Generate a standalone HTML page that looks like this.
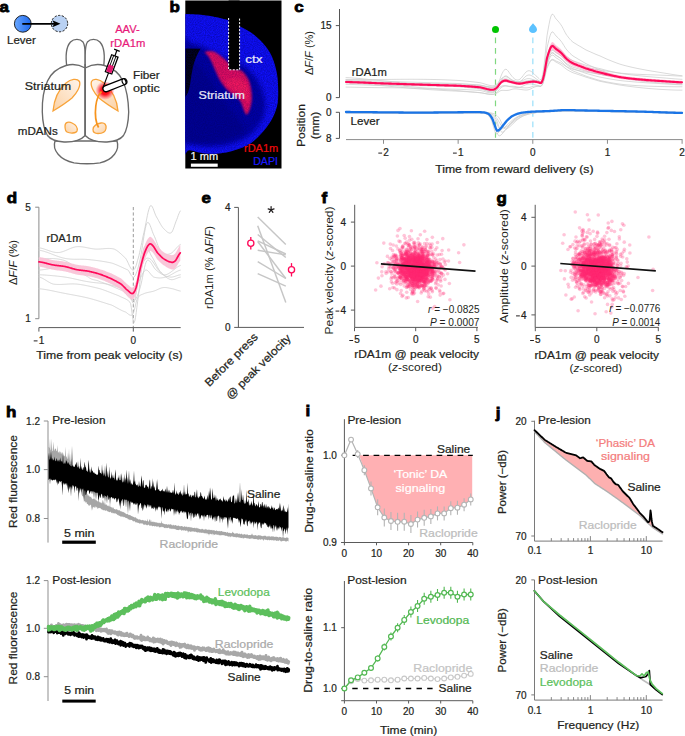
<!DOCTYPE html><html><head><meta charset="utf-8"><style>html,body{margin:0;padding:0;background:#fff;overflow:hidden;width:685px;height:736px;}svg{display:block;}text{font-family:"Liberation Sans", sans-serif;}</style></head><body>
<svg width="685" height="736" viewBox="0 0 685 736">
<defs>
<linearGradient id="lev" x1="0" y1="0" x2="1" y2="0"><stop offset="0" stop-color="#6aa8ff"/><stop offset="1" stop-color="#1d68ee"/></linearGradient>
<linearGradient id="str" x1="0" y1="1" x2="1" y2="0"><stop offset="0" stop-color="#fbd2a6"/><stop offset="1" stop-color="#fff4ea"/></linearGradient>
<linearGradient id="strR" x1="1" y1="1" x2="0" y2="0"><stop offset="0" stop-color="#fbd2a6"/><stop offset="1" stop-color="#fff4ea"/></linearGradient>
<radialGradient id="glow"><stop offset="0" stop-color="#ff0000" stop-opacity="1"/><stop offset="0.45" stop-color="#ff0010" stop-opacity="0.9"/><stop offset="1" stop-color="#ff2040" stop-opacity="0"/></radialGradient>
<filter id="blur1" x="-20%" y="-20%" width="140%" height="140%"><feGaussianBlur stdDeviation="1.2"/></filter>
<filter id="blur2" x="-30%" y="-30%" width="160%" height="160%"><feGaussianBlur stdDeviation="2.5"/></filter>
<filter id="tex" x="0" y="0" width="100%" height="100%"><feTurbulence type="fractalNoise" baseFrequency="0.9" numOctaves="2" seed="3" result="n"/><feColorMatrix in="n" type="matrix" values="0 0 0 0 0  0 0 0 0 0  0 0 0 0 0  0 0 0 -1.6 1.25" result="m"/><feComposite in="SourceGraphic" in2="m" operator="in"/></filter>
<clipPath id="clipb"><rect x="185.3" y="0" width="96.2" height="168.5"/></clipPath>
</defs>
<rect width="685" height="736" fill="#fff"/>
<text x="-0.5" y="12.4" font-size="15.4" fill="#000" textLength="9.42" lengthAdjust="spacingAndGlyphs" font-weight="bold" stroke="#000" stroke-width="0.8">a</text>
<circle cx="59.5" cy="23.6" r="8.2" fill="#b9d1f3" stroke="#111" stroke-width="1" stroke-dasharray="2.2 1.5"/>
<circle cx="22.8" cy="23.8" r="8.4" fill="url(#lev)" stroke="#111" stroke-width="0.9"/>
<line x1="22.3" y1="23.8" x2="55" y2="23.8" stroke="#000" stroke-width="1.7" />
<polygon points="52.3,20.3 60.5,23.8 52.3,27.3 54.2,23.8" fill="#000"/>
<text x="7" y="44.2" font-size="11.2" fill="#231f20" stroke="#231f20" stroke-width="0.22" textLength="28.8" lengthAdjust="spacingAndGlyphs" >Lever</text>
<path d="M55,141 C52,150 60,160 74,162.8 C82,164 92,164 100,162.8 C113,160 120,150 117,141 Z" fill="#fff" stroke="#6a6a6a" stroke-width="1.35"/>
<path d="M67,68 C65.5,58 66,47 70.5,42 C74,38.5 80,38.5 83,42 C85,45 85.2,50 85.2,56 L85.2,68 Z" fill="#fff" stroke="#6a6a6a" stroke-width="1.35"/>
<path d="M103.4,68 C104.9,58 104.4,47 99.9,42 C96.4,38.5 90.4,38.5 87.4,42 C85.4,45 85.2,50 85.2,56 L85.2,68 Z" fill="#fff" stroke="#6a6a6a" stroke-width="1.35"/>
<path d="M85.2,68 C80,65 73,63.5 66,65.5 C58,68 51,73 47.5,81 C43.5,90 42,101 42.3,112 C42.6,122 44,130 47.5,135.5 C50.5,139.5 56,141.5 64,142 C73,142.3 81,140 85.2,135.5 Z" fill="#fff" stroke="#6a6a6a" stroke-width="1.35"/>
<path d="M85.2,68 C90.4,65 97.4,63.5 104.4,65.5 C112.4,68 119.4,73 122.9,81 C126.9,90 128.4,101 128.7,112 C128.4,122 127,130 123.5,135.5 C120.5,139.5 115,141.5 107,142 C98,142.3 89.4,140 85.2,135.5 Z" fill="#fff" stroke="#6a6a6a" stroke-width="1.35"/>
<line x1="85.2" y1="64" x2="85.2" y2="136" stroke="#6a6a6a" stroke-width="1.35" />
<path d="M53,111 C54,100 58,90 66,83 C71,79 77,78 79.5,81.5 C81,86 77,93 72,98 C66,103 58,108 53,111 Z" fill="url(#str)" stroke="#f8a339" stroke-width="1.3"/>
<path d="M118,111 C117,100 112,90 104,83 C99,79 93,78 91.5,81.5 C90,86 94,93 99,98 C105,103 113,108 118,111 Z" fill="url(#strR)" stroke="#f8a339" stroke-width="1.3"/>
<path d="M65,126 C65,122 69,121.5 72,123 C76,125 78,128 77,131 C76,133.5 70,133.5 67,132 C65,131 65,128.5 65,126 Z" fill="url(#str)" stroke="#f8a339" stroke-width="1.3"/>
<path d="M93,129.5 C93,126 97,123.5 101,123 C105,122.5 106.5,125 106,128.5 C105.5,132 102,133.5 98,133.5 C94.5,133.5 93,132 93,129.5 Z" fill="url(#strR)" stroke="#f8a339" stroke-width="1.3"/>
<circle cx="105" cy="90.5" r="9.5" fill="url(#glow)"/>
<path d="M98.6,127.5 C95.5,122 95,113 95.8,106 C96.6,99 98.6,94.5 101.5,91.5" fill="none" stroke="#f7941d" stroke-width="1.7"/>
<g transform="translate(103.5,86.4) rotate(20.4)"><line x1="0" y1="0" x2="0" y2="-14.5" stroke="#000" stroke-width="1.1"/><rect x="-3.4" y="-32.5" width="6.8" height="18" fill="#fff" stroke="#000" stroke-width="1.3"/><rect x="-2.75" y="-22.5" width="5.5" height="7.35" fill="#e5176f"/><line x1="0" y1="-22.5" x2="0" y2="-22.5" stroke="#000" stroke-width="1"/><line x1="-1.2" y1="-32.5" x2="-1.2" y2="-22.5" stroke="#000" stroke-width="0.9"/><line x1="1.2" y1="-32.5" x2="1.2" y2="-22.5" stroke="#000" stroke-width="0.9"/><line x1="0" y1="-32.5" x2="0" y2="-38.6" stroke="#000" stroke-width="1.2"/><line x1="-3" y1="-38.6" x2="3" y2="-38.6" stroke="#000" stroke-width="1.3"/></g>
<g transform="translate(105.8,88.8) rotate(-21.5)"><rect x="-2.9" y="-3" width="25.3" height="6" rx="3" fill="#fff" stroke="#000" stroke-width="1.3"/><ellipse cx="19.6" cy="0" rx="1.8" ry="3" fill="#fff" stroke="#000" stroke-width="1.2"/></g>
<text x="115.2" y="32.8" font-size="11.2" fill="#e8197a" stroke="#e8197a" stroke-width="0.22" textLength="24.5" lengthAdjust="spacingAndGlyphs" >AAV-</text>
<text x="110.3" y="46.5" font-size="11.2" fill="#e8197a" stroke="#e8197a" stroke-width="0.22" textLength="35" lengthAdjust="spacingAndGlyphs" >rDA1m</text>
<text x="133" y="78.6" font-size="11.2" fill="#231f20" stroke="#231f20" stroke-width="0.22" textLength="26.8" lengthAdjust="spacingAndGlyphs" >Fiber</text>
<text x="133" y="92.3" font-size="11.2" fill="#231f20" stroke="#231f20" stroke-width="0.22" textLength="26.8" lengthAdjust="spacingAndGlyphs" >optic</text>
<text x="24.8" y="90.4" font-size="11.2" fill="#231f20" stroke="#231f20" stroke-width="0.22" textLength="46.4" lengthAdjust="spacingAndGlyphs" >Striatum</text>
<text x="17.8" y="134.6" font-size="11.2" fill="#231f20" stroke="#231f20" stroke-width="0.22" textLength="40" lengthAdjust="spacingAndGlyphs" >mDANs</text>
<text x="169.5" y="12.4" font-size="15.4" fill="#000" textLength="10.35" lengthAdjust="spacingAndGlyphs" font-weight="bold" stroke="#000" stroke-width="0.8">b</text>
<rect x="185.3" y="0.5" width="96.2" height="168" fill="#000"/>
<g clip-path="url(#clipb)">
<path d="M180,13.9 C180.77,-8.62 180.77,13.72 184.6,13.9 C188.43,14.08 196.07,14.05 203,15 C209.93,15.95 220.03,17.67 226.2,19.6 C232.37,21.53 235.37,24.08 240,26.6 C244.63,29.12 249.75,31.43 254,34.7 C258.25,37.97 262.43,42.35 265.5,46.2 C268.57,50.05 270.48,53.17 272.4,57.8 C274.32,62.43 276.03,68.23 277,74 C277.97,79.77 278.2,87.02 278.2,92.4 C278.2,97.78 278.15,101.67 277,106.3 C275.85,110.93 273.98,115.58 271.3,120.2 C268.62,124.82 264.95,129.77 260.9,134 C256.85,138.23 252.78,142.52 247,145.6 C241.22,148.68 232.75,151.15 226.2,152.5 C219.65,153.85 213.87,154.08 207.7,153.7 C201.53,153.32 193.82,150.98 189.2,150.2 C184.58,149.42 181.53,171.72 180,149 C178.47,126.28 179.23,36.42 180,13.9 Z" fill="#1010ff"/>
<path d="M180,44 C182,27.58 188.5,43.17 192,43.5 C195.5,43.83 198.17,44.92 201,46 C203.83,47.08 206,48.42 209,50 C212,51.58 215.67,53.83 219,55.5 C222.33,57.17 225.5,58.58 229,60 C232.5,61.42 236.33,62 240,64 C243.67,66 247.67,68.5 251,72 C254.33,75.5 257.67,80.33 260,85 C262.33,89.67 264.33,95 265,100 C265.67,105 265.33,110.33 264,115 C262.67,119.67 260.17,124.17 257,128 C253.83,131.83 249.83,135.25 245,138 C240.17,140.75 233.83,143.08 228,144.5 C222.17,145.92 215.5,146.42 210,146.5 C204.5,146.58 199.12,145.58 195,145 C190.88,144.42 187.8,143.5 185.3,143 C182.8,142.5 180.88,158.5 180,142 C179.12,125.5 178,60.42 180,44 Z" fill="#0606a8" filter="url(#blur2)"/>
<path d="M185.3,58 C196,60 206,72 216,90 C226,108 240,118 245,130 C236,142 205,145 185.3,141 Z" fill="#040490" opacity="0.8" filter="url(#blur2)"/>
<path d="M185.3,48.5 L200.5,48.8 C198.5,52 196,57 194,63 C192,70 191,78 190,85 C189,90.5 187.5,94.5 185.3,97 Z" fill="#000008"/>
<path d="M180,13.9 C180.77,-8.62 180.77,13.72 184.6,13.9 C188.43,14.08 196.07,14.05 203,15 C209.93,15.95 220.03,17.67 226.2,19.6 C232.37,21.53 235.37,24.08 240,26.6 C244.63,29.12 249.75,31.43 254,34.7 C258.25,37.97 262.43,42.35 265.5,46.2 C268.57,50.05 270.48,53.17 272.4,57.8 C274.32,62.43 276.03,68.23 277,74 C277.97,79.77 278.2,87.02 278.2,92.4 C278.2,97.78 278.15,101.67 277,106.3 C275.85,110.93 273.98,115.58 271.3,120.2 C268.62,124.82 264.95,129.77 260.9,134 C256.85,138.23 252.78,142.52 247,145.6 C241.22,148.68 232.75,151.15 226.2,152.5 C219.65,153.85 213.87,154.08 207.7,153.7 C201.53,153.32 193.82,150.98 189.2,150.2 C184.58,149.42 181.53,171.72 180,149 C178.47,126.28 179.23,36.42 180,13.9 Z" fill="#000060" opacity="0.45" filter="url(#tex)"/>
<path d="M205,52 C205.92,51.42 210.62,51 213,51.5 C215.38,52 217.23,53.58 219.3,55 C221.37,56.42 223.62,58.33 225.4,60 C227.18,61.67 228.23,63.5 230,65 C231.77,66.5 233.92,67.92 236,69 C238.08,70.08 240.4,69.67 242.5,71.5 C244.6,73.33 247.15,76.92 248.6,80 C250.05,83.08 250.68,86.67 251.2,90 C251.72,93.33 251.98,96.67 251.7,100 C251.42,103.33 250.37,107.58 249.5,110 C248.63,112.42 247.43,114.5 246.5,114.5 C245.57,114.5 245.07,112.42 243.9,110 C242.73,107.58 242.15,103.25 239.5,100 C236.85,96.75 231.17,93.67 228,90.5 C224.83,87.33 222.57,84.25 220.5,81 C218.43,77.75 217.18,74.42 215.6,71 C214.02,67.58 212.35,63.17 211,60.5 C209.65,57.83 208.5,56.42 207.5,55 C206.5,53.58 204.08,52.58 205,52 Z" fill="#ee1060" opacity="0.95" filter="url(#blur1)"/>
<path d="M225,80 C232,78 240,76 245,82 C249,88 250,96 248,104 C244,98 238,93 232,90 C228,87 225,84 225,80 Z" fill="#ff1a60" opacity="0.7" filter="url(#blur1)"/>
<path d="M205,52 C205.92,51.42 210.62,51 213,51.5 C215.38,52 217.23,53.58 219.3,55 C221.37,56.42 223.62,58.33 225.4,60 C227.18,61.67 228.23,63.5 230,65 C231.77,66.5 233.92,67.92 236,69 C238.08,70.08 240.4,69.67 242.5,71.5 C244.6,73.33 247.15,76.92 248.6,80 C250.05,83.08 250.68,86.67 251.2,90 C251.72,93.33 251.98,96.67 251.7,100 C251.42,103.33 250.37,107.58 249.5,110 C248.63,112.42 247.43,114.5 246.5,114.5 C245.57,114.5 245.07,112.42 243.9,110 C242.73,107.58 242.15,103.25 239.5,100 C236.85,96.75 231.17,93.67 228,90.5 C224.83,87.33 222.57,84.25 220.5,81 C218.43,77.75 217.18,74.42 215.6,71 C214.02,67.58 212.35,63.17 211,60.5 C209.65,57.83 208.5,56.42 207.5,55 C206.5,53.58 204.08,52.58 205,52 Z" fill="#300040" opacity="0.3" filter="url(#tex)"/>
</g>
<rect x="228.6" y="0.5" width="11" height="69.3" fill="#000"/>
<path d="M228.6,18 V69.8 H239.6 V18" fill="none" stroke="#fff" stroke-width="1" stroke-dasharray="2 1.5"/>
<text x="245.3" y="62.6" font-size="11.2" fill="#e8e8f8" stroke="#e8e8f8" stroke-width="0.22" textLength="17.3" lengthAdjust="spacingAndGlyphs" >ctx</text>
<text x="198.6" y="99.2" font-size="11.2" fill="#e8e8f8" stroke="#e8e8f8" stroke-width="0.22" textLength="46.4" lengthAdjust="spacingAndGlyphs" >Striatum</text>
<text x="244" y="151.5" font-size="11.2" fill="#ee0a0a" stroke="#ee0a0a" stroke-width="0.22" textLength="34.2" lengthAdjust="spacingAndGlyphs" >rDA1m</text>
<text x="253.2" y="164.7" font-size="11.2" fill="#1a1aff" stroke="#1a1aff" stroke-width="0.22" textLength="24.8" lengthAdjust="spacingAndGlyphs" >DAPI</text>
<text x="190.6" y="159.6" font-size="11.2" fill="#f4f4f4" stroke="#f4f4f4" stroke-width="0.22" textLength="27.6" lengthAdjust="spacingAndGlyphs" >1 mm</text>
<rect x="190.9" y="163.6" width="26.8" height="3.2" fill="#fff"/>
<text x="294.3" y="12.4" font-size="15.4" fill="#000" textLength="9.42" lengthAdjust="spacingAndGlyphs" font-weight="bold" stroke="#000" stroke-width="0.8">c</text>
<line x1="339.5" y1="9" x2="339.5" y2="97.6" stroke="#555555" stroke-width="1" />
<line x1="335.8" y1="25.6" x2="339.5" y2="25.6" stroke="#555555" stroke-width="1" />
<line x1="335.8" y1="97.6" x2="339.5" y2="97.6" stroke="#555555" stroke-width="1" />
<line x1="339.5" y1="112.3" x2="339.5" y2="138.4" stroke="#555555" stroke-width="1" />
<line x1="335.8" y1="112.3" x2="339.5" y2="112.3" stroke="#555555" stroke-width="1" />
<line x1="335.8" y1="138.4" x2="339.5" y2="138.4" stroke="#555555" stroke-width="1" />
<text x="331.6" y="29.2" font-size="10" fill="#231f20" stroke="#231f20" stroke-width="0.22" text-anchor="end" >15</text>
<text x="331.6" y="101.3" font-size="10" fill="#231f20" stroke="#231f20" stroke-width="0.22" text-anchor="end" >0</text>
<text x="331.6" y="116" font-size="10" fill="#231f20" stroke="#231f20" stroke-width="0.22" text-anchor="end" >0</text>
<text x="331.6" y="142.1" font-size="10" fill="#231f20" stroke="#231f20" stroke-width="0.22" text-anchor="end" >8</text>
<text x="312.6" y="53" font-size="11.2" fill="#231f20" text-anchor="middle" transform="rotate(-90 312.6 53)" textLength="44" lengthAdjust="spacingAndGlyphs">Δ<tspan font-style="italic">F</tspan>/<tspan font-style="italic">F</tspan> (%)</text>
<text x="304.5" y="125.5" font-size="11.2" fill="#231f20" stroke="#231f20" stroke-width="0.22" text-anchor="middle" textLength="43" lengthAdjust="spacingAndGlyphs" transform="rotate(-90 304.5 125.5)" >Position</text>
<text x="318.5" y="125.5" font-size="11.2" fill="#231f20" stroke="#231f20" stroke-width="0.22" text-anchor="middle" textLength="27.5" lengthAdjust="spacingAndGlyphs" transform="rotate(-90 318.5 125.5)" >(mm)</text>
<line x1="346" y1="139.6" x2="682.5" y2="139.6" stroke="#8c8c8c" stroke-width="1" />
<line x1="383.5" y1="139.6" x2="383.5" y2="143.8" stroke="#8c8c8c" stroke-width="1" />
<line x1="378.32" y1="153.1" x2="382.12" y2="153.1" stroke="#231f20" stroke-width="1" />
<text x="383.32" y="155.8" font-size="10" fill="#231f20" stroke="#231f20" stroke-width="0.22" >2</text>
<line x1="458.15" y1="139.6" x2="458.15" y2="143.8" stroke="#8c8c8c" stroke-width="1" />
<line x1="452.97" y1="153.1" x2="456.77" y2="153.1" stroke="#231f20" stroke-width="1" />
<text x="457.97" y="155.8" font-size="10" fill="#231f20" stroke="#231f20" stroke-width="0.22" >1</text>
<line x1="532.8" y1="139.6" x2="532.8" y2="143.8" stroke="#8c8c8c" stroke-width="1" />
<text x="532.8" y="155.8" font-size="10" fill="#231f20" stroke="#231f20" stroke-width="0.22" text-anchor="middle" >0</text>
<line x1="607.45" y1="139.6" x2="607.45" y2="143.8" stroke="#8c8c8c" stroke-width="1" />
<text x="607.45" y="155.8" font-size="10" fill="#231f20" stroke="#231f20" stroke-width="0.22" text-anchor="middle" >1</text>
<line x1="682.1" y1="139.6" x2="682.1" y2="143.8" stroke="#8c8c8c" stroke-width="1" />
<text x="682.1" y="155.8" font-size="10" fill="#231f20" stroke="#231f20" stroke-width="0.22" text-anchor="middle" >2</text>
<text x="435.2" y="172.7" font-size="11.2" fill="#231f20" stroke="#231f20" stroke-width="0.22" textLength="158.3" lengthAdjust="spacingAndGlyphs" >Time from reward delivery (s)</text>
<line x1="495.5" y1="37.5" x2="495.5" y2="139" stroke="#80d880" stroke-width="1.2" stroke-dasharray="5.7 4.8"/>
<line x1="532.8" y1="37.5" x2="532.8" y2="139" stroke="#aee6fb" stroke-width="1.5" stroke-dasharray="5.7 4.8"/>
<circle cx="495.5" cy="29.5" r="3.5" fill="#00c400"/>
<path d="M533,23.2 C534.5,25.5 537,27 537,29.5 C537,31.8 535.2,33 533,33 C530.8,33 529,31.8 529,29.5 C529,27 531.5,25.5 533,23.2 Z" fill="#5cc2ff"/>
<polyline points="346,77.63 347,77.67 348,77.71 349,77.76 350,77.82 351,77.87 352,77.94 353,78 354,78.07 355,78.15 356,78.22 357,78.3 358,78.38 359,78.47 360,78.56 361,78.65 362,78.74 363,78.83 364,78.93 365,79.03 366,79.13 367,79.23 368,79.33 369,79.43 370,79.53 371,79.63 372,79.74 373,79.84 374,79.94 375,80.05 376,80.15 377,80.25 378,80.35 379,80.45 380,80.55 381,80.64 382,80.72 383,80.81 384,80.9 385,80.99 386,81.08 387,81.17 388,81.26 389,81.35 390,81.44 391,81.54 392,81.63 393,81.72 394,81.81 395,81.9 396,81.99 397,82.08 398,82.18 399,82.27 400,82.36 401,82.45 402,82.54 403,82.63 404,82.72 405,82.81 406,82.9 407,82.99 408,83.08 409,83.17 410,83.25 411,83.34 412,83.43 413,83.51 414,83.6 415,83.68 416,83.76 417,83.85 418,83.93 419,84.01 420,84.09 421,84.17 422,84.25 423,84.32 424,84.4 425,84.47 426,84.54 427,84.61 428,84.68 429,84.75 430,84.82 431,84.88 432,84.95 433,85.01 434,85.07 435,85.13 436,85.19 437,85.25 438,85.31 439,85.36 440,85.42 441,85.47 442,85.53 443,85.58 444,85.63 445,85.68 446,85.72 447,85.77 448,85.82 449,85.86 450,85.91 451,85.95 452,85.99 453,86.03 454,86.07 455,86.11 456,86.15 457,86.19 458,86.22 459,86.26 460,86.29 461,86.39 462,86.49 463,86.59 464,86.68 465,86.77 466,86.86 467,86.95 468,87.04 469,87.13 470,87.23 471,87.32 472,87.41 473,87.51 474,87.61 475,87.71 476,87.82 477,87.93 478,88.05 479,88.17 480,88.29 481,88.58 482,88.93 483,89.32 484,89.74 485,90.17 486,90.59 487,91 488,91.37 489,91.7 490,91.95 491,92.12 492,92.19 493,92.13 494,91.59 495,90.57 496,89.19 497,87.52 498,85.09 499,82.05 500,78.86 501,76.02 502,73.69 503,71.73 504,70.25 505,69.38 506,69.24 507,69.77 508,70.83 509,72.24 510,73.77 511,75.06 512,76.33 513,77.49 514,78.46 515,79.21 516,79.73 517,79.99 518,79.99 519,79.71 520,79.12 521,78.22 522,77.07 523,75.76 524,74.4 525,73.11 526,72.03 527,71.28 528,70.83 529,70.69 530,70.88 531,71.34 532,72.02 533,72.86 534,73.78 535,74.82 536,75.87 537,76.82 538,77.56 539,78.54 540,79.55 541,79.64 542,77.56 543,72.95 544,65.76 545,56.68 546,45.69 547,35.75 548,30.01 549,24.48 550,19.66 551,16.08 552,14.25 553,14.31 554,15.6 555,17.39 556,18.92 557,19.93 558,21.03 559,22.21 560,23.49 561,24.87 562,26.48 563,28.34 564,30.3 565,32.25 566,34.06 567,35.52 568,36.84 569,38.08 570,39.25 571,40.32 572,41.3 573,42.13 574,42.8 575,43.4 576,43.97 577,44.6 578,45.26 579,45.8 580,46.36 581,46.95 582,47.56 583,48.17 584,48.77 585,49.37 586,49.95 587,50.4 588,50.85 589,51.29 590,51.73 591,52.17 592,52.61 593,53.05 594,53.49 595,53.94 596,54.4 597,54.77 598,55.16 599,55.54 600,55.94 601,56.4 602,56.87 603,57.34 604,57.8 605,58.26 606,58.71 607,59.15 608,59.58 609,59.99 610,60.39 611,60.79 612,61.19 613,61.59 614,61.98 615,62.36 616,62.74 617,63.11 618,63.47 619,63.81 620,64.15 621,64.47 622,64.76 623,65.04 624,65.32 625,65.58 626,65.84 627,66.09 628,66.33 629,66.57 630,66.81 631,67.04 632,67.27 633,67.49 634,67.72 635,67.94 636,68.15 637,68.36 638,68.56 639,68.76 640,68.95 641,69.14 642,69.33 643,69.52 644,69.7 645,69.89 646,70.09 647,70.29 648,70.45 649,70.62 650,70.78 651,70.94 652,71.11 653,71.27 654,71.44 655,71.6 656,71.77 657,71.93 658,72.1 659,72.26 660,72.42 661,72.58 662,72.74 663,72.9 664,73.06 665,73.21 666,73.38 667,73.54 668,73.7 669,73.87 670,74.04 671,74.2 672,74.37 673,74.53 674,74.69 675,74.84 676,74.99 677,75.13 678,75.27 679,75.4 680,75.52 681,75.63 682,75.73" fill="none" stroke="#cdcdcd" stroke-width="0.75" stroke-linejoin="round" stroke-linecap="round" />
<polyline points="346,81.51 347,81.54 348,81.57 349,81.61 350,81.65 351,81.7 352,81.75 353,81.8 354,81.86 355,81.92 356,81.98 357,82.05 358,82.12 359,82.19 360,82.26 361,82.34 362,82.42 363,82.5 364,82.58 365,82.67 366,82.76 367,82.84 368,82.93 369,83.02 370,83.12 371,83.21 372,83.3 373,83.4 374,83.49 375,83.59 376,83.68 377,83.78 378,83.87 379,83.97 380,84.06 381,84.14 382,84.23 383,84.32 384,84.41 385,84.49 386,84.58 387,84.67 388,84.76 389,84.85 390,84.94 391,85.04 392,85.13 393,85.22 394,85.31 395,85.4 396,85.49 397,85.59 398,85.68 399,85.77 400,85.86 401,85.95 402,86.04 403,86.13 404,86.22 405,86.31 406,86.4 407,86.49 408,86.58 409,86.67 410,86.75 411,86.84 412,86.92 413,87.01 414,87.09 415,87.17 416,87.25 417,87.33 418,87.41 419,87.49 420,87.56 421,87.64 422,87.71 423,87.78 424,87.85 425,87.92 426,87.99 427,88.05 428,88.12 429,88.18 430,88.24 431,88.3 432,88.35 433,88.41 434,88.46 435,88.51 436,88.56 437,88.61 438,88.66 439,88.7 440,88.74 441,88.79 442,88.83 443,88.86 444,88.9 445,88.94 446,88.97 447,89 448,89.03 449,89.06 450,89.09 451,89.11 452,89.14 453,89.16 454,89.18 455,89.2 456,89.22 457,89.24 458,89.26 459,89.27 460,89.29 461,89.35 462,89.41 463,89.46 464,89.52 465,89.57 466,89.62 467,89.68 468,89.73 469,89.78 470,89.83 471,89.88 472,89.93 473,89.99 474,90.04 475,90.1 476,90.16 477,90.23 478,90.29 479,90.37 480,90.44 481,90.62 482,90.84 483,91.1 484,91.38 485,91.67 486,91.96 487,92.23 488,92.47 489,92.68 490,92.84 491,92.93 492,92.94 493,92.85 494,92.38 495,91.57 496,90.48 497,89.2 498,87.36 499,85.08 500,82.72 501,80.67 502,79.02 503,77.64 504,76.62 505,76.01 506,75.89 507,76.21 508,76.88 509,77.75 510,78.69 511,79.45 512,80.21 513,80.9 514,81.49 515,81.95 516,82.25 517,82.38 518,82.33 519,82.08 520,81.6 521,80.88 522,79.98 523,78.96 524,77.91 525,76.91 526,76.07 527,75.47 528,75.1 529,74.97 530,75.09 531,75.41 532,75.9 533,76.51 534,77.18 535,77.95 536,78.74 537,79.45 538,80 539,80.74 540,81.51 541,81.57 542,79.97 543,76.42 544,70.89 545,63.9 546,55.52 547,47.96 548,43.63 549,39.47 550,35.86 551,33.21 552,31.9 553,32.06 554,33.17 555,34.66 556,35.96 557,36.85 558,37.81 559,38.84 560,39.95 561,41.14 562,42.49 563,44.05 564,45.69 565,47.32 566,48.83 567,50.08 568,51.22 569,52.31 570,53.34 571,54.29 572,55.17 573,55.94 574,56.59 575,57.18 576,57.75 577,58.36 578,59 579,59.55 580,60.11 581,60.7 582,61.29 583,61.89 584,62.49 585,63.08 586,63.66 587,64.14 588,64.62 589,65.09 590,65.55 591,66.02 592,66.49 593,66.96 594,67.43 595,67.9 596,68.38 597,68.8 598,69.22 599,69.64 600,70.07 601,70.47 602,70.87 603,71.26 604,71.66 605,72.05 606,72.43 607,72.8 608,73.17 609,73.52 610,73.86 611,74.2 612,74.54 613,74.87 614,75.2 615,75.52 616,75.83 617,76.14 618,76.44 619,76.72 620,77 621,77.26 622,77.5 623,77.74 624,77.96 625,78.18 626,78.39 627,78.59 628,78.78 629,78.97 630,79.15 631,79.33 632,79.51 633,79.68 634,79.85 635,80.02 636,80.18 637,80.33 638,80.48 639,80.62 640,80.76 641,80.89 642,81.02 643,81.15 644,81.27 645,81.4 646,81.53 647,81.66 648,81.76 649,81.86 650,81.96 651,82.06 652,82.16 653,82.25 654,82.35 655,82.44 656,82.53 657,82.62 658,82.71 659,82.8 660,82.88 661,82.97 662,83.05 663,83.13 664,83.2 665,83.28 666,83.35 667,83.43 668,83.51 669,83.59 670,83.67 671,83.74 672,83.82 673,83.89 674,83.96 675,84.02 676,84.08 677,84.14 678,84.19 679,84.23 680,84.27 681,84.29 682,84.31" fill="none" stroke="#cdcdcd" stroke-width="0.75" stroke-linejoin="round" stroke-linecap="round" />
<polyline points="346,79.92 347,79.94 348,79.96 349,79.98 350,80.01 351,80.03 352,80.06 353,80.09 354,80.12 355,80.15 356,80.19 357,80.22 358,80.26 359,80.3 360,80.33 361,80.37 362,80.41 363,80.45 364,80.5 365,80.54 366,80.58 367,80.62 368,80.66 369,80.71 370,80.75 371,80.79 372,80.83 373,80.88 374,80.92 375,80.96 376,81 377,81.04 378,81.08 379,81.12 380,81.15 381,81.18 382,81.22 383,81.25 384,81.28 385,81.31 386,81.34 387,81.37 388,81.4 389,81.43 390,81.46 391,81.5 392,81.53 393,81.56 394,81.59 395,81.62 396,81.65 397,81.68 398,81.71 399,81.75 400,81.78 401,81.81 402,81.84 403,81.87 404,81.9 405,81.93 406,81.96 407,82 408,82.03 409,82.06 410,82.09 411,82.12 412,82.15 413,82.18 414,82.21 415,82.24 416,82.27 417,82.3 418,82.33 419,82.36 420,82.39 421,82.42 422,82.45 423,82.48 424,82.51 425,82.54 426,82.57 427,82.6 428,82.63 429,82.66 430,82.69 431,82.72 432,82.74 433,82.77 434,82.8 435,82.83 436,82.86 437,82.89 438,82.91 439,82.94 440,82.97 441,83 442,83.03 443,83.06 444,83.09 445,83.12 446,83.15 447,83.18 448,83.21 449,83.24 450,83.27 451,83.3 452,83.33 453,83.36 454,83.39 455,83.42 456,83.46 457,83.49 458,83.52 459,83.56 460,83.59 461,83.66 462,83.73 463,83.79 464,83.86 465,83.93 466,84 467,84.06 468,84.13 469,84.2 470,84.27 471,84.35 472,84.42 473,84.5 474,84.58 475,84.66 476,84.74 477,84.83 478,84.92 479,85.02 480,85.12 481,85.31 482,85.54 483,85.8 484,86.07 485,86.35 486,86.63 487,86.9 488,87.15 489,87.37 490,87.56 491,87.7 492,87.78 493,87.78 494,87.51 495,87.01 496,86.34 497,85.57 498,84.45 499,83.07 500,81.71 501,80.63 502,79.87 503,79.32 504,78.95 505,78.78 506,78.83 507,79.04 508,79.35 509,79.71 510,80.05 511,80.25 512,80.48 513,80.73 514,80.99 515,81.25 516,81.49 517,81.69 518,81.85 519,81.95 520,81.98 521,81.92 522,81.79 523,81.61 524,81.41 525,81.2 526,81.01 527,80.86 528,80.72 529,80.57 530,80.43 531,80.3 532,80.21 533,80.15 534,80.14 535,80.24 536,80.42 537,80.62 538,80.78 539,81.15 540,81.6 541,81.57 542,80.36 543,77.73 544,73.63 545,68.47 546,62.21 547,56.55 548,53.3 549,50.16 550,47.44 551,45.41 552,44.39 553,44.45 554,45.21 555,46.25 556,47.15 557,47.75 558,48.4 559,49.09 560,49.84 561,50.65 562,51.59 563,52.67 564,53.81 565,54.94 566,55.99 567,56.84 568,57.6 569,58.33 570,59.01 571,59.64 572,60.21 573,60.69 574,61.09 575,61.44 576,61.77 577,62.14 578,62.53 579,62.84 580,63.17 581,63.51 582,63.86 583,64.21 584,64.57 585,64.91 586,65.24 587,65.5 588,65.76 589,66.01 590,66.26 591,66.51 592,66.76 593,67.01 594,67.26 595,67.51 596,67.77 597,67.98 598,68.19 599,68.41 600,68.62 601,68.89 602,69.16 603,69.43 604,69.69 605,69.96 606,70.21 607,70.46 608,70.71 609,70.94 610,71.17 611,71.4 612,71.62 613,71.84 614,72.06 615,72.28 616,72.49 617,72.69 618,72.89 619,73.08 620,73.27 621,73.44 622,73.6 623,73.76 624,73.91 625,74.05 626,74.19 627,74.32 628,74.45 629,74.58 630,74.71 631,74.83 632,74.95 633,75.07 634,75.19 635,75.3 636,75.41 637,75.52 638,75.63 639,75.73 640,75.83 641,75.93 642,76.02 643,76.12 644,76.22 645,76.31 646,76.41 647,76.52 648,76.6 649,76.68 650,76.77 651,76.85 652,76.93 653,77.01 654,77.1 655,77.18 656,77.27 657,77.35 658,77.44 659,77.52 660,77.6 661,77.68 662,77.77 663,77.85 664,77.93 665,78.01 666,78.09 667,78.18 668,78.26 669,78.35 670,78.43 671,78.52 672,78.61 673,78.69 674,78.77 675,78.86 676,78.93 677,79.01 678,79.08 679,79.15 680,79.21 681,79.27 682,79.32" fill="none" stroke="#cdcdcd" stroke-width="0.75" stroke-linejoin="round" stroke-linecap="round" />
<polyline points="346,84.27 347,84.3 348,84.33 349,84.37 350,84.4 351,84.44 352,84.47 353,84.51 354,84.55 355,84.59 356,84.63 357,84.67 358,84.71 359,84.75 360,84.79 361,84.83 362,84.87 363,84.91 364,84.95 365,84.99 366,85.03 367,85.07 368,85.11 369,85.15 370,85.18 371,85.22 372,85.25 373,85.28 374,85.32 375,85.35 376,85.37 377,85.4 378,85.43 379,85.45 380,85.47 381,85.49 382,85.5 383,85.51 384,85.53 385,85.54 386,85.55 387,85.56 388,85.57 389,85.58 390,85.59 391,85.6 392,85.61 393,85.61 394,85.62 395,85.62 396,85.63 397,85.64 398,85.64 399,85.64 400,85.65 401,85.65 402,85.66 403,85.66 404,85.66 405,85.66 406,85.67 407,85.67 408,85.67 409,85.68 410,85.68 411,85.68 412,85.68 413,85.69 414,85.69 415,85.69 416,85.7 417,85.7 418,85.71 419,85.71 420,85.72 421,85.73 422,85.73 423,85.74 424,85.75 425,85.76 426,85.77 427,85.77 428,85.79 429,85.8 430,85.81 431,85.82 432,85.84 433,85.85 434,85.87 435,85.89 436,85.91 437,85.93 438,85.95 439,85.97 440,86 441,86.02 442,86.05 443,86.08 444,86.11 445,86.14 446,86.17 447,86.21 448,86.25 449,86.28 450,86.32 451,86.37 452,86.41 453,86.46 454,86.5 455,86.55 456,86.6 457,86.66 458,86.71 459,86.77 460,86.82 461,86.91 462,87 463,87.1 464,87.19 465,87.28 466,87.38 467,87.48 468,87.58 469,87.68 470,87.78 471,87.89 472,88 473,88.11 474,88.23 475,88.35 476,88.47 477,88.6 478,88.73 479,88.86 480,89 481,89.21 482,89.44 483,89.7 484,89.98 485,90.26 486,90.54 487,90.82 488,91.08 489,91.31 490,91.51 491,91.67 492,91.78 493,91.81 494,91.6 495,91.2 496,90.66 497,90.06 498,89.18 499,88.11 500,87.09 501,86.38 502,86 503,85.78 504,85.7 505,85.71 506,85.83 507,85.99 508,86.14 509,86.25 510,86.31 511,86.22 512,86.19 513,86.23 514,86.32 515,86.47 516,86.65 517,86.86 518,87.07 519,87.28 520,87.46 521,87.6 522,87.7 523,87.78 524,87.83 525,87.86 526,87.86 527,87.84 528,87.74 529,87.56 530,87.31 531,87 532,86.68 533,86.37 534,86.11 535,85.97 536,85.92 537,85.93 538,85.93 539,86.16 540,86.49 541,86.4 542,85.23 543,82.77 544,78.97 545,74.19 546,68.5 547,63.37 548,60.44 549,57.62 550,55.18 551,53.39 552,52.51 553,52.63 554,53.39 555,54.41 556,55.3 557,55.91 558,56.56 559,57.26 560,58 561,58.8 562,59.72 563,60.76 564,61.86 565,62.95 566,63.97 567,64.8 568,65.55 569,66.27 570,66.94 571,67.56 572,68.13 573,68.62 574,69.03 575,69.39 576,69.75 577,70.13 578,70.53 579,70.86 580,71.2 581,71.56 582,71.92 583,72.29 584,72.65 585,73.01 586,73.36 587,73.64 588,73.92 589,74.19 590,74.46 591,74.74 592,75.01 593,75.28 594,75.55 595,75.83 596,76.11 597,76.35 598,76.59 599,76.83 600,77.08 601,77.28 602,77.48 603,77.67 604,77.87 605,78.06 606,78.25 607,78.44 608,78.62 609,78.79 610,78.96 611,79.12 612,79.29 613,79.45 614,79.61 615,79.77 616,79.93 617,80.08 618,80.22 619,80.37 620,80.5 621,80.63 622,80.74 623,80.85 624,80.96 625,81.06 626,81.15 627,81.25 628,81.34 629,81.43 630,81.52 631,81.6 632,81.69 633,81.77 634,81.86 635,81.94 636,82.02 637,82.1 638,82.17 639,82.24 640,82.31 641,82.38 642,82.45 643,82.52 644,82.59 645,82.66 646,82.74 647,82.81 648,82.88 649,82.93 650,82.99 651,83.05 652,83.11 653,83.17 654,83.24 655,83.3 656,83.36 657,83.42 658,83.48 659,83.54 660,83.6 661,83.66 662,83.72 663,83.78 664,83.84 665,83.9 666,83.96 667,84.02 668,84.08 669,84.15 670,84.21 671,84.27 672,84.33 673,84.39 674,84.45 675,84.51 676,84.56 677,84.61 678,84.66 679,84.7 680,84.74 681,84.77 682,84.8" fill="none" stroke="#cdcdcd" stroke-width="0.75" stroke-linejoin="round" stroke-linecap="round" />
<polyline points="346,82.73 347,82.78 348,82.83 349,82.89 350,82.95 351,83.01 352,83.07 353,83.14 354,83.21 355,83.28 356,83.35 357,83.42 358,83.5 359,83.58 360,83.66 361,83.74 362,83.83 363,83.91 364,84 365,84.08 366,84.17 367,84.26 368,84.35 369,84.45 370,84.54 371,84.63 372,84.72 373,84.82 374,84.91 375,85 376,85.1 377,85.19 378,85.28 379,85.38 380,85.47 381,85.56 382,85.65 383,85.73 384,85.82 385,85.91 386,86 387,86.09 388,86.18 389,86.27 390,86.36 391,86.45 392,86.54 393,86.63 394,86.72 395,86.81 396,86.9 397,86.99 398,87.08 399,87.17 400,87.26 401,87.35 402,87.43 403,87.52 404,87.61 405,87.7 406,87.78 407,87.87 408,87.96 409,88.04 410,88.13 411,88.21 412,88.3 413,88.38 414,88.46 415,88.54 416,88.62 417,88.71 418,88.78 419,88.86 420,88.94 421,89.02 422,89.09 423,89.17 424,89.24 425,89.32 426,89.39 427,89.46 428,89.53 429,89.6 430,89.67 431,89.73 432,89.8 433,89.87 434,89.93 435,89.99 436,90.06 437,90.12 438,90.18 439,90.24 440,90.29 441,90.35 442,90.41 443,90.46 444,90.52 445,90.57 446,90.62 447,90.68 448,90.73 449,90.78 450,90.83 451,90.88 452,90.92 453,90.97 454,91.02 455,91.06 456,91.11 457,91.15 458,91.2 459,91.24 460,91.28 461,91.35 462,91.42 463,91.48 464,91.54 465,91.61 466,91.67 467,91.73 468,91.79 469,91.86 470,91.92 471,91.98 472,92.04 473,92.11 474,92.17 475,92.24 476,92.31 477,92.38 478,92.45 479,92.53 480,92.61 481,92.73 482,92.89 483,93.06 484,93.25 485,93.45 486,93.64 487,93.83 488,94 489,94.14 490,94.25 491,94.33 492,94.35 493,94.29 494,94.01 495,93.52 496,92.89 497,92.18 498,91.17 499,89.94 500,88.72 501,87.74 502,87.04 503,86.5 504,86.13 505,85.93 506,85.9 507,86.02 508,86.23 509,86.47 510,86.7 511,86.8 512,86.93 513,87.07 514,87.22 515,87.35 516,87.45 517,87.5 518,87.48 519,87.38 520,87.19 521,86.88 522,86.49 523,86.03 524,85.56 525,85.1 526,84.7 527,84.4 528,84.18 529,84.04 530,83.97 531,83.99 532,84.07 533,84.21 534,84.39 535,84.64 536,84.93 537,85.21 538,85.41 539,85.76 540,86.15 541,86.12 542,85.08 543,82.81 544,79.3 545,74.87 546,69.64 547,64.92 548,62.24 549,59.66 550,57.44 551,55.81 552,55.03 553,55.17 554,55.91 555,56.88 556,57.74 557,58.34 558,58.98 559,59.67 560,60.4 561,61.19 562,62.08 563,63.09 564,64.16 565,65.22 566,66.21 567,67.03 568,67.78 569,68.49 570,69.17 571,69.81 572,70.39 573,70.9 574,71.34 575,71.74 576,72.13 577,72.55 578,72.98 579,73.35 580,73.73 581,74.13 582,74.53 583,74.94 584,75.34 585,75.74 586,76.13 587,76.46 588,76.78 589,77.1 590,77.42 591,77.74 592,78.06 593,78.38 594,78.7 595,79.02 596,79.35 597,79.63 598,79.92 599,80.21 600,80.51 601,80.72 602,80.93 603,81.15 604,81.36 605,81.56 606,81.77 607,81.96 608,82.16 609,82.34 610,82.51 611,82.69 612,82.87 613,83.04 614,83.21 615,83.37 616,83.53 617,83.69 618,83.84 619,83.98 620,84.12 621,84.25 622,84.36 623,84.47 624,84.58 625,84.68 626,84.77 627,84.86 628,84.95 629,85.03 630,85.11 631,85.19 632,85.27 633,85.34 634,85.41 635,85.48 636,85.55 637,85.61 638,85.67 639,85.73 640,85.78 641,85.83 642,85.88 643,85.92 644,85.97 645,86.02 646,86.07 647,86.12 648,86.15 649,86.18 650,86.21 651,86.24 652,86.27 653,86.3 654,86.33 655,86.36 656,86.38 657,86.41 658,86.44 659,86.46 660,86.48 661,86.51 662,86.53 663,86.55 664,86.56 665,86.58 666,86.6 667,86.62 668,86.64 669,86.66 670,86.68 671,86.7 672,86.72 673,86.73 674,86.75 675,86.76 676,86.77 677,86.77 678,86.77 679,86.77 680,86.76 681,86.75 682,86.74" fill="none" stroke="#cdcdcd" stroke-width="0.75" stroke-linejoin="round" stroke-linecap="round" />
<polyline points="346,81.01 347,81.01 348,81.02 349,81.02 350,81.03 351,81.05 352,81.06 353,81.08 354,81.1 355,81.13 356,81.16 357,81.19 358,81.22 359,81.25 360,81.29 361,81.33 362,81.38 363,81.42 364,81.47 365,81.52 366,81.57 367,81.62 368,81.68 369,81.73 370,81.79 371,81.85 372,81.91 373,81.98 374,82.04 375,82.1 376,82.17 377,82.24 378,82.3 379,82.37 380,82.44 381,82.5 382,82.57 383,82.64 384,82.7 385,82.77 386,82.84 387,82.91 388,82.98 389,83.05 390,83.13 391,83.2 392,83.27 393,83.34 394,83.42 395,83.49 396,83.56 397,83.64 398,83.71 399,83.78 400,83.85 401,83.93 402,84 403,84.07 404,84.14 405,84.21 406,84.28 407,84.34 408,84.41 409,84.47 410,84.54 411,84.6 412,84.66 413,84.72 414,84.78 415,84.84 416,84.89 417,84.95 418,85 419,85.05 420,85.1 421,85.14 422,85.19 423,85.23 424,85.27 425,85.31 426,85.35 427,85.38 428,85.41 429,85.44 430,85.47 431,85.49 432,85.52 433,85.54 434,85.56 435,85.57 436,85.59 437,85.6 438,85.61 439,85.62 440,85.63 441,85.63 442,85.64 443,85.64 444,85.64 445,85.64 446,85.63 447,85.63 448,85.62 449,85.61 450,85.61 451,85.6 452,85.58 453,85.57 454,85.56 455,85.54 456,85.53 457,85.51 458,85.5 459,85.48 460,85.46 461,85.47 462,85.47 463,85.48 464,85.48 465,85.48 466,85.49 467,85.49 468,85.49 469,85.5 470,85.5 471,85.51 472,85.52 473,85.53 474,85.55 475,85.56 476,85.58 477,85.6 478,85.63 479,85.66 480,85.7 481,85.8 482,85.93 483,86.09 484,86.25 485,86.43 486,86.61 487,86.78 488,86.94 489,87.07 490,87.18 491,87.26 492,87.29 493,87.25 494,86.99 495,86.56 496,86.01 497,85.39 498,84.52 499,83.47 500,82.45 501,81.69 502,81.2 503,80.86 504,80.66 505,80.57 506,80.61 507,80.73 508,80.89 509,81.04 510,81.16 511,81.17 512,81.21 513,81.3 514,81.42 515,81.57 516,81.74 517,81.91 518,82.07 519,82.2 520,82.3 521,82.35 522,82.37 523,82.35 524,82.32 525,82.28 526,82.23 527,82.19 528,82.11 529,81.99 530,81.83 531,81.67 532,81.5 533,81.35 534,81.25 535,81.24 536,81.31 537,81.42 538,81.51 539,81.79 540,82.14 541,82.12 542,81.17 543,79.1 544,75.86 545,71.76 546,66.82 547,62.36 548,59.82 549,57.38 550,55.27 551,53.72 552,52.96 553,53.08 554,53.75 555,54.65 556,55.43 557,55.97 558,56.55 559,57.17 560,57.83 561,58.53 562,59.34 563,60.26 564,61.22 565,62.18 566,63.07 567,63.8 568,64.47 569,65.09 570,65.68 571,66.23 572,66.73 573,67.16 574,67.52 575,67.83 576,68.14 577,68.47 578,68.82 579,69.1 580,69.39 581,69.7 582,70.01 583,70.32 584,70.62 585,70.92 586,71.21 587,71.44 588,71.67 589,71.89 590,72.11 591,72.33 592,72.54 593,72.76 594,72.97 595,73.19 596,73.4 597,73.58 598,73.77 599,73.95 600,74.13 601,74.33 602,74.52 603,74.71 604,74.9 605,75.09 606,75.27 607,75.45 608,75.62 609,75.79 610,75.95 611,76.11 612,76.26 613,76.42 614,76.57 615,76.72 616,76.87 617,77.01 618,77.15 619,77.29 620,77.42 621,77.54 622,77.65 623,77.76 624,77.86 625,77.97 626,78.06 627,78.16 628,78.25 629,78.35 630,78.44 631,78.53 632,78.62 633,78.71 634,78.8 635,78.89 636,78.98 637,79.07 638,79.16 639,79.24 640,79.33 641,79.41 642,79.5 643,79.59 644,79.68 645,79.77 646,79.86 647,79.96 648,80.04 649,80.13 650,80.21 651,80.3 652,80.39 653,80.48 654,80.57 655,80.67 656,80.76 657,80.85 658,80.95 659,81.05 660,81.14 661,81.24 662,81.34 663,81.44 664,81.54 665,81.64 666,81.74 667,81.84 668,81.94 669,82.05 670,82.15 671,82.26 672,82.37 673,82.47 674,82.57 675,82.67 676,82.77 677,82.87 678,82.96 679,83.05 680,83.13 681,83.21 682,83.29" fill="none" stroke="#cdcdcd" stroke-width="0.75" stroke-linejoin="round" stroke-linecap="round" />
<polyline points="346,87.06 347,87.08 348,87.1 349,87.12 350,87.14 351,87.16 352,87.18 353,87.21 354,87.23 355,87.25 356,87.27 357,87.29 358,87.31 359,87.34 360,87.36 361,87.38 362,87.4 363,87.42 364,87.44 365,87.46 366,87.48 367,87.49 368,87.51 369,87.53 370,87.54 371,87.56 372,87.58 373,87.59 374,87.6 375,87.62 376,87.63 377,87.64 378,87.65 379,87.66 380,87.67 381,87.68 382,87.68 383,87.69 384,87.69 385,87.7 386,87.7 387,87.71 388,87.72 389,87.72 390,87.73 391,87.74 392,87.75 393,87.76 394,87.77 395,87.78 396,87.79 397,87.8 398,87.81 399,87.83 400,87.84 401,87.86 402,87.87 403,87.89 404,87.91 405,87.93 406,87.95 407,87.97 408,87.99 409,88.02 410,88.04 411,88.07 412,88.09 413,88.12 414,88.15 415,88.19 416,88.22 417,88.25 418,88.29 419,88.32 420,88.36 421,88.4 422,88.44 423,88.48 424,88.53 425,88.57 426,88.62 427,88.67 428,88.71 429,88.76 430,88.81 431,88.87 432,88.92 433,88.97 434,89.03 435,89.09 436,89.14 437,89.2 438,89.26 439,89.32 440,89.39 441,89.45 442,89.52 443,89.58 444,89.65 445,89.72 446,89.78 447,89.85 448,89.92 449,90 450,90.07 451,90.14 452,90.21 453,90.29 454,90.36 455,90.44 456,90.51 457,90.59 458,90.66 459,90.74 460,90.82 461,90.92 462,91.01 463,91.11 464,91.2 465,91.3 466,91.39 467,91.49 468,91.58 469,91.68 470,91.77 471,91.87 472,91.96 473,92.06 474,92.16 475,92.26 476,92.35 477,92.46 478,92.56 479,92.66 480,92.76 481,92.9 482,93.06 483,93.23 484,93.41 485,93.6 486,93.79 487,93.96 488,94.13 489,94.27 490,94.38 491,94.47 492,94.51 493,94.48 494,94.28 495,93.93 496,93.49 497,93.03 498,92.39 499,91.63 500,90.95 501,90.53 502,90.37 503,90.33 504,90.36 505,90.41 506,90.45 507,90.45 508,90.36 509,90.19 510,89.95 511,89.59 512,89.28 513,89.06 514,88.92 515,88.87 516,88.88 517,88.95 518,89.06 519,89.19 520,89.34 521,89.49 522,89.64 523,89.78 524,89.9 525,89.98 526,90.02 527,89.99 528,89.85 529,89.58 530,89.2 531,88.74 532,88.23 533,87.72 534,87.25 535,86.87 536,86.6 537,86.39 538,86.21 539,86.22 540,86.33 541,86.14 542,85.15 543,83.19 544,80.21 545,76.5 546,72.16 547,68.24 548,66.01 549,63.86 550,62 551,60.64 552,59.97 553,60.06 554,60.65 555,61.43 556,62.11 557,62.59 558,63.09 559,63.64 560,64.22 561,64.85 562,65.56 563,66.38 564,67.25 565,68.1 566,68.9 567,69.57 568,70.18 569,70.76 570,71.31 571,71.82 572,72.3 573,72.72 574,73.08 575,73.41 576,73.73 577,74.08 578,74.44 579,74.75 580,75.08 581,75.42 582,75.76 583,76.11 584,76.46 585,76.81 586,77.16 587,77.45 588,77.74 589,78.04 590,78.33 591,78.63 592,78.93 593,79.23 594,79.53 595,79.84 596,80.15 597,80.43 598,80.72 599,81.01 600,81.3 601,81.5 602,81.7 603,81.9 604,82.1 605,82.3 606,82.49 607,82.69 608,82.88 609,83.07 610,83.25 611,83.44 612,83.62 613,83.81 614,83.99 615,84.17 616,84.35 617,84.53 618,84.7 619,84.87 620,85.04 621,85.2 622,85.35 623,85.5 624,85.64 625,85.78 626,85.92 627,86.05 628,86.19 629,86.32 630,86.44 631,86.57 632,86.69 633,86.82 634,86.94 635,87.06 636,87.18 637,87.29 638,87.41 639,87.51 640,87.62 641,87.73 642,87.83 643,87.93 644,88.03 645,88.13 646,88.23 647,88.33 648,88.42 649,88.5 650,88.58 651,88.67 652,88.75 653,88.82 654,88.9 655,88.98 656,89.05 657,89.12 658,89.19 659,89.26 660,89.33 661,89.39 662,89.45 663,89.51 664,89.56 665,89.61 666,89.67 667,89.72 668,89.77 669,89.82 670,89.86 671,89.91 672,89.95 673,89.99 674,90.02 675,90.06 676,90.08 677,90.11 678,90.12 679,90.14 680,90.15 681,90.15 682,90.14" fill="none" stroke="#cdcdcd" stroke-width="0.75" stroke-linejoin="round" stroke-linecap="round" />
<polyline points="346,80.7 347,80.77 348,80.84 349,80.92 350,80.99 351,81.07 352,81.14 353,81.22 354,81.29 355,81.37 356,81.44 357,81.52 358,81.6 359,81.67 360,81.75 361,81.82 362,81.89 363,81.97 364,82.04 365,82.11 366,82.18 367,82.25 368,82.32 369,82.38 370,82.45 371,82.51 372,82.57 373,82.63 374,82.69 375,82.75 376,82.81 377,82.86 378,82.91 379,82.96 380,83.01 381,83.05 382,83.09 383,83.13 384,83.17 385,83.2 386,83.24 387,83.27 388,83.3 389,83.33 390,83.36 391,83.39 392,83.42 393,83.44 394,83.47 395,83.49 396,83.51 397,83.53 398,83.55 399,83.57 400,83.58 401,83.6 402,83.61 403,83.63 404,83.64 405,83.65 406,83.66 407,83.67 408,83.68 409,83.69 410,83.7 411,83.7 412,83.71 413,83.72 414,83.72 415,83.73 416,83.73 417,83.73 418,83.74 419,83.74 420,83.74 421,83.74 422,83.75 423,83.75 424,83.75 425,83.75 426,83.75 427,83.75 428,83.75 429,83.75 430,83.76 431,83.76 432,83.76 433,83.76 434,83.76 435,83.77 436,83.77 437,83.77 438,83.78 439,83.78 440,83.79 441,83.79 442,83.8 443,83.8 444,83.81 445,83.82 446,83.83 447,83.84 448,83.85 449,83.87 450,83.88 451,83.89 452,83.91 453,83.92 454,83.94 455,83.96 456,83.98 457,84 458,84.02 459,84.04 460,84.07 461,84.11 462,84.15 463,84.19 464,84.24 465,84.28 466,84.33 467,84.37 468,84.42 469,84.47 470,84.52 471,84.57 472,84.63 473,84.68 474,84.74 475,84.8 476,84.87 477,84.93 478,85 479,85.07 480,85.15 481,85.28 482,85.44 483,85.61 484,85.8 485,85.99 486,86.18 487,86.36 488,86.53 489,86.69 490,86.82 491,86.93 492,87 493,86.99 494,86.81 495,86.49 496,86.07 497,85.58 498,84.88 499,84.02 500,83.16 501,82.48 502,82.01 503,81.66 504,81.42 505,81.31 506,81.33 507,81.45 508,81.63 509,81.85 510,82.05 511,82.16 512,82.29 513,82.44 514,82.59 515,82.74 516,82.87 517,82.99 518,83.08 519,83.13 520,83.13 521,83.08 522,82.98 523,82.86 524,82.71 525,82.57 526,82.44 527,82.33 528,82.22 529,82.11 530,82.01 531,81.91 532,81.83 533,81.77 534,81.75 535,81.79 536,81.88 537,81.98 538,82.06 539,82.27 540,82.52 541,82.48 542,81.72 543,80.09 544,77.54 545,74.34 546,70.45 547,66.94 548,64.91 549,62.96 550,61.26 551,60 552,59.36 553,59.39 554,59.85 555,60.49 556,61.04 557,61.4 558,61.8 559,62.22 560,62.68 561,63.17 562,63.74 563,64.4 564,65.1 565,65.79 566,66.44 567,66.95 568,67.42 569,67.87 570,68.28 571,68.66 572,69.01 573,69.3 574,69.54 575,69.75 576,69.96 577,70.18 578,70.41 579,70.6 580,70.8 581,71.01 582,71.23 583,71.45 584,71.66 585,71.88 586,72.08 587,72.24 588,72.4 589,72.56 590,72.72 591,72.88 592,73.04 593,73.2 594,73.36 595,73.52 596,73.69 597,73.83 598,73.97 599,74.11 600,74.26 601,74.43 602,74.61 603,74.79 604,74.97 605,75.14 606,75.32 607,75.49 608,75.65 609,75.81 610,75.97 611,76.13 612,76.29 613,76.45 614,76.6 615,76.76 616,76.91 617,77.06 618,77.2 619,77.34 620,77.48 621,77.61 622,77.74 623,77.86 624,77.98 625,78.09 626,78.2 627,78.31 628,78.42 629,78.52 630,78.63 631,78.73 632,78.83 633,78.93 634,79.03 635,79.13 636,79.23 637,79.32 638,79.41 639,79.5 640,79.59 641,79.67 642,79.76 643,79.84 644,79.93 645,80.01 646,80.1 647,80.18 648,80.26 649,80.33 650,80.4 651,80.47 652,80.55 653,80.62 654,80.69 655,80.75 656,80.82 657,80.89 658,80.96 659,81.02 660,81.08 661,81.15 662,81.21 663,81.26 664,81.32 665,81.38 666,81.43 667,81.49 668,81.54 669,81.6 670,81.65 671,81.7 672,81.75 673,81.8 674,81.85 675,81.89 676,81.93 677,81.97 678,82 679,82.03 680,82.05 681,82.07 682,82.09" fill="none" stroke="#cdcdcd" stroke-width="0.75" stroke-linejoin="round" stroke-linecap="round" />
<polyline points="346,79.47 347,79.47 348,79.47 349,79.47 350,79.47 351,79.47 352,79.47 353,79.47 354,79.48 355,79.48 356,79.48 357,79.48 358,79.49 359,79.49 360,79.5 361,79.5 362,79.51 363,79.51 364,79.51 365,79.52 366,79.52 367,79.52 368,79.53 369,79.53 370,79.53 371,79.53 372,79.53 373,79.53 374,79.53 375,79.53 376,79.53 377,79.53 378,79.52 379,79.52 380,79.51 381,79.5 382,79.49 383,79.48 384,79.47 385,79.45 386,79.44 387,79.43 388,79.42 389,79.41 390,79.4 391,79.39 392,79.38 393,79.37 394,79.36 395,79.35 396,79.34 397,79.33 398,79.32 399,79.31 400,79.31 401,79.3 402,79.29 403,79.29 404,79.28 405,79.28 406,79.27 407,79.27 408,79.27 409,79.26 410,79.26 411,79.26 412,79.26 413,79.26 414,79.27 415,79.27 416,79.27 417,79.28 418,79.28 419,79.29 420,79.3 421,79.31 422,79.32 423,79.33 424,79.34 425,79.35 426,79.36 427,79.38 428,79.39 429,79.41 430,79.42 431,79.44 432,79.46 433,79.48 434,79.5 435,79.53 436,79.55 437,79.58 438,79.6 439,79.63 440,79.66 441,79.69 442,79.72 443,79.76 444,79.79 445,79.83 446,79.87 447,79.91 448,79.95 449,79.99 450,80.04 451,80.08 452,80.13 453,80.18 454,80.23 455,80.28 456,80.34 457,80.39 458,80.45 459,80.51 460,80.57 461,80.66 462,80.75 463,80.84 464,80.93 465,81.02 466,81.12 467,81.21 468,81.31 469,81.41 470,81.51 471,81.62 472,81.73 473,81.84 474,81.95 475,82.07 476,82.19 477,82.31 478,82.44 479,82.57 480,82.71 481,82.94 482,83.2 483,83.48 484,83.78 485,84.09 486,84.4 487,84.7 488,84.98 489,85.24 490,85.47 491,85.66 492,85.79 493,85.84 494,85.64 495,85.23 496,84.64 497,83.93 498,82.88 499,81.55 500,80.18 501,79.03 502,78.14 503,77.44 504,76.94 505,76.7 506,76.74 507,77.04 508,77.53 509,78.14 510,78.77 511,79.28 512,79.8 513,80.29 514,80.72 515,81.09 516,81.38 517,81.58 518,81.67 519,81.65 520,81.5 521,81.22 522,80.82 523,80.36 524,79.87 525,79.41 526,79.02 527,78.77 528,78.63 529,78.61 530,78.71 531,78.91 532,79.21 533,79.57 534,79.97 535,80.44 536,80.93 537,81.38 538,81.75 539,82.25 540,82.78 541,82.86 542,81.87 543,79.62 544,76.07 545,71.58 546,66.08 547,61.1 548,58.23 549,55.47 550,53.07 551,51.28 552,50.37 553,50.42 554,51.08 555,51.98 556,52.76 557,53.27 558,53.83 559,54.42 560,55.07 561,55.76 562,56.56 563,57.49 564,58.47 565,59.44 566,60.34 567,61.06 568,61.71 569,62.32 570,62.88 571,63.4 572,63.87 573,64.26 574,64.57 575,64.84 576,65.1 577,65.38 578,65.68 579,65.91 580,66.15 581,66.41 582,66.67 583,66.93 584,67.19 585,67.44 586,67.68 587,67.86 588,68.03 589,68.19 590,68.36 591,68.52 592,68.68 593,68.83 594,68.99 595,69.15 596,69.31 597,69.43 598,69.55 599,69.68 600,69.8 601,70 602,70.21 603,70.41 604,70.6 605,70.8 606,70.99 607,71.17 608,71.35 609,71.51 610,71.67 611,71.83 612,71.99 613,72.14 614,72.29 615,72.44 616,72.58 617,72.71 618,72.84 619,72.97 620,73.08 621,73.19 622,73.29 623,73.38 624,73.46 625,73.54 626,73.62 627,73.69 628,73.75 629,73.82 630,73.88 631,73.94 632,74 633,74.06 634,74.11 635,74.17 636,74.22 637,74.27 638,74.31 639,74.35 640,74.39 641,74.43 642,74.47 643,74.51 644,74.55 645,74.6 646,74.64 647,74.69 648,74.72 649,74.75 650,74.78 651,74.81 652,74.84 653,74.87 654,74.91 655,74.94 656,74.98 657,75.02 658,75.05 659,75.09 660,75.13 661,75.17 662,75.21 663,75.25 664,75.28 665,75.32 666,75.37 667,75.41 668,75.46 669,75.51 670,75.56 671,75.61 672,75.67 673,75.72 674,75.77 675,75.82 676,75.87 677,75.92 678,75.96 679,76.01 680,76.05 681,76.08 682,76.12" fill="none" stroke="#cdcdcd" stroke-width="0.75" stroke-linejoin="round" stroke-linecap="round" />
<polygon points="346,80.7 347,80.72 348,80.74 349,80.76 350,80.79 351,80.82 352,80.85 353,80.88 354,80.91 355,80.95 356,80.98 357,81.02 358,81.06 359,81.1 360,81.14 361,81.18 362,81.23 363,81.27 364,81.31 365,81.36 366,81.4 367,81.44 368,81.49 369,81.53 370,81.58 371,81.62 372,81.67 373,81.71 374,81.75 375,81.8 376,81.84 377,81.88 378,81.92 379,81.96 380,82 381,82.03 382,82.07 383,82.1 384,82.13 385,82.16 386,82.2 387,82.23 388,82.26 389,82.29 390,82.33 391,82.36 392,82.39 393,82.43 394,82.46 395,82.49 396,82.52 397,82.56 398,82.59 399,82.62 400,82.66 401,82.69 402,82.72 403,82.75 404,82.79 405,82.82 406,82.85 407,82.88 408,82.92 409,82.95 410,82.98 411,83.01 412,83.05 413,83.08 414,83.11 415,83.14 416,83.17 417,83.21 418,83.24 419,83.27 420,83.3 421,83.33 422,83.36 423,83.39 424,83.42 425,83.45 426,83.48 427,83.51 428,83.54 429,83.57 430,83.6 431,83.63 432,83.66 433,83.69 434,83.72 435,83.74 436,83.77 437,83.8 438,83.83 439,83.86 440,83.89 441,83.92 442,83.95 443,83.97 444,84 445,84.03 446,84.06 447,84.09 448,84.12 449,84.15 450,84.18 451,84.21 452,84.24 453,84.27 454,84.3 455,84.34 456,84.37 457,84.4 458,84.43 459,84.47 460,84.5 461,84.57 462,84.63 463,84.7 464,84.76 465,84.83 466,84.9 467,84.96 468,85.03 469,85.1 470,85.17 471,85.24 472,85.31 473,85.39 474,85.47 475,85.55 476,85.63 477,85.72 478,85.81 479,85.9 480,86 481,86.18 482,86.4 483,86.64 484,86.89 485,87.16 486,87.42 487,87.68 488,87.91 489,88.12 490,88.29 491,88.42 492,88.49 493,88.47 494,88.19 495,87.67 496,86.98 497,86.2 498,85.07 499,83.59 500,82.12 501,80.95 502,80.14 503,79.53 504,79.13 505,78.93 506,78.97 507,79.18 508,79.51 509,79.88 510,80.24 511,80.44 512,80.67 513,80.93 514,81.2 515,81.47 516,81.71 517,81.92 518,82.08 519,82.18 520,82.2 521,82.12 522,81.97 523,81.77 524,81.55 525,81.31 526,81.1 527,80.94 528,80.77 529,80.61 530,80.45 531,80.3 532,80.19 533,80.12 534,80.11 535,80.21 536,80.39 537,80.6 538,80.76 539,81.15 540,81.63 541,81.59 542,80.28 543,77.46 544,73.07 545,67.54 546,60.89 547,54.88 548,51.44 549,48.13 550,45.27 551,43.15 552,42.1 553,42.21 554,43.08 555,44.24 556,45.25 557,45.94 558,46.68 559,47.47 560,48.33 561,49.24 562,50.29 563,51.5 564,52.77 565,54.03 566,55.2 567,56.16 568,57.03 569,57.86 570,58.63 571,59.36 572,60.02 573,60.58 574,61.06 575,61.48 576,61.89 577,62.34 578,62.8 579,63.19 580,63.59 581,64.01 582,64.43 583,64.86 584,65.29 585,65.71 586,66.11 587,66.44 588,66.77 589,67.09 590,67.41 591,67.73 592,68.04 593,68.36 594,68.68 595,69 596,69.32 597,69.6 598,69.88 599,70.16 600,70.44 601,70.73 602,71.01 603,71.29 604,71.57 605,71.85 606,72.12 607,72.38 608,72.64 609,72.88 610,73.12 611,73.36 612,73.6 613,73.83 614,74.06 615,74.28 616,74.5 617,74.71 618,74.92 619,75.12 620,75.31 621,75.49 622,75.66 623,75.81 624,75.97 625,76.11 626,76.25 627,76.39 628,76.52 629,76.65 630,76.77 631,76.89 632,77.01 633,77.13 634,77.24 635,77.36 636,77.47 637,77.57 638,77.67 639,77.77 640,77.86 641,77.96 642,78.05 643,78.14 644,78.23 645,78.32 646,78.41 647,78.51 648,78.58 649,78.66 650,78.73 651,78.8 652,78.88 653,78.95 654,79.03 655,79.1 656,79.18 657,79.25 658,79.32 659,79.39 660,79.47 661,79.54 662,79.61 663,79.68 664,79.74 665,79.81 666,79.88 667,79.95 668,80.03 669,80.1 670,80.17 671,80.25 672,80.32 673,80.39 674,80.46 675,80.53 676,80.59 677,80.65 678,80.71 679,80.76 680,80.81 681,80.85 682,80.88 682,83.72 681,83.69 680,83.65 679,83.61 678,83.57 677,83.52 676,83.47 675,83.41 674,83.35 673,83.29 672,83.23 671,83.17 670,83.1 669,83.04 668,82.98 667,82.91 666,82.85 665,82.79 664,82.73 663,82.67 662,82.61 661,82.55 660,82.49 659,82.43 658,82.36 657,82.3 656,82.24 655,82.17 654,82.11 653,82.04 652,81.98 651,81.91 650,81.85 649,81.79 648,81.72 647,81.66 646,81.57 645,81.49 644,81.41 643,81.33 642,81.26 641,81.18 640,81.1 639,81.01 638,80.93 637,80.84 636,80.75 635,80.66 634,80.56 633,80.46 632,80.35 631,80.25 630,80.15 629,80.04 628,79.93 627,79.81 626,79.7 625,79.57 624,79.45 623,79.32 622,79.18 621,79.04 620,78.88 619,78.71 618,78.54 617,78.36 616,78.17 615,77.98 614,77.79 613,77.59 612,77.39 611,77.18 610,76.98 609,76.77 608,76.56 607,76.33 606,76.1 605,75.87 604,75.63 603,75.39 602,75.14 601,74.89 600,74.65 599,74.4 598,74.16 597,73.91 596,73.67 595,73.39 594,73.11 593,72.84 592,72.56 591,72.29 590,72.01 589,71.73 588,71.45 587,71.17 586,70.88 585,70.53 584,70.17 583,69.8 582,69.42 581,69.05 580,68.69 579,68.34 578,68.01 577,67.6 576,67.22 575,66.86 574,66.49 573,66.08 572,65.58 571,65.01 570,64.38 569,63.71 568,62.99 567,62.23 566,61.4 565,60.38 564,59.28 563,58.18 562,57.13 561,56.22 560,55.42 559,54.68 558,53.99 557,53.35 556,52.75 555,51.87 554,50.86 553,50.11 552,50.01 551,50.92 550,52.76 549,55.26 548,58.13 547,61.12 546,66.34 545,72.12 544,76.93 543,80.74 542,83.2 541,84.34 540,84.37 539,83.97 538,83.64 537,83.5 536,83.33 535,83.18 534,83.1 533,83.11 532,83.18 531,83.29 530,83.41 529,83.56 528,83.71 527,83.86 526,84.01 525,84.2 524,84.41 523,84.61 522,84.8 521,84.93 520,85 519,84.99 518,84.92 517,84.78 516,84.61 515,84.4 514,84.18 513,83.95 512,83.73 511,83.53 510,83.36 509,83.06 508,82.75 507,82.47 506,82.29 505,82.27 504,82.44 503,82.8 502,83.33 501,84.05 500,85.07 499,86.36 498,87.67 497,88.8 496,89.58 495,90.27 494,90.79 493,91.07 492,91.09 491,91.02 490,90.89 489,90.72 488,90.51 487,90.28 486,90.02 485,89.76 484,89.49 483,89.24 482,89 481,88.78 480,88.6 479,88.5 478,88.41 477,88.32 476,88.23 475,88.15 474,88.07 473,87.99 472,87.91 471,87.84 470,87.77 469,87.7 468,87.63 467,87.56 466,87.5 465,87.43 464,87.36 463,87.3 462,87.23 461,87.17 460,87.1 459,87.07 458,87.03 457,87 456,86.97 455,86.94 454,86.9 453,86.87 452,86.84 451,86.81 450,86.78 449,86.75 448,86.72 447,86.69 446,86.66 445,86.63 444,86.6 443,86.57 442,86.55 441,86.52 440,86.49 439,86.46 438,86.43 437,86.4 436,86.37 435,86.34 434,86.32 433,86.29 432,86.26 431,86.23 430,86.2 429,86.17 428,86.14 427,86.11 426,86.08 425,86.05 424,86.02 423,85.99 422,85.96 421,85.93 420,85.9 419,85.87 418,85.84 417,85.81 416,85.77 415,85.74 414,85.71 413,85.68 412,85.65 411,85.61 410,85.58 409,85.55 408,85.52 407,85.48 406,85.45 405,85.42 404,85.39 403,85.35 402,85.32 401,85.29 400,85.26 399,85.22 398,85.19 397,85.16 396,85.12 395,85.09 394,85.06 393,85.03 392,84.99 391,84.96 390,84.93 389,84.89 388,84.86 387,84.83 386,84.8 385,84.76 384,84.73 383,84.7 382,84.67 381,84.63 380,84.6 379,84.56 378,84.52 377,84.48 376,84.44 375,84.4 374,84.35 373,84.31 372,84.27 371,84.22 370,84.18 369,84.13 368,84.09 367,84.04 366,84 365,83.96 364,83.91 363,83.87 362,83.83 361,83.79 360,83.74 359,83.7 358,83.67 357,83.63 356,83.59 355,83.55 354,83.52 353,83.49 352,83.46 351,83.42 350,83.4 349,83.37 348,83.34 347,83.32 346,83.3" fill="#ff7fae" opacity="0.45"/>
<polyline points="346,82 347,82.02 348,82.04 349,82.07 350,82.09 351,82.12 352,82.15 353,82.18 354,82.22 355,82.25 356,82.29 357,82.32 358,82.36 359,82.4 360,82.44 361,82.48 362,82.53 363,82.57 364,82.61 365,82.66 366,82.7 367,82.74 368,82.79 369,82.83 370,82.88 371,82.92 372,82.97 373,83.01 374,83.05 375,83.1 376,83.14 377,83.18 378,83.22 379,83.26 380,83.3 381,83.33 382,83.37 383,83.4 384,83.43 385,83.46 386,83.5 387,83.53 388,83.56 389,83.59 390,83.63 391,83.66 392,83.69 393,83.73 394,83.76 395,83.79 396,83.82 397,83.86 398,83.89 399,83.92 400,83.96 401,83.99 402,84.02 403,84.05 404,84.09 405,84.12 406,84.15 407,84.18 408,84.22 409,84.25 410,84.28 411,84.31 412,84.35 413,84.38 414,84.41 415,84.44 416,84.47 417,84.51 418,84.54 419,84.57 420,84.6 421,84.63 422,84.66 423,84.69 424,84.72 425,84.75 426,84.78 427,84.81 428,84.84 429,84.87 430,84.9 431,84.93 432,84.96 433,84.99 434,85.02 435,85.04 436,85.07 437,85.1 438,85.13 439,85.16 440,85.19 441,85.22 442,85.25 443,85.27 444,85.3 445,85.33 446,85.36 447,85.39 448,85.42 449,85.45 450,85.48 451,85.51 452,85.54 453,85.57 454,85.6 455,85.64 456,85.67 457,85.7 458,85.73 459,85.77 460,85.8 461,85.87 462,85.93 463,86 464,86.06 465,86.13 466,86.2 467,86.26 468,86.33 469,86.4 470,86.47 471,86.54 472,86.61 473,86.69 474,86.77 475,86.85 476,86.93 477,87.02 478,87.11 479,87.2 480,87.3 481,87.48 482,87.7 483,87.94 484,88.19 485,88.46 486,88.72 487,88.98 488,89.21 489,89.42 490,89.59 491,89.72 492,89.79 493,89.77 494,89.49 495,88.97 496,88.28 497,87.5 498,86.37 499,84.97 500,83.6 501,82.5 502,81.73 503,81.16 504,80.78 505,80.6 506,80.63 507,80.83 508,81.13 509,81.47 510,81.8 511,81.98 512,82.2 513,82.44 514,82.69 515,82.93 516,83.16 517,83.35 518,83.5 519,83.59 520,83.6 521,83.53 522,83.39 523,83.19 524,82.98 525,82.76 526,82.56 527,82.4 528,82.24 529,82.08 530,81.93 531,81.8 532,81.69 533,81.62 534,81.6 535,81.69 536,81.86 537,82.05 538,82.2 539,82.56 540,83 541,82.96 542,81.74 543,79.1 544,75 545,69.83 546,63.61 547,58 548,54.79 549,51.69 550,49.01 551,47.04 552,46.06 553,46.16 554,46.97 555,48.06 556,49 557,49.64 558,50.34 559,51.08 560,51.88 561,52.73 562,53.71 563,54.84 564,56.03 565,57.2 566,58.3 567,59.19 568,60.01 569,60.78 570,61.51 571,62.18 572,62.8 573,63.33 574,63.77 575,64.17 576,64.56 577,64.97 578,65.4 579,65.76 580,66.14 581,66.53 582,66.93 583,67.33 584,67.73 585,68.12 586,68.5 587,68.81 588,69.11 589,69.41 590,69.71 591,70.01 592,70.3 593,70.6 594,70.9 595,71.2 596,71.5 597,71.76 598,72.02 599,72.28 600,72.54 601,72.81 602,73.08 603,73.34 604,73.6 605,73.86 606,74.11 607,74.36 608,74.6 609,74.83 610,75.05 611,75.27 612,75.49 613,75.71 614,75.92 615,76.13 616,76.34 617,76.54 618,76.73 619,76.92 620,77.1 621,77.26 622,77.42 623,77.57 624,77.71 625,77.84 626,77.97 627,78.1 628,78.22 629,78.34 630,78.46 631,78.57 632,78.68 633,78.79 634,78.9 635,79.01 636,79.11 637,79.21 638,79.3 639,79.39 640,79.48 641,79.57 642,79.65 643,79.74 644,79.82 645,79.91 646,79.99 647,80.08 648,80.15 649,80.22 650,80.29 651,80.36 652,80.43 653,80.5 654,80.57 655,80.64 656,80.71 657,80.77 658,80.84 659,80.91 660,80.98 661,81.04 662,81.11 663,81.17 664,81.24 665,81.3 666,81.37 667,81.43 668,81.5 669,81.57 670,81.64 671,81.71 672,81.78 673,81.84 674,81.91 675,81.97 676,82.03 677,82.09 678,82.14 679,82.19 680,82.23 681,82.27 682,82.3" fill="none" stroke="#ff0a5a" stroke-width="2.1" stroke-linejoin="round" stroke-linecap="round" />
<text x="351.8" y="75.6" font-size="11.2" fill="#231f20" stroke="#231f20" stroke-width="0.22" textLength="35" lengthAdjust="spacingAndGlyphs" >rDA1m</text>
<polyline points="346,112.3 347,112.31 348,112.31 349,112.32 350,112.33 351,112.34 352,112.34 353,112.35 354,112.36 355,112.37 356,112.38 357,112.39 358,112.4 359,112.41 360,112.42 361,112.43 362,112.44 363,112.45 364,112.46 365,112.48 366,112.49 367,112.5 368,112.51 369,112.52 370,112.53 371,112.54 372,112.56 373,112.57 374,112.58 375,112.59 376,112.6 377,112.61 378,112.62 379,112.63 380,112.64 381,112.65 382,112.66 383,112.67 384,112.68 385,112.69 386,112.7 387,112.71 388,112.72 389,112.73 390,112.74 391,112.75 392,112.77 393,112.78 394,112.79 395,112.8 396,112.81 397,112.82 398,112.83 399,112.85 400,112.86 401,112.87 402,112.88 403,112.89 404,112.9 405,112.9 406,112.91 407,112.92 408,112.93 409,112.93 410,112.94 411,112.95 412,112.95 413,112.95 414,112.96 415,112.96 416,112.96 417,112.96 418,112.96 419,112.96 420,112.96 421,112.96 422,112.95 423,112.95 424,112.94 425,112.94 426,112.93 427,112.92 428,112.91 429,112.91 430,112.9 431,112.89 432,112.88 433,112.87 434,112.85 435,112.84 436,112.83 437,112.82 438,112.81 439,112.79 440,112.78 441,112.77 442,112.76 443,112.74 444,112.73 445,112.72 446,112.7 447,112.69 448,112.68 449,112.66 450,112.65 451,112.64 452,112.62 453,112.61 454,112.6 455,112.59 456,112.58 457,112.57 458,112.56 459,112.55 460,112.54 461,112.53 462,112.52 463,112.51 464,112.51 465,112.5 466,112.49 467,112.49 468,112.49 469,112.48 470,112.49 471,112.48 472,112.47 473,112.46 474,112.46 475,112.46 476,112.46 477,112.48 478,112.49 479,112.52 480,112.56 481,112.61 482,112.67 483,112.75 484,112.99 485,113.28 486,113.66 487,114.16 488,114.83 489,116.08 490,117.63 491,119.4 492,121.85 493,125.26 494,128.41 495,131.64 496,133.7 497,133.83 498,133.01 499,131.97 500,130.77 501,129.34 502,127.85 503,126.47 504,125 505,123.51 506,122.1 507,121.04 508,119.99 509,118.99 510,118.04 511,117.17 512,116.59 513,116.04 514,115.52 515,115.04 516,114.59 517,114.19 518,113.84 519,113.55 520,113.32 521,113.13 522,112.98 523,112.85 524,112.72 525,112.59 526,112.46 527,112.35 528,112.26 529,112.17 530,112.09 531,112 532,111.91 533,111.91 534,111.88 535,111.85 536,111.82 537,111.79 538,111.76 539,111.73 540,111.7 541,111.67 542,111.64 543,111.6 544,111.57 545,111.53 546,111.5 547,111.46 548,111.42 549,111.38 550,111.32 551,111.26 552,111.19 553,111.12 554,111.04 555,110.96 556,110.89 557,110.81 558,110.74 559,110.67 560,110.6 561,110.55 562,110.5 563,110.47 564,110.45 565,110.36 566,110.34 567,110.34 568,110.35 569,110.37 570,110.39 571,110.41 572,110.44 573,110.48 574,110.51 575,110.55 576,110.58 577,110.61 578,110.64 579,110.67 580,110.68 581,110.7 582,110.71 583,110.73 584,110.75 585,110.76 586,110.78 587,110.79 588,110.81 589,110.83 590,110.84 591,110.86 592,110.88 593,110.9 594,110.92 595,110.95 596,110.97 597,111 598,111.03 599,111.06 600,111.07 601,111.08 602,111.1 603,111.11 604,111.13 605,111.14 606,111.16 607,111.17 608,111.19 609,111.2 610,111.22 611,111.24 612,111.25 613,111.27 614,111.29 615,111.31 616,111.32 617,111.34 618,111.36 619,111.38 620,111.4 621,111.42 622,111.44 623,111.46 624,111.48 625,111.5 626,111.52 627,111.54 628,111.56 629,111.59 630,111.61 631,111.63 632,111.66 633,111.68 634,111.7 635,111.73 636,111.75 637,111.78 638,111.81 639,111.83 640,111.86 641,111.89 642,111.91 643,111.94 644,111.97 645,112.01 646,112.04 647,112.07 648,112.11 649,112.14 650,112.18 651,112.22 652,112.25 653,112.29 654,112.33 655,112.37 656,112.41 657,112.45 658,112.48 659,112.52 660,112.56 661,112.6 662,112.64 663,112.67 664,112.71 665,112.75 666,112.78 667,112.82 668,112.85 669,112.88 670,112.92 671,112.95 672,112.98 673,113 674,113.03 675,113.06 676,113.08 677,113.1 678,113.12 679,113.14 680,113.16 681,113.18 682,113.2" fill="none" stroke="#cfcfcf" stroke-width="0.8" stroke-linejoin="round" stroke-linecap="round" />
<polyline points="346,112.78 347,112.79 348,112.8 349,112.81 350,112.82 351,112.83 352,112.84 353,112.85 354,112.86 355,112.87 356,112.88 357,112.89 358,112.9 359,112.91 360,112.92 361,112.93 362,112.93 363,112.94 364,112.95 365,112.96 366,112.97 367,112.98 368,112.99 369,113 370,113.01 371,113.02 372,113.03 373,113.05 374,113.06 375,113.07 376,113.08 377,113.09 378,113.1 379,113.11 380,113.12 381,113.13 382,113.14 383,113.15 384,113.16 385,113.17 386,113.18 387,113.19 388,113.2 389,113.2 390,113.21 391,113.22 392,113.23 393,113.23 394,113.24 395,113.25 396,113.25 397,113.26 398,113.26 399,113.26 400,113.27 401,113.27 402,113.27 403,113.27 404,113.27 405,113.27 406,113.27 407,113.27 408,113.27 409,113.27 410,113.26 411,113.26 412,113.25 413,113.25 414,113.24 415,113.24 416,113.23 417,113.22 418,113.22 419,113.21 420,113.2 421,113.19 422,113.18 423,113.17 424,113.16 425,113.15 426,113.14 427,113.13 428,113.12 429,113.11 430,113.1 431,113.09 432,113.07 433,113.06 434,113.05 435,113.04 436,113.03 437,113.02 438,113 439,112.99 440,112.98 441,112.97 442,112.96 443,112.95 444,112.93 445,112.92 446,112.91 447,112.9 448,112.89 449,112.88 450,112.87 451,112.86 452,112.85 453,112.84 454,112.83 455,112.83 456,112.82 457,112.81 458,112.8 459,112.8 460,112.79 461,112.78 462,112.78 463,112.78 464,112.77 465,112.77 466,112.77 467,112.77 468,112.78 469,112.78 470,112.79 471,112.78 472,112.77 473,112.77 474,112.77 475,112.78 476,112.79 477,112.81 478,112.83 479,112.86 480,112.91 481,112.96 482,113.01 483,113.1 484,113.32 485,113.57 486,113.89 487,114.29 488,114.79 489,115.44 490,116.58 491,117.95 492,119.49 493,121.4 494,123.88 495,126.95 496,129.8 497,132.71 498,134.9 499,135.89 500,135.75 501,134.99 502,134.04 503,132.96 504,131.73 505,130.41 506,129.09 507,127.83 508,126.5 509,125.15 510,123.85 511,122.73 512,121.77 513,120.83 514,119.91 515,119.05 516,118.24 517,117.58 518,117.06 519,116.57 520,116.1 521,115.65 522,115.24 523,114.86 524,114.51 525,114.19 526,113.93 527,113.71 528,113.53 529,113.37 530,113.24 531,113.12 532,113 533,112.89 534,112.73 535,112.59 536,112.46 537,112.33 538,112.22 539,112.11 540,111.99 541,111.88 542,111.78 543,111.75 544,111.71 545,111.68 546,111.65 547,111.62 548,111.59 549,111.55 550,111.52 551,111.49 552,111.46 553,111.42 554,111.39 555,111.36 556,111.32 557,111.29 558,111.25 559,111.21 560,111.17 561,111.13 562,111.09 563,111.03 564,110.97 565,110.91 566,110.91 567,110.91 568,110.91 569,110.91 570,110.9 571,110.9 572,110.9 573,110.9 574,110.9 575,110.91 576,110.93 577,110.95 578,110.97 579,111.01 580,111.06 581,111.05 582,111.04 583,111.03 584,111.04 585,111.05 586,111.06 587,111.08 588,111.11 589,111.14 590,111.17 591,111.2 592,111.23 593,111.26 594,111.3 595,111.33 596,111.36 597,111.39 598,111.42 599,111.43 600,111.45 601,111.47 602,111.48 603,111.5 604,111.52 605,111.53 606,111.55 607,111.56 608,111.58 609,111.6 610,111.62 611,111.63 612,111.65 613,111.67 614,111.69 615,111.71 616,111.74 617,111.76 618,111.78 619,111.81 620,111.83 621,111.86 622,111.89 623,111.91 624,111.92 625,111.94 626,111.95 627,111.97 628,111.98 629,112 630,112.02 631,112.03 632,112.05 633,112.06 634,112.08 635,112.1 636,112.12 637,112.13 638,112.15 639,112.17 640,112.19 641,112.2 642,112.22 643,112.24 644,112.26 645,112.28 646,112.3 647,112.32 648,112.34 649,112.36 650,112.38 651,112.4 652,112.42 653,112.44 654,112.46 655,112.48 656,112.51 657,112.53 658,112.55 659,112.57 660,112.6 661,112.62 662,112.64 663,112.67 664,112.69 665,112.72 666,112.74 667,112.77 668,112.79 669,112.82 670,112.84 671,112.87 672,112.9 673,112.92 674,112.95 675,112.98 676,113.01 677,113.04 678,113.08 679,113.11 680,113.14 681,113.18 682,113.21" fill="none" stroke="#cfcfcf" stroke-width="0.8" stroke-linejoin="round" stroke-linecap="round" />
<polyline points="346,111.8 347,111.8 348,111.81 349,111.82 350,111.82 351,111.83 352,111.84 353,111.85 354,111.85 355,111.86 356,111.87 357,111.88 358,111.88 359,111.89 360,111.9 361,111.91 362,111.92 363,111.92 364,111.93 365,111.94 366,111.95 367,111.96 368,111.97 369,111.97 370,111.98 371,111.99 372,112 373,112.01 374,112.01 375,112.02 376,112.03 377,112.04 378,112.04 379,112.05 380,112.06 381,112.06 382,112.07 383,112.08 384,112.08 385,112.09 386,112.09 387,112.1 388,112.1 389,112.11 390,112.11 391,112.11 392,112.12 393,112.12 394,112.12 395,112.13 396,112.13 397,112.13 398,112.13 399,112.13 400,112.13 401,112.13 402,112.13 403,112.13 404,112.13 405,112.12 406,112.12 407,112.12 408,112.12 409,112.11 410,112.11 411,112.1 412,112.1 413,112.1 414,112.09 415,112.09 416,112.08 417,112.07 418,112.07 419,112.06 420,112.06 421,112.05 422,112.04 423,112.04 424,112.03 425,112.02 426,112.02 427,112.01 428,112 429,111.99 430,111.99 431,111.98 432,111.97 433,111.96 434,111.96 435,111.95 436,111.94 437,111.93 438,111.93 439,111.92 440,111.91 441,111.9 442,111.9 443,111.89 444,111.88 445,111.88 446,111.87 447,111.86 448,111.86 449,111.85 450,111.84 451,111.84 452,111.83 453,111.83 454,111.82 455,111.82 456,111.82 457,111.81 458,111.81 459,111.8 460,111.8 461,111.8 462,111.8 463,111.8 464,111.79 465,111.79 466,111.8 467,111.8 468,111.81 469,111.81 470,111.82 471,111.81 472,111.8 473,111.8 474,111.8 475,111.8 476,111.81 477,111.82 478,111.83 479,111.85 480,111.88 481,111.91 482,111.95 483,111.99 484,112.13 485,112.3 486,112.5 487,112.73 488,113.05 489,113.44 490,114 491,114.82 492,115.79 493,116.89 494,118.23 495,119.9 496,122.07 497,124.08 498,126.1 499,127.93 500,129.24 501,129.31 502,128.97 503,128.39 504,127.71 505,126.94 506,126.06 507,125.13 508,124.19 509,123.32 510,122.38 511,121.43 512,120.5 513,119.6 514,118.92 515,118.25 516,117.59 517,116.95 518,116.34 519,115.78 520,115.31 521,114.95 522,114.59 523,114.26 524,113.94 525,113.63 526,113.35 527,113.09 528,112.85 529,112.64 530,112.45 531,112.3 532,112.17 533,112.06 534,111.93 535,111.8 536,111.68 537,111.56 538,111.44 539,111.32 540,111.21 541,111.11 542,111.01 543,110.91 544,110.82 545,110.73 546,110.63 547,110.55 548,110.51 549,110.47 550,110.43 551,110.4 552,110.36 553,110.32 554,110.29 555,110.25 556,110.21 557,110.18 558,110.14 559,110.1 560,110.07 561,110.03 562,109.99 563,109.95 564,109.91 565,109.87 566,109.9 567,109.93 568,109.96 569,109.98 570,110 571,110.02 572,110.03 573,110.04 574,110.04 575,110.05 576,110.06 577,110.06 578,110.06 579,110.07 580,110.08 581,110.08 582,110.09 583,110.11 584,110.13 585,110.15 586,110.17 587,110.21 588,110.24 589,110.26 590,110.25 591,110.26 592,110.27 593,110.28 594,110.29 595,110.31 596,110.33 597,110.36 598,110.38 599,110.41 600,110.44 601,110.47 602,110.5 603,110.53 604,110.56 605,110.59 606,110.62 607,110.65 608,110.67 609,110.69 610,110.71 611,110.73 612,110.75 613,110.77 614,110.78 615,110.8 616,110.82 617,110.84 618,110.86 619,110.88 620,110.9 621,110.92 622,110.94 623,110.96 624,110.98 625,111 626,111.02 627,111.04 628,111.07 629,111.09 630,111.11 631,111.14 632,111.17 633,111.19 634,111.22 635,111.24 636,111.25 637,111.27 638,111.29 639,111.31 640,111.33 641,111.34 642,111.36 643,111.38 644,111.4 645,111.42 646,111.44 647,111.46 648,111.48 649,111.49 650,111.51 651,111.53 652,111.55 653,111.57 654,111.59 655,111.61 656,111.63 657,111.65 658,111.67 659,111.69 660,111.71 661,111.74 662,111.76 663,111.78 664,111.8 665,111.82 666,111.84 667,111.86 668,111.89 669,111.91 670,111.93 671,111.95 672,111.98 673,112 674,112.02 675,112.05 676,112.07 677,112.09 678,112.12 679,112.14 680,112.17 681,112.19 682,112.21" fill="none" stroke="#cfcfcf" stroke-width="0.8" stroke-linejoin="round" stroke-linecap="round" />
<polyline points="346,112.84 347,112.85 348,112.86 349,112.87 350,112.88 351,112.89 352,112.89 353,112.9 354,112.91 355,112.92 356,112.93 357,112.94 358,112.95 359,112.96 360,112.97 361,112.98 362,112.99 363,113 364,113.01 365,113.02 366,113.03 367,113.04 368,113.05 369,113.06 370,113.07 371,113.08 372,113.09 373,113.09 374,113.1 375,113.11 376,113.12 377,113.13 378,113.14 379,113.14 380,113.15 381,113.16 382,113.17 383,113.18 384,113.19 385,113.2 386,113.21 387,113.22 388,113.23 389,113.24 390,113.25 391,113.26 392,113.27 393,113.28 394,113.29 395,113.3 396,113.31 397,113.32 398,113.33 399,113.34 400,113.34 401,113.35 402,113.36 403,113.37 404,113.37 405,113.38 406,113.39 407,113.39 408,113.4 409,113.4 410,113.4 411,113.41 412,113.41 413,113.41 414,113.41 415,113.41 416,113.41 417,113.41 418,113.41 419,113.41 420,113.41 421,113.4 422,113.4 423,113.4 424,113.39 425,113.39 426,113.38 427,113.37 428,113.37 429,113.36 430,113.35 431,113.34 432,113.33 433,113.33 434,113.32 435,113.31 436,113.3 437,113.29 438,113.28 439,113.27 440,113.26 441,113.25 442,113.24 443,113.23 444,113.22 445,113.21 446,113.19 447,113.18 448,113.17 449,113.16 450,113.15 451,113.14 452,113.13 453,113.12 454,113.11 455,113.1 456,113.09 457,113.08 458,113.08 459,113.07 460,113.06 461,113.05 462,113.04 463,113.04 464,113.03 465,113.03 466,113.02 467,113.02 468,113.01 469,113.01 470,113 471,112.99 472,112.97 473,112.97 474,112.96 475,112.95 476,112.94 477,112.93 478,112.93 479,112.93 480,112.94 481,112.95 482,112.96 483,112.98 484,113.02 485,113.05 486,113.1 487,113.16 488,113.34 489,113.56 490,113.85 491,114.21 492,114.68 493,115.38 494,116.46 495,117.76 496,119.23 497,121.26 498,124.02 499,126.67 500,129.33 501,131.42 502,132.33 503,132.12 504,131.39 505,130.49 506,129.47 507,128.29 508,127.05 509,125.89 510,124.68 511,123.45 512,122.25 513,121.23 514,120.35 515,119.49 516,118.66 517,117.88 518,117.15 519,116.67 520,116.21 521,115.77 522,115.36 523,114.98 524,114.63 525,114.31 526,114.03 527,113.79 528,113.6 529,113.45 530,113.32 531,113.2 532,113.1 533,112.99 534,112.84 535,112.71 536,112.58 537,112.47 538,112.36 539,112.25 540,112.15 541,112.03 542,111.99 543,111.95 544,111.92 545,111.89 546,111.85 547,111.82 548,111.79 549,111.75 550,111.72 551,111.69 552,111.65 553,111.62 554,111.58 555,111.54 556,111.51 557,111.47 558,111.43 559,111.39 560,111.34 561,111.29 562,111.23 563,111.16 564,111.09 565,111.02 566,111.02 567,111.02 568,111.02 569,111.02 570,111.02 571,111.03 572,111.04 573,111.06 574,111.08 575,111.12 576,111.16 577,111.16 578,111.15 579,111.15 580,111.16 581,111.17 582,111.19 583,111.21 584,111.24 585,111.26 586,111.3 587,111.33 588,111.36 589,111.39 590,111.43 591,111.46 592,111.48 593,111.51 594,111.52 595,111.54 596,111.56 597,111.58 598,111.59 599,111.61 600,111.63 601,111.64 602,111.66 603,111.68 604,111.7 605,111.72 606,111.73 607,111.75 608,111.78 609,111.8 610,111.82 611,111.84 612,111.87 613,111.9 614,111.92 615,111.95 616,111.97 617,111.98 618,112 619,112.01 620,112.03 621,112.05 622,112.06 623,112.08 624,112.1 625,112.11 626,112.13 627,112.15 628,112.17 629,112.18 630,112.2 631,112.22 632,112.24 633,112.26 634,112.28 635,112.3 636,112.32 637,112.34 638,112.36 639,112.38 640,112.4 641,112.42 642,112.44 643,112.46 644,112.48 645,112.5 646,112.53 647,112.55 648,112.57 649,112.59 650,112.62 651,112.64 652,112.66 653,112.69 654,112.71 655,112.74 656,112.76 657,112.79 658,112.81 659,112.84 660,112.87 661,112.89 662,112.92 663,112.95 664,112.98 665,113.01 666,113.04 667,113.07 668,113.11 669,113.14 670,113.17 671,113.21 672,113.24 673,113.28 674,113.31 675,113.35 676,113.38 677,113.42 678,113.45 679,113.49 680,113.53 681,113.56 682,113.6" fill="none" stroke="#cfcfcf" stroke-width="0.8" stroke-linejoin="round" stroke-linecap="round" />
<polyline points="346,112.21 347,112.22 348,112.22 349,112.23 350,112.24 351,112.24 352,112.25 353,112.26 354,112.27 355,112.27 356,112.28 357,112.29 358,112.29 359,112.3 360,112.31 361,112.32 362,112.32 363,112.33 364,112.34 365,112.34 366,112.35 367,112.36 368,112.37 369,112.37 370,112.38 371,112.39 372,112.39 373,112.4 374,112.4 375,112.41 376,112.42 377,112.42 378,112.43 379,112.43 380,112.44 381,112.44 382,112.45 383,112.45 384,112.45 385,112.46 386,112.46 387,112.46 388,112.47 389,112.47 390,112.47 391,112.47 392,112.47 393,112.48 394,112.48 395,112.48 396,112.48 397,112.48 398,112.48 399,112.48 400,112.47 401,112.47 402,112.47 403,112.47 404,112.47 405,112.47 406,112.46 407,112.46 408,112.46 409,112.45 410,112.45 411,112.45 412,112.44 413,112.44 414,112.43 415,112.43 416,112.42 417,112.42 418,112.41 419,112.41 420,112.4 421,112.4 422,112.39 423,112.39 424,112.38 425,112.38 426,112.37 427,112.36 428,112.36 429,112.35 430,112.35 431,112.34 432,112.33 433,112.33 434,112.32 435,112.32 436,112.31 437,112.31 438,112.3 439,112.29 440,112.29 441,112.28 442,112.28 443,112.27 444,112.27 445,112.26 446,112.26 447,112.25 448,112.25 449,112.24 450,112.24 451,112.24 452,112.23 453,112.23 454,112.22 455,112.22 456,112.22 457,112.22 458,112.21 459,112.21 460,112.21 461,112.21 462,112.21 463,112.2 464,112.2 465,112.2 466,112.21 467,112.21 468,112.21 469,112.22 470,112.22 471,112.21 472,112.21 473,112.2 474,112.2 475,112.19 476,112.19 477,112.2 478,112.2 479,112.21 480,112.23 481,112.24 482,112.26 483,112.29 484,112.32 485,112.38 486,112.5 487,112.64 488,112.81 489,113 490,113.26 491,113.58 492,113.98 493,114.64 494,115.42 495,116.28 496,117.21 497,118.5 498,120.09 499,121.86 500,123.51 501,125.21 502,126.66 503,127.74 504,127.81 505,127.57 506,127.11 507,126.55 508,125.93 509,125.24 510,124.48 511,123.69 512,122.93 513,122.19 514,121.41 515,120.62 516,119.84 517,119.1 518,118.53 519,117.97 520,117.42 521,116.88 522,116.37 523,115.88 524,115.41 525,115.1 526,114.8 527,114.51 528,114.23 529,113.97 530,113.71 531,113.47 532,113.26 533,113.06 534,112.84 535,112.64 536,112.47 537,112.32 538,112.18 539,112.05 540,111.94 541,111.83 542,111.72 543,111.61 544,111.5 545,111.4 546,111.3 547,111.2 548,111.11 549,111.03 550,110.94 551,110.86 552,110.77 553,110.68 554,110.62 555,110.58 556,110.54 557,110.5 558,110.46 559,110.43 560,110.39 561,110.35 562,110.31 563,110.27 564,110.24 565,110.2 566,110.23 567,110.26 568,110.29 569,110.32 570,110.36 571,110.39 572,110.42 573,110.44 574,110.47 575,110.5 576,110.53 577,110.55 578,110.58 579,110.59 580,110.61 581,110.62 582,110.63 583,110.64 584,110.65 585,110.66 586,110.67 587,110.67 588,110.68 589,110.69 590,110.7 591,110.71 592,110.73 593,110.75 594,110.77 595,110.79 596,110.82 597,110.85 598,110.89 599,110.89 600,110.9 601,110.9 602,110.91 603,110.93 604,110.94 605,110.96 606,110.98 607,111.01 608,111.03 609,111.06 610,111.09 611,111.12 612,111.15 613,111.18 614,111.21 615,111.23 616,111.26 617,111.29 618,111.32 619,111.34 620,111.36 621,111.38 622,111.4 623,111.42 624,111.44 625,111.46 626,111.48 627,111.5 628,111.52 629,111.54 630,111.56 631,111.58 632,111.6 633,111.62 634,111.64 635,111.66 636,111.68 637,111.7 638,111.72 639,111.75 640,111.77 641,111.79 642,111.82 643,111.84 644,111.87 645,111.89 646,111.92 647,111.94 648,111.97 649,111.98 650,112 651,112.02 652,112.04 653,112.06 654,112.08 655,112.1 656,112.12 657,112.14 658,112.16 659,112.17 660,112.19 661,112.21 662,112.23 663,112.25 664,112.27 665,112.29 666,112.31 667,112.33 668,112.35 669,112.38 670,112.4 671,112.42 672,112.44 673,112.46 674,112.48 675,112.5 676,112.52 677,112.54 678,112.57 679,112.59 680,112.61 681,112.63 682,112.65" fill="none" stroke="#cfcfcf" stroke-width="0.8" stroke-linejoin="round" stroke-linecap="round" />
<polyline points="346,112.49 347,112.5 348,112.51 349,112.52 350,112.52 351,112.53 352,112.54 353,112.55 354,112.56 355,112.57 356,112.57 357,112.58 358,112.59 359,112.6 360,112.61 361,112.61 362,112.62 363,112.63 364,112.64 365,112.64 366,112.65 367,112.66 368,112.66 369,112.67 370,112.68 371,112.69 372,112.69 373,112.7 374,112.71 375,112.72 376,112.73 377,112.73 378,112.74 379,112.75 380,112.76 381,112.77 382,112.78 383,112.78 384,112.79 385,112.8 386,112.81 387,112.82 388,112.83 389,112.83 390,112.84 391,112.85 392,112.86 393,112.86 394,112.87 395,112.88 396,112.88 397,112.89 398,112.9 399,112.9 400,112.91 401,112.91 402,112.92 403,112.92 404,112.92 405,112.93 406,112.93 407,112.93 408,112.94 409,112.94 410,112.94 411,112.94 412,112.94 413,112.94 414,112.94 415,112.94 416,112.94 417,112.93 418,112.93 419,112.93 420,112.93 421,112.92 422,112.92 423,112.91 424,112.91 425,112.9 426,112.9 427,112.89 428,112.89 429,112.88 430,112.88 431,112.87 432,112.86 433,112.86 434,112.85 435,112.84 436,112.83 437,112.83 438,112.82 439,112.81 440,112.8 441,112.8 442,112.79 443,112.78 444,112.77 445,112.76 446,112.76 447,112.75 448,112.74 449,112.73 450,112.73 451,112.72 452,112.71 453,112.7 454,112.7 455,112.69 456,112.68 457,112.68 458,112.67 459,112.67 460,112.66 461,112.65 462,112.65 463,112.64 464,112.64 465,112.64 466,112.63 467,112.63 468,112.63 469,112.62 470,112.62 471,112.6 472,112.59 473,112.58 474,112.57 475,112.56 476,112.55 477,112.54 478,112.53 479,112.53 480,112.52 481,112.52 482,112.53 483,112.54 484,112.55 485,112.56 486,112.59 487,112.62 488,112.65 489,112.7 490,112.81 491,112.97 492,113.17 493,113.41 494,113.74 495,114.15 496,114.81 497,115.7 498,116.73 499,117.88 500,119.47 501,121.57 502,123.69 503,125.76 504,127.71 505,129.05 506,129.13 507,128.72 508,128.09 509,127.37 510,126.55 511,125.61 512,124.64 513,123.72 514,122.78 515,121.81 516,120.85 517,119.93 518,119.23 519,118.54 520,117.87 521,117.23 522,116.61 523,116.04 524,115.66 525,115.29 526,114.94 527,114.61 528,114.3 529,114.01 530,113.74 531,113.5 532,113.29 533,113.11 534,112.93 535,112.76 536,112.63 537,112.5 538,112.37 539,112.25 540,112.13 541,112 542,111.89 543,111.79 544,111.69 545,111.6 546,111.5 547,111.41 548,111.31 549,111.26 550,111.22 551,111.18 552,111.15 553,111.11 554,111.07 555,111.04 556,111 557,110.97 558,110.93 559,110.89 560,110.86 561,110.82 562,110.78 563,110.74 564,110.7 565,110.66 566,110.69 567,110.72 568,110.75 569,110.77 570,110.79 571,110.8 572,110.81 573,110.82 574,110.83 575,110.83 576,110.83 577,110.84 578,110.84 579,110.85 580,110.86 581,110.87 582,110.88 583,110.9 584,110.93 585,110.96 586,110.99 587,111.01 588,111.01 589,111.01 590,111.02 591,111.03 592,111.05 593,111.07 594,111.09 595,111.12 596,111.14 597,111.17 598,111.2 599,111.23 600,111.27 601,111.3 602,111.33 603,111.35 604,111.38 605,111.4 606,111.42 607,111.44 608,111.46 609,111.48 610,111.49 611,111.51 612,111.53 613,111.55 614,111.57 615,111.59 616,111.61 617,111.63 618,111.65 619,111.67 620,111.69 621,111.71 622,111.73 623,111.75 624,111.78 625,111.8 626,111.83 627,111.85 628,111.88 629,111.91 630,111.92 631,111.94 632,111.96 633,111.98 634,111.99 635,112.01 636,112.03 637,112.05 638,112.07 639,112.08 640,112.1 641,112.12 642,112.14 643,112.16 644,112.18 645,112.2 646,112.22 647,112.24 648,112.26 649,112.28 650,112.3 651,112.32 652,112.34 653,112.36 654,112.38 655,112.4 656,112.42 657,112.44 658,112.47 659,112.49 660,112.51 661,112.53 662,112.55 663,112.58 664,112.6 665,112.62 666,112.65 667,112.67 668,112.69 669,112.72 670,112.74 671,112.77 672,112.79 673,112.81 674,112.84 675,112.86 676,112.89 677,112.92 678,112.94 679,112.97 680,112.99 681,113.02 682,113.05" fill="none" stroke="#cfcfcf" stroke-width="0.8" stroke-linejoin="round" stroke-linecap="round" />
<polyline points="346,112 347,112 348,112.01 349,112.02 350,112.02 351,112.03 352,112.03 353,112.04 354,112.05 355,112.06 356,112.07 357,112.07 358,112.08 359,112.09 360,112.1 361,112.11 362,112.12 363,112.13 364,112.14 365,112.15 366,112.16 367,112.17 368,112.18 369,112.19 370,112.2 371,112.21 372,112.22 373,112.23 374,112.24 375,112.25 376,112.26 377,112.27 378,112.28 379,112.29 380,112.3 381,112.31 382,112.32 383,112.32 384,112.33 385,112.34 386,112.35 387,112.36 388,112.37 389,112.38 390,112.39 391,112.4 392,112.41 393,112.42 394,112.43 395,112.44 396,112.45 397,112.46 398,112.47 399,112.48 400,112.49 401,112.5 402,112.51 403,112.52 404,112.53 405,112.54 406,112.55 407,112.55 408,112.56 409,112.57 410,112.57 411,112.58 412,112.58 413,112.59 414,112.59 415,112.6 416,112.6 417,112.6 418,112.6 419,112.6 420,112.6 421,112.6 422,112.6 423,112.59 424,112.59 425,112.59 426,112.58 427,112.58 428,112.57 429,112.56 430,112.56 431,112.55 432,112.54 433,112.53 434,112.52 435,112.51 436,112.5 437,112.49 438,112.48 439,112.47 440,112.46 441,112.45 442,112.44 443,112.43 444,112.42 445,112.41 446,112.39 447,112.38 448,112.37 449,112.36 450,112.35 451,112.34 452,112.33 453,112.32 454,112.31 455,112.3 456,112.29 457,112.28 458,112.27 459,112.26 460,112.25 461,112.24 462,112.24 463,112.23 464,112.22 465,112.22 466,112.21 467,112.21 468,112.21 469,112.2 470,112.2 471,112.19 472,112.18 473,112.17 474,112.17 475,112.16 476,112.16 477,112.16 478,112.17 479,112.19 480,112.21 481,112.24 482,112.28 483,112.34 484,112.4 485,112.61 486,112.86 487,113.19 488,113.62 489,114.2 490,115.29 491,116.63 492,118.17 493,120.3 494,123.27 495,126 496,128.81 497,130.6 498,130.71 499,130 500,129.09 501,128.04 502,126.8 503,125.5 504,124.3 505,123.02 506,121.72 507,120.5 508,119.57 509,118.66 510,117.79 511,116.96 512,116.2 513,115.7 514,115.22 515,114.76 516,114.34 517,113.96 518,113.61 519,113.3 520,113.04 521,112.84 522,112.68 523,112.54 524,112.43 525,112.32 526,112.2 527,112.09 528,111.99 529,111.91 530,111.83 531,111.76 532,111.68 533,111.6 534,111.57 535,111.53 536,111.5 537,111.47 538,111.43 539,111.4 540,111.37 541,111.34 542,111.3 543,111.27 544,111.23 545,111.2 546,111.16 547,111.12 548,111.08 549,111.04 550,111 551,110.95 552,110.89 553,110.82 554,110.75 555,110.68 556,110.6 557,110.53 558,110.46 559,110.39 560,110.32 561,110.26 562,110.21 563,110.16 564,110.13 565,110.1 566,110.08 567,110.08 568,110.08 569,110.09 570,110.11 571,110.13 572,110.15 573,110.18 574,110.22 575,110.25 576,110.28 577,110.31 578,110.35 579,110.37 580,110.4 581,110.42 582,110.43 583,110.45 584,110.47 585,110.48 586,110.5 587,110.52 588,110.53 589,110.55 590,110.57 591,110.59 592,110.61 593,110.63 594,110.65 595,110.67 596,110.69 597,110.72 598,110.74 599,110.77 600,110.8 601,110.82 602,110.83 603,110.85 604,110.86 605,110.88 606,110.89 607,110.91 608,110.93 609,110.94 610,110.96 611,110.98 612,110.99 613,111.01 614,111.03 615,111.05 616,111.07 617,111.09 618,111.1 619,111.12 620,111.14 621,111.16 622,111.18 623,111.2 624,111.22 625,111.25 626,111.27 627,111.29 628,111.31 629,111.33 630,111.36 631,111.38 632,111.4 633,111.43 634,111.45 635,111.47 636,111.5 637,111.52 638,111.55 639,111.57 640,111.6 641,111.63 642,111.65 643,111.68 644,111.71 645,111.74 646,111.77 647,111.8 648,111.84 649,111.87 650,111.9 651,111.94 652,111.97 653,112.01 654,112.04 655,112.08 656,112.12 657,112.15 658,112.19 659,112.23 660,112.26 661,112.3 662,112.34 663,112.37 664,112.41 665,112.44 666,112.48 667,112.51 668,112.54 669,112.58 670,112.61 671,112.64 672,112.67 673,112.7 674,112.73 675,112.75 676,112.78 677,112.8 678,112.82 679,112.85 680,112.87 681,112.88 682,112.9" fill="none" stroke="#1a74e6" stroke-width="2.3" stroke-linejoin="round" stroke-linecap="round" />
<text x="350.5" y="125.3" font-size="11.2" fill="#231f20" stroke="#231f20" stroke-width="0.22" textLength="29" lengthAdjust="spacingAndGlyphs" >Lever</text>
<text x="6.8" y="203" font-size="15.4" fill="#000" textLength="10.35" lengthAdjust="spacingAndGlyphs" font-weight="bold" stroke="#000" stroke-width="0.8">d</text>
<line x1="38.9" y1="207.2" x2="38.9" y2="318.7" stroke="#8a8a8a" stroke-width="1" />
<line x1="35.2" y1="207.2" x2="38.9" y2="207.2" stroke="#8a8a8a" stroke-width="1" />
<line x1="35.2" y1="318.7" x2="38.9" y2="318.7" stroke="#8a8a8a" stroke-width="1" />
<text x="30.8" y="210.8" font-size="10" fill="#231f20" stroke="#231f20" stroke-width="0.22" text-anchor="end" >5</text>
<text x="30.8" y="322.3" font-size="10" fill="#231f20" stroke="#231f20" stroke-width="0.22" text-anchor="end" >1</text>
<line x1="38.9" y1="327.6" x2="180.7" y2="327.6" stroke="#5a5a5a" stroke-width="1" />
<line x1="38.9" y1="327.6" x2="38.9" y2="331.6" stroke="#5a5a5a" stroke-width="1" />
<line x1="133.3" y1="327.6" x2="133.3" y2="331.6" stroke="#5a5a5a" stroke-width="1" />
<line x1="33.72" y1="340.9" x2="37.52" y2="340.9" stroke="#231f20" stroke-width="1" />
<text x="38.72" y="343.6" font-size="10" fill="#231f20" stroke="#231f20" stroke-width="0.22" >1</text>
<text x="133.3" y="343.6" font-size="10" fill="#231f20" stroke="#231f20" stroke-width="0.22" text-anchor="middle" >0</text>
<text x="36.3" y="358.7" font-size="11.2" fill="#231f20" stroke="#231f20" stroke-width="0.22" textLength="146.3" lengthAdjust="spacingAndGlyphs" >Time from peak velocity (s)</text>
<text x="17.2" y="262.5" font-size="11.2" fill="#231f20" text-anchor="middle" transform="rotate(-90 17.2 262.5)" textLength="45" lengthAdjust="spacingAndGlyphs">Δ<tspan font-style="italic">F</tspan>/<tspan font-style="italic">F</tspan> (%)</text>
<line x1="133.3" y1="207" x2="133.3" y2="327" stroke="#9a9a9a" stroke-width="1" stroke-dasharray="3.2 2.2"/>
<polyline points="38.9,247.84 39.6,247.92 40.3,248.03 41,248.17 41.7,248.32 42.4,248.5 43.1,248.7 43.8,248.9 44.5,249.13 45.2,249.36 45.9,249.6 46.6,249.85 47.3,250.09 48,250.34 48.7,250.59 49.4,250.83 50.1,251.07 50.8,251.3 51.5,251.52 52.2,251.72 52.9,251.91 53.6,252.08 54.3,252.22 55,252.35 55.7,252.45 56.4,252.52 57.1,252.56 57.8,252.56 58.5,252.53 59.2,252.47 59.9,252.36 60.6,252.23 61.3,252.06 62,251.86 62.7,251.65 63.4,251.41 64.1,251.15 64.8,250.87 65.5,250.59 66.2,250.29 66.9,249.99 67.6,249.69 68.3,249.38 69,249.07 69.7,248.78 70.4,248.48 71.1,248.2 71.8,247.94 72.5,247.69 73.2,247.46 73.9,247.26 74.6,247.08 75.3,246.92 76,246.8 76.7,246.72 77.4,246.67 78.1,246.64 78.8,246.63 79.5,246.65 80.2,246.68 80.9,246.74 81.6,246.8 82.3,246.89 83,246.99 83.7,247.09 84.4,247.21 85.1,247.34 85.8,247.47 86.5,247.61 87.2,247.75 87.9,247.89 88.6,248.03 89.3,248.17 90,248.31 90.7,248.44 91.4,248.56 92.1,248.68 92.8,248.78 93.5,248.87 94.2,248.95 94.9,249.02 95.6,249.07 96.3,249.09 97,249.11 97.7,249.1 98.4,249.09 99.1,249.06 99.8,249.02 100.5,248.97 101.2,248.92 101.9,248.86 102.6,248.8 103.3,248.74 104,248.68 104.7,248.62 105.4,248.57 106.1,248.52 106.8,248.48 107.5,248.46 108.2,248.44 108.9,248.44 109.6,248.46 110.3,248.49 111,248.54 111.7,248.62 112.4,248.71 113.1,248.83 113.8,248.98 114.5,249.23 115.2,249.57 115.9,249.96 116.6,250.4 117.3,250.88 118,251.4 118.7,251.95 119.4,252.54 120.1,253.14 120.8,253.77 121.5,254.41 122.2,255.06 122.9,255.72 123.6,256.38 124.3,257.04 125,257.69 125.7,258.33 126.4,259.43 127.1,260.77 127.8,262.23 128.5,263.75 129.2,265.25 129.9,266.66 130.6,267.92 131.3,268.95 132,269.69 132.7,270.06 133.4,270.05 134.1,269.57 134.8,268.62 135.5,267.19 136.2,265.3 136.9,262.93 137.6,260.3 138.3,258 139,255.32 139.7,252.34 140.4,249.14 141.1,245.8 141.8,242.4 142.5,239.03 143.2,235.75 143.9,232.65 144.6,229.7 145.3,226.22 146,222.58 146.7,218.94 147.4,215.45 148.1,212.25 148.8,209.51 149.5,207.36 150.2,205.97 150.9,205.47 151.6,205.8 152.3,206.8 153,208.29 153.7,210.1 154.4,212.05 155.1,213.96 155.8,215.66 156.5,216.94 157.2,218.12 157.9,219.37 158.6,220.65 159.3,221.93 160,223.2 160.7,224.43 161.4,225.59 162.1,226.65 162.8,227.61 163.5,228.39 164.2,229.11 164.9,229.83 165.6,230.54 166.3,231.2 167,231.79 167.7,232.3 168.4,232.7 169.1,232.97 169.8,233.08 170.5,233.02 171.2,232.77 171.9,232.04 172.6,230.77 173.3,229.12 174,227.2 174.7,225.14 175.4,223.08 176.1,221.13 176.8,219.43 177.5,217.63 178.2,215.58 178.9,213.76 179.6,212.21 180.3,210.99" fill="none" stroke="#d0d0d0" stroke-width="0.85" stroke-linejoin="round" stroke-linecap="round" />
<polyline points="38.9,250.15 39.6,250.26 40.3,250.39 41,250.53 41.7,250.69 42.4,250.86 43.1,251.05 43.8,251.24 44.5,251.45 45.2,251.67 45.9,251.9 46.6,252.14 47.3,252.38 48,252.63 48.7,252.89 49.4,253.16 50.1,253.42 50.8,253.69 51.5,253.97 52.2,254.24 52.9,254.51 53.6,254.79 54.3,255.06 55,255.33 55.7,255.6 56.4,255.86 57.1,256.12 57.8,256.37 58.5,256.62 59.2,256.85 59.9,257.08 60.6,257.3 61.3,257.51 62,257.7 62.7,257.89 63.4,258.06 64.1,258.21 64.8,258.35 65.5,258.49 66.2,258.61 66.9,258.72 67.6,258.82 68.3,258.9 69,258.98 69.7,259.04 70.4,259.1 71.1,259.14 71.8,259.18 72.5,259.21 73.2,259.23 73.9,259.25 74.6,259.26 75.3,259.27 76,259.27 76.7,259.27 77.4,259.27 78.1,259.27 78.8,259.27 79.5,259.26 80.2,259.26 80.9,259.26 81.6,259.27 82.3,259.27 83,259.28 83.7,259.29 84.4,259.31 85.1,259.34 85.8,259.37 86.5,259.41 87.2,259.46 87.9,259.52 88.6,259.59 89.3,259.66 90,259.73 90.7,259.8 91.4,259.88 92.1,259.95 92.8,260.03 93.5,260.11 94.2,260.19 94.9,260.27 95.6,260.36 96.3,260.45 97,260.53 97.7,260.63 98.4,260.72 99.1,260.81 99.8,260.91 100.5,261.01 101.2,261.12 101.9,261.22 102.6,261.33 103.3,261.45 104,261.56 104.7,261.68 105.4,261.8 106.1,261.93 106.8,262.05 107.5,262.19 108.2,262.32 108.9,262.46 109.6,262.6 110.3,262.75 111,262.9 111.7,263.06 112.4,263.28 113.1,263.52 113.8,263.78 114.5,264.04 115.2,264.32 115.9,264.6 116.6,264.89 117.3,265.19 118,265.49 118.7,265.8 119.4,266.11 120.1,266.43 120.8,266.75 121.5,267.07 122.2,267.4 122.9,267.72 123.6,268.05 124.3,268.37 125,268.69 125.7,269.01 126.4,269.33 127.1,269.64 127.8,269.94 128.5,270.6 129.2,271.72 129.9,272.99 130.6,274.29 131.3,275.49 132,276.48 132.7,277.13 133.4,277.33 134.1,276.95 134.8,276.13 135.5,274.96 136.2,273.44 136.9,271.59 137.6,269.42 138.3,266.95 139,264.18 139.7,261.13 140.4,258.06 141.1,254.33 141.8,250.09 142.5,245.54 143.2,240.9 143.9,236.36 144.6,232.15 145.3,228.47 146,225.53 146.7,223.54 147.4,222.58 148.1,222.44 148.8,222.99 149.5,224.08 150.2,225.6 150.9,227.4 151.6,229.36 152.3,231.34 153,233.21 153.7,234.83 154.4,236.31 155.1,237.97 155.8,239.77 156.5,241.63 157.2,243.51 157.9,245.36 158.6,247.11 159.3,248.71 160,250.1 160.7,251.24 161.4,251.95 162.1,252.53 162.8,253.02 163.5,253.43 164.2,253.76 164.9,254.01 165.6,254.19 166.3,254.29 167,254.33 167.7,254.3 168.4,254.21 169.1,254.06 169.8,253.85 170.5,253.59 171.2,253.23 171.9,252.74 172.6,252.16 173.3,251.49 174,250.77 174.7,250 175.4,249.21 176.1,248.41 176.8,247.63 177.5,246.88 178.2,246.18 178.9,245.55 179.6,245 180.3,244.56" fill="none" stroke="#d0d0d0" stroke-width="0.85" stroke-linejoin="round" stroke-linecap="round" />
<polyline points="38.9,270.1 39.6,270.06 40.3,270.01 41,269.94 41.7,269.86 42.4,269.78 43.1,269.68 43.8,269.58 44.5,269.47 45.2,269.36 45.9,269.24 46.6,269.12 47.3,269 48,268.88 48.7,268.76 49.4,268.64 50.1,268.53 50.8,268.41 51.5,268.3 52.2,268.2 52.9,268.11 53.6,268.02 54.3,267.95 55,267.88 55.7,267.83 56.4,267.78 57.1,267.76 57.8,267.74 58.5,267.74 59.2,267.75 59.9,267.76 60.6,267.79 61.3,267.81 62,267.85 62.7,267.89 63.4,267.93 64.1,267.99 64.8,268.05 65.5,268.11 66.2,268.19 66.9,268.27 67.6,268.35 68.3,268.45 69,268.55 69.7,268.65 70.4,268.76 71.1,268.88 71.8,269.01 72.5,269.14 73.2,269.28 73.9,269.43 74.6,269.58 75.3,269.74 76,269.9 76.7,270.07 77.4,270.22 78.1,270.37 78.8,270.52 79.5,270.68 80.2,270.85 80.9,271.02 81.6,271.2 82.3,271.38 83,271.56 83.7,271.76 84.4,271.95 85.1,272.15 85.8,272.35 86.5,272.56 87.2,272.77 87.9,272.99 88.6,273.21 89.3,273.43 90,273.65 90.7,273.88 91.4,274.11 92.1,274.34 92.8,274.57 93.5,274.81 94.2,275.05 94.9,275.29 95.6,275.53 96.3,275.77 97,276.01 97.7,276.25 98.4,276.5 99.1,276.74 99.8,276.99 100.5,277.27 101.2,277.58 101.9,277.9 102.6,278.23 103.3,278.56 104,278.89 104.7,279.23 105.4,279.58 106.1,279.92 106.8,280.27 107.5,280.63 108.2,280.98 108.9,281.34 109.6,281.7 110.3,282.07 111,282.43 111.7,282.79 112.4,283.16 113.1,283.52 113.8,283.89 114.5,284.25 115.2,284.61 115.9,284.97 116.6,285.33 117.3,285.69 118,286.04 118.7,286.4 119.4,286.94 120.1,287.51 120.8,288.09 121.5,288.67 122.2,289.25 122.9,289.83 123.6,290.41 124.3,290.99 125,291.57 125.7,292.14 126.4,292.71 127.1,293.27 127.8,293.82 128.5,294.35 129.2,294.88 129.9,295.39 130.6,296.16 131.3,298.39 132,300.84 132.7,302.79 133.4,303.53 134.1,302.44 134.8,300.15 135.5,296.84 136.2,292.79 136.9,288.29 137.6,283.61 138.3,279.05 139,275.16 139.7,271.2 140.4,266.89 141.1,262.45 141.8,258.13 142.5,254.14 143.2,250.72 143.9,248.09 144.6,246.52 145.3,245.95 146,245.98 146.7,246.52 147.4,247.47 148.1,248.74 148.8,250.21 149.5,251.81 150.2,253.42 150.9,254.95 151.6,256.25 152.3,257.3 153,258.47 153.7,259.74 154.4,261.07 155.1,262.45 155.8,263.85 156.5,265.25 157.2,266.62 157.9,267.95 158.6,269.2 159.3,270.36 160,271.39 160.7,272.29 161.4,273.04 162.1,273.71 162.8,274.3 163.5,274.82 164.2,275.26 164.9,275.64 165.6,275.97 166.3,276.24 167,276.47 167.7,276.66 168.4,276.81 169.1,276.93 169.8,277.04 170.5,277.11 171.2,277.12 171.9,277.07 172.6,276.97 173.3,276.83 174,276.65 174.7,276.44 175.4,276.21 176.1,275.98 176.8,275.74 177.5,275.5 178.2,275.28 178.9,275.09 179.6,274.92 180.3,274.8" fill="none" stroke="#d0d0d0" stroke-width="0.85" stroke-linejoin="round" stroke-linecap="round" />
<polyline points="38.9,276.98 39.6,277.15 40.3,277.37 41,277.63 41.7,277.94 42.4,278.28 43.1,278.64 43.8,279.04 44.5,279.45 45.2,279.87 45.9,280.31 46.6,280.74 47.3,281.18 48,281.61 48.7,282.02 49.4,282.42 50.1,282.8 50.8,283.14 51.5,283.46 52.2,283.73 52.9,283.97 53.6,284.13 54.3,284.22 55,284.29 55.7,284.36 56.4,284.4 57.1,284.44 57.8,284.46 58.5,284.47 59.2,284.48 59.9,284.47 60.6,284.45 61.3,284.43 62,284.41 62.7,284.37 63.4,284.34 64.1,284.3 64.8,284.25 65.5,284.21 66.2,284.17 66.9,284.12 67.6,284.08 68.3,284.04 69,284 69.7,283.97 70.4,283.94 71.1,283.92 71.8,283.91 72.5,283.9 73.2,283.91 73.9,283.92 74.6,283.94 75.3,283.98 76,284.03 76.7,284.09 77.4,284.16 78.1,284.24 78.8,284.33 79.5,284.42 80.2,284.51 80.9,284.62 81.6,284.72 82.3,284.83 83,284.95 83.7,285.07 84.4,285.2 85.1,285.33 85.8,285.46 86.5,285.6 87.2,285.74 87.9,285.89 88.6,286.03 89.3,286.18 90,286.34 90.7,286.5 91.4,286.65 92.1,286.82 92.8,286.98 93.5,287.15 94.2,287.31 94.9,287.48 95.6,287.65 96.3,287.82 97,288 97.7,288.17 98.4,288.35 99.1,288.52 99.8,288.7 100.5,288.9 101.2,289.12 101.9,289.36 102.6,289.59 103.3,289.83 104,290.08 104.7,290.33 105.4,290.59 106.1,290.85 106.8,291.11 107.5,291.38 108.2,291.65 108.9,291.92 109.6,292.19 110.3,292.47 111,292.74 111.7,293.02 112.4,293.3 113.1,293.57 113.8,293.85 114.5,294.13 115.2,294.4 115.9,294.67 116.6,294.95 117.3,295.22 118,295.48 118.7,295.75 119.4,296.14 120.1,296.5 120.8,296.83 121.5,297.14 122.2,297.44 122.9,297.73 123.6,298.03 124.3,298.33 125,298.66 125.7,299.01 126.4,299.4 127.1,299.84 127.8,300.32 128.5,300.87 129.2,301.49 129.9,302.18 130.6,303.44 131.3,307.63 132,312.89 132.7,317.97 133.4,321.61 134.1,322.58 134.8,320.96 135.5,317.52 136.2,312.79 136.9,307.3 137.6,301.84 138.3,296.65 139,290.57 139.7,284.1 140.4,277.71 141.1,271.89 141.8,267.12 142.5,264.27 143.2,262.47 143.9,261.04 144.6,259.93 145.3,259.12 146,258.57 146.7,258.25 147.4,258.12 148.1,258.15 148.8,258.3 149.5,258.52 150.2,258.91 150.9,259.48 151.6,260.21 152.3,261.06 153,262.02 153.7,263.06 154.4,264.14 155.1,265.25 155.8,266.36 156.5,267.43 157.2,268.45 157.9,269.39 158.6,270.19 159.3,270.84 160,271.5 160.7,272.17 161.4,272.86 162.1,273.54 162.8,274.21 163.5,274.88 164.2,275.52 164.9,276.14 165.6,276.73 166.3,277.29 167,277.8 167.7,278.26 168.4,278.67 169.1,279.02 169.8,279.3 170.5,279.52 171.2,279.65 171.9,279.68 172.6,279.63 173.3,279.51 174,279.33 174.7,279.1 175.4,278.84 176.1,278.56 176.8,278.27 177.5,277.99 178.2,277.72 178.9,277.48 179.6,277.28 180.3,277.14" fill="none" stroke="#d0d0d0" stroke-width="0.85" stroke-linejoin="round" stroke-linecap="round" />
<polyline points="38.9,288.73 39.6,288.79 40.3,288.86 41,288.93 41.7,289.02 42.4,289.1 43.1,289.2 43.8,289.3 44.5,289.4 45.2,289.51 45.9,289.63 46.6,289.74 47.3,289.87 48,289.99 48.7,290.12 49.4,290.25 50.1,290.39 50.8,290.53 51.5,290.67 52.2,290.81 52.9,290.95 53.6,291.1 54.3,291.25 55,291.39 55.7,291.54 56.4,291.69 57.1,291.84 57.8,291.99 58.5,292.13 59.2,292.28 59.9,292.43 60.6,292.57 61.3,292.71 62,292.85 62.7,292.99 63.4,293.13 64.1,293.26 64.8,293.39 65.5,293.53 66.2,293.67 66.9,293.8 67.6,293.94 68.3,294.07 69,294.2 69.7,294.33 70.4,294.46 71.1,294.59 71.8,294.72 72.5,294.85 73.2,294.98 73.9,295.1 74.6,295.23 75.3,295.36 76,295.49 76.7,295.62 77.4,295.75 78.1,295.89 78.8,296.02 79.5,296.16 80.2,296.3 80.9,296.44 81.6,296.58 82.3,296.72 83,296.87 83.7,297.02 84.4,297.17 85.1,297.33 85.8,297.49 86.5,297.65 87.2,297.81 87.9,297.98 88.6,298.16 89.3,298.34 90,298.52 90.7,298.71 91.4,298.89 92.1,299.09 92.8,299.28 93.5,299.48 94.2,299.68 94.9,299.89 95.6,300.1 96.3,300.31 97,300.52 97.7,300.73 98.4,300.95 99.1,301.16 99.8,301.38 100.5,301.6 101.2,301.82 101.9,302.04 102.6,302.26 103.3,302.48 104,302.7 104.7,302.92 105.4,303.15 106.1,303.37 106.8,303.59 107.5,303.81 108.2,304.03 108.9,304.24 109.6,304.46 110.3,304.67 111,304.89 111.7,305.1 112.4,305.44 113.1,305.81 113.8,306.18 114.5,306.56 115.2,306.94 115.9,307.33 116.6,307.72 117.3,308.11 118,308.49 118.7,308.88 119.4,309.25 120.1,309.62 120.8,309.98 121.5,310.33 122.2,310.67 122.9,310.99 123.6,311.3 124.3,311.58 125,311.85 125.7,312.1 126.4,312.57 127.1,313.13 127.8,313.7 128.5,314.24 129.2,314.71 129.9,315.06 130.6,315.27 131.3,315.28 132,315.05 132.7,314.54 133.4,313.13 134.1,310.86 134.8,308.07 135.5,305.06 136.2,302.14 136.9,299.62 137.6,297.89 138.3,296.98 139,296.25 139.7,295.66 140.4,295.2 141.1,294.83 141.8,294.52 142.5,294.24 143.2,293.98 143.9,293.7 144.6,293.38 145.3,293.14 146,292.93 146.7,292.74 147.4,292.57 148.1,292.41 148.8,292.26 149.5,292.12 150.2,291.98 150.9,291.83 151.6,291.68 152.3,291.52 153,291.33 153.7,291.13 154.4,290.9 155.1,290.64 155.8,290.34 156.5,290.04 157.2,289.72 157.9,289.39 158.6,289.07 159.3,288.76 160,288.47 160.7,288.21 161.4,287.98 162.1,287.79 162.8,287.65 163.5,287.56 164.2,287.51 164.9,287.51 165.6,287.54 166.3,287.6 167,287.69 167.7,287.8 168.4,287.92 169.1,288.06 169.8,288.2 170.5,288.36 171.2,288.5 171.9,288.65 172.6,288.79 173.3,288.96 174,289.16 174.7,289.37 175.4,289.6 176.1,289.84 176.8,290.08 177.5,290.31 178.2,290.53 178.9,290.73 179.6,290.9 180.3,291.04" fill="none" stroke="#d0d0d0" stroke-width="0.85" stroke-linejoin="round" stroke-linecap="round" />
<polyline points="38.9,258.38 39.6,258.41 40.3,258.43 41,258.46 41.7,258.47 42.4,258.48 43.1,258.49 43.8,258.49 44.5,258.49 45.2,258.49 45.9,258.49 46.6,258.49 47.3,258.48 48,258.48 48.7,258.49 49.4,258.49 50.1,258.5 50.8,258.51 51.5,258.52 52.2,258.54 52.9,258.57 53.6,258.6 54.3,258.65 55,258.7 55.7,258.75 56.4,258.82 57.1,258.9 57.8,258.99 58.5,259.09 59.2,259.21 59.9,259.33 60.6,259.47 61.3,259.63 62,259.8 62.7,259.99 63.4,260.19 64.1,260.41 64.8,260.65 65.5,260.93 66.2,261.25 66.9,261.6 67.6,261.98 68.3,262.39 69,262.83 69.7,263.29 70.4,263.77 71.1,264.27 71.8,264.79 72.5,265.33 73.2,265.87 73.9,266.43 74.6,267 75.3,267.58 76,268.16 76.7,268.75 77.4,269.33 78.1,269.92 78.8,270.5 79.5,271.08 80.2,271.65 80.9,272.21 81.6,272.76 82.3,273.3 83,273.82 83.7,274.32 84.4,274.8 85.1,275.26 85.8,275.7 86.5,276.11 87.2,276.5 87.9,276.85 88.6,277.26 89.3,277.82 90,278.28 90.7,278.67 91.4,279 92.1,279.27 92.8,279.49 93.5,279.68 94.2,279.85 94.9,280 95.6,280.15 96.3,280.31 97,280.49 97.7,280.7 98.4,280.94 99.1,281.24 99.8,281.6 100.5,281.88 101.2,282.1 101.9,282.33 102.6,282.57 103.3,282.81 104,283.05 104.7,283.31 105.4,283.57 106.1,283.83 106.8,284.1 107.5,284.38 108.2,284.66 108.9,284.94 109.6,285.23 110.3,285.52 111,285.82 111.7,286.11 112.4,286.41 113.1,286.71 113.8,287.01 114.5,287.31 115.2,287.62 115.9,287.92 116.6,288.22 117.3,288.53 118,288.83 118.7,289.13 119.4,289.43 120.1,289.72 120.8,290.02 121.5,290.31 122.2,290.6 122.9,290.88 123.6,291.25 124.3,291.93 125,292.69 125.7,293.5 126.4,294.33 127.1,295.19 127.8,296.04 128.5,296.87 129.2,297.65 129.9,298.38 130.6,299.02 131.3,299.57 132,300.01 132.7,300.3 133.4,300.45 134.1,300.4 134.8,300.01 135.5,299.27 136.2,298.22 136.9,296.87 137.6,295.26 138.3,293.4 139,291.33 139.7,289.06 140.4,286.78 141.1,283.99 141.8,280.81 142.5,277.39 143.2,273.89 143.9,270.47 144.6,267.3 145.3,264.54 146,262.34 146.7,260.87 147.4,260.29 148.1,260.15 148.8,260.35 149.5,260.85 150.2,261.58 150.9,262.51 151.6,263.57 152.3,264.71 153,265.88 153.7,267.03 154.4,268.1 155.1,269.04 155.8,269.79 156.5,270.35 157.2,270.9 157.9,271.45 158.6,272 159.3,272.53 160,273.04 160.7,273.51 161.4,273.93 162.1,274.29 162.8,274.57 163.5,274.76 164.2,274.86 164.9,274.85 165.6,274.73 166.3,274.57 167,274.34 167.7,274.05 168.4,273.69 169.1,273.29 169.8,272.84 170.5,272.36 171.2,271.84 171.9,271.3 172.6,270.75 173.3,270.19 174,269.62 174.7,269.06 175.4,268.5 176.1,267.97 176.8,267.46 177.5,266.98 178.2,266.55 178.9,266.15 179.6,265.81 180.3,265.53" fill="none" stroke="#d0d0d0" stroke-width="0.85" stroke-linejoin="round" stroke-linecap="round" />
<polyline points="38.9,274.73 39.6,274.76 40.3,274.79 41,274.83 41.7,274.87 42.4,274.9 43.1,274.94 43.8,274.99 44.5,275.03 45.2,275.08 45.9,275.12 46.6,275.17 47.3,275.22 48,275.27 48.7,275.33 49.4,275.38 50.1,275.44 50.8,275.5 51.5,275.56 52.2,275.63 52.9,275.69 53.6,275.76 54.3,275.82 55,275.89 55.7,275.97 56.4,276.04 57.1,276.11 57.8,276.19 58.5,276.27 59.2,276.35 59.9,276.43 60.6,276.51 61.3,276.6 62,276.69 62.7,276.78 63.4,276.87 64.1,276.96 64.8,277.05 65.5,277.16 66.2,277.27 66.9,277.39 67.6,277.51 68.3,277.64 69,277.77 69.7,277.9 70.4,278.05 71.1,278.19 71.8,278.34 72.5,278.49 73.2,278.64 73.9,278.79 74.6,278.95 75.3,279.1 76,279.26 76.7,279.42 77.4,279.57 78.1,279.73 78.8,279.89 79.5,280.04 80.2,280.2 80.9,280.35 81.6,280.5 82.3,280.64 83,280.79 83.7,280.93 84.4,281.07 85.1,281.2 85.8,281.33 86.5,281.45 87.2,281.57 87.9,281.68 88.6,281.79 89.3,281.92 90,282.03 90.7,282.14 91.4,282.24 92.1,282.33 92.8,282.42 93.5,282.5 94.2,282.58 94.9,282.65 95.6,282.72 96.3,282.79 97,282.85 97.7,282.92 98.4,282.99 99.1,283.05 99.8,283.12 100.5,283.19 101.2,283.26 101.9,283.34 102.6,283.42 103.3,283.51 104,283.6 104.7,283.7 105.4,283.8 106.1,283.92 106.8,284.04 107.5,284.18 108.2,284.34 108.9,284.51 109.6,284.68 110.3,284.86 111,285.05 111.7,285.24 112.4,285.44 113.1,285.64 113.8,285.84 114.5,286.05 115.2,286.26 115.9,286.48 116.6,286.69 117.3,286.91 118,287.12 118.7,287.34 119.4,287.56 120.1,287.77 120.8,287.99 121.5,288.2 122.2,288.4 122.9,288.61 123.6,288.85 124.3,289.26 125,289.74 125.7,290.26 126.4,290.81 127.1,291.36 127.8,291.9 128.5,292.4 129.2,292.84 129.9,293.2 130.6,293.47 131.3,293.61 132,293.62 132.7,293.46 133.4,292.89 134.1,291.9 134.8,290.61 135.5,289.08 136.2,287.42 136.9,285.7 137.6,284 138.3,282.42 139,281.1 139.7,279.77 140.4,278.34 141.1,276.87 141.8,275.4 142.5,274.01 143.2,272.74 143.9,271.65 144.6,270.79 145.3,270.23 146,270.02 146.7,270.12 147.4,270.48 148.1,271.05 148.8,271.76 149.5,272.58 150.2,273.46 150.9,274.35 151.6,275.2 152.3,275.97 153,276.6 153.7,277.04 154.4,277.25 155.1,277.43 155.8,277.58 156.5,277.71 157.2,277.81 157.9,277.88 158.6,277.93 159.3,277.96 160,277.96 160.7,277.93 161.4,277.88 162.1,277.81 162.8,277.7 163.5,277.58 164.2,277.43 164.9,277.25 165.6,277.06 166.3,276.87 167,276.64 167.7,276.37 168.4,276.07 169.1,275.75 169.8,275.4 170.5,275.03 171.2,274.65 171.9,274.26 172.6,273.85 173.3,273.45 174,273.05 174.7,272.65 175.4,272.26 176.1,271.89 176.8,271.53 177.5,271.2 178.2,270.89 178.9,270.62 179.6,270.37 180.3,270.17" fill="none" stroke="#d0d0d0" stroke-width="0.85" stroke-linejoin="round" stroke-linecap="round" />
<polygon points="38.9,257.06 39.6,257.13 40.3,257.22 41,257.32 41.7,257.44 42.4,257.58 43.1,257.72 43.8,257.87 44.5,258.04 45.2,258.21 45.9,258.38 46.6,258.56 47.3,258.73 48,258.91 48.7,259.09 49.4,259.26 50.1,259.43 50.8,259.59 51.5,259.74 52.2,259.88 52.9,260.01 53.6,260.14 54.3,260.26 55,260.38 55.7,260.48 56.4,260.57 57.1,260.66 57.8,260.74 58.5,260.81 59.2,260.89 59.9,260.96 60.6,261.04 61.3,261.12 62,261.21 62.7,261.3 63.4,261.4 64.1,261.52 64.8,261.64 65.5,261.78 66.2,261.94 66.9,262.1 67.6,262.28 68.3,262.46 69,262.65 69.7,262.85 70.4,263.05 71.1,263.25 71.8,263.45 72.5,263.65 73.2,263.84 73.9,264.03 74.6,264.21 75.3,264.38 76,264.54 76.7,264.68 77.4,264.81 78.1,264.93 78.8,265.04 79.5,265.13 80.2,265.22 80.9,265.3 81.6,265.38 82.3,265.46 83,265.53 83.7,265.61 84.4,265.69 85.1,265.77 85.8,265.86 86.5,265.96 87.2,266.07 87.9,266.19 88.6,266.32 89.3,266.46 90,266.61 90.7,266.76 91.4,266.91 92.1,267.07 92.8,267.24 93.5,267.41 94.2,267.58 94.9,267.76 95.6,267.95 96.3,268.14 97,268.34 97.7,268.54 98.4,268.75 99.1,268.97 99.8,269.19 100.5,269.41 101.2,269.63 101.9,269.86 102.6,270.1 103.3,270.35 104,270.6 104.7,270.86 105.4,271.12 106.1,271.39 106.8,271.66 107.5,271.93 108.2,272.21 108.9,272.49 109.6,272.77 110.3,273.04 111,273.32 111.7,273.6 112.4,273.94 113.1,274.28 113.8,274.63 114.5,274.97 115.2,275.32 115.9,275.67 116.6,276.02 117.3,276.38 118,276.75 118.7,277.13 119.4,277.51 120.1,277.91 120.8,278.31 121.5,278.82 122.2,279.45 122.9,280.11 123.6,280.8 124.3,281.5 125,282.2 125.7,282.87 126.4,283.51 127.1,284.1 127.8,284.63 128.5,285.2 129.2,285.87 129.9,286.5 130.6,287.02 131.3,287.38 132,287.52 132.7,287.4 133.4,286.86 134.1,285.96 134.8,284.68 135.5,282.98 136.2,280.85 136.9,278.16 137.6,274.87 138.3,271.22 139,267.46 139.7,263.83 140.4,261.07 141.1,258.32 141.8,255.53 142.5,252.8 143.2,250.2 143.9,247.81 144.6,245.71 145.3,243.86 146,242.22 146.7,240.75 147.4,239.49 148.1,238.44 148.8,237.64 149.5,237.03 150.2,236.82 150.9,237.01 151.6,237.52 152.3,238.25 153,239.01 153.7,239.9 154.4,240.97 155.1,242.15 155.8,243.37 156.5,244.56 157.2,245.65 157.9,246.47 158.6,247.26 159.3,248.04 160,248.8 160.7,249.53 161.4,250.24 162.1,250.91 162.8,251.54 163.5,252.08 164.2,252.56 164.9,253.03 165.6,253.41 166.3,253.74 167,254.05 167.7,254.32 168.4,254.55 169.1,254.73 169.8,254.86 170.5,254.98 171.2,255.09 171.9,255.14 172.6,255.08 173.3,254.88 174,254.49 174.7,253.9 175.4,253.14 176.1,252.12 176.8,250.91 177.5,249.59 178.2,248.25 178.9,246.96 179.6,245.82 180.3,244.91 180.3,260.84 179.6,261.61 178.9,262.62 178.2,263.77 177.5,264.98 176.8,266.17 176.1,267.24 175.4,268.12 174.7,268.75 174,269.21 173.3,269.46 172.6,269.53 171.9,269.45 171.2,269.27 170.5,269.03 169.8,268.78 169.1,268.52 168.4,268.2 167.7,267.84 167,267.43 166.3,266.99 165.6,266.52 164.9,266.04 164.2,265.62 163.5,265.18 162.8,264.69 162.1,264.1 161.4,263.48 160.7,262.82 160,262.13 159.3,261.42 158.6,260.69 157.9,259.95 157.2,259.17 156.5,258.13 155.8,256.99 155.1,255.81 154.4,254.68 153.7,253.65 153,252.81 152.3,252.09 151.6,251.41 150.9,250.95 150.2,250.8 149.5,251.07 148.8,251.73 148.1,252.59 147.4,253.69 146.7,255.02 146,256.54 145.3,258.24 144.6,260.03 143.9,261.99 143.2,264.24 142.5,266.7 141.8,269.29 141.1,271.94 140.4,274.55 139.7,277.17 139,280.66 138.3,284.28 137.6,287.79 136.9,290.94 136.2,293.49 135.5,295.48 134.8,297.06 134.1,298.26 133.4,299.08 132.7,299.53 132,299.58 131.3,299.36 130.6,298.91 129.9,298.31 129.2,297.61 128.5,296.86 127.8,296.21 127.1,295.65 126.4,295.02 125.7,294.34 125,293.63 124.3,292.89 123.6,292.15 122.9,291.42 122.2,290.71 121.5,290.05 120.8,289.5 120.1,289.05 119.4,288.62 118.7,288.2 118,287.78 117.3,287.37 116.6,286.97 115.9,286.58 115.2,286.19 114.5,285.8 113.8,285.41 113.1,285.03 112.4,284.64 111.7,284.26 111,283.95 110.3,283.63 109.6,283.31 108.9,283 108.2,282.68 107.5,282.36 106.8,282.05 106.1,281.74 105.4,281.43 104.7,281.12 104,280.83 103.3,280.53 102.6,280.25 101.9,279.97 101.2,279.7 100.5,279.44 99.8,279.19 99.1,278.96 98.4,278.74 97.7,278.53 97,278.32 96.3,278.12 95.6,277.92 94.9,277.73 94.2,277.54 93.5,277.37 92.8,277.19 92.1,277.02 91.4,276.86 90.7,276.7 90,276.54 89.3,276.39 88.6,276.25 87.9,276.11 87.2,275.98 86.5,275.87 85.8,275.77 85.1,275.67 84.4,275.58 83.7,275.5 83,275.42 82.3,275.34 81.6,275.26 80.9,275.18 80.2,275.09 79.5,275 78.8,274.9 78.1,274.79 77.4,274.67 76.7,274.53 76,274.38 75.3,274.22 74.6,274.04 73.9,273.86 73.2,273.67 72.5,273.47 71.8,273.27 71.1,273.06 70.4,272.86 69.7,272.65 69,272.45 68.3,272.26 67.6,272.07 66.9,271.88 66.2,271.71 65.5,271.56 64.8,271.41 64.1,271.28 63.4,271.16 62.7,271.06 62,270.96 61.3,270.87 60.6,270.78 59.9,270.7 59.2,270.62 58.5,270.54 57.8,270.46 57.1,270.38 56.4,270.29 55.7,270.19 55,270.08 54.3,269.96 53.6,269.83 52.9,269.7 52.2,269.57 51.5,269.42 50.8,269.27 50.1,269.1 49.4,268.93 48.7,268.75 48,268.57 47.3,268.39 46.6,268.21 45.9,268.03 45.2,267.85 44.5,267.67 43.8,267.51 43.1,267.35 42.4,267.2 41.7,267.06 41,266.94 40.3,266.83 39.6,266.73 38.9,266.66" fill="#f9c2d6" opacity="0.92"/>
<polyline points="38.9,261.86 39.6,261.93 40.3,262.02 41,262.13 41.7,262.25 42.4,262.39 43.1,262.53 43.8,262.69 44.5,262.86 45.2,263.03 45.9,263.2 46.6,263.38 47.3,263.56 48,263.74 48.7,263.92 49.4,264.1 50.1,264.26 50.8,264.43 51.5,264.58 52.2,264.73 52.9,264.86 53.6,264.99 54.3,265.11 55,265.23 55.7,265.33 56.4,265.43 57.1,265.52 57.8,265.6 58.5,265.68 59.2,265.76 59.9,265.83 60.6,265.91 61.3,265.99 62,266.08 62.7,266.18 63.4,266.28 64.1,266.4 64.8,266.53 65.5,266.67 66.2,266.82 66.9,266.99 67.6,267.17 68.3,267.36 69,267.55 69.7,267.75 70.4,267.95 71.1,268.16 71.8,268.36 72.5,268.56 73.2,268.75 73.9,268.94 74.6,269.13 75.3,269.3 76,269.46 76.7,269.61 77.4,269.74 78.1,269.86 78.8,269.97 79.5,270.07 80.2,270.16 80.9,270.24 81.6,270.32 82.3,270.4 83,270.48 83.7,270.55 84.4,270.64 85.1,270.72 85.8,270.81 86.5,270.92 87.2,271.03 87.9,271.15 88.6,271.29 89.3,271.43 90,271.58 90.7,271.73 91.4,271.89 92.1,272.05 92.8,272.21 93.5,272.39 94.2,272.56 94.9,272.75 95.6,272.93 96.3,273.13 97,273.33 97.7,273.53 98.4,273.75 99.1,273.97 99.8,274.19 100.5,274.42 101.2,274.66 101.9,274.92 102.6,275.17 103.3,275.44 104,275.71 104.7,275.99 105.4,276.27 106.1,276.56 106.8,276.85 107.5,277.15 108.2,277.44 108.9,277.74 109.6,278.04 110.3,278.34 111,278.63 111.7,278.93 112.4,279.29 113.1,279.66 113.8,280.02 114.5,280.39 115.2,280.75 115.9,281.12 116.6,281.5 117.3,281.88 118,282.27 118.7,282.66 119.4,283.07 120.1,283.48 120.8,283.91 121.5,284.44 122.2,285.08 122.9,285.76 123.6,286.48 124.3,287.2 125,287.91 125.7,288.61 126.4,289.27 127.1,289.88 127.8,290.42 128.5,291.03 129.2,291.74 129.9,292.4 130.6,292.97 131.3,293.37 132,293.55 132.7,293.47 133.4,292.97 134.1,292.11 134.8,290.87 135.5,289.23 136.2,287.17 136.9,284.55 137.6,281.33 138.3,277.75 139,274.06 139.7,270.5 140.4,267.81 141.1,265.13 141.8,262.41 142.5,259.75 143.2,257.22 143.9,254.9 144.6,252.87 145.3,251.05 146,249.38 146.7,247.88 147.4,246.59 148.1,245.52 148.8,244.69 149.5,244.05 150.2,243.81 150.9,243.98 151.6,244.47 152.3,245.17 153,245.91 153.7,246.77 154.4,247.82 155.1,248.98 155.8,250.18 156.5,251.34 157.2,252.41 157.9,253.21 158.6,253.97 159.3,254.73 160,255.46 160.7,256.18 161.4,256.86 162.1,257.51 162.8,258.11 163.5,258.63 164.2,259.09 164.9,259.54 165.6,259.96 166.3,260.37 167,260.74 167.7,261.08 168.4,261.37 169.1,261.63 169.8,261.82 170.5,262 171.2,262.18 171.9,262.3 172.6,262.3 173.3,262.17 174,261.85 174.7,261.32 175.4,260.63 176.1,259.68 176.8,258.54 177.5,257.29 178.2,256.01 178.9,254.79 179.6,253.72 180.3,252.88" fill="none" stroke="#ff0a5a" stroke-width="1.7" stroke-linejoin="round" stroke-linecap="round" />
<text x="46.5" y="242" font-size="11.2" fill="#231f20" stroke="#231f20" stroke-width="0.22" textLength="35" lengthAdjust="spacingAndGlyphs" >rDA1m</text>
<text x="201.5" y="203.3" font-size="15.4" fill="#000" textLength="9.42" lengthAdjust="spacingAndGlyphs" font-weight="bold" stroke="#000" stroke-width="0.8">e</text>
<line x1="238.4" y1="207.4" x2="238.4" y2="327.4" stroke="#5a5a5a" stroke-width="1" />
<line x1="234.2" y1="207.4" x2="238.4" y2="207.4" stroke="#5a5a5a" stroke-width="1" />
<line x1="234.2" y1="327.4" x2="304" y2="327.4" stroke="#5a5a5a" stroke-width="1" />
<text x="230.6" y="211" font-size="10" fill="#231f20" stroke="#231f20" stroke-width="0.22" text-anchor="end" >4</text>
<text x="230.6" y="331" font-size="10" fill="#231f20" stroke="#231f20" stroke-width="0.22" text-anchor="end" >0</text>
<text x="212.6" y="267.5" font-size="11.2" fill="#231f20" text-anchor="middle" transform="rotate(-90 212.6 267.5)" textLength="83" lengthAdjust="spacingAndGlyphs">rDA1m (% Δ<tspan font-style="italic">F</tspan>/<tspan font-style="italic">F</tspan>)</text>
<line x1="257.7" y1="216.9" x2="285.8" y2="244.4" stroke="#c6c6c6" stroke-width="1.45" />
<line x1="257.7" y1="225.7" x2="285.8" y2="302.5" stroke="#c6c6c6" stroke-width="1.45" />
<line x1="257.7" y1="234.5" x2="285.8" y2="257.5" stroke="#c6c6c6" stroke-width="1.45" />
<line x1="257.7" y1="240.9" x2="285.8" y2="254" stroke="#c6c6c6" stroke-width="1.45" />
<line x1="257.7" y1="250.2" x2="285.8" y2="254.9" stroke="#c6c6c6" stroke-width="1.45" />
<line x1="257.7" y1="241.5" x2="285.8" y2="278.5" stroke="#c6c6c6" stroke-width="1.45" />
<line x1="257.7" y1="261.6" x2="285.8" y2="278.5" stroke="#c6c6c6" stroke-width="1.45" />
<line x1="257.7" y1="273.6" x2="285.8" y2="286.1" stroke="#c6c6c6" stroke-width="1.45" />
<line x1="250.8" y1="237.1" x2="250.8" y2="249.6" stroke="#ff0a5a" stroke-width="1.3" />
<circle cx="250.8" cy="243.2" r="3.1" fill="#fff" stroke="#ff0a5a" stroke-width="1.3"/>
<line x1="291.5" y1="263.1" x2="291.5" y2="276.5" stroke="#ff0a5a" stroke-width="1.3" />
<circle cx="291.5" cy="269.8" r="3.1" fill="#fff" stroke="#ff0a5a" stroke-width="1.3"/>
<line x1="271.1" y1="209.8" x2="271.1" y2="206.7" stroke="#231f20" stroke-width="1.25" stroke-linecap="round"/>
<line x1="271.1" y1="209.8" x2="274.05" y2="208.84" stroke="#231f20" stroke-width="1.25" stroke-linecap="round"/>
<line x1="271.1" y1="209.8" x2="268.15" y2="208.84" stroke="#231f20" stroke-width="1.25" stroke-linecap="round"/>
<line x1="271.1" y1="209.8" x2="269.28" y2="212.31" stroke="#231f20" stroke-width="1.25" stroke-linecap="round"/>
<line x1="271.1" y1="209.8" x2="272.92" y2="212.31" stroke="#231f20" stroke-width="1.25" stroke-linecap="round"/>
<text x="209.2" y="387.2" font-size="11.2" fill="#231f20" stroke="#231f20" stroke-width="0.22" textLength="70" lengthAdjust="spacingAndGlyphs" transform="rotate(-45 209.2 387.2)" >Before press</text>
<text x="230.5" y="400" font-size="11.2" fill="#231f20" stroke="#231f20" stroke-width="0.22" textLength="86.5" lengthAdjust="spacingAndGlyphs" transform="rotate(-45 230.5 400)" >@ peak velocity</text>
<text x="321.5" y="202.8" font-size="15.4" fill="#000" textLength="5.64" lengthAdjust="spacingAndGlyphs" font-weight="bold" stroke="#000" stroke-width="0.8">f</text>
<line x1="354.7" y1="204.8" x2="354.7" y2="327.4" stroke="#5a5a5a" stroke-width="1" />
<line x1="354.7" y1="327.4" x2="477.9" y2="327.4" stroke="#5a5a5a" stroke-width="1" />
<line x1="350.9" y1="222.1" x2="354.7" y2="222.1" stroke="#5a5a5a" stroke-width="1" />
<text x="346.1" y="225.8" font-size="10" fill="#231f20" stroke="#231f20" stroke-width="0.22" text-anchor="end" >4</text>
<line x1="350.9" y1="266.1" x2="354.7" y2="266.1" stroke="#5a5a5a" stroke-width="1" />
<text x="346.1" y="269.8" font-size="10" fill="#231f20" stroke="#231f20" stroke-width="0.22" text-anchor="end" >0</text>
<line x1="350.9" y1="310.1" x2="354.7" y2="310.1" stroke="#5a5a5a" stroke-width="1" />
<line x1="335.54" y1="311.1" x2="339.34" y2="311.1" stroke="#231f20" stroke-width="1" />
<text x="340.54" y="313.8" font-size="10" fill="#231f20" stroke="#231f20" stroke-width="0.22" >4</text>
<line x1="354.5" y1="327.4" x2="354.5" y2="331.2" stroke="#5a5a5a" stroke-width="1" />
<line x1="349.32" y1="340.5" x2="353.12" y2="340.5" stroke="#231f20" stroke-width="1" />
<text x="354.32" y="343.2" font-size="10" fill="#231f20" stroke="#231f20" stroke-width="0.22" >5</text>
<line x1="415.7" y1="327.4" x2="415.7" y2="331.2" stroke="#5a5a5a" stroke-width="1" />
<text x="415.7" y="343.2" font-size="10" fill="#231f20" stroke="#231f20" stroke-width="0.22" text-anchor="middle" >0</text>
<line x1="476.9" y1="327.4" x2="476.9" y2="331.2" stroke="#5a5a5a" stroke-width="1" />
<text x="476.9" y="343.2" font-size="10" fill="#231f20" stroke="#231f20" stroke-width="0.22" text-anchor="middle" >5</text>
<g fill="#ff2a72" fill-opacity="0.27"><circle cx="444.22" cy="262.04" r="1.8"/><circle cx="420.33" cy="234.74" r="1.8"/><circle cx="448.66" cy="249.97" r="1.8"/><circle cx="426.72" cy="262.5" r="1.8"/><circle cx="436.32" cy="288.33" r="1.8"/><circle cx="390.29" cy="244.08" r="1.8"/><circle cx="463.89" cy="244.85" r="1.8"/><circle cx="422.87" cy="263.62" r="1.8"/><circle cx="430.56" cy="245.64" r="1.8"/><circle cx="404.87" cy="243.22" r="1.8"/><circle cx="411.96" cy="293.09" r="1.8"/><circle cx="416.52" cy="267.11" r="1.8"/><circle cx="422.16" cy="253.07" r="1.8"/><circle cx="459.61" cy="262.49" r="1.8"/><circle cx="439.94" cy="259.59" r="1.8"/><circle cx="417.7" cy="287.52" r="1.8"/><circle cx="458.62" cy="252.77" r="1.8"/><circle cx="447.62" cy="273.71" r="1.8"/><circle cx="422.92" cy="258.47" r="1.8"/><circle cx="396.61" cy="262.88" r="1.8"/><circle cx="402.74" cy="258.98" r="1.8"/><circle cx="413.34" cy="268.17" r="1.8"/><circle cx="427.36" cy="269.29" r="1.8"/><circle cx="421.39" cy="276.75" r="1.8"/><circle cx="408.62" cy="265.39" r="1.8"/><circle cx="436.84" cy="280.27" r="1.8"/><circle cx="417.07" cy="275.39" r="1.8"/><circle cx="408.18" cy="255.41" r="1.8"/><circle cx="423.06" cy="281.2" r="1.8"/><circle cx="427.9" cy="252.03" r="1.8"/><circle cx="415.38" cy="268.59" r="1.8"/><circle cx="402.33" cy="272.26" r="1.8"/><circle cx="411.1" cy="258.25" r="1.8"/><circle cx="416.95" cy="276.52" r="1.8"/><circle cx="424.63" cy="268.52" r="1.8"/><circle cx="407.02" cy="268" r="1.8"/><circle cx="419.67" cy="257.36" r="1.8"/><circle cx="405.38" cy="254.81" r="1.8"/><circle cx="416.82" cy="266.31" r="1.8"/><circle cx="399.16" cy="283.04" r="1.8"/><circle cx="411.93" cy="278.85" r="1.8"/><circle cx="396.71" cy="256.04" r="1.8"/><circle cx="407.25" cy="262.07" r="1.8"/><circle cx="401.71" cy="266.88" r="1.8"/><circle cx="390.98" cy="263.55" r="1.8"/><circle cx="427.24" cy="257.98" r="1.8"/><circle cx="426.83" cy="259.28" r="1.8"/><circle cx="420.5" cy="277.98" r="1.8"/><circle cx="412.92" cy="253.87" r="1.8"/><circle cx="435.26" cy="249.7" r="1.8"/><circle cx="413.62" cy="263.35" r="1.8"/><circle cx="421.87" cy="255.04" r="1.8"/><circle cx="426.49" cy="271.99" r="1.8"/><circle cx="419.29" cy="268.94" r="1.8"/><circle cx="429.62" cy="274.11" r="1.8"/><circle cx="414.59" cy="273.71" r="1.8"/><circle cx="414.84" cy="275.13" r="1.8"/><circle cx="417.44" cy="263.19" r="1.8"/><circle cx="401.62" cy="266.46" r="1.8"/><circle cx="406.51" cy="242.14" r="1.8"/><circle cx="426.49" cy="278.34" r="1.8"/><circle cx="400.6" cy="277.39" r="1.8"/><circle cx="426.52" cy="276.86" r="1.8"/><circle cx="418.77" cy="267.45" r="1.8"/><circle cx="427.04" cy="259.73" r="1.8"/><circle cx="426.38" cy="256.92" r="1.8"/><circle cx="421.75" cy="276.73" r="1.8"/><circle cx="432.12" cy="273.69" r="1.8"/><circle cx="415.61" cy="265.97" r="1.8"/><circle cx="415.39" cy="278.21" r="1.8"/><circle cx="426.57" cy="285.81" r="1.8"/><circle cx="408.11" cy="254.43" r="1.8"/><circle cx="426.63" cy="271.23" r="1.8"/><circle cx="425.48" cy="277.44" r="1.8"/><circle cx="411.79" cy="239.25" r="1.8"/><circle cx="400.21" cy="241.66" r="1.8"/><circle cx="390.56" cy="266.96" r="1.8"/><circle cx="440.71" cy="267.07" r="1.8"/><circle cx="397.38" cy="235.93" r="1.8"/><circle cx="405.36" cy="273.17" r="1.8"/><circle cx="427.68" cy="255.38" r="1.8"/><circle cx="422.63" cy="247.15" r="1.8"/><circle cx="418.19" cy="273.74" r="1.8"/><circle cx="417.02" cy="276.78" r="1.8"/><circle cx="412.39" cy="274.84" r="1.8"/><circle cx="404.59" cy="266.53" r="1.8"/><circle cx="409.49" cy="266.03" r="1.8"/><circle cx="421.61" cy="249.5" r="1.8"/><circle cx="425.97" cy="277.77" r="1.8"/><circle cx="426.92" cy="243.63" r="1.8"/><circle cx="415.83" cy="275.2" r="1.8"/><circle cx="387.42" cy="256.42" r="1.8"/><circle cx="422.89" cy="264.26" r="1.8"/><circle cx="414.8" cy="279.15" r="1.8"/><circle cx="381.76" cy="271.86" r="1.8"/><circle cx="428.72" cy="269.51" r="1.8"/><circle cx="419.2" cy="260.3" r="1.8"/><circle cx="415.67" cy="264.92" r="1.8"/><circle cx="417.96" cy="263.97" r="1.8"/><circle cx="417.27" cy="268.92" r="1.8"/><circle cx="419.46" cy="261.72" r="1.8"/><circle cx="417.9" cy="267.89" r="1.8"/><circle cx="416.42" cy="261.51" r="1.8"/><circle cx="421.41" cy="264.86" r="1.8"/><circle cx="419.39" cy="275.98" r="1.8"/><circle cx="438.17" cy="270.9" r="1.8"/><circle cx="417.55" cy="274.94" r="1.8"/><circle cx="411.65" cy="269.53" r="1.8"/><circle cx="408.86" cy="261.26" r="1.8"/><circle cx="419.83" cy="268.45" r="1.8"/><circle cx="417.47" cy="269.87" r="1.8"/><circle cx="418.62" cy="273.75" r="1.8"/><circle cx="414.57" cy="257.41" r="1.8"/><circle cx="414.75" cy="268.73" r="1.8"/><circle cx="423.25" cy="276.83" r="1.8"/><circle cx="434.27" cy="275.64" r="1.8"/><circle cx="421.16" cy="257.5" r="1.8"/><circle cx="415.44" cy="253.25" r="1.8"/><circle cx="405.88" cy="258.35" r="1.8"/><circle cx="405.87" cy="270.69" r="1.8"/><circle cx="417.25" cy="258.29" r="1.8"/><circle cx="414.11" cy="281.53" r="1.8"/><circle cx="415.32" cy="258.45" r="1.8"/><circle cx="406.21" cy="269.91" r="1.8"/><circle cx="415.13" cy="266.76" r="1.8"/><circle cx="391.37" cy="281.64" r="1.8"/><circle cx="405.38" cy="265.19" r="1.8"/><circle cx="406.16" cy="283.23" r="1.8"/><circle cx="423.92" cy="288.87" r="1.8"/><circle cx="410.57" cy="257" r="1.8"/><circle cx="407.51" cy="277.8" r="1.8"/><circle cx="418.51" cy="261.96" r="1.8"/><circle cx="415.13" cy="273.13" r="1.8"/><circle cx="424.38" cy="270.33" r="1.8"/><circle cx="418.91" cy="269.12" r="1.8"/><circle cx="417.88" cy="260.47" r="1.8"/><circle cx="414.19" cy="265.43" r="1.8"/><circle cx="424.49" cy="279.86" r="1.8"/><circle cx="409.21" cy="244.57" r="1.8"/><circle cx="401.97" cy="257.73" r="1.8"/><circle cx="424.02" cy="259.1" r="1.8"/><circle cx="409.72" cy="273.9" r="1.8"/><circle cx="416.42" cy="257.91" r="1.8"/><circle cx="423.83" cy="270.05" r="1.8"/><circle cx="424.99" cy="261.82" r="1.8"/><circle cx="378.39" cy="278.1" r="1.8"/><circle cx="406.22" cy="261.99" r="1.8"/><circle cx="431.56" cy="276.58" r="1.8"/><circle cx="400.25" cy="277.68" r="1.8"/><circle cx="421.82" cy="261.82" r="1.8"/><circle cx="412.41" cy="264.35" r="1.8"/><circle cx="404.23" cy="285.98" r="1.8"/><circle cx="414.51" cy="286.7" r="1.8"/><circle cx="400.33" cy="268.83" r="1.8"/><circle cx="419.38" cy="265.86" r="1.8"/><circle cx="426.36" cy="273.92" r="1.8"/><circle cx="402.73" cy="267.43" r="1.8"/><circle cx="409.6" cy="271.91" r="1.8"/><circle cx="426.58" cy="274.12" r="1.8"/><circle cx="420.43" cy="261.61" r="1.8"/><circle cx="412.73" cy="259.45" r="1.8"/><circle cx="428.7" cy="266.49" r="1.8"/><circle cx="400.42" cy="270.48" r="1.8"/><circle cx="413.15" cy="274.25" r="1.8"/><circle cx="416.85" cy="266.65" r="1.8"/><circle cx="412.76" cy="285.91" r="1.8"/><circle cx="422.9" cy="268.86" r="1.8"/><circle cx="400.45" cy="268.95" r="1.8"/><circle cx="416.08" cy="269.38" r="1.8"/><circle cx="408.5" cy="260.52" r="1.8"/><circle cx="426.56" cy="271.52" r="1.8"/><circle cx="425.16" cy="281.08" r="1.8"/><circle cx="408.87" cy="245.41" r="1.8"/><circle cx="401.42" cy="271.95" r="1.8"/><circle cx="415.03" cy="268.88" r="1.8"/><circle cx="404.53" cy="274.33" r="1.8"/><circle cx="410.46" cy="280.21" r="1.8"/><circle cx="419.54" cy="264.73" r="1.8"/><circle cx="411.46" cy="270.62" r="1.8"/><circle cx="432.13" cy="272.37" r="1.8"/><circle cx="416.24" cy="266.35" r="1.8"/><circle cx="410.88" cy="255.85" r="1.8"/><circle cx="401.18" cy="268.48" r="1.8"/><circle cx="410.89" cy="259.79" r="1.8"/><circle cx="429.86" cy="247.77" r="1.8"/><circle cx="420.61" cy="271.87" r="1.8"/><circle cx="428.61" cy="260.72" r="1.8"/><circle cx="427.53" cy="265.38" r="1.8"/><circle cx="420.67" cy="261.74" r="1.8"/><circle cx="409.28" cy="267.73" r="1.8"/><circle cx="414.25" cy="261.63" r="1.8"/><circle cx="416.24" cy="274.84" r="1.8"/><circle cx="400.58" cy="271.72" r="1.8"/><circle cx="418.61" cy="274.02" r="1.8"/><circle cx="402.18" cy="271.56" r="1.8"/><circle cx="414.83" cy="260.55" r="1.8"/><circle cx="408.92" cy="263.13" r="1.8"/><circle cx="420.9" cy="264.32" r="1.8"/><circle cx="439.55" cy="272.41" r="1.8"/><circle cx="404.77" cy="267.54" r="1.8"/><circle cx="415.45" cy="265.76" r="1.8"/><circle cx="441.99" cy="266.34" r="1.8"/><circle cx="407.2" cy="272.68" r="1.8"/><circle cx="413.59" cy="271.84" r="1.8"/><circle cx="414.67" cy="277.08" r="1.8"/><circle cx="418.48" cy="250.25" r="1.8"/><circle cx="400.94" cy="259.81" r="1.8"/><circle cx="418.44" cy="254.61" r="1.8"/><circle cx="421.17" cy="293.07" r="1.8"/><circle cx="448.53" cy="261.05" r="1.8"/><circle cx="414.67" cy="261.81" r="1.8"/><circle cx="410.44" cy="248.3" r="1.8"/><circle cx="416.9" cy="272.64" r="1.8"/><circle cx="381.97" cy="275.79" r="1.8"/><circle cx="418.77" cy="267.6" r="1.8"/><circle cx="435.82" cy="287.78" r="1.8"/><circle cx="415.4" cy="279.88" r="1.8"/><circle cx="415.26" cy="261.95" r="1.8"/><circle cx="413.5" cy="281.81" r="1.8"/><circle cx="416.98" cy="277.83" r="1.8"/><circle cx="404.42" cy="259.21" r="1.8"/><circle cx="429.8" cy="265.67" r="1.8"/><circle cx="409.84" cy="284.33" r="1.8"/><circle cx="409.92" cy="251.81" r="1.8"/><circle cx="430.84" cy="269.73" r="1.8"/><circle cx="415.98" cy="271.94" r="1.8"/><circle cx="410.42" cy="267.05" r="1.8"/><circle cx="430.83" cy="267.32" r="1.8"/><circle cx="418.26" cy="255.31" r="1.8"/><circle cx="424.41" cy="265.48" r="1.8"/><circle cx="410.69" cy="275.77" r="1.8"/><circle cx="399.81" cy="272.26" r="1.8"/><circle cx="417.49" cy="263.51" r="1.8"/><circle cx="428.92" cy="275" r="1.8"/><circle cx="411.72" cy="276.54" r="1.8"/><circle cx="419.24" cy="287.97" r="1.8"/><circle cx="422.51" cy="263.37" r="1.8"/><circle cx="418.34" cy="269.52" r="1.8"/><circle cx="416.61" cy="271.06" r="1.8"/><circle cx="422.99" cy="276.71" r="1.8"/><circle cx="418.84" cy="276.33" r="1.8"/><circle cx="411.12" cy="269.35" r="1.8"/><circle cx="425.6" cy="278.84" r="1.8"/><circle cx="426.5" cy="268.97" r="1.8"/><circle cx="419.44" cy="256.49" r="1.8"/><circle cx="422.58" cy="273.91" r="1.8"/><circle cx="382.11" cy="266.79" r="1.8"/><circle cx="418.47" cy="242.9" r="1.8"/><circle cx="416.4" cy="268.67" r="1.8"/><circle cx="390.51" cy="248.57" r="1.8"/><circle cx="442.97" cy="258.99" r="1.8"/><circle cx="419.24" cy="262.49" r="1.8"/><circle cx="412.06" cy="270.4" r="1.8"/><circle cx="412.63" cy="272.67" r="1.8"/><circle cx="419.66" cy="253.55" r="1.8"/><circle cx="416.02" cy="267.63" r="1.8"/><circle cx="401.42" cy="253.43" r="1.8"/><circle cx="412.44" cy="286" r="1.8"/><circle cx="420.15" cy="270.73" r="1.8"/><circle cx="421.68" cy="250.51" r="1.8"/><circle cx="427.44" cy="262.26" r="1.8"/><circle cx="402.56" cy="246.61" r="1.8"/><circle cx="410.36" cy="266.97" r="1.8"/><circle cx="419.5" cy="280.17" r="1.8"/><circle cx="410.59" cy="267.61" r="1.8"/><circle cx="418.09" cy="255.58" r="1.8"/><circle cx="405.61" cy="265.95" r="1.8"/><circle cx="423.94" cy="272.94" r="1.8"/><circle cx="416.75" cy="270.44" r="1.8"/><circle cx="421.5" cy="278.5" r="1.8"/><circle cx="416.55" cy="271.82" r="1.8"/><circle cx="409.09" cy="267.51" r="1.8"/><circle cx="400.73" cy="256.14" r="1.8"/><circle cx="416.68" cy="263.17" r="1.8"/><circle cx="410.73" cy="277.18" r="1.8"/><circle cx="402.76" cy="282.98" r="1.8"/><circle cx="411.32" cy="249.96" r="1.8"/><circle cx="426.8" cy="278.89" r="1.8"/><circle cx="427.61" cy="263.47" r="1.8"/><circle cx="423.29" cy="277.47" r="1.8"/><circle cx="434.22" cy="262.87" r="1.8"/><circle cx="413.02" cy="272.22" r="1.8"/><circle cx="414.76" cy="255.05" r="1.8"/><circle cx="407.75" cy="268.08" r="1.8"/><circle cx="406.73" cy="292.19" r="1.8"/><circle cx="431.1" cy="288.42" r="1.8"/><circle cx="420.4" cy="267.12" r="1.8"/><circle cx="425.16" cy="282.16" r="1.8"/><circle cx="440.2" cy="263.48" r="1.8"/><circle cx="434.02" cy="270.88" r="1.8"/><circle cx="408.62" cy="254.98" r="1.8"/><circle cx="425.41" cy="270.2" r="1.8"/><circle cx="407.08" cy="256.16" r="1.8"/><circle cx="425.52" cy="285.57" r="1.8"/><circle cx="392.56" cy="261.68" r="1.8"/><circle cx="407.96" cy="270.49" r="1.8"/><circle cx="405.01" cy="272.47" r="1.8"/><circle cx="442.78" cy="238.67" r="1.8"/><circle cx="400.34" cy="262.15" r="1.8"/><circle cx="426.65" cy="266.89" r="1.8"/><circle cx="426.34" cy="265" r="1.8"/><circle cx="417.61" cy="281.47" r="1.8"/><circle cx="424.13" cy="275" r="1.8"/><circle cx="440.07" cy="264.55" r="1.8"/><circle cx="418.85" cy="279.76" r="1.8"/><circle cx="414.02" cy="269.3" r="1.8"/><circle cx="428.89" cy="269.86" r="1.8"/><circle cx="427.03" cy="268.11" r="1.8"/><circle cx="406.03" cy="276.25" r="1.8"/><circle cx="419.32" cy="286.85" r="1.8"/><circle cx="419.13" cy="269.76" r="1.8"/><circle cx="406.08" cy="263.81" r="1.8"/><circle cx="407.83" cy="264.58" r="1.8"/><circle cx="408.27" cy="259.08" r="1.8"/><circle cx="401.23" cy="255" r="1.8"/><circle cx="421.22" cy="267.3" r="1.8"/><circle cx="420.73" cy="257.35" r="1.8"/><circle cx="396.15" cy="260.4" r="1.8"/><circle cx="412.6" cy="259.81" r="1.8"/><circle cx="417.88" cy="267.42" r="1.8"/><circle cx="404.06" cy="266.21" r="1.8"/><circle cx="413.11" cy="264.84" r="1.8"/><circle cx="419.07" cy="260.25" r="1.8"/><circle cx="400.81" cy="272.16" r="1.8"/><circle cx="413.56" cy="257.64" r="1.8"/><circle cx="394.65" cy="274.96" r="1.8"/><circle cx="426.33" cy="246.14" r="1.8"/><circle cx="406.98" cy="260.65" r="1.8"/><circle cx="402.94" cy="247.38" r="1.8"/><circle cx="399.27" cy="265.94" r="1.8"/><circle cx="394.9" cy="259.23" r="1.8"/><circle cx="427.89" cy="282.1" r="1.8"/><circle cx="408.37" cy="270.73" r="1.8"/><circle cx="410.82" cy="267.28" r="1.8"/><circle cx="412.41" cy="265.69" r="1.8"/><circle cx="402.16" cy="263.03" r="1.8"/><circle cx="422.98" cy="268.49" r="1.8"/><circle cx="392.92" cy="267.92" r="1.8"/><circle cx="424.12" cy="262.41" r="1.8"/><circle cx="408.93" cy="280.33" r="1.8"/><circle cx="416.26" cy="272.64" r="1.8"/><circle cx="419.77" cy="260.86" r="1.8"/><circle cx="423.53" cy="270.28" r="1.8"/><circle cx="404.42" cy="259.05" r="1.8"/><circle cx="423.82" cy="277.77" r="1.8"/><circle cx="415.15" cy="273.52" r="1.8"/><circle cx="413.78" cy="261.2" r="1.8"/><circle cx="412.11" cy="247.13" r="1.8"/><circle cx="426.03" cy="279.88" r="1.8"/><circle cx="420.09" cy="282.68" r="1.8"/><circle cx="427.45" cy="279.31" r="1.8"/><circle cx="424.18" cy="279.39" r="1.8"/><circle cx="389.88" cy="263.98" r="1.8"/><circle cx="414.78" cy="261.86" r="1.8"/><circle cx="425" cy="269.97" r="1.8"/><circle cx="403.93" cy="265.26" r="1.8"/><circle cx="400.22" cy="263.18" r="1.8"/><circle cx="394.56" cy="264.69" r="1.8"/><circle cx="441.66" cy="267.28" r="1.8"/><circle cx="407.16" cy="266.7" r="1.8"/><circle cx="417.23" cy="260.45" r="1.8"/><circle cx="405.74" cy="277.13" r="1.8"/><circle cx="419.56" cy="273.22" r="1.8"/><circle cx="430.92" cy="268.17" r="1.8"/><circle cx="402.26" cy="247.3" r="1.8"/><circle cx="415.05" cy="275.72" r="1.8"/><circle cx="408.58" cy="262.58" r="1.8"/><circle cx="398.29" cy="273.55" r="1.8"/><circle cx="403.9" cy="270.08" r="1.8"/><circle cx="415.99" cy="278.42" r="1.8"/><circle cx="431.82" cy="247.33" r="1.8"/><circle cx="427.47" cy="267.01" r="1.8"/><circle cx="415.51" cy="272.93" r="1.8"/><circle cx="400.36" cy="260.42" r="1.8"/><circle cx="421.79" cy="274.94" r="1.8"/><circle cx="415.62" cy="266.98" r="1.8"/><circle cx="415.45" cy="285.11" r="1.8"/><circle cx="400.63" cy="266.13" r="1.8"/><circle cx="413.61" cy="264.57" r="1.8"/><circle cx="433.86" cy="257.62" r="1.8"/><circle cx="429.48" cy="261.09" r="1.8"/><circle cx="432.43" cy="279.4" r="1.8"/><circle cx="424.48" cy="290.69" r="1.8"/><circle cx="412.02" cy="285.19" r="1.8"/><circle cx="415.72" cy="270.91" r="1.8"/><circle cx="417.1" cy="260.55" r="1.8"/><circle cx="420.83" cy="263.59" r="1.8"/><circle cx="411.12" cy="261.59" r="1.8"/><circle cx="407.7" cy="268.45" r="1.8"/><circle cx="426.07" cy="270.05" r="1.8"/><circle cx="412.26" cy="269.18" r="1.8"/><circle cx="423.51" cy="256.75" r="1.8"/><circle cx="413.43" cy="272.77" r="1.8"/><circle cx="422" cy="260.25" r="1.8"/><circle cx="420.49" cy="280.3" r="1.8"/><circle cx="422.59" cy="277.85" r="1.8"/><circle cx="422.1" cy="257.11" r="1.8"/><circle cx="406.95" cy="279.96" r="1.8"/><circle cx="397.91" cy="248.91" r="1.8"/><circle cx="415.3" cy="267.21" r="1.8"/><circle cx="431.05" cy="266.89" r="1.8"/><circle cx="408.02" cy="271.99" r="1.8"/><circle cx="407.14" cy="264.58" r="1.8"/><circle cx="436.81" cy="263.61" r="1.8"/><circle cx="401.42" cy="257.57" r="1.8"/><circle cx="408.22" cy="252.23" r="1.8"/><circle cx="410.37" cy="276.24" r="1.8"/><circle cx="409.45" cy="244.95" r="1.8"/><circle cx="407.26" cy="285.97" r="1.8"/><circle cx="425.7" cy="280.66" r="1.8"/><circle cx="417.62" cy="259.07" r="1.8"/><circle cx="417.4" cy="262.67" r="1.8"/><circle cx="400.4" cy="255.31" r="1.8"/><circle cx="423.07" cy="264.99" r="1.8"/><circle cx="417.89" cy="257.28" r="1.8"/><circle cx="417.71" cy="259.77" r="1.8"/><circle cx="423.35" cy="272.63" r="1.8"/><circle cx="418.62" cy="266.95" r="1.8"/><circle cx="415.46" cy="260.98" r="1.8"/><circle cx="419.59" cy="267.4" r="1.8"/><circle cx="406.47" cy="278.52" r="1.8"/><circle cx="403.88" cy="278.6" r="1.8"/><circle cx="398" cy="230.41" r="1.8"/><circle cx="424.66" cy="275.52" r="1.8"/><circle cx="407.19" cy="274.92" r="1.8"/><circle cx="417.37" cy="267.82" r="1.8"/><circle cx="425.99" cy="269.56" r="1.8"/><circle cx="432.44" cy="261.51" r="1.8"/><circle cx="412.43" cy="264.85" r="1.8"/><circle cx="417.28" cy="263.16" r="1.8"/><circle cx="416.63" cy="267.56" r="1.8"/><circle cx="398.67" cy="265.15" r="1.8"/><circle cx="411.34" cy="269.18" r="1.8"/><circle cx="441.54" cy="276.68" r="1.8"/><circle cx="414.96" cy="273.56" r="1.8"/><circle cx="432.1" cy="278.19" r="1.8"/><circle cx="422.81" cy="272.06" r="1.8"/><circle cx="431.99" cy="268.42" r="1.8"/><circle cx="428.01" cy="267.3" r="1.8"/><circle cx="417.86" cy="277.11" r="1.8"/><circle cx="404.34" cy="273.19" r="1.8"/><circle cx="434.55" cy="272.96" r="1.8"/><circle cx="422.3" cy="258.57" r="1.8"/><circle cx="420.24" cy="266.97" r="1.8"/><circle cx="423.77" cy="266.01" r="1.8"/><circle cx="408.44" cy="247.66" r="1.8"/><circle cx="417.48" cy="261.78" r="1.8"/><circle cx="415.72" cy="272.18" r="1.8"/><circle cx="396.31" cy="245.97" r="1.8"/><circle cx="400.05" cy="268.02" r="1.8"/><circle cx="414.59" cy="259.04" r="1.8"/><circle cx="395.28" cy="263.65" r="1.8"/><circle cx="422.52" cy="263.84" r="1.8"/><circle cx="422.84" cy="258.77" r="1.8"/><circle cx="415.02" cy="271.64" r="1.8"/><circle cx="419.39" cy="285.14" r="1.8"/><circle cx="391.91" cy="256.98" r="1.8"/><circle cx="417.28" cy="268.85" r="1.8"/><circle cx="422.62" cy="270.85" r="1.8"/><circle cx="422.29" cy="268.09" r="1.8"/><circle cx="424.17" cy="259.99" r="1.8"/><circle cx="415.08" cy="268.48" r="1.8"/><circle cx="441.74" cy="273.29" r="1.8"/><circle cx="419.66" cy="266.52" r="1.8"/><circle cx="426.03" cy="269.91" r="1.8"/><circle cx="425.64" cy="249.72" r="1.8"/><circle cx="408.6" cy="263.09" r="1.8"/><circle cx="405.29" cy="259.56" r="1.8"/><circle cx="422.86" cy="255.44" r="1.8"/><circle cx="404.11" cy="274.46" r="1.8"/><circle cx="410.12" cy="273.58" r="1.8"/><circle cx="428.55" cy="254.8" r="1.8"/><circle cx="405.57" cy="280.96" r="1.8"/><circle cx="406.6" cy="268" r="1.8"/><circle cx="404.2" cy="235.44" r="1.8"/><circle cx="401.98" cy="262.39" r="1.8"/><circle cx="440.12" cy="295.11" r="1.8"/><circle cx="420.7" cy="268.04" r="1.8"/><circle cx="428.2" cy="296.69" r="1.8"/><circle cx="397.75" cy="272.58" r="1.8"/><circle cx="393.44" cy="254.61" r="1.8"/><circle cx="400.55" cy="293.52" r="1.8"/><circle cx="425.27" cy="249.36" r="1.8"/><circle cx="426.45" cy="273.88" r="1.8"/><circle cx="389.68" cy="288.72" r="1.8"/><circle cx="399.47" cy="278.05" r="1.8"/><circle cx="424.07" cy="273.76" r="1.8"/><circle cx="417.88" cy="265.47" r="1.8"/><circle cx="421.22" cy="271.59" r="1.8"/><circle cx="421.65" cy="280.3" r="1.8"/><circle cx="402.25" cy="251.37" r="1.8"/><circle cx="416.67" cy="267.89" r="1.8"/><circle cx="412.92" cy="257.63" r="1.8"/><circle cx="426.86" cy="260.44" r="1.8"/><circle cx="412.66" cy="267.52" r="1.8"/><circle cx="398.06" cy="258.36" r="1.8"/><circle cx="427.15" cy="271.57" r="1.8"/><circle cx="432.16" cy="263.08" r="1.8"/><circle cx="428.13" cy="290.73" r="1.8"/><circle cx="412.45" cy="283.65" r="1.8"/><circle cx="406.74" cy="277.68" r="1.8"/><circle cx="428.55" cy="264.82" r="1.8"/><circle cx="408.44" cy="267.93" r="1.8"/><circle cx="420.28" cy="275.79" r="1.8"/><circle cx="422.68" cy="274.95" r="1.8"/><circle cx="414.21" cy="274.1" r="1.8"/><circle cx="389.15" cy="266.64" r="1.8"/><circle cx="420.06" cy="243.83" r="1.8"/><circle cx="406.19" cy="261.59" r="1.8"/><circle cx="394.88" cy="270.88" r="1.8"/><circle cx="414.99" cy="247.22" r="1.8"/><circle cx="416.68" cy="265.34" r="1.8"/><circle cx="414.56" cy="277.94" r="1.8"/><circle cx="421.25" cy="270.09" r="1.8"/><circle cx="397.79" cy="263.97" r="1.8"/><circle cx="420.77" cy="266.56" r="1.8"/><circle cx="436.58" cy="276.76" r="1.8"/><circle cx="414.65" cy="275.86" r="1.8"/><circle cx="408.71" cy="280.19" r="1.8"/><circle cx="413.81" cy="258.63" r="1.8"/><circle cx="426.71" cy="270.16" r="1.8"/><circle cx="413.68" cy="278.87" r="1.8"/><circle cx="408.1" cy="284.5" r="1.8"/><circle cx="393.13" cy="267.79" r="1.8"/><circle cx="428.44" cy="258.88" r="1.8"/><circle cx="428.61" cy="272.52" r="1.8"/><circle cx="415.52" cy="276.3" r="1.8"/><circle cx="434.59" cy="264.68" r="1.8"/><circle cx="411.82" cy="271.69" r="1.8"/><circle cx="422.16" cy="271.09" r="1.8"/><circle cx="398.24" cy="264.87" r="1.8"/><circle cx="406.2" cy="271.31" r="1.8"/><circle cx="415.3" cy="261.37" r="1.8"/><circle cx="419.89" cy="263.51" r="1.8"/><circle cx="421.19" cy="270.6" r="1.8"/><circle cx="407.25" cy="273.17" r="1.8"/><circle cx="410.64" cy="266.76" r="1.8"/><circle cx="414.5" cy="275.2" r="1.8"/><circle cx="412.92" cy="272.57" r="1.8"/><circle cx="413.13" cy="273.64" r="1.8"/><circle cx="423.04" cy="264.48" r="1.8"/><circle cx="426.26" cy="278.51" r="1.8"/><circle cx="398.52" cy="260.06" r="1.8"/><circle cx="427.69" cy="271.46" r="1.8"/><circle cx="417.21" cy="266.49" r="1.8"/><circle cx="418.58" cy="259.77" r="1.8"/><circle cx="418.68" cy="268.55" r="1.8"/><circle cx="424.18" cy="274.82" r="1.8"/><circle cx="424.65" cy="266.79" r="1.8"/><circle cx="395.54" cy="264.42" r="1.8"/><circle cx="423.59" cy="255.23" r="1.8"/><circle cx="405.24" cy="251.3" r="1.8"/><circle cx="419.16" cy="262.61" r="1.8"/><circle cx="418.4" cy="253.56" r="1.8"/><circle cx="401.44" cy="259.89" r="1.8"/><circle cx="415.8" cy="272.09" r="1.8"/><circle cx="412.29" cy="283.16" r="1.8"/><circle cx="409.46" cy="260.78" r="1.8"/><circle cx="442.12" cy="250.56" r="1.8"/><circle cx="417.12" cy="264.26" r="1.8"/><circle cx="412.25" cy="259.86" r="1.8"/><circle cx="431.7" cy="269.06" r="1.8"/><circle cx="415.25" cy="258.6" r="1.8"/><circle cx="413.88" cy="252.54" r="1.8"/><circle cx="397.23" cy="267.48" r="1.8"/><circle cx="421.19" cy="259.81" r="1.8"/><circle cx="424.87" cy="269.71" r="1.8"/><circle cx="440.59" cy="281.24" r="1.8"/><circle cx="406.35" cy="265.11" r="1.8"/><circle cx="425.27" cy="270.67" r="1.8"/><circle cx="433.96" cy="264.23" r="1.8"/><circle cx="422.32" cy="264.87" r="1.8"/><circle cx="415.71" cy="270.49" r="1.8"/><circle cx="394.12" cy="261.84" r="1.8"/><circle cx="417.4" cy="272.27" r="1.8"/><circle cx="410.57" cy="262.11" r="1.8"/><circle cx="392.93" cy="277.73" r="1.8"/><circle cx="421.21" cy="279.65" r="1.8"/><circle cx="414.56" cy="260.84" r="1.8"/><circle cx="412.58" cy="292.06" r="1.8"/><circle cx="441.4" cy="273.59" r="1.8"/><circle cx="410.75" cy="270.13" r="1.8"/><circle cx="396.55" cy="261.14" r="1.8"/><circle cx="395.22" cy="269.34" r="1.8"/><circle cx="420.47" cy="271.16" r="1.8"/><circle cx="413.63" cy="282.94" r="1.8"/><circle cx="408.67" cy="261.2" r="1.8"/><circle cx="396.11" cy="257.01" r="1.8"/><circle cx="407.98" cy="268.89" r="1.8"/><circle cx="400.88" cy="277.74" r="1.8"/><circle cx="414.55" cy="260.61" r="1.8"/><circle cx="407.65" cy="275.94" r="1.8"/><circle cx="407.5" cy="279.2" r="1.8"/><circle cx="415.11" cy="259.36" r="1.8"/><circle cx="405.14" cy="276.57" r="1.8"/><circle cx="418.48" cy="267.84" r="1.8"/><circle cx="384.1" cy="263.9" r="1.8"/><circle cx="404.07" cy="280.18" r="1.8"/><circle cx="426.6" cy="262.46" r="1.8"/><circle cx="417.32" cy="277.48" r="1.8"/><circle cx="401.17" cy="267.62" r="1.8"/><circle cx="413.71" cy="265.91" r="1.8"/><circle cx="410.11" cy="269.67" r="1.8"/><circle cx="410.48" cy="279.81" r="1.8"/><circle cx="428.55" cy="263.17" r="1.8"/><circle cx="411.58" cy="275.95" r="1.8"/><circle cx="417.32" cy="279.7" r="1.8"/><circle cx="404.16" cy="254.4" r="1.8"/><circle cx="408.56" cy="256.96" r="1.8"/><circle cx="401.17" cy="280.52" r="1.8"/><circle cx="409.35" cy="270.65" r="1.8"/><circle cx="411.59" cy="269.2" r="1.8"/><circle cx="412.53" cy="291.05" r="1.8"/><circle cx="415.88" cy="273.85" r="1.8"/><circle cx="416.25" cy="260.68" r="1.8"/><circle cx="421.41" cy="251.52" r="1.8"/><circle cx="413.42" cy="259.22" r="1.8"/><circle cx="427.44" cy="255.05" r="1.8"/><circle cx="420.96" cy="271.03" r="1.8"/><circle cx="433.26" cy="279.66" r="1.8"/><circle cx="414.93" cy="268.9" r="1.8"/><circle cx="431.11" cy="288.09" r="1.8"/><circle cx="416.29" cy="259.58" r="1.8"/><circle cx="393.79" cy="261.83" r="1.8"/><circle cx="415.23" cy="280.35" r="1.8"/><circle cx="413.03" cy="266.72" r="1.8"/><circle cx="396.37" cy="271.93" r="1.8"/><circle cx="402.48" cy="255.27" r="1.8"/><circle cx="409.87" cy="262.54" r="1.8"/><circle cx="444.99" cy="279.4" r="1.8"/><circle cx="418.29" cy="268.26" r="1.8"/><circle cx="438.95" cy="276.49" r="1.8"/><circle cx="424.02" cy="266.31" r="1.8"/><circle cx="425.39" cy="272.24" r="1.8"/><circle cx="422.92" cy="253.61" r="1.8"/><circle cx="401.86" cy="264.8" r="1.8"/><circle cx="426.97" cy="272.28" r="1.8"/><circle cx="406.32" cy="276.94" r="1.8"/><circle cx="419.53" cy="280.56" r="1.8"/><circle cx="414.59" cy="263.7" r="1.8"/><circle cx="436.51" cy="260.88" r="1.8"/><circle cx="426.5" cy="257.97" r="1.8"/><circle cx="432.33" cy="278.57" r="1.8"/><circle cx="421.87" cy="260.69" r="1.8"/><circle cx="415.64" cy="284.41" r="1.8"/><circle cx="422.64" cy="264.59" r="1.8"/><circle cx="437.51" cy="242.49" r="1.8"/><circle cx="420.37" cy="261.88" r="1.8"/><circle cx="416.02" cy="271.81" r="1.8"/><circle cx="404.4" cy="272.33" r="1.8"/><circle cx="405.93" cy="273.21" r="1.8"/><circle cx="414.52" cy="292.88" r="1.8"/><circle cx="421.8" cy="264.5" r="1.8"/><circle cx="421.32" cy="278.61" r="1.8"/><circle cx="414.75" cy="252.25" r="1.8"/><circle cx="417.35" cy="270.17" r="1.8"/><circle cx="429.64" cy="264.81" r="1.8"/><circle cx="432.49" cy="270.01" r="1.8"/><circle cx="426.59" cy="269.96" r="1.8"/><circle cx="429.61" cy="268.05" r="1.8"/><circle cx="427.02" cy="262.43" r="1.8"/><circle cx="432.32" cy="273.51" r="1.8"/><circle cx="404.23" cy="275.26" r="1.8"/><circle cx="409.1" cy="268.31" r="1.8"/><circle cx="417.85" cy="270.19" r="1.8"/><circle cx="419.24" cy="263.76" r="1.8"/><circle cx="427.9" cy="266.94" r="1.8"/><circle cx="398.96" cy="241.09" r="1.8"/><circle cx="417.06" cy="260.46" r="1.8"/><circle cx="418.14" cy="266.91" r="1.8"/><circle cx="409.57" cy="263.76" r="1.8"/><circle cx="413.94" cy="269.53" r="1.8"/><circle cx="428.68" cy="251.36" r="1.8"/><circle cx="419.98" cy="264.21" r="1.8"/><circle cx="414.14" cy="279.91" r="1.8"/><circle cx="417.63" cy="260.97" r="1.8"/><circle cx="414.63" cy="255.13" r="1.8"/><circle cx="424.3" cy="267.73" r="1.8"/><circle cx="414.5" cy="247.41" r="1.8"/><circle cx="424.71" cy="251.27" r="1.8"/><circle cx="410.72" cy="267.35" r="1.8"/><circle cx="415.49" cy="266.43" r="1.8"/><circle cx="405.61" cy="261.76" r="1.8"/><circle cx="413.2" cy="279.1" r="1.8"/><circle cx="426.7" cy="291.27" r="1.8"/><circle cx="406.59" cy="253.67" r="1.8"/><circle cx="411.33" cy="276.98" r="1.8"/><circle cx="416.78" cy="269.8" r="1.8"/><circle cx="411.3" cy="249.75" r="1.8"/><circle cx="426.71" cy="268.08" r="1.8"/><circle cx="404.54" cy="260.6" r="1.8"/><circle cx="423.66" cy="266.7" r="1.8"/><circle cx="427.88" cy="279.38" r="1.8"/><circle cx="437.36" cy="279.02" r="1.8"/><circle cx="415.28" cy="267.87" r="1.8"/><circle cx="408.56" cy="275.57" r="1.8"/><circle cx="395.56" cy="254.86" r="1.8"/><circle cx="422.09" cy="266.26" r="1.8"/><circle cx="423.37" cy="281.39" r="1.8"/><circle cx="418.54" cy="265.14" r="1.8"/><circle cx="419.03" cy="272.9" r="1.8"/><circle cx="422.02" cy="271.57" r="1.8"/><circle cx="411.32" cy="259.27" r="1.8"/><circle cx="396.95" cy="289.66" r="1.8"/><circle cx="402.88" cy="275.08" r="1.8"/><circle cx="408.72" cy="266.18" r="1.8"/><circle cx="407.53" cy="279.66" r="1.8"/><circle cx="401.4" cy="257.88" r="1.8"/><circle cx="411.96" cy="293.95" r="1.8"/><circle cx="406.44" cy="259.98" r="1.8"/><circle cx="421.89" cy="263.72" r="1.8"/><circle cx="415.24" cy="274.06" r="1.8"/><circle cx="423.14" cy="269.04" r="1.8"/><circle cx="398.84" cy="276.74" r="1.8"/><circle cx="405.88" cy="253.83" r="1.8"/><circle cx="401.35" cy="268.24" r="1.8"/><circle cx="419.68" cy="245.21" r="1.8"/><circle cx="444.32" cy="268.96" r="1.8"/><circle cx="417.92" cy="280.09" r="1.8"/><circle cx="411.96" cy="271.49" r="1.8"/><circle cx="417.86" cy="268.05" r="1.8"/><circle cx="415.63" cy="258.19" r="1.8"/><circle cx="424.71" cy="264.84" r="1.8"/><circle cx="415.95" cy="271.21" r="1.8"/><circle cx="407.88" cy="265.25" r="1.8"/><circle cx="391.4" cy="271.68" r="1.8"/><circle cx="419.19" cy="259.46" r="1.8"/><circle cx="425.07" cy="265.14" r="1.8"/><circle cx="417.94" cy="265.37" r="1.8"/><circle cx="407.82" cy="252.23" r="1.8"/><circle cx="411.96" cy="273.4" r="1.8"/><circle cx="412.97" cy="276.16" r="1.8"/><circle cx="421.22" cy="271.43" r="1.8"/><circle cx="415.36" cy="273.26" r="1.8"/><circle cx="426.6" cy="274.44" r="1.8"/><circle cx="414.09" cy="264.28" r="1.8"/><circle cx="407.65" cy="262.02" r="1.8"/><circle cx="439.94" cy="291.89" r="1.8"/><circle cx="403.06" cy="276.56" r="1.8"/><circle cx="405.82" cy="274.88" r="1.8"/><circle cx="442.99" cy="293.76" r="1.8"/><circle cx="419.65" cy="262.08" r="1.8"/><circle cx="432.21" cy="269.61" r="1.8"/><circle cx="393.13" cy="245.03" r="1.8"/><circle cx="427.38" cy="275.32" r="1.8"/><circle cx="415.92" cy="274.07" r="1.8"/><circle cx="416.87" cy="267.68" r="1.8"/><circle cx="420.42" cy="269.26" r="1.8"/><circle cx="390.75" cy="271.23" r="1.8"/><circle cx="407.73" cy="265.18" r="1.8"/><circle cx="421.8" cy="278.47" r="1.8"/><circle cx="445.41" cy="264.47" r="1.8"/><circle cx="406.26" cy="263.94" r="1.8"/><circle cx="437.46" cy="275.63" r="1.8"/><circle cx="424.27" cy="285.85" r="1.8"/><circle cx="429.33" cy="267.09" r="1.8"/><circle cx="407.14" cy="260.44" r="1.8"/><circle cx="421.5" cy="269.73" r="1.8"/><circle cx="408.08" cy="257.99" r="1.8"/><circle cx="404.86" cy="262.97" r="1.8"/><circle cx="432.57" cy="255.11" r="1.8"/><circle cx="406.9" cy="287.02" r="1.8"/><circle cx="409.4" cy="277.07" r="1.8"/><circle cx="422.25" cy="269.17" r="1.8"/><circle cx="405.48" cy="265.94" r="1.8"/><circle cx="399.62" cy="270.14" r="1.8"/><circle cx="418.92" cy="274.79" r="1.8"/><circle cx="418.39" cy="286.48" r="1.8"/><circle cx="429.78" cy="261.82" r="1.8"/><circle cx="405.62" cy="262.89" r="1.8"/><circle cx="425.25" cy="258.28" r="1.8"/><circle cx="422.42" cy="269.71" r="1.8"/><circle cx="411.88" cy="254.82" r="1.8"/><circle cx="414.35" cy="261.65" r="1.8"/><circle cx="416.07" cy="271.36" r="1.8"/><circle cx="406.45" cy="259.87" r="1.8"/><circle cx="403.78" cy="272.57" r="1.8"/><circle cx="422.31" cy="277.09" r="1.8"/><circle cx="406.1" cy="281.54" r="1.8"/><circle cx="403.25" cy="263.47" r="1.8"/><circle cx="423.07" cy="274.92" r="1.8"/><circle cx="408.84" cy="262.35" r="1.8"/><circle cx="412.11" cy="260.94" r="1.8"/><circle cx="403" cy="266.12" r="1.8"/><circle cx="399.8" cy="250.16" r="1.8"/><circle cx="403.1" cy="271.69" r="1.8"/><circle cx="397.89" cy="277.97" r="1.8"/><circle cx="431.88" cy="267.2" r="1.8"/><circle cx="406.86" cy="270.02" r="1.8"/><circle cx="394.48" cy="255.67" r="1.8"/><circle cx="405.5" cy="282.21" r="1.8"/><circle cx="422.01" cy="278.37" r="1.8"/><circle cx="400.4" cy="252.69" r="1.8"/><circle cx="415.07" cy="275.54" r="1.8"/><circle cx="406.85" cy="268.01" r="1.8"/><circle cx="392.54" cy="250.54" r="1.8"/><circle cx="410.38" cy="269.51" r="1.8"/><circle cx="406.01" cy="252.75" r="1.8"/><circle cx="417.47" cy="256.58" r="1.8"/><circle cx="421.8" cy="269.9" r="1.8"/><circle cx="414.29" cy="246.24" r="1.8"/><circle cx="449.37" cy="283.54" r="1.8"/><circle cx="405.64" cy="243.77" r="1.8"/><circle cx="427.56" cy="255.48" r="1.8"/><circle cx="419.15" cy="279.49" r="1.8"/><circle cx="428.08" cy="277.58" r="1.8"/><circle cx="422.02" cy="278.47" r="1.8"/><circle cx="385.97" cy="271.75" r="1.8"/><circle cx="412.54" cy="263.17" r="1.8"/><circle cx="424.69" cy="258.41" r="1.8"/><circle cx="415.35" cy="255.52" r="1.8"/><circle cx="403.2" cy="258.31" r="1.8"/><circle cx="407.93" cy="264.46" r="1.8"/><circle cx="419.28" cy="276.21" r="1.8"/><circle cx="430.91" cy="281.53" r="1.8"/><circle cx="409.7" cy="268.95" r="1.8"/><circle cx="416.08" cy="276.46" r="1.8"/><circle cx="406.64" cy="278.21" r="1.8"/><circle cx="404.17" cy="264.39" r="1.8"/><circle cx="408.14" cy="279.45" r="1.8"/><circle cx="427.44" cy="272.71" r="1.8"/><circle cx="421.69" cy="253.89" r="1.8"/><circle cx="411.24" cy="263.25" r="1.8"/><circle cx="414.83" cy="265.44" r="1.8"/><circle cx="421.74" cy="272.87" r="1.8"/><circle cx="413.15" cy="280.35" r="1.8"/><circle cx="411.04" cy="248.01" r="1.8"/><circle cx="412.25" cy="272.42" r="1.8"/><circle cx="420.83" cy="271.18" r="1.8"/><circle cx="411.37" cy="274" r="1.8"/><circle cx="422.1" cy="256.36" r="1.8"/><circle cx="397.93" cy="266.41" r="1.8"/><circle cx="407.96" cy="285.94" r="1.8"/><circle cx="410.99" cy="276.62" r="1.8"/><circle cx="420.26" cy="271.34" r="1.8"/><circle cx="406.44" cy="254.58" r="1.8"/><circle cx="409.95" cy="276.65" r="1.8"/><circle cx="417.73" cy="266.95" r="1.8"/><circle cx="413.87" cy="260.89" r="1.8"/><circle cx="408.67" cy="260.6" r="1.8"/><circle cx="410.11" cy="275.58" r="1.8"/><circle cx="402.45" cy="257.67" r="1.8"/><circle cx="424.83" cy="267.18" r="1.8"/><circle cx="418.78" cy="269.21" r="1.8"/><circle cx="422.64" cy="273.91" r="1.8"/><circle cx="443.64" cy="293.23" r="1.8"/><circle cx="426.34" cy="274.39" r="1.8"/><circle cx="419.52" cy="281.95" r="1.8"/><circle cx="414.2" cy="262.86" r="1.8"/><circle cx="435.79" cy="267.85" r="1.8"/><circle cx="417.46" cy="256.26" r="1.8"/><circle cx="413.36" cy="281.05" r="1.8"/><circle cx="432.01" cy="290.35" r="1.8"/><circle cx="419.43" cy="271.67" r="1.8"/><circle cx="413.31" cy="268.16" r="1.8"/><circle cx="419.72" cy="263.46" r="1.8"/><circle cx="441.15" cy="286.06" r="1.8"/><circle cx="417.21" cy="284.12" r="1.8"/><circle cx="419.49" cy="278.03" r="1.8"/><circle cx="408.16" cy="243.44" r="1.8"/><circle cx="411.91" cy="277.62" r="1.8"/><circle cx="424.37" cy="275.58" r="1.8"/><circle cx="415.43" cy="260.36" r="1.8"/><circle cx="417.49" cy="265.69" r="1.8"/><circle cx="426.42" cy="274.33" r="1.8"/><circle cx="413.5" cy="293.88" r="1.8"/><circle cx="436.88" cy="264.65" r="1.8"/><circle cx="410.67" cy="274.07" r="1.8"/><circle cx="409.67" cy="259.6" r="1.8"/><circle cx="409.23" cy="269.2" r="1.8"/><circle cx="402.93" cy="264.84" r="1.8"/><circle cx="421.54" cy="285.26" r="1.8"/><circle cx="417.12" cy="269.41" r="1.8"/><circle cx="428.94" cy="271.53" r="1.8"/><circle cx="409.83" cy="273.06" r="1.8"/><circle cx="423.28" cy="267.21" r="1.8"/><circle cx="428.56" cy="266.31" r="1.8"/><circle cx="414.37" cy="273.13" r="1.8"/><circle cx="414.83" cy="264.86" r="1.8"/><circle cx="393.7" cy="256.53" r="1.8"/><circle cx="441.51" cy="254.23" r="1.8"/><circle cx="415.12" cy="270.78" r="1.8"/><circle cx="422.51" cy="249.57" r="1.8"/><circle cx="409.77" cy="271.7" r="1.8"/><circle cx="420.9" cy="266.68" r="1.8"/><circle cx="401.62" cy="258.88" r="1.8"/><circle cx="423.01" cy="272.67" r="1.8"/><circle cx="417.12" cy="264.41" r="1.8"/><circle cx="412.84" cy="256.41" r="1.8"/><circle cx="420.12" cy="271.42" r="1.8"/><circle cx="399.9" cy="274.15" r="1.8"/><circle cx="417.64" cy="272.67" r="1.8"/><circle cx="410.69" cy="261.02" r="1.8"/><circle cx="429.26" cy="267.36" r="1.8"/><circle cx="423.1" cy="274.53" r="1.8"/><circle cx="414.39" cy="289.47" r="1.8"/><circle cx="412.44" cy="263.25" r="1.8"/><circle cx="443.12" cy="268" r="1.8"/><circle cx="403.33" cy="263.49" r="1.8"/><circle cx="440.64" cy="279.71" r="1.8"/><circle cx="428.03" cy="283.36" r="1.8"/><circle cx="426.2" cy="274.84" r="1.8"/><circle cx="391.53" cy="277.01" r="1.8"/><circle cx="423.5" cy="265.55" r="1.8"/><circle cx="409.58" cy="250.26" r="1.8"/><circle cx="404.34" cy="258.06" r="1.8"/><circle cx="421.33" cy="272.03" r="1.8"/><circle cx="409.44" cy="262.67" r="1.8"/><circle cx="423.34" cy="276.18" r="1.8"/><circle cx="407.32" cy="262.83" r="1.8"/><circle cx="421.21" cy="268.96" r="1.8"/><circle cx="419.83" cy="273.27" r="1.8"/><circle cx="404.96" cy="263.5" r="1.8"/><circle cx="407.11" cy="267.27" r="1.8"/><circle cx="409.6" cy="257.89" r="1.8"/><circle cx="408.89" cy="269.14" r="1.8"/><circle cx="410.24" cy="269.69" r="1.8"/><circle cx="432.48" cy="254.4" r="1.8"/><circle cx="419.45" cy="266.33" r="1.8"/><circle cx="411.17" cy="265.42" r="1.8"/><circle cx="411.38" cy="230.72" r="1.8"/><circle cx="408.28" cy="287.04" r="1.8"/><circle cx="418.09" cy="280.22" r="1.8"/><circle cx="414.69" cy="275.28" r="1.8"/><circle cx="406.76" cy="251.2" r="1.8"/><circle cx="409.26" cy="255.95" r="1.8"/><circle cx="411.86" cy="265.36" r="1.8"/><circle cx="401.85" cy="273.65" r="1.8"/><circle cx="416.59" cy="278.59" r="1.8"/><circle cx="407.28" cy="262.68" r="1.8"/><circle cx="420.43" cy="264.91" r="1.8"/><circle cx="411.23" cy="273" r="1.8"/><circle cx="422.35" cy="254.11" r="1.8"/><circle cx="408.03" cy="245.34" r="1.8"/><circle cx="398.62" cy="273" r="1.8"/><circle cx="403.65" cy="263.99" r="1.8"/><circle cx="411.84" cy="281.41" r="1.8"/><circle cx="419.12" cy="265.7" r="1.8"/><circle cx="420.87" cy="281.89" r="1.8"/><circle cx="420.37" cy="267.22" r="1.8"/><circle cx="424.53" cy="243.64" r="1.8"/><circle cx="419.05" cy="272.14" r="1.8"/><circle cx="419.73" cy="256.32" r="1.8"/><circle cx="413.71" cy="256.81" r="1.8"/><circle cx="420.81" cy="258.45" r="1.8"/><circle cx="414.39" cy="271" r="1.8"/><circle cx="414.86" cy="283.62" r="1.8"/><circle cx="418.23" cy="266.09" r="1.8"/><circle cx="445.35" cy="260.94" r="1.8"/><circle cx="402.48" cy="271.01" r="1.8"/><circle cx="411.47" cy="274.21" r="1.8"/><circle cx="413.42" cy="277.22" r="1.8"/><circle cx="419.68" cy="244.8" r="1.8"/><circle cx="415.98" cy="283.73" r="1.8"/><circle cx="430.68" cy="262.78" r="1.8"/><circle cx="401.76" cy="270.77" r="1.8"/><circle cx="439.3" cy="254.55" r="1.8"/><circle cx="399.88" cy="250.62" r="1.8"/><circle cx="409.42" cy="275.52" r="1.8"/><circle cx="420.98" cy="268.98" r="1.8"/><circle cx="416.7" cy="270.64" r="1.8"/><circle cx="415.74" cy="260.49" r="1.8"/><circle cx="417" cy="268.99" r="1.8"/><circle cx="419.47" cy="262.15" r="1.8"/><circle cx="424.67" cy="264.9" r="1.8"/><circle cx="419.67" cy="257.23" r="1.8"/><circle cx="404.58" cy="259.05" r="1.8"/><circle cx="406.61" cy="260.87" r="1.8"/><circle cx="428.38" cy="264.95" r="1.8"/><circle cx="433.39" cy="272.61" r="1.8"/><circle cx="428.09" cy="259.47" r="1.8"/><circle cx="429.83" cy="259.32" r="1.8"/><circle cx="418.75" cy="258.22" r="1.8"/><circle cx="434.73" cy="266.2" r="1.8"/><circle cx="410.76" cy="285.51" r="1.8"/><circle cx="411.73" cy="259.46" r="1.8"/><circle cx="406.06" cy="251.81" r="1.8"/><circle cx="430.13" cy="268.74" r="1.8"/><circle cx="411.21" cy="261.48" r="1.8"/><circle cx="420.55" cy="279.95" r="1.8"/><circle cx="403.44" cy="264.56" r="1.8"/><circle cx="402.68" cy="273.07" r="1.8"/><circle cx="428.79" cy="265.76" r="1.8"/><circle cx="422.38" cy="274.21" r="1.8"/><circle cx="423.66" cy="278.67" r="1.8"/><circle cx="418.74" cy="271.79" r="1.8"/><circle cx="412.37" cy="287.73" r="1.8"/><circle cx="410.89" cy="266.77" r="1.8"/><circle cx="401.92" cy="257.83" r="1.8"/><circle cx="412.56" cy="258.08" r="1.8"/><circle cx="428.19" cy="266.06" r="1.8"/><circle cx="414.14" cy="273.25" r="1.8"/><circle cx="404.17" cy="268.94" r="1.8"/><circle cx="413.08" cy="268.87" r="1.8"/><circle cx="407.13" cy="258.09" r="1.8"/><circle cx="401.45" cy="278.14" r="1.8"/><circle cx="415.01" cy="272.31" r="1.8"/><circle cx="409.09" cy="283.82" r="1.8"/><circle cx="399.96" cy="228.62" r="1.8"/><circle cx="435.61" cy="283.76" r="1.8"/><circle cx="438.15" cy="284.87" r="1.8"/><circle cx="417.25" cy="283.53" r="1.8"/><circle cx="429.32" cy="267.47" r="1.8"/><circle cx="411.82" cy="270.34" r="1.8"/><circle cx="415.63" cy="257.94" r="1.8"/><circle cx="427.75" cy="280.16" r="1.8"/><circle cx="418.62" cy="273" r="1.8"/><circle cx="423.31" cy="260.27" r="1.8"/><circle cx="391.02" cy="278.73" r="1.8"/><circle cx="418.49" cy="268" r="1.8"/><circle cx="412.03" cy="258.14" r="1.8"/><circle cx="414.53" cy="272.9" r="1.8"/><circle cx="396.42" cy="259.33" r="1.8"/><circle cx="408.83" cy="263.24" r="1.8"/><circle cx="421.23" cy="275.32" r="1.8"/><circle cx="421.1" cy="269.94" r="1.8"/><circle cx="425.76" cy="261.31" r="1.8"/><circle cx="423.49" cy="262.72" r="1.8"/><circle cx="429.91" cy="276.81" r="1.8"/><circle cx="419.27" cy="280.47" r="1.8"/><circle cx="413.63" cy="267.51" r="1.8"/><circle cx="410.57" cy="267.32" r="1.8"/><circle cx="410.41" cy="260.13" r="1.8"/><circle cx="407" cy="257.61" r="1.8"/><circle cx="403" cy="254.15" r="1.8"/><circle cx="414.62" cy="242.33" r="1.8"/><circle cx="395.11" cy="269.68" r="1.8"/><circle cx="399.98" cy="251.98" r="1.8"/><circle cx="405.43" cy="253.57" r="1.8"/><circle cx="420.5" cy="271.78" r="1.8"/><circle cx="425.48" cy="273.18" r="1.8"/><circle cx="418.73" cy="279.44" r="1.8"/><circle cx="415.35" cy="268.03" r="1.8"/><circle cx="411.3" cy="268.27" r="1.8"/><circle cx="430.08" cy="272.1" r="1.8"/><circle cx="424.88" cy="261.69" r="1.8"/><circle cx="409.82" cy="267.89" r="1.8"/><circle cx="415.54" cy="275.31" r="1.8"/><circle cx="421.13" cy="248.45" r="1.8"/><circle cx="424.07" cy="282.27" r="1.8"/><circle cx="411.62" cy="255.48" r="1.8"/><circle cx="429.42" cy="269.12" r="1.8"/><circle cx="430.97" cy="265.91" r="1.8"/><circle cx="412.05" cy="273.46" r="1.8"/><circle cx="414.14" cy="267.5" r="1.8"/><circle cx="407.56" cy="255.6" r="1.8"/><circle cx="407.78" cy="272.86" r="1.8"/><circle cx="420.12" cy="264.64" r="1.8"/><circle cx="428.9" cy="268.55" r="1.8"/><circle cx="434.63" cy="306.54" r="1.8"/><circle cx="418.7" cy="275.39" r="1.8"/><circle cx="412.76" cy="266.05" r="1.8"/><circle cx="410.32" cy="273.48" r="1.8"/><circle cx="420.08" cy="270.47" r="1.8"/><circle cx="412.04" cy="277.75" r="1.8"/><circle cx="422.69" cy="256.69" r="1.8"/><circle cx="415.17" cy="266.36" r="1.8"/><circle cx="420.27" cy="271.02" r="1.8"/><circle cx="411.6" cy="274.22" r="1.8"/><circle cx="434.58" cy="262.82" r="1.8"/><circle cx="426.6" cy="268.49" r="1.8"/><circle cx="417.72" cy="258.72" r="1.8"/><circle cx="408.39" cy="263.6" r="1.8"/><circle cx="421.43" cy="279.61" r="1.8"/><circle cx="423.17" cy="265.54" r="1.8"/><circle cx="402.11" cy="296.36" r="1.8"/><circle cx="417.62" cy="301.49" r="1.8"/><circle cx="434.82" cy="261.59" r="1.8"/><circle cx="418.99" cy="248.48" r="1.8"/><circle cx="412.84" cy="264.71" r="1.8"/><circle cx="421.77" cy="265.32" r="1.8"/><circle cx="432.89" cy="277.04" r="1.8"/><circle cx="412.44" cy="270.2" r="1.8"/><circle cx="412.54" cy="265.04" r="1.8"/><circle cx="414.32" cy="285.39" r="1.8"/><circle cx="417.2" cy="275.4" r="1.8"/><circle cx="427.28" cy="273.9" r="1.8"/><circle cx="419.56" cy="262.74" r="1.8"/><circle cx="396.51" cy="258.55" r="1.8"/><circle cx="422.53" cy="276.96" r="1.8"/><circle cx="422.1" cy="251.5" r="1.8"/><circle cx="422.37" cy="268.63" r="1.8"/><circle cx="419.11" cy="270.13" r="1.8"/><circle cx="415.44" cy="253.16" r="1.8"/><circle cx="421.26" cy="275.68" r="1.8"/><circle cx="410.5" cy="273.95" r="1.8"/><circle cx="395.43" cy="282.87" r="1.8"/><circle cx="413.57" cy="275.24" r="1.8"/><circle cx="402.86" cy="295.36" r="1.8"/><circle cx="431.78" cy="251.4" r="1.8"/><circle cx="415.41" cy="260.89" r="1.8"/><circle cx="436.83" cy="247.77" r="1.8"/><circle cx="404.3" cy="280.41" r="1.8"/><circle cx="401.22" cy="290.52" r="1.8"/><circle cx="422.14" cy="252.11" r="1.8"/><circle cx="394.73" cy="271.26" r="1.8"/><circle cx="410.53" cy="271.66" r="1.8"/><circle cx="391.69" cy="273.49" r="1.8"/><circle cx="421.89" cy="286.16" r="1.8"/><circle cx="394.36" cy="276.75" r="1.8"/><circle cx="414.96" cy="253.03" r="1.8"/><circle cx="400.19" cy="276.71" r="1.8"/><circle cx="420.5" cy="258.44" r="1.8"/><circle cx="425.76" cy="267.14" r="1.8"/><circle cx="417.81" cy="259.62" r="1.8"/><circle cx="407.16" cy="259.83" r="1.8"/><circle cx="419.89" cy="277.27" r="1.8"/><circle cx="424.87" cy="263.32" r="1.8"/><circle cx="425.97" cy="264.65" r="1.8"/><circle cx="432.34" cy="237.36" r="1.8"/><circle cx="433.18" cy="267.18" r="1.8"/><circle cx="418.05" cy="261.5" r="1.8"/><circle cx="413.64" cy="267.41" r="1.8"/><circle cx="407.96" cy="250.92" r="1.8"/><circle cx="415.87" cy="267.02" r="1.8"/><circle cx="413.88" cy="269.2" r="1.8"/><circle cx="411.18" cy="260.64" r="1.8"/><circle cx="419.05" cy="266.93" r="1.8"/><circle cx="433.87" cy="266.37" r="1.8"/><circle cx="408.78" cy="261.68" r="1.8"/><circle cx="411.54" cy="273.87" r="1.8"/><circle cx="411.43" cy="272.11" r="1.8"/><circle cx="406.61" cy="265.99" r="1.8"/><circle cx="425.37" cy="265.93" r="1.8"/><circle cx="414.45" cy="255.39" r="1.8"/><circle cx="421.21" cy="285.77" r="1.8"/><circle cx="395.23" cy="277" r="1.8"/><circle cx="420.87" cy="277.1" r="1.8"/><circle cx="414.62" cy="268.67" r="1.8"/><circle cx="402.65" cy="270.3" r="1.8"/><circle cx="423.54" cy="283.13" r="1.8"/><circle cx="424.29" cy="277.26" r="1.8"/><circle cx="418.68" cy="280.94" r="1.8"/><circle cx="421.82" cy="291.25" r="1.8"/><circle cx="407.19" cy="276.91" r="1.8"/><circle cx="425.08" cy="249.64" r="1.8"/><circle cx="412.78" cy="256.68" r="1.8"/><circle cx="420.08" cy="269.07" r="1.8"/><circle cx="423.48" cy="276.45" r="1.8"/><circle cx="420.14" cy="275.68" r="1.8"/><circle cx="409.19" cy="270.81" r="1.8"/><circle cx="419.35" cy="255.33" r="1.8"/><circle cx="417.68" cy="254.04" r="1.8"/><circle cx="430.98" cy="281.03" r="1.8"/><circle cx="409" cy="271.82" r="1.8"/><circle cx="424.46" cy="269" r="1.8"/><circle cx="420.12" cy="267.49" r="1.8"/><circle cx="416.57" cy="282.41" r="1.8"/><circle cx="440.09" cy="264.18" r="1.8"/><circle cx="423.15" cy="263.7" r="1.8"/><circle cx="410.88" cy="262.2" r="1.8"/><circle cx="418.54" cy="255.14" r="1.8"/><circle cx="409.02" cy="261.32" r="1.8"/><circle cx="405.25" cy="269.85" r="1.8"/><circle cx="409.4" cy="286.13" r="1.8"/><circle cx="411.37" cy="269.57" r="1.8"/><circle cx="437.77" cy="278.99" r="1.8"/><circle cx="423.04" cy="261.43" r="1.8"/><circle cx="393.88" cy="268.51" r="1.8"/><circle cx="414.38" cy="278.92" r="1.8"/><circle cx="409.46" cy="236.43" r="1.8"/><circle cx="414.5" cy="257.83" r="1.8"/><circle cx="417.38" cy="274.65" r="1.8"/><circle cx="416.14" cy="267.98" r="1.8"/><circle cx="419.6" cy="261.57" r="1.8"/><circle cx="408.69" cy="266.23" r="1.8"/><circle cx="428.55" cy="280.89" r="1.8"/><circle cx="414.56" cy="280.2" r="1.8"/><circle cx="431.6" cy="280.64" r="1.8"/><circle cx="414.87" cy="243.93" r="1.8"/><circle cx="422.15" cy="266.64" r="1.8"/><circle cx="407.07" cy="274.61" r="1.8"/><circle cx="425.79" cy="270.04" r="1.8"/><circle cx="418.37" cy="267.75" r="1.8"/><circle cx="410.6" cy="289.38" r="1.8"/><circle cx="419.19" cy="257.79" r="1.8"/><circle cx="420.01" cy="269.19" r="1.8"/><circle cx="401.79" cy="259.91" r="1.8"/><circle cx="408.94" cy="258.33" r="1.8"/><circle cx="406.71" cy="267.31" r="1.8"/><circle cx="426.38" cy="252.16" r="1.8"/><circle cx="417.4" cy="257.78" r="1.8"/><circle cx="407.16" cy="269.15" r="1.8"/><circle cx="406.6" cy="272.23" r="1.8"/><circle cx="415.19" cy="246.93" r="1.8"/><circle cx="386.15" cy="273.56" r="1.8"/><circle cx="413.53" cy="279.53" r="1.8"/><circle cx="435.8" cy="258.94" r="1.8"/><circle cx="402.99" cy="245.84" r="1.8"/><circle cx="404.86" cy="261.26" r="1.8"/><circle cx="401.16" cy="252.4" r="1.8"/><circle cx="419.69" cy="259.38" r="1.8"/><circle cx="406.02" cy="261.79" r="1.8"/><circle cx="432.64" cy="271.68" r="1.8"/><circle cx="413.87" cy="254.98" r="1.8"/><circle cx="409.3" cy="262.11" r="1.8"/><circle cx="405.73" cy="276.85" r="1.8"/><circle cx="421.86" cy="273.13" r="1.8"/><circle cx="429.47" cy="269.49" r="1.8"/><circle cx="417.25" cy="261.7" r="1.8"/><circle cx="427.51" cy="270.1" r="1.8"/><circle cx="426.96" cy="272.92" r="1.8"/><circle cx="418.97" cy="272.39" r="1.8"/><circle cx="416.56" cy="286.67" r="1.8"/><circle cx="410.78" cy="257.18" r="1.8"/><circle cx="417.78" cy="277.83" r="1.8"/><circle cx="412.64" cy="278.94" r="1.8"/><circle cx="429.19" cy="265.03" r="1.8"/><circle cx="422.66" cy="271.16" r="1.8"/><circle cx="414.32" cy="270.07" r="1.8"/><circle cx="410.9" cy="246.76" r="1.8"/><circle cx="421.23" cy="278.28" r="1.8"/><circle cx="425.36" cy="279.87" r="1.8"/><circle cx="418.42" cy="276.07" r="1.8"/><circle cx="425.13" cy="274.9" r="1.8"/><circle cx="411.86" cy="266.84" r="1.8"/><circle cx="418.9" cy="262.81" r="1.8"/><circle cx="421.85" cy="260.74" r="1.8"/><circle cx="418.62" cy="274.46" r="1.8"/><circle cx="421.08" cy="263.53" r="1.8"/><circle cx="425.21" cy="277.36" r="1.8"/><circle cx="416.02" cy="273.03" r="1.8"/><circle cx="425.09" cy="268.87" r="1.8"/><circle cx="411.44" cy="277.81" r="1.8"/><circle cx="422.64" cy="248.94" r="1.8"/><circle cx="412.28" cy="272.37" r="1.8"/><circle cx="412.74" cy="276.09" r="1.8"/><circle cx="424.13" cy="281.02" r="1.8"/><circle cx="427.78" cy="268.41" r="1.8"/><circle cx="414.95" cy="248.57" r="1.8"/><circle cx="417.79" cy="285.88" r="1.8"/><circle cx="428.33" cy="269.14" r="1.8"/><circle cx="409.14" cy="275.73" r="1.8"/><circle cx="424.66" cy="231.31" r="1.8"/><circle cx="405.91" cy="272.83" r="1.8"/><circle cx="392.56" cy="283.22" r="1.8"/><circle cx="419.61" cy="278.68" r="1.8"/><circle cx="413.09" cy="272.95" r="1.8"/><circle cx="410.23" cy="257.68" r="1.8"/><circle cx="394.76" cy="256.2" r="1.8"/><circle cx="421.43" cy="264.76" r="1.8"/><circle cx="412.25" cy="277.25" r="1.8"/><circle cx="405.76" cy="262.62" r="1.8"/><circle cx="415.34" cy="270.46" r="1.8"/><circle cx="405.56" cy="252.77" r="1.8"/><circle cx="409.35" cy="263.34" r="1.8"/><circle cx="406.15" cy="276.57" r="1.8"/><circle cx="425.09" cy="267.77" r="1.8"/><circle cx="415.24" cy="255.59" r="1.8"/><circle cx="433" cy="275.4" r="1.8"/><circle cx="408.9" cy="257.03" r="1.8"/><circle cx="405.41" cy="268.05" r="1.8"/><circle cx="432.1" cy="244.11" r="1.8"/><circle cx="403.69" cy="258.45" r="1.8"/><circle cx="427.16" cy="261.61" r="1.8"/><circle cx="406.2" cy="263.97" r="1.8"/><circle cx="425.56" cy="246.97" r="1.8"/><circle cx="409.49" cy="272.42" r="1.8"/><circle cx="429.82" cy="289.31" r="1.8"/><circle cx="434.05" cy="265.01" r="1.8"/><circle cx="425.64" cy="268.33" r="1.8"/><circle cx="419.42" cy="271.21" r="1.8"/><circle cx="411.77" cy="254.28" r="1.8"/><circle cx="423.39" cy="286.94" r="1.8"/><circle cx="443.5" cy="275.07" r="1.8"/><circle cx="410.74" cy="253.19" r="1.8"/><circle cx="401.98" cy="264.65" r="1.8"/><circle cx="432.51" cy="260.82" r="1.8"/><circle cx="414.33" cy="267.22" r="1.8"/><circle cx="423" cy="279.32" r="1.8"/><circle cx="418.12" cy="278.95" r="1.8"/><circle cx="418.86" cy="268.25" r="1.8"/><circle cx="413.16" cy="285.3" r="1.8"/><circle cx="415.19" cy="257" r="1.8"/><circle cx="401.31" cy="275.27" r="1.8"/><circle cx="411.31" cy="283.13" r="1.8"/><circle cx="408.61" cy="271.14" r="1.8"/><circle cx="427" cy="261.5" r="1.8"/><circle cx="413.63" cy="270.16" r="1.8"/><circle cx="417.43" cy="271.28" r="1.8"/><circle cx="401.3" cy="271.12" r="1.8"/><circle cx="417.15" cy="283.59" r="1.8"/><circle cx="430.28" cy="264.01" r="1.8"/><circle cx="418" cy="263.66" r="1.8"/><circle cx="428.09" cy="282.77" r="1.8"/><circle cx="413.65" cy="265.58" r="1.8"/><circle cx="410.93" cy="282.58" r="1.8"/><circle cx="429.15" cy="268.33" r="1.8"/><circle cx="411.03" cy="282.21" r="1.8"/><circle cx="403.37" cy="258.74" r="1.8"/><circle cx="415.51" cy="287.52" r="1.8"/><circle cx="413" cy="278.88" r="1.8"/><circle cx="426.01" cy="273.04" r="1.8"/><circle cx="423.04" cy="270.62" r="1.8"/><circle cx="403.44" cy="271.27" r="1.8"/><circle cx="421.1" cy="264.67" r="1.8"/><circle cx="399.64" cy="268.93" r="1.8"/><circle cx="419.11" cy="274" r="1.8"/><circle cx="421.64" cy="257.29" r="1.8"/><circle cx="410.16" cy="257.92" r="1.8"/><circle cx="411.72" cy="267.55" r="1.8"/><circle cx="426.62" cy="266.22" r="1.8"/><circle cx="412.93" cy="291.96" r="1.8"/><circle cx="406.29" cy="278.79" r="1.8"/><circle cx="431.27" cy="254.19" r="1.8"/><circle cx="424.44" cy="281.97" r="1.8"/><circle cx="420.79" cy="262.5" r="1.8"/><circle cx="419.65" cy="266.67" r="1.8"/><circle cx="425.75" cy="273.49" r="1.8"/><circle cx="418.01" cy="238.82" r="1.8"/><circle cx="423.71" cy="272.27" r="1.8"/><circle cx="419.55" cy="258.33" r="1.8"/><circle cx="410.5" cy="274.4" r="1.8"/><circle cx="426.24" cy="263.07" r="1.8"/><circle cx="418.23" cy="267.19" r="1.8"/><circle cx="406.73" cy="266.38" r="1.8"/><circle cx="412.7" cy="260.43" r="1.8"/><circle cx="395" cy="265.84" r="1.8"/><circle cx="401.63" cy="278.58" r="1.8"/><circle cx="403.49" cy="267.16" r="1.8"/><circle cx="425.93" cy="273.69" r="1.8"/><circle cx="422.61" cy="259.24" r="1.8"/><circle cx="426.93" cy="239.6" r="1.8"/><circle cx="420.31" cy="251.87" r="1.8"/><circle cx="432.09" cy="272.46" r="1.8"/><circle cx="412.33" cy="265.44" r="1.8"/><circle cx="409.54" cy="286.38" r="1.8"/><circle cx="404.69" cy="276.63" r="1.8"/><circle cx="418.07" cy="268.7" r="1.8"/><circle cx="408.16" cy="297.48" r="1.8"/><circle cx="407.94" cy="267.8" r="1.8"/><circle cx="411.33" cy="272.56" r="1.8"/><circle cx="418.32" cy="266.41" r="1.8"/><circle cx="404.46" cy="273.47" r="1.8"/><circle cx="415.98" cy="259.16" r="1.8"/><circle cx="415.87" cy="270.25" r="1.8"/><circle cx="431.16" cy="261.45" r="1.8"/><circle cx="418.05" cy="259.25" r="1.8"/><circle cx="404.33" cy="278.54" r="1.8"/><circle cx="418.27" cy="286.42" r="1.8"/><circle cx="417.69" cy="272.5" r="1.8"/><circle cx="404.53" cy="266.49" r="1.8"/><circle cx="376.89" cy="262.82" r="1.8"/><circle cx="422.72" cy="273.9" r="1.8"/><circle cx="413.62" cy="242.64" r="1.8"/><circle cx="409.37" cy="267.26" r="1.8"/><circle cx="414.33" cy="257.79" r="1.8"/><circle cx="432.43" cy="291.79" r="1.8"/><circle cx="431.7" cy="266.9" r="1.8"/><circle cx="411.67" cy="270.38" r="1.8"/><circle cx="429.7" cy="262.21" r="1.8"/><circle cx="415.44" cy="249.9" r="1.8"/><circle cx="415.94" cy="274.73" r="1.8"/><circle cx="415.02" cy="273.93" r="1.8"/><circle cx="415.31" cy="270.33" r="1.8"/><circle cx="414.07" cy="273.1" r="1.8"/><circle cx="407.11" cy="269.08" r="1.8"/><circle cx="416.14" cy="261.67" r="1.8"/><circle cx="402.9" cy="275.59" r="1.8"/><circle cx="420.93" cy="269.72" r="1.8"/><circle cx="409.97" cy="270.81" r="1.8"/><circle cx="420.26" cy="259.37" r="1.8"/><circle cx="414.73" cy="274.01" r="1.8"/><circle cx="392.89" cy="257.79" r="1.8"/><circle cx="426.49" cy="265.57" r="1.8"/><circle cx="418.47" cy="268.31" r="1.8"/><circle cx="415.2" cy="260.66" r="1.8"/><circle cx="412.75" cy="284.11" r="1.8"/><circle cx="432.05" cy="267.42" r="1.8"/><circle cx="413.58" cy="273.82" r="1.8"/><circle cx="424.47" cy="288.23" r="1.8"/><circle cx="417.61" cy="272.59" r="1.8"/><circle cx="398.72" cy="264.41" r="1.8"/><circle cx="422.3" cy="285.66" r="1.8"/><circle cx="401.98" cy="266.34" r="1.8"/><circle cx="419.81" cy="277.7" r="1.8"/><circle cx="419.45" cy="276.43" r="1.8"/><circle cx="417.85" cy="257.87" r="1.8"/><circle cx="406.14" cy="254.39" r="1.8"/><circle cx="428.36" cy="265.21" r="1.8"/><circle cx="431.73" cy="267.52" r="1.8"/><circle cx="407.41" cy="276.04" r="1.8"/><circle cx="412.25" cy="254.83" r="1.8"/><circle cx="430.46" cy="247.93" r="1.8"/><circle cx="411.78" cy="262.91" r="1.8"/><circle cx="424.41" cy="258.83" r="1.8"/><circle cx="403.13" cy="265.94" r="1.8"/><circle cx="409.96" cy="268.54" r="1.8"/><circle cx="418.06" cy="253.72" r="1.8"/><circle cx="421.51" cy="259.77" r="1.8"/><circle cx="402.61" cy="255.48" r="1.8"/><circle cx="406.19" cy="271.66" r="1.8"/><circle cx="422.27" cy="247.42" r="1.8"/><circle cx="432.1" cy="269.26" r="1.8"/><circle cx="420.36" cy="261.37" r="1.8"/><circle cx="418.96" cy="266.74" r="1.8"/><circle cx="419.65" cy="283.66" r="1.8"/><circle cx="404.66" cy="269.67" r="1.8"/><circle cx="419.29" cy="270.81" r="1.8"/><circle cx="423.84" cy="252.14" r="1.8"/><circle cx="421.09" cy="249.96" r="1.8"/><circle cx="400.7" cy="272.9" r="1.8"/><circle cx="403.38" cy="261.29" r="1.8"/><circle cx="425.85" cy="264.64" r="1.8"/><circle cx="397.9" cy="273.2" r="1.8"/><circle cx="406.03" cy="279.72" r="1.8"/><circle cx="436.05" cy="282.25" r="1.8"/><circle cx="407.53" cy="256.58" r="1.8"/><circle cx="409.07" cy="274.65" r="1.8"/><circle cx="421.48" cy="267.15" r="1.8"/><circle cx="422.81" cy="267.53" r="1.8"/><circle cx="414.18" cy="277.82" r="1.8"/><circle cx="402.73" cy="262.06" r="1.8"/><circle cx="411.01" cy="265.02" r="1.8"/><circle cx="417.18" cy="279.83" r="1.8"/><circle cx="403.88" cy="280.3" r="1.8"/><circle cx="403.16" cy="273.95" r="1.8"/><circle cx="427.02" cy="261.85" r="1.8"/><circle cx="420.6" cy="275.41" r="1.8"/><circle cx="422.78" cy="285.54" r="1.8"/><circle cx="423.82" cy="256.26" r="1.8"/><circle cx="406.6" cy="277.17" r="1.8"/><circle cx="421.92" cy="269.2" r="1.8"/><circle cx="431.03" cy="278.41" r="1.8"/><circle cx="421.85" cy="285.77" r="1.8"/><circle cx="405.22" cy="258.51" r="1.8"/><circle cx="395.72" cy="255.88" r="1.8"/><circle cx="408.43" cy="260.55" r="1.8"/><circle cx="420.65" cy="267.91" r="1.8"/><circle cx="414.02" cy="244.08" r="1.8"/><circle cx="419.27" cy="286.99" r="1.8"/><circle cx="404.26" cy="267.92" r="1.8"/><circle cx="423.23" cy="272.47" r="1.8"/><circle cx="406.29" cy="297.89" r="1.8"/><circle cx="430.21" cy="280.76" r="1.8"/><circle cx="415.35" cy="272.53" r="1.8"/><circle cx="388.68" cy="268.74" r="1.8"/><circle cx="413.88" cy="272.32" r="1.8"/><circle cx="407.74" cy="269.44" r="1.8"/><circle cx="408.02" cy="267.61" r="1.8"/><circle cx="414.23" cy="271.4" r="1.8"/><circle cx="429.44" cy="254.89" r="1.8"/><circle cx="426.55" cy="271.18" r="1.8"/><circle cx="433.63" cy="253.82" r="1.8"/><circle cx="415.61" cy="251.23" r="1.8"/><circle cx="398.73" cy="266.74" r="1.8"/><circle cx="410.6" cy="275.74" r="1.8"/><circle cx="404" cy="263.24" r="1.8"/><circle cx="409.44" cy="258.36" r="1.8"/><circle cx="449.9" cy="299.82" r="1.8"/><circle cx="425.93" cy="273.88" r="1.8"/><circle cx="406.9" cy="249.7" r="1.8"/><circle cx="426.48" cy="271.79" r="1.8"/><circle cx="411.86" cy="278.2" r="1.8"/><circle cx="403.46" cy="274.52" r="1.8"/><circle cx="426.29" cy="274.95" r="1.8"/><circle cx="411.35" cy="273.05" r="1.8"/><circle cx="416.83" cy="279.99" r="1.8"/><circle cx="445.23" cy="269.95" r="1.8"/><circle cx="406.47" cy="268.63" r="1.8"/><circle cx="429.01" cy="287.68" r="1.8"/><circle cx="411.64" cy="253.69" r="1.8"/><circle cx="401.34" cy="254.93" r="1.8"/><circle cx="413.39" cy="273.58" r="1.8"/><circle cx="417.24" cy="248.99" r="1.8"/><circle cx="417.37" cy="266.34" r="1.8"/><circle cx="395.88" cy="267.78" r="1.8"/><circle cx="423.27" cy="265.4" r="1.8"/><circle cx="407.94" cy="260.03" r="1.8"/><circle cx="418.46" cy="257" r="1.8"/><circle cx="417.52" cy="261.12" r="1.8"/><circle cx="410.64" cy="270.3" r="1.8"/><circle cx="421.09" cy="271.87" r="1.8"/><circle cx="406.42" cy="287.43" r="1.8"/><circle cx="407.1" cy="267.6" r="1.8"/><circle cx="402.79" cy="255.25" r="1.8"/><circle cx="391.69" cy="259.81" r="1.8"/><circle cx="409.34" cy="273.8" r="1.8"/><circle cx="387.45" cy="262.83" r="1.8"/><circle cx="412.37" cy="272.19" r="1.8"/><circle cx="410.74" cy="268.24" r="1.8"/><circle cx="436.72" cy="266.22" r="1.8"/><circle cx="405.09" cy="255.4" r="1.8"/><circle cx="430.31" cy="297.16" r="1.8"/><circle cx="418.94" cy="277.77" r="1.8"/><circle cx="418.28" cy="264.56" r="1.8"/><circle cx="409.87" cy="276.36" r="1.8"/><circle cx="408.1" cy="272.27" r="1.8"/><circle cx="412.65" cy="279.3" r="1.8"/><circle cx="414.87" cy="265.17" r="1.8"/><circle cx="422.9" cy="269.8" r="1.8"/><circle cx="410.9" cy="269.81" r="1.8"/><circle cx="429.72" cy="243.97" r="1.8"/><circle cx="437.15" cy="254.96" r="1.8"/><circle cx="383.79" cy="243.09" r="1.8"/><circle cx="417.24" cy="273.84" r="1.8"/><circle cx="414.03" cy="282.33" r="1.8"/><circle cx="406.67" cy="268.28" r="1.8"/><circle cx="380.95" cy="286.14" r="1.8"/><circle cx="399.87" cy="276.91" r="1.8"/><circle cx="413.88" cy="261.36" r="1.8"/><circle cx="421.85" cy="268.47" r="1.8"/><circle cx="421.32" cy="271.22" r="1.8"/><circle cx="422.14" cy="256.07" r="1.8"/><circle cx="413.59" cy="276.66" r="1.8"/><circle cx="428.7" cy="293.71" r="1.8"/><circle cx="419.95" cy="261.52" r="1.8"/><circle cx="425.84" cy="257.61" r="1.8"/><circle cx="414.42" cy="249.95" r="1.8"/><circle cx="409.67" cy="281.54" r="1.8"/><circle cx="401.75" cy="267.84" r="1.8"/><circle cx="429.65" cy="274.83" r="1.8"/><circle cx="410.37" cy="267.16" r="1.8"/><circle cx="402.22" cy="269.49" r="1.8"/><circle cx="388.16" cy="271.84" r="1.8"/><circle cx="420.8" cy="257.5" r="1.8"/><circle cx="403.18" cy="259.8" r="1.8"/><circle cx="416.29" cy="266.36" r="1.8"/><circle cx="419.29" cy="261.21" r="1.8"/><circle cx="434.01" cy="266.26" r="1.8"/><circle cx="409.17" cy="282.86" r="1.8"/><circle cx="398.05" cy="272.46" r="1.8"/><circle cx="423.55" cy="266.65" r="1.8"/><circle cx="418.02" cy="267.88" r="1.8"/><circle cx="409.91" cy="255.06" r="1.8"/><circle cx="415.36" cy="270.01" r="1.8"/><circle cx="432.77" cy="271.63" r="1.8"/><circle cx="416.4" cy="252.19" r="1.8"/><circle cx="409.71" cy="266.88" r="1.8"/><circle cx="414.97" cy="259.28" r="1.8"/><circle cx="423.14" cy="280.39" r="1.8"/><circle cx="420.39" cy="256.52" r="1.8"/><circle cx="418.77" cy="266.29" r="1.8"/><circle cx="418.67" cy="281.07" r="1.8"/><circle cx="400.66" cy="284.51" r="1.8"/><circle cx="423.47" cy="270.99" r="1.8"/><circle cx="425.14" cy="255.77" r="1.8"/><circle cx="421.7" cy="266.68" r="1.8"/><circle cx="415.12" cy="264.34" r="1.8"/><circle cx="414.98" cy="266.59" r="1.8"/><circle cx="418.18" cy="284.36" r="1.8"/><circle cx="416.51" cy="277.33" r="1.8"/><circle cx="394.5" cy="287.96" r="1.8"/><circle cx="414.57" cy="262.39" r="1.8"/><circle cx="427.17" cy="273.48" r="1.8"/><circle cx="412.79" cy="258.94" r="1.8"/><circle cx="410.97" cy="269.67" r="1.8"/><circle cx="421.33" cy="281.37" r="1.8"/><circle cx="416.6" cy="272.47" r="1.8"/><circle cx="409.48" cy="240.13" r="1.8"/><circle cx="417.42" cy="271.99" r="1.8"/><circle cx="431.37" cy="269.87" r="1.8"/><circle cx="439.56" cy="290.37" r="1.8"/><circle cx="417.28" cy="260.79" r="1.8"/><circle cx="414.42" cy="263.28" r="1.8"/><circle cx="431.39" cy="271.69" r="1.8"/><circle cx="420.14" cy="267.93" r="1.8"/><circle cx="420.9" cy="267.48" r="1.8"/><circle cx="415.22" cy="279.17" r="1.8"/><circle cx="404.14" cy="267.99" r="1.8"/><circle cx="402.82" cy="269.01" r="1.8"/><circle cx="415.02" cy="277.88" r="1.8"/><circle cx="406.05" cy="249.4" r="1.8"/><circle cx="423.26" cy="256.9" r="1.8"/><circle cx="428.1" cy="253.26" r="1.8"/><circle cx="435.11" cy="271.39" r="1.8"/><circle cx="416.98" cy="281.58" r="1.8"/><circle cx="433.69" cy="264.37" r="1.8"/><circle cx="427.61" cy="275.42" r="1.8"/><circle cx="419.58" cy="263.21" r="1.8"/><circle cx="422.96" cy="272.8" r="1.8"/><circle cx="411.02" cy="274.42" r="1.8"/><circle cx="375.63" cy="289.94" r="1.8"/><circle cx="425.65" cy="267.48" r="1.8"/><circle cx="420.63" cy="264.86" r="1.8"/><circle cx="438.02" cy="262.58" r="1.8"/><circle cx="422.65" cy="257.84" r="1.8"/><circle cx="414.06" cy="289.69" r="1.8"/><circle cx="411.71" cy="267.62" r="1.8"/><circle cx="408.44" cy="257.43" r="1.8"/><circle cx="417.65" cy="260.79" r="1.8"/><circle cx="392.92" cy="287.49" r="1.8"/><circle cx="405.9" cy="266.23" r="1.8"/><circle cx="426.96" cy="256.58" r="1.8"/><circle cx="389.9" cy="258.55" r="1.8"/><circle cx="396.05" cy="278.79" r="1.8"/><circle cx="410.62" cy="261.27" r="1.8"/><circle cx="410.84" cy="265.04" r="1.8"/><circle cx="416.59" cy="257.61" r="1.8"/><circle cx="423.68" cy="275.1" r="1.8"/><circle cx="418.57" cy="268.01" r="1.8"/><circle cx="421.35" cy="269.27" r="1.8"/><circle cx="408.5" cy="259.79" r="1.8"/><circle cx="416.36" cy="286.63" r="1.8"/><circle cx="409.49" cy="269.27" r="1.8"/><circle cx="414.91" cy="279.45" r="1.8"/><circle cx="421.2" cy="271.25" r="1.8"/><circle cx="420.46" cy="274.08" r="1.8"/><circle cx="398.74" cy="268.41" r="1.8"/><circle cx="401.31" cy="258.08" r="1.8"/><circle cx="433.98" cy="267.6" r="1.8"/><circle cx="397.34" cy="264" r="1.8"/><circle cx="416.51" cy="265.83" r="1.8"/><circle cx="400.93" cy="269.62" r="1.8"/><circle cx="413.95" cy="274.12" r="1.8"/><circle cx="410.59" cy="266.27" r="1.8"/><circle cx="416.87" cy="285.15" r="1.8"/><circle cx="401.71" cy="265.42" r="1.8"/><circle cx="425.39" cy="274.08" r="1.8"/><circle cx="435.75" cy="273.07" r="1.8"/><circle cx="393.61" cy="267.14" r="1.8"/><circle cx="408.22" cy="268.02" r="1.8"/><circle cx="396.39" cy="281.44" r="1.8"/><circle cx="416.98" cy="269.6" r="1.8"/><circle cx="428.63" cy="266.02" r="1.8"/><circle cx="428.52" cy="275.87" r="1.8"/><circle cx="432.97" cy="261.82" r="1.8"/><circle cx="417.95" cy="280.84" r="1.8"/><circle cx="410.84" cy="275.81" r="1.8"/><circle cx="426.14" cy="264.57" r="1.8"/><circle cx="410.33" cy="271.12" r="1.8"/><circle cx="408.74" cy="273.26" r="1.8"/><circle cx="416.51" cy="265.54" r="1.8"/><circle cx="404.65" cy="262.79" r="1.8"/><circle cx="413.52" cy="269.89" r="1.8"/><circle cx="407.36" cy="265.95" r="1.8"/><circle cx="416.8" cy="268.95" r="1.8"/><circle cx="424.69" cy="274.44" r="1.8"/><circle cx="410.86" cy="267.04" r="1.8"/><circle cx="422.09" cy="273.16" r="1.8"/><circle cx="424.65" cy="286.28" r="1.8"/><circle cx="408.86" cy="272.98" r="1.8"/><circle cx="415.25" cy="265.45" r="1.8"/><circle cx="411.33" cy="268.69" r="1.8"/><circle cx="432.36" cy="270.89" r="1.8"/><circle cx="411.34" cy="274.03" r="1.8"/><circle cx="417.03" cy="281.51" r="1.8"/><circle cx="397.86" cy="280.5" r="1.8"/><circle cx="407.48" cy="279.55" r="1.8"/><circle cx="423.67" cy="289.1" r="1.8"/><circle cx="413.31" cy="265.76" r="1.8"/><circle cx="422.66" cy="273.82" r="1.8"/><circle cx="416.52" cy="279.27" r="1.8"/><circle cx="439.67" cy="267.63" r="1.8"/><circle cx="412.97" cy="259.78" r="1.8"/><circle cx="424.58" cy="281.82" r="1.8"/><circle cx="409.41" cy="263.98" r="1.8"/><circle cx="411.96" cy="279.15" r="1.8"/><circle cx="402.02" cy="248.69" r="1.8"/><circle cx="439.87" cy="268.72" r="1.8"/><circle cx="396.88" cy="283.91" r="1.8"/><circle cx="417.04" cy="260.61" r="1.8"/><circle cx="410.37" cy="281.37" r="1.8"/><circle cx="423.2" cy="266.6" r="1.8"/><circle cx="411.04" cy="255.78" r="1.8"/><circle cx="433.2" cy="263.28" r="1.8"/><circle cx="426.35" cy="282.84" r="1.8"/><circle cx="420.91" cy="268.92" r="1.8"/><circle cx="420.64" cy="274.78" r="1.8"/><circle cx="429.99" cy="266.01" r="1.8"/><circle cx="420.15" cy="272.35" r="1.8"/><circle cx="430.73" cy="271.62" r="1.8"/><circle cx="427.94" cy="251.53" r="1.8"/><circle cx="415.97" cy="274.38" r="1.8"/><circle cx="420.43" cy="260.33" r="1.8"/><circle cx="418.36" cy="277.18" r="1.8"/><circle cx="427.32" cy="272.01" r="1.8"/><circle cx="413.59" cy="287.76" r="1.8"/><circle cx="417.53" cy="260.62" r="1.8"/><circle cx="400.67" cy="267.46" r="1.8"/><circle cx="422.75" cy="280.58" r="1.8"/><circle cx="418.86" cy="268.83" r="1.8"/><circle cx="408.44" cy="273.91" r="1.8"/><circle cx="439.18" cy="276.86" r="1.8"/><circle cx="417.38" cy="276.34" r="1.8"/><circle cx="406.17" cy="263.87" r="1.8"/><circle cx="427.07" cy="275.42" r="1.8"/><circle cx="415.02" cy="261.55" r="1.8"/><circle cx="388.51" cy="262.73" r="1.8"/><circle cx="419.79" cy="262.37" r="1.8"/><circle cx="416.51" cy="260.92" r="1.8"/><circle cx="417.35" cy="259.62" r="1.8"/><circle cx="414.75" cy="274.79" r="1.8"/><circle cx="406.53" cy="257.92" r="1.8"/><circle cx="417.7" cy="280.53" r="1.8"/><circle cx="401.23" cy="273.57" r="1.8"/><circle cx="414.94" cy="260.52" r="1.8"/><circle cx="424.43" cy="283.95" r="1.8"/><circle cx="429.81" cy="281.13" r="1.8"/><circle cx="412.05" cy="279.43" r="1.8"/><circle cx="441.89" cy="266.76" r="1.8"/><circle cx="419.35" cy="277.58" r="1.8"/><circle cx="411.24" cy="266.73" r="1.8"/><circle cx="418.05" cy="269.23" r="1.8"/><circle cx="410.33" cy="253.77" r="1.8"/><circle cx="424.44" cy="253.89" r="1.8"/><circle cx="408.04" cy="275.26" r="1.8"/><circle cx="407.83" cy="276.96" r="1.8"/><circle cx="402.1" cy="269.14" r="1.8"/><circle cx="409.21" cy="266.34" r="1.8"/><circle cx="414" cy="271.91" r="1.8"/><circle cx="440.88" cy="273.13" r="1.8"/><circle cx="418.77" cy="262.62" r="1.8"/><circle cx="427.25" cy="259.66" r="1.8"/><circle cx="417.01" cy="280.39" r="1.8"/><circle cx="425.13" cy="265.5" r="1.8"/><circle cx="403.42" cy="266.73" r="1.8"/><circle cx="406.32" cy="276.34" r="1.8"/><circle cx="433.46" cy="271.11" r="1.8"/><circle cx="419.95" cy="273.7" r="1.8"/><circle cx="396.56" cy="266.7" r="1.8"/><circle cx="422.01" cy="269.05" r="1.8"/><circle cx="414.71" cy="282.43" r="1.8"/><circle cx="414.05" cy="273.26" r="1.8"/><circle cx="424" cy="268.18" r="1.8"/><circle cx="401.02" cy="275.95" r="1.8"/><circle cx="432.64" cy="308.24" r="1.8"/><circle cx="418.86" cy="247.65" r="1.8"/><circle cx="412.1" cy="270.35" r="1.8"/><circle cx="404.24" cy="263.74" r="1.8"/><circle cx="432.41" cy="275.65" r="1.8"/><circle cx="413.11" cy="276.08" r="1.8"/><circle cx="403.9" cy="260.94" r="1.8"/><circle cx="415" cy="268.54" r="1.8"/><circle cx="422.74" cy="275.79" r="1.8"/><circle cx="422.05" cy="267.07" r="1.8"/><circle cx="429.81" cy="272.87" r="1.8"/><circle cx="421.46" cy="267.9" r="1.8"/><circle cx="415.91" cy="258.99" r="1.8"/><circle cx="436.71" cy="270.59" r="1.8"/><circle cx="434.71" cy="274.14" r="1.8"/><circle cx="406.15" cy="263.41" r="1.8"/><circle cx="425.28" cy="260.81" r="1.8"/><circle cx="411.02" cy="267.12" r="1.8"/><circle cx="430.05" cy="270.15" r="1.8"/><circle cx="404.52" cy="268.03" r="1.8"/><circle cx="419.15" cy="274.53" r="1.8"/><circle cx="437.17" cy="262.7" r="1.8"/><circle cx="421.11" cy="274.59" r="1.8"/><circle cx="430.91" cy="274.78" r="1.8"/><circle cx="410.05" cy="265.89" r="1.8"/><circle cx="405.15" cy="238.32" r="1.8"/><circle cx="405.74" cy="259.66" r="1.8"/><circle cx="424.68" cy="282.91" r="1.8"/><circle cx="408.4" cy="251.46" r="1.8"/><circle cx="429.84" cy="264.24" r="1.8"/><circle cx="413.38" cy="268.07" r="1.8"/><circle cx="428.73" cy="262.78" r="1.8"/><circle cx="421.28" cy="266.21" r="1.8"/><circle cx="406.57" cy="253.94" r="1.8"/><circle cx="416.96" cy="275.01" r="1.8"/><circle cx="423.15" cy="251.82" r="1.8"/><circle cx="420.98" cy="273" r="1.8"/><circle cx="415.57" cy="271.46" r="1.8"/><circle cx="426.63" cy="263.35" r="1.8"/><circle cx="425.2" cy="285.14" r="1.8"/><circle cx="429.09" cy="259.36" r="1.8"/><circle cx="409.4" cy="258.79" r="1.8"/><circle cx="397.2" cy="281.01" r="1.8"/><circle cx="421.78" cy="274.71" r="1.8"/><circle cx="408.9" cy="260.75" r="1.8"/><circle cx="411.54" cy="276.51" r="1.8"/><circle cx="413.62" cy="285.23" r="1.8"/><circle cx="419.42" cy="255.75" r="1.8"/><circle cx="400.51" cy="271.31" r="1.8"/><circle cx="415.26" cy="256.69" r="1.8"/><circle cx="428.89" cy="262.28" r="1.8"/><circle cx="403.18" cy="265.48" r="1.8"/><circle cx="413.79" cy="275.3" r="1.8"/><circle cx="429.69" cy="261.81" r="1.8"/><circle cx="424.1" cy="266" r="1.8"/><circle cx="422.14" cy="274.17" r="1.8"/><circle cx="418.83" cy="278.45" r="1.8"/><circle cx="403.5" cy="271.1" r="1.8"/><circle cx="417.54" cy="278.28" r="1.8"/><circle cx="404.49" cy="274.48" r="1.8"/><circle cx="417.65" cy="245.78" r="1.8"/><circle cx="406.95" cy="279.53" r="1.8"/><circle cx="401.63" cy="272.69" r="1.8"/><circle cx="416.78" cy="273.19" r="1.8"/><circle cx="426.21" cy="271.21" r="1.8"/><circle cx="411.98" cy="274.37" r="1.8"/><circle cx="418.21" cy="266.35" r="1.8"/><circle cx="423.07" cy="260.7" r="1.8"/><circle cx="421.19" cy="279.68" r="1.8"/><circle cx="404.93" cy="272.8" r="1.8"/><circle cx="411.4" cy="270.26" r="1.8"/><circle cx="419.73" cy="260.63" r="1.8"/><circle cx="416.7" cy="270.51" r="1.8"/><circle cx="432.53" cy="274.64" r="1.8"/><circle cx="421.85" cy="263.04" r="1.8"/><circle cx="405.36" cy="270.67" r="1.8"/><circle cx="425.59" cy="283.06" r="1.8"/><circle cx="426.69" cy="268.27" r="1.8"/><circle cx="422.42" cy="269.06" r="1.8"/><circle cx="421.12" cy="274.66" r="1.8"/><circle cx="403.61" cy="281.49" r="1.8"/><circle cx="415.94" cy="273.61" r="1.8"/><circle cx="421.88" cy="266.79" r="1.8"/><circle cx="412.89" cy="266.59" r="1.8"/></g>
<line x1="380.9" y1="263.8" x2="475.5" y2="271.1" stroke="#111" stroke-width="1.7" />
<text x="479.5" y="312.6" font-size="10.2" fill="#231f20" text-anchor="end" textLength="51.5" lengthAdjust="spacingAndGlyphs"><tspan font-style="italic">r</tspan> = −0.0825</text>
<text x="479.5" y="325.7" font-size="10.2" fill="#231f20" text-anchor="end" textLength="49.5" lengthAdjust="spacingAndGlyphs"><tspan font-style="italic">P</tspan> = 0.0007</text>
<text x="354.2" y="358.1" font-size="11.2" fill="#231f20" stroke="#231f20" stroke-width="0.22" textLength="124.8" lengthAdjust="spacingAndGlyphs" >rDA1m @ peak velocity</text>
<text x="388" y="371.2" font-size="11.2" fill="#231f20" textLength="54" lengthAdjust="spacingAndGlyphs">(<tspan font-style="italic">z</tspan>-scored)</text>
<text x="333.3" y="270.5" font-size="11.2" fill="#231f20" text-anchor="middle" transform="rotate(-90 333.3 270.5)" textLength="128" lengthAdjust="spacingAndGlyphs">Peak velocity (<tspan font-style="italic">z</tspan>-scored)</text>
<text x="496.5" y="203.3" font-size="15.4" fill="#000" textLength="10.35" lengthAdjust="spacingAndGlyphs" font-weight="bold" stroke="#000" stroke-width="0.8">g</text>
<line x1="535.2" y1="204.8" x2="535.2" y2="327.4" stroke="#5a5a5a" stroke-width="1" />
<line x1="535.2" y1="327.4" x2="658.7" y2="327.4" stroke="#5a5a5a" stroke-width="1" />
<line x1="531.4" y1="217.3" x2="535.2" y2="217.3" stroke="#5a5a5a" stroke-width="1" />
<text x="526.6" y="221" font-size="10" fill="#231f20" stroke="#231f20" stroke-width="0.22" text-anchor="end" >4</text>
<line x1="531.4" y1="266.1" x2="535.2" y2="266.1" stroke="#5a5a5a" stroke-width="1" />
<text x="526.6" y="269.8" font-size="10" fill="#231f20" stroke="#231f20" stroke-width="0.22" text-anchor="end" >0</text>
<line x1="531.4" y1="314.9" x2="535.2" y2="314.9" stroke="#5a5a5a" stroke-width="1" />
<line x1="516.04" y1="315.9" x2="519.84" y2="315.9" stroke="#231f20" stroke-width="1" />
<text x="521.04" y="318.6" font-size="10" fill="#231f20" stroke="#231f20" stroke-width="0.22" >4</text>
<line x1="535.3" y1="327.4" x2="535.3" y2="331.2" stroke="#5a5a5a" stroke-width="1" />
<line x1="530.12" y1="340.5" x2="533.92" y2="340.5" stroke="#231f20" stroke-width="1" />
<text x="535.12" y="343.2" font-size="10" fill="#231f20" stroke="#231f20" stroke-width="0.22" >5</text>
<line x1="596.8" y1="327.4" x2="596.8" y2="331.2" stroke="#5a5a5a" stroke-width="1" />
<text x="596.8" y="343.2" font-size="10" fill="#231f20" stroke="#231f20" stroke-width="0.22" text-anchor="middle" >0</text>
<line x1="658.3" y1="327.4" x2="658.3" y2="331.2" stroke="#5a5a5a" stroke-width="1" />
<text x="658.3" y="343.2" font-size="10" fill="#231f20" stroke="#231f20" stroke-width="0.22" text-anchor="middle" >5</text>
<g fill="#ff2a72" fill-opacity="0.27"><circle cx="598.14" cy="268.09" r="1.8"/><circle cx="629.74" cy="244.96" r="1.8"/><circle cx="653.09" cy="269.26" r="1.8"/><circle cx="575.92" cy="248.92" r="1.8"/><circle cx="565.89" cy="295.01" r="1.8"/><circle cx="588.29" cy="277.66" r="1.8"/><circle cx="652.63" cy="290.53" r="1.8"/><circle cx="648.91" cy="237.05" r="1.8"/><circle cx="574.57" cy="247.95" r="1.8"/><circle cx="624.25" cy="242.13" r="1.8"/><circle cx="615.98" cy="247.5" r="1.8"/><circle cx="595.53" cy="243.18" r="1.8"/><circle cx="629.92" cy="252.99" r="1.8"/><circle cx="583.09" cy="239.2" r="1.8"/><circle cx="577.08" cy="245.82" r="1.8"/><circle cx="624.82" cy="296.2" r="1.8"/><circle cx="620.76" cy="229.7" r="1.8"/><circle cx="586.54" cy="279.68" r="1.8"/><circle cx="590.64" cy="271.79" r="1.8"/><circle cx="595.36" cy="264.14" r="1.8"/><circle cx="585.98" cy="262.17" r="1.8"/><circle cx="609.86" cy="258.74" r="1.8"/><circle cx="605.66" cy="265.84" r="1.8"/><circle cx="602.99" cy="283.65" r="1.8"/><circle cx="602.16" cy="238.95" r="1.8"/><circle cx="583.52" cy="264" r="1.8"/><circle cx="608.56" cy="274.17" r="1.8"/><circle cx="588.16" cy="273.59" r="1.8"/><circle cx="576.01" cy="262.71" r="1.8"/><circle cx="594.03" cy="259.34" r="1.8"/><circle cx="598.35" cy="259.65" r="1.8"/><circle cx="598.84" cy="261.13" r="1.8"/><circle cx="607.04" cy="282.47" r="1.8"/><circle cx="592.35" cy="262.31" r="1.8"/><circle cx="608.45" cy="274.67" r="1.8"/><circle cx="611.63" cy="267.35" r="1.8"/><circle cx="600.58" cy="277.02" r="1.8"/><circle cx="584.19" cy="251.81" r="1.8"/><circle cx="609.68" cy="273.91" r="1.8"/><circle cx="597.61" cy="281.85" r="1.8"/><circle cx="598.95" cy="267.44" r="1.8"/><circle cx="584.29" cy="267.19" r="1.8"/><circle cx="573.99" cy="262.85" r="1.8"/><circle cx="611.91" cy="221.41" r="1.8"/><circle cx="608.07" cy="228.2" r="1.8"/><circle cx="587.74" cy="262.91" r="1.8"/><circle cx="593.38" cy="276.68" r="1.8"/><circle cx="586.42" cy="260.21" r="1.8"/><circle cx="597.31" cy="275.72" r="1.8"/><circle cx="578.62" cy="269.51" r="1.8"/><circle cx="604.79" cy="239.79" r="1.8"/><circle cx="601.14" cy="284.32" r="1.8"/><circle cx="612.13" cy="254.87" r="1.8"/><circle cx="598.13" cy="277.81" r="1.8"/><circle cx="605.72" cy="272.92" r="1.8"/><circle cx="601.36" cy="260.05" r="1.8"/><circle cx="604.26" cy="251.14" r="1.8"/><circle cx="591.93" cy="276.7" r="1.8"/><circle cx="607.39" cy="265.49" r="1.8"/><circle cx="585.3" cy="272.85" r="1.8"/><circle cx="590.44" cy="275.9" r="1.8"/><circle cx="596.55" cy="272.97" r="1.8"/><circle cx="618.24" cy="263.57" r="1.8"/><circle cx="588.21" cy="256.92" r="1.8"/><circle cx="599.82" cy="291.72" r="1.8"/><circle cx="601.01" cy="271.87" r="1.8"/><circle cx="575.81" cy="256.74" r="1.8"/><circle cx="619.37" cy="239.05" r="1.8"/><circle cx="606.74" cy="267.24" r="1.8"/><circle cx="600.01" cy="262.11" r="1.8"/><circle cx="595.24" cy="252.76" r="1.8"/><circle cx="607.39" cy="269.25" r="1.8"/><circle cx="576.19" cy="266.7" r="1.8"/><circle cx="618.41" cy="273.81" r="1.8"/><circle cx="594.1" cy="278.89" r="1.8"/><circle cx="606.42" cy="275.49" r="1.8"/><circle cx="583.85" cy="267.35" r="1.8"/><circle cx="591.34" cy="269.98" r="1.8"/><circle cx="575.24" cy="263.83" r="1.8"/><circle cx="594.27" cy="266.14" r="1.8"/><circle cx="596.25" cy="276.81" r="1.8"/><circle cx="590.46" cy="271.91" r="1.8"/><circle cx="611.25" cy="284.44" r="1.8"/><circle cx="595.45" cy="269.19" r="1.8"/><circle cx="595.67" cy="271.49" r="1.8"/><circle cx="588" cy="253.55" r="1.8"/><circle cx="604.25" cy="263.66" r="1.8"/><circle cx="590.31" cy="256.4" r="1.8"/><circle cx="595.61" cy="274.92" r="1.8"/><circle cx="583.42" cy="269.13" r="1.8"/><circle cx="611.75" cy="280.52" r="1.8"/><circle cx="609.39" cy="251.44" r="1.8"/><circle cx="592.92" cy="265.29" r="1.8"/><circle cx="602.04" cy="260.84" r="1.8"/><circle cx="591.14" cy="274.87" r="1.8"/><circle cx="605.77" cy="273.52" r="1.8"/><circle cx="609.01" cy="274.85" r="1.8"/><circle cx="587.88" cy="274.92" r="1.8"/><circle cx="602.56" cy="277.74" r="1.8"/><circle cx="580.45" cy="259.36" r="1.8"/><circle cx="595.47" cy="252.94" r="1.8"/><circle cx="587.47" cy="271.5" r="1.8"/><circle cx="598.79" cy="288.31" r="1.8"/><circle cx="599.03" cy="268.22" r="1.8"/><circle cx="584.68" cy="264.99" r="1.8"/><circle cx="586.46" cy="258.6" r="1.8"/><circle cx="592.24" cy="274.94" r="1.8"/><circle cx="593.84" cy="270.93" r="1.8"/><circle cx="594.37" cy="269.75" r="1.8"/><circle cx="597.84" cy="273.03" r="1.8"/><circle cx="592.68" cy="275.93" r="1.8"/><circle cx="614.89" cy="273.15" r="1.8"/><circle cx="600.82" cy="272.82" r="1.8"/><circle cx="588.72" cy="283.46" r="1.8"/><circle cx="612.96" cy="291.26" r="1.8"/><circle cx="605.55" cy="270.35" r="1.8"/><circle cx="607.66" cy="263.91" r="1.8"/><circle cx="612.22" cy="304.3" r="1.8"/><circle cx="587.37" cy="288.76" r="1.8"/><circle cx="592.54" cy="280.5" r="1.8"/><circle cx="596.19" cy="282.16" r="1.8"/><circle cx="583.47" cy="276.61" r="1.8"/><circle cx="604.8" cy="257.36" r="1.8"/><circle cx="590.49" cy="276.85" r="1.8"/><circle cx="606.21" cy="262.14" r="1.8"/><circle cx="604.16" cy="278.39" r="1.8"/><circle cx="593.59" cy="260.07" r="1.8"/><circle cx="580.04" cy="264.76" r="1.8"/><circle cx="603.46" cy="261.68" r="1.8"/><circle cx="587.47" cy="284.9" r="1.8"/><circle cx="602.82" cy="240.23" r="1.8"/><circle cx="579.54" cy="267.77" r="1.8"/><circle cx="610.48" cy="275.3" r="1.8"/><circle cx="600.14" cy="276.16" r="1.8"/><circle cx="604.31" cy="268.21" r="1.8"/><circle cx="598.75" cy="260.6" r="1.8"/><circle cx="610.23" cy="270.21" r="1.8"/><circle cx="612.41" cy="270.87" r="1.8"/><circle cx="590.99" cy="280.96" r="1.8"/><circle cx="594.26" cy="266.77" r="1.8"/><circle cx="602.67" cy="268.6" r="1.8"/><circle cx="609.17" cy="263.4" r="1.8"/><circle cx="578.53" cy="264.84" r="1.8"/><circle cx="600.02" cy="266.03" r="1.8"/><circle cx="585.07" cy="275.31" r="1.8"/><circle cx="614.19" cy="267.07" r="1.8"/><circle cx="601.58" cy="277.98" r="1.8"/><circle cx="589.48" cy="274.94" r="1.8"/><circle cx="590.05" cy="266.01" r="1.8"/><circle cx="613.1" cy="264.14" r="1.8"/><circle cx="615.13" cy="263.21" r="1.8"/><circle cx="597.64" cy="252.95" r="1.8"/><circle cx="594.39" cy="261.17" r="1.8"/><circle cx="604.11" cy="261.64" r="1.8"/><circle cx="589.38" cy="268.77" r="1.8"/><circle cx="597.62" cy="283.18" r="1.8"/><circle cx="601.97" cy="264.66" r="1.8"/><circle cx="604.42" cy="288.4" r="1.8"/><circle cx="603.32" cy="263.91" r="1.8"/><circle cx="596.67" cy="277.48" r="1.8"/><circle cx="595.49" cy="259.61" r="1.8"/><circle cx="586.39" cy="264.79" r="1.8"/><circle cx="573.74" cy="264.09" r="1.8"/><circle cx="604.14" cy="259.28" r="1.8"/><circle cx="596.19" cy="262.93" r="1.8"/><circle cx="611.59" cy="278.06" r="1.8"/><circle cx="603.06" cy="261.85" r="1.8"/><circle cx="577.2" cy="261.84" r="1.8"/><circle cx="606.09" cy="269.96" r="1.8"/><circle cx="587.54" cy="260.14" r="1.8"/><circle cx="594.96" cy="271" r="1.8"/><circle cx="591.44" cy="258.51" r="1.8"/><circle cx="579.39" cy="259.14" r="1.8"/><circle cx="617.43" cy="267.91" r="1.8"/><circle cx="595.85" cy="279.73" r="1.8"/><circle cx="600.69" cy="270.38" r="1.8"/><circle cx="593.22" cy="269.03" r="1.8"/><circle cx="584.44" cy="262.88" r="1.8"/><circle cx="591.35" cy="262.59" r="1.8"/><circle cx="612.84" cy="268.57" r="1.8"/><circle cx="591.8" cy="253.6" r="1.8"/><circle cx="582.17" cy="235.38" r="1.8"/><circle cx="623.26" cy="291.13" r="1.8"/><circle cx="593.85" cy="271.64" r="1.8"/><circle cx="587.39" cy="248.68" r="1.8"/><circle cx="607.19" cy="264.57" r="1.8"/><circle cx="589.64" cy="264.54" r="1.8"/><circle cx="600.58" cy="275.96" r="1.8"/><circle cx="596.81" cy="276.19" r="1.8"/><circle cx="585.83" cy="263.13" r="1.8"/><circle cx="585.22" cy="266.09" r="1.8"/><circle cx="613.91" cy="299.72" r="1.8"/><circle cx="609.05" cy="258.52" r="1.8"/><circle cx="622.68" cy="257.03" r="1.8"/><circle cx="598.3" cy="266.59" r="1.8"/><circle cx="596.28" cy="284.26" r="1.8"/><circle cx="599.95" cy="266.38" r="1.8"/><circle cx="602.58" cy="268.22" r="1.8"/><circle cx="608.73" cy="278.37" r="1.8"/><circle cx="572.75" cy="263.54" r="1.8"/><circle cx="610.84" cy="313.1" r="1.8"/><circle cx="594.51" cy="263.63" r="1.8"/><circle cx="601.61" cy="263.67" r="1.8"/><circle cx="590.69" cy="275.33" r="1.8"/><circle cx="598.55" cy="268.19" r="1.8"/><circle cx="613.65" cy="269.84" r="1.8"/><circle cx="579.27" cy="270.91" r="1.8"/><circle cx="603.59" cy="249.15" r="1.8"/><circle cx="598.3" cy="248.08" r="1.8"/><circle cx="594.82" cy="275.17" r="1.8"/><circle cx="597.69" cy="260.53" r="1.8"/><circle cx="601.63" cy="257.96" r="1.8"/><circle cx="593.73" cy="252.39" r="1.8"/><circle cx="597.25" cy="258.97" r="1.8"/><circle cx="596.01" cy="261.1" r="1.8"/><circle cx="600.65" cy="245.98" r="1.8"/><circle cx="594.42" cy="249.1" r="1.8"/><circle cx="596.47" cy="263.32" r="1.8"/><circle cx="604.99" cy="278.86" r="1.8"/><circle cx="601.45" cy="272.41" r="1.8"/><circle cx="609.85" cy="262.17" r="1.8"/><circle cx="594.07" cy="265.56" r="1.8"/><circle cx="580.02" cy="280.06" r="1.8"/><circle cx="596.73" cy="273.68" r="1.8"/><circle cx="585.73" cy="248.59" r="1.8"/><circle cx="588.24" cy="268.09" r="1.8"/><circle cx="599.49" cy="270.88" r="1.8"/><circle cx="593.09" cy="252.55" r="1.8"/><circle cx="600.39" cy="272.28" r="1.8"/><circle cx="612.38" cy="280.52" r="1.8"/><circle cx="620.21" cy="277" r="1.8"/><circle cx="601.13" cy="264.42" r="1.8"/><circle cx="603.63" cy="274.13" r="1.8"/><circle cx="605.84" cy="275.69" r="1.8"/><circle cx="613.82" cy="269.7" r="1.8"/><circle cx="580.47" cy="253.04" r="1.8"/><circle cx="582.14" cy="258.77" r="1.8"/><circle cx="616.03" cy="258.26" r="1.8"/><circle cx="589.91" cy="272.79" r="1.8"/><circle cx="579.28" cy="278.2" r="1.8"/><circle cx="596.52" cy="262.03" r="1.8"/><circle cx="588.13" cy="268.4" r="1.8"/><circle cx="612.71" cy="280.5" r="1.8"/><circle cx="608.46" cy="279.11" r="1.8"/><circle cx="602.18" cy="251.59" r="1.8"/><circle cx="595.11" cy="274.82" r="1.8"/><circle cx="598.62" cy="275.53" r="1.8"/><circle cx="592.18" cy="261.85" r="1.8"/><circle cx="597.71" cy="283.62" r="1.8"/><circle cx="598.83" cy="258.46" r="1.8"/><circle cx="592.25" cy="277.62" r="1.8"/><circle cx="593.33" cy="264.61" r="1.8"/><circle cx="591.69" cy="266.41" r="1.8"/><circle cx="618.58" cy="283.84" r="1.8"/><circle cx="597.13" cy="267.66" r="1.8"/><circle cx="587.84" cy="273.81" r="1.8"/><circle cx="612.15" cy="254.65" r="1.8"/><circle cx="595.03" cy="265.71" r="1.8"/><circle cx="592.13" cy="278.24" r="1.8"/><circle cx="571.93" cy="264.61" r="1.8"/><circle cx="588.5" cy="263.54" r="1.8"/><circle cx="583.87" cy="262.43" r="1.8"/><circle cx="595.33" cy="268.2" r="1.8"/><circle cx="592.93" cy="275.68" r="1.8"/><circle cx="597.9" cy="274.91" r="1.8"/><circle cx="599.39" cy="252.23" r="1.8"/><circle cx="583.25" cy="257.01" r="1.8"/><circle cx="575.99" cy="275.43" r="1.8"/><circle cx="600.43" cy="269.24" r="1.8"/><circle cx="592.65" cy="278.88" r="1.8"/><circle cx="588.69" cy="263.76" r="1.8"/><circle cx="585.41" cy="278.64" r="1.8"/><circle cx="586.97" cy="279.13" r="1.8"/><circle cx="620.52" cy="254.34" r="1.8"/><circle cx="592.28" cy="281.67" r="1.8"/><circle cx="603.08" cy="275.04" r="1.8"/><circle cx="590.02" cy="271.97" r="1.8"/><circle cx="576.83" cy="242.33" r="1.8"/><circle cx="605.63" cy="273.53" r="1.8"/><circle cx="608.64" cy="260.5" r="1.8"/><circle cx="611.62" cy="261.09" r="1.8"/><circle cx="597.95" cy="264.92" r="1.8"/><circle cx="594.34" cy="264.45" r="1.8"/><circle cx="607.18" cy="286.71" r="1.8"/><circle cx="600.91" cy="263.88" r="1.8"/><circle cx="613.53" cy="267.88" r="1.8"/><circle cx="605.27" cy="269.81" r="1.8"/><circle cx="617.56" cy="282.06" r="1.8"/><circle cx="597.76" cy="270.96" r="1.8"/><circle cx="601.09" cy="259" r="1.8"/><circle cx="584.47" cy="250.46" r="1.8"/><circle cx="606.81" cy="273.4" r="1.8"/><circle cx="591.36" cy="263.37" r="1.8"/><circle cx="607.96" cy="264.98" r="1.8"/><circle cx="587.19" cy="273.49" r="1.8"/><circle cx="601.17" cy="260.39" r="1.8"/><circle cx="589.07" cy="256.32" r="1.8"/><circle cx="584.9" cy="259.4" r="1.8"/><circle cx="592.39" cy="249.83" r="1.8"/><circle cx="626.27" cy="266.72" r="1.8"/><circle cx="597.15" cy="244.81" r="1.8"/><circle cx="584.41" cy="252.44" r="1.8"/><circle cx="610.09" cy="260.15" r="1.8"/><circle cx="599.27" cy="273.04" r="1.8"/><circle cx="585.5" cy="267.38" r="1.8"/><circle cx="608.31" cy="267.06" r="1.8"/><circle cx="587.09" cy="257.87" r="1.8"/><circle cx="587.75" cy="273.82" r="1.8"/><circle cx="575.67" cy="262.8" r="1.8"/><circle cx="596.77" cy="258.56" r="1.8"/><circle cx="591.64" cy="281.11" r="1.8"/><circle cx="600.63" cy="261.23" r="1.8"/><circle cx="613.97" cy="271.96" r="1.8"/><circle cx="584.59" cy="275.83" r="1.8"/><circle cx="593.61" cy="270.05" r="1.8"/><circle cx="596.51" cy="281.53" r="1.8"/><circle cx="605.37" cy="256.8" r="1.8"/><circle cx="594.23" cy="279.93" r="1.8"/><circle cx="590.44" cy="279.05" r="1.8"/><circle cx="603.6" cy="273.3" r="1.8"/><circle cx="589.79" cy="269.29" r="1.8"/><circle cx="596.07" cy="275.35" r="1.8"/><circle cx="603.53" cy="257.21" r="1.8"/><circle cx="598.05" cy="260.06" r="1.8"/><circle cx="614.82" cy="283.08" r="1.8"/><circle cx="610.43" cy="280.34" r="1.8"/><circle cx="589.46" cy="255.04" r="1.8"/><circle cx="600.36" cy="273.74" r="1.8"/><circle cx="599.2" cy="282.75" r="1.8"/><circle cx="589.68" cy="253.57" r="1.8"/><circle cx="596.67" cy="269.09" r="1.8"/><circle cx="606.1" cy="284.01" r="1.8"/><circle cx="601.77" cy="277.78" r="1.8"/><circle cx="606.57" cy="244.9" r="1.8"/><circle cx="587.15" cy="250.71" r="1.8"/><circle cx="593.46" cy="268.78" r="1.8"/><circle cx="605.63" cy="259.11" r="1.8"/><circle cx="587.46" cy="270" r="1.8"/><circle cx="590.58" cy="250.13" r="1.8"/><circle cx="608.22" cy="223" r="1.8"/><circle cx="590.29" cy="267.37" r="1.8"/><circle cx="593.84" cy="263.3" r="1.8"/><circle cx="613.26" cy="263.43" r="1.8"/><circle cx="593.71" cy="259.34" r="1.8"/><circle cx="597.05" cy="282.29" r="1.8"/><circle cx="579.9" cy="289.46" r="1.8"/><circle cx="594.29" cy="270.99" r="1.8"/><circle cx="591.99" cy="284.41" r="1.8"/><circle cx="585.12" cy="268.77" r="1.8"/><circle cx="572.44" cy="264.79" r="1.8"/><circle cx="591.96" cy="267.61" r="1.8"/><circle cx="592.01" cy="257.93" r="1.8"/><circle cx="600.14" cy="286.84" r="1.8"/><circle cx="615.3" cy="291.91" r="1.8"/><circle cx="598.57" cy="265.85" r="1.8"/><circle cx="601.36" cy="275.1" r="1.8"/><circle cx="589.91" cy="258.88" r="1.8"/><circle cx="593.62" cy="254.59" r="1.8"/><circle cx="606.67" cy="261.12" r="1.8"/><circle cx="610.61" cy="272.83" r="1.8"/><circle cx="579.23" cy="242.34" r="1.8"/><circle cx="598.3" cy="279.41" r="1.8"/><circle cx="609.44" cy="271.35" r="1.8"/><circle cx="593.38" cy="279.62" r="1.8"/><circle cx="609.65" cy="244.77" r="1.8"/><circle cx="589.31" cy="265.67" r="1.8"/><circle cx="595.32" cy="282.55" r="1.8"/><circle cx="600.66" cy="257.94" r="1.8"/><circle cx="586.24" cy="261.48" r="1.8"/><circle cx="590.01" cy="260.36" r="1.8"/><circle cx="598.69" cy="245.37" r="1.8"/><circle cx="597.12" cy="245" r="1.8"/><circle cx="608.91" cy="263.08" r="1.8"/><circle cx="593.96" cy="280.91" r="1.8"/><circle cx="596.32" cy="274.63" r="1.8"/><circle cx="590.14" cy="280.52" r="1.8"/><circle cx="590.97" cy="260.77" r="1.8"/><circle cx="607.77" cy="282.27" r="1.8"/><circle cx="606.14" cy="266.12" r="1.8"/><circle cx="599.92" cy="278.23" r="1.8"/><circle cx="600.54" cy="267.93" r="1.8"/><circle cx="589.9" cy="290.34" r="1.8"/><circle cx="598.74" cy="261.67" r="1.8"/><circle cx="613.59" cy="271.55" r="1.8"/><circle cx="612.28" cy="276.07" r="1.8"/><circle cx="575.95" cy="259.21" r="1.8"/><circle cx="601.28" cy="270.99" r="1.8"/><circle cx="610.01" cy="273.99" r="1.8"/><circle cx="588.64" cy="263.06" r="1.8"/><circle cx="607.06" cy="243.45" r="1.8"/><circle cx="614.48" cy="231.55" r="1.8"/><circle cx="585.35" cy="248.89" r="1.8"/><circle cx="597.66" cy="233.14" r="1.8"/><circle cx="600.71" cy="257.94" r="1.8"/><circle cx="595.13" cy="266.76" r="1.8"/><circle cx="580.39" cy="274.28" r="1.8"/><circle cx="600.3" cy="258.11" r="1.8"/><circle cx="611.23" cy="269.39" r="1.8"/><circle cx="584.78" cy="259.93" r="1.8"/><circle cx="581.02" cy="266.01" r="1.8"/><circle cx="604.59" cy="269.99" r="1.8"/><circle cx="588.18" cy="278.04" r="1.8"/><circle cx="595.53" cy="259.3" r="1.8"/><circle cx="600.45" cy="253.36" r="1.8"/><circle cx="587.85" cy="268.09" r="1.8"/><circle cx="598.74" cy="275.29" r="1.8"/><circle cx="600.37" cy="271.41" r="1.8"/><circle cx="592.76" cy="262.45" r="1.8"/><circle cx="576.21" cy="266.88" r="1.8"/><circle cx="584.21" cy="244.89" r="1.8"/><circle cx="598.3" cy="269.1" r="1.8"/><circle cx="576.37" cy="269.13" r="1.8"/><circle cx="575.49" cy="252.07" r="1.8"/><circle cx="597.08" cy="285.45" r="1.8"/><circle cx="598.71" cy="277.89" r="1.8"/><circle cx="579.99" cy="284.02" r="1.8"/><circle cx="603.03" cy="270.98" r="1.8"/><circle cx="598.62" cy="278" r="1.8"/><circle cx="583.47" cy="269.76" r="1.8"/><circle cx="602.46" cy="277.9" r="1.8"/><circle cx="581.3" cy="250.92" r="1.8"/><circle cx="594.65" cy="270.49" r="1.8"/><circle cx="603.11" cy="271.32" r="1.8"/><circle cx="598.31" cy="272.41" r="1.8"/><circle cx="589.09" cy="252.78" r="1.8"/><circle cx="589.58" cy="260.28" r="1.8"/><circle cx="619.99" cy="283.26" r="1.8"/><circle cx="588.29" cy="264.5" r="1.8"/><circle cx="607.02" cy="268.48" r="1.8"/><circle cx="596.2" cy="265.55" r="1.8"/><circle cx="594.04" cy="251.76" r="1.8"/><circle cx="595.1" cy="269.71" r="1.8"/><circle cx="620.76" cy="256.3" r="1.8"/><circle cx="584.54" cy="239.61" r="1.8"/><circle cx="600.37" cy="268.87" r="1.8"/><circle cx="597.59" cy="274.82" r="1.8"/><circle cx="602.49" cy="275.05" r="1.8"/><circle cx="582.96" cy="265.3" r="1.8"/><circle cx="600.73" cy="271.25" r="1.8"/><circle cx="599.98" cy="269.82" r="1.8"/><circle cx="593.41" cy="262.87" r="1.8"/><circle cx="603.62" cy="292.69" r="1.8"/><circle cx="579.48" cy="254.61" r="1.8"/><circle cx="577.11" cy="285.8" r="1.8"/><circle cx="592.17" cy="273.79" r="1.8"/><circle cx="610.99" cy="278.47" r="1.8"/><circle cx="595.75" cy="248.26" r="1.8"/><circle cx="596.21" cy="268.29" r="1.8"/><circle cx="612.16" cy="258.98" r="1.8"/><circle cx="598.59" cy="273.82" r="1.8"/><circle cx="592.39" cy="282.62" r="1.8"/><circle cx="621.65" cy="272.26" r="1.8"/><circle cx="603.61" cy="251.93" r="1.8"/><circle cx="600.9" cy="284.37" r="1.8"/><circle cx="591.6" cy="264.78" r="1.8"/><circle cx="601.99" cy="244.31" r="1.8"/><circle cx="584.25" cy="243.69" r="1.8"/><circle cx="597.48" cy="245.68" r="1.8"/><circle cx="600.82" cy="272.91" r="1.8"/><circle cx="607.29" cy="273.41" r="1.8"/><circle cx="614.6" cy="274.39" r="1.8"/><circle cx="601.44" cy="259.51" r="1.8"/><circle cx="612.14" cy="267.61" r="1.8"/><circle cx="592.61" cy="268.67" r="1.8"/><circle cx="595.63" cy="276.52" r="1.8"/><circle cx="601.41" cy="266.84" r="1.8"/><circle cx="608.53" cy="269.17" r="1.8"/><circle cx="603.54" cy="264.62" r="1.8"/><circle cx="579.41" cy="266.53" r="1.8"/><circle cx="569.93" cy="246.79" r="1.8"/><circle cx="599.31" cy="281.09" r="1.8"/><circle cx="581.73" cy="230.91" r="1.8"/><circle cx="587.32" cy="259.35" r="1.8"/><circle cx="601.47" cy="264.9" r="1.8"/><circle cx="597.99" cy="266.58" r="1.8"/><circle cx="614.06" cy="275.44" r="1.8"/><circle cx="589.76" cy="279.91" r="1.8"/><circle cx="587.06" cy="252.74" r="1.8"/><circle cx="602.49" cy="258.41" r="1.8"/><circle cx="611.71" cy="257.15" r="1.8"/><circle cx="616.56" cy="253.75" r="1.8"/><circle cx="584.37" cy="273.23" r="1.8"/><circle cx="589.35" cy="291.19" r="1.8"/><circle cx="603.38" cy="261.8" r="1.8"/><circle cx="605.07" cy="276.28" r="1.8"/><circle cx="591.91" cy="261.78" r="1.8"/><circle cx="588.2" cy="271.47" r="1.8"/><circle cx="587.49" cy="243.8" r="1.8"/><circle cx="612.54" cy="256.49" r="1.8"/><circle cx="601.99" cy="260.04" r="1.8"/><circle cx="564.42" cy="278.92" r="1.8"/><circle cx="575.35" cy="254.58" r="1.8"/><circle cx="603.92" cy="272.94" r="1.8"/><circle cx="584.09" cy="270.86" r="1.8"/><circle cx="600.1" cy="264.63" r="1.8"/><circle cx="591.56" cy="272.28" r="1.8"/><circle cx="588.77" cy="284.91" r="1.8"/><circle cx="599.6" cy="270.55" r="1.8"/><circle cx="586.19" cy="264.35" r="1.8"/><circle cx="603.49" cy="276.67" r="1.8"/><circle cx="587.88" cy="281.22" r="1.8"/><circle cx="587.29" cy="273.19" r="1.8"/><circle cx="586.95" cy="277.64" r="1.8"/><circle cx="598.36" cy="262.53" r="1.8"/><circle cx="609.3" cy="272.32" r="1.8"/><circle cx="597.39" cy="276.64" r="1.8"/><circle cx="608.1" cy="282.63" r="1.8"/><circle cx="589.36" cy="255.85" r="1.8"/><circle cx="609.57" cy="249.93" r="1.8"/><circle cx="589.35" cy="258.67" r="1.8"/><circle cx="582.28" cy="235.96" r="1.8"/><circle cx="603.93" cy="278.47" r="1.8"/><circle cx="604.34" cy="277.62" r="1.8"/><circle cx="617.53" cy="259.8" r="1.8"/><circle cx="637.97" cy="277.47" r="1.8"/><circle cx="593.99" cy="275.21" r="1.8"/><circle cx="607.87" cy="285.43" r="1.8"/><circle cx="588.83" cy="268.68" r="1.8"/><circle cx="600.57" cy="258.62" r="1.8"/><circle cx="578.08" cy="310.82" r="1.8"/><circle cx="616.47" cy="270.43" r="1.8"/><circle cx="601.85" cy="257.89" r="1.8"/><circle cx="599.42" cy="247.3" r="1.8"/><circle cx="591.55" cy="257.49" r="1.8"/><circle cx="599.53" cy="278.13" r="1.8"/><circle cx="596.16" cy="250.37" r="1.8"/><circle cx="606.86" cy="272.02" r="1.8"/><circle cx="594.65" cy="261.18" r="1.8"/><circle cx="587.51" cy="255.28" r="1.8"/><circle cx="603.02" cy="259.89" r="1.8"/><circle cx="599" cy="269.2" r="1.8"/><circle cx="596.33" cy="261.99" r="1.8"/><circle cx="612.74" cy="277.59" r="1.8"/><circle cx="584.73" cy="273.94" r="1.8"/><circle cx="592.97" cy="265.9" r="1.8"/><circle cx="602.35" cy="287.83" r="1.8"/><circle cx="599.65" cy="243.16" r="1.8"/><circle cx="590.77" cy="265.15" r="1.8"/><circle cx="586.34" cy="260.4" r="1.8"/><circle cx="608.97" cy="239.29" r="1.8"/><circle cx="609.88" cy="295.84" r="1.8"/><circle cx="617.14" cy="268.66" r="1.8"/><circle cx="595.58" cy="274.8" r="1.8"/><circle cx="602.19" cy="290.11" r="1.8"/><circle cx="595.91" cy="253.32" r="1.8"/><circle cx="603.4" cy="276.76" r="1.8"/><circle cx="604.49" cy="260.41" r="1.8"/><circle cx="610.48" cy="280.39" r="1.8"/><circle cx="615.1" cy="278.48" r="1.8"/><circle cx="603.38" cy="276.72" r="1.8"/><circle cx="599.32" cy="262.4" r="1.8"/><circle cx="606.43" cy="268.29" r="1.8"/><circle cx="590.52" cy="279.76" r="1.8"/><circle cx="603.14" cy="271.27" r="1.8"/><circle cx="598.01" cy="282.65" r="1.8"/><circle cx="618.59" cy="271.76" r="1.8"/><circle cx="607.76" cy="275.11" r="1.8"/><circle cx="608.49" cy="259.4" r="1.8"/><circle cx="599.56" cy="275.61" r="1.8"/><circle cx="590.01" cy="258.21" r="1.8"/><circle cx="590.25" cy="285.94" r="1.8"/><circle cx="594.09" cy="276.87" r="1.8"/><circle cx="600.09" cy="271.13" r="1.8"/><circle cx="597.49" cy="260.53" r="1.8"/><circle cx="598.22" cy="261.12" r="1.8"/><circle cx="608.77" cy="280.05" r="1.8"/><circle cx="609.73" cy="256.64" r="1.8"/><circle cx="605.48" cy="269.15" r="1.8"/><circle cx="598.43" cy="244.99" r="1.8"/><circle cx="607.76" cy="257.22" r="1.8"/><circle cx="592.53" cy="264.44" r="1.8"/><circle cx="599.25" cy="261.19" r="1.8"/><circle cx="593.28" cy="270.36" r="1.8"/><circle cx="601.33" cy="282.51" r="1.8"/><circle cx="582.91" cy="265.98" r="1.8"/><circle cx="599.29" cy="280.37" r="1.8"/><circle cx="583.23" cy="272.37" r="1.8"/><circle cx="583.27" cy="230.63" r="1.8"/><circle cx="591.05" cy="258.76" r="1.8"/><circle cx="600.91" cy="279.3" r="1.8"/><circle cx="593.92" cy="279.01" r="1.8"/><circle cx="606.59" cy="285.79" r="1.8"/><circle cx="607.35" cy="281.9" r="1.8"/><circle cx="583.92" cy="264.89" r="1.8"/><circle cx="574.9" cy="263.64" r="1.8"/><circle cx="582.5" cy="266.4" r="1.8"/><circle cx="607.51" cy="251.22" r="1.8"/><circle cx="590.53" cy="261.58" r="1.8"/><circle cx="598.04" cy="268.81" r="1.8"/><circle cx="608.95" cy="279.6" r="1.8"/><circle cx="589.87" cy="266.24" r="1.8"/><circle cx="592.79" cy="271.5" r="1.8"/><circle cx="598.26" cy="214.95" r="1.8"/><circle cx="597.38" cy="286.03" r="1.8"/><circle cx="602.05" cy="273.02" r="1.8"/><circle cx="591.92" cy="272.44" r="1.8"/><circle cx="590.5" cy="250.7" r="1.8"/><circle cx="589.5" cy="274.64" r="1.8"/><circle cx="582.87" cy="293.46" r="1.8"/><circle cx="603.83" cy="269.58" r="1.8"/><circle cx="598.7" cy="290.02" r="1.8"/><circle cx="593.05" cy="259.8" r="1.8"/><circle cx="628.19" cy="266.05" r="1.8"/><circle cx="588.33" cy="269.35" r="1.8"/><circle cx="587.86" cy="249.68" r="1.8"/><circle cx="586.86" cy="270.27" r="1.8"/><circle cx="586.27" cy="267.63" r="1.8"/><circle cx="600.6" cy="281.19" r="1.8"/><circle cx="597.91" cy="282.98" r="1.8"/><circle cx="585.03" cy="268.62" r="1.8"/><circle cx="602.9" cy="261.3" r="1.8"/><circle cx="616.25" cy="252.75" r="1.8"/><circle cx="604.65" cy="265.48" r="1.8"/><circle cx="604.15" cy="271.55" r="1.8"/><circle cx="600.28" cy="271.04" r="1.8"/><circle cx="586.3" cy="259.48" r="1.8"/><circle cx="617.49" cy="265.48" r="1.8"/><circle cx="604.05" cy="267.33" r="1.8"/><circle cx="623.98" cy="251.32" r="1.8"/><circle cx="605.05" cy="268.04" r="1.8"/><circle cx="609.68" cy="282.61" r="1.8"/><circle cx="601.83" cy="273.95" r="1.8"/><circle cx="599.48" cy="274.5" r="1.8"/><circle cx="574.52" cy="274.01" r="1.8"/><circle cx="609.68" cy="250.65" r="1.8"/><circle cx="608.01" cy="284.25" r="1.8"/><circle cx="594.02" cy="279.86" r="1.8"/><circle cx="598.55" cy="263.04" r="1.8"/><circle cx="599.06" cy="277.57" r="1.8"/><circle cx="596.97" cy="236.33" r="1.8"/><circle cx="596.6" cy="258.85" r="1.8"/><circle cx="604.7" cy="278.97" r="1.8"/><circle cx="595.49" cy="268.73" r="1.8"/><circle cx="602.06" cy="269.26" r="1.8"/><circle cx="605.57" cy="285.94" r="1.8"/><circle cx="587.46" cy="269.48" r="1.8"/><circle cx="602.7" cy="262.45" r="1.8"/><circle cx="600.05" cy="279.77" r="1.8"/><circle cx="603.57" cy="257.29" r="1.8"/><circle cx="597.4" cy="278" r="1.8"/><circle cx="591.23" cy="254.93" r="1.8"/><circle cx="606.05" cy="275.66" r="1.8"/><circle cx="583.61" cy="271.63" r="1.8"/><circle cx="579.82" cy="274.6" r="1.8"/><circle cx="609.45" cy="259.68" r="1.8"/><circle cx="599.86" cy="266.79" r="1.8"/><circle cx="584" cy="270.93" r="1.8"/><circle cx="578.92" cy="261.34" r="1.8"/><circle cx="593.04" cy="277.95" r="1.8"/><circle cx="580.48" cy="270.92" r="1.8"/><circle cx="606.36" cy="259.34" r="1.8"/><circle cx="578.42" cy="262.94" r="1.8"/><circle cx="580.91" cy="272.38" r="1.8"/><circle cx="590.85" cy="271.83" r="1.8"/><circle cx="594.49" cy="260.15" r="1.8"/><circle cx="576.84" cy="271.68" r="1.8"/><circle cx="577.64" cy="273.82" r="1.8"/><circle cx="603.57" cy="271.27" r="1.8"/><circle cx="607.76" cy="261.04" r="1.8"/><circle cx="593.3" cy="270.54" r="1.8"/><circle cx="584.33" cy="276.68" r="1.8"/><circle cx="608.08" cy="271.5" r="1.8"/><circle cx="616.38" cy="257.61" r="1.8"/><circle cx="601.27" cy="251.78" r="1.8"/><circle cx="583.38" cy="269.94" r="1.8"/><circle cx="592.73" cy="261.76" r="1.8"/><circle cx="598.68" cy="273.45" r="1.8"/><circle cx="579.02" cy="245.81" r="1.8"/><circle cx="601.03" cy="268.65" r="1.8"/><circle cx="597.43" cy="252.97" r="1.8"/><circle cx="604.87" cy="276.81" r="1.8"/><circle cx="600.88" cy="277.42" r="1.8"/><circle cx="612.29" cy="256.32" r="1.8"/><circle cx="611.48" cy="264.69" r="1.8"/><circle cx="590.4" cy="255.22" r="1.8"/><circle cx="611.8" cy="273.09" r="1.8"/><circle cx="602.23" cy="269.56" r="1.8"/><circle cx="596.05" cy="269.69" r="1.8"/><circle cx="582.17" cy="255.85" r="1.8"/><circle cx="585.48" cy="262.4" r="1.8"/><circle cx="597.79" cy="265.27" r="1.8"/><circle cx="613.2" cy="258.69" r="1.8"/><circle cx="590.3" cy="261.36" r="1.8"/><circle cx="587.9" cy="255.07" r="1.8"/><circle cx="578.97" cy="259.45" r="1.8"/><circle cx="609.74" cy="284.42" r="1.8"/><circle cx="584.21" cy="275.7" r="1.8"/><circle cx="591.94" cy="262.45" r="1.8"/><circle cx="595.24" cy="267.96" r="1.8"/><circle cx="597.82" cy="268.81" r="1.8"/><circle cx="598.8" cy="267.96" r="1.8"/><circle cx="605.35" cy="270.93" r="1.8"/><circle cx="590.8" cy="278.51" r="1.8"/><circle cx="597.45" cy="262.79" r="1.8"/><circle cx="602.53" cy="291.68" r="1.8"/><circle cx="598.27" cy="266.57" r="1.8"/><circle cx="592.9" cy="274.29" r="1.8"/><circle cx="600.9" cy="277.08" r="1.8"/><circle cx="599.95" cy="279.42" r="1.8"/><circle cx="591.16" cy="266.01" r="1.8"/><circle cx="594.86" cy="260.85" r="1.8"/><circle cx="594.86" cy="262.21" r="1.8"/><circle cx="596.24" cy="274.85" r="1.8"/><circle cx="614.2" cy="276.23" r="1.8"/><circle cx="577.02" cy="283.1" r="1.8"/><circle cx="616.36" cy="271.8" r="1.8"/><circle cx="598.36" cy="251.12" r="1.8"/><circle cx="608.24" cy="272.85" r="1.8"/><circle cx="597.01" cy="274.72" r="1.8"/><circle cx="583.28" cy="278.03" r="1.8"/><circle cx="603.19" cy="266.47" r="1.8"/><circle cx="596.62" cy="264.8" r="1.8"/><circle cx="623.89" cy="225.24" r="1.8"/><circle cx="568.12" cy="284.26" r="1.8"/><circle cx="616.93" cy="276.17" r="1.8"/><circle cx="582.24" cy="274.09" r="1.8"/><circle cx="580.28" cy="277.56" r="1.8"/><circle cx="591.56" cy="301.96" r="1.8"/><circle cx="603.45" cy="280.67" r="1.8"/><circle cx="608.39" cy="271.53" r="1.8"/><circle cx="608.79" cy="268.22" r="1.8"/><circle cx="602.1" cy="256.58" r="1.8"/><circle cx="600.71" cy="291.72" r="1.8"/><circle cx="586.44" cy="274.1" r="1.8"/><circle cx="607.28" cy="274.21" r="1.8"/><circle cx="597.91" cy="267.67" r="1.8"/><circle cx="581.61" cy="276.61" r="1.8"/><circle cx="581.47" cy="259.4" r="1.8"/><circle cx="611.81" cy="281.18" r="1.8"/><circle cx="581.18" cy="283.93" r="1.8"/><circle cx="594.97" cy="262.22" r="1.8"/><circle cx="583.77" cy="271.51" r="1.8"/><circle cx="602.21" cy="278.22" r="1.8"/><circle cx="585.16" cy="279.57" r="1.8"/><circle cx="598.85" cy="267.78" r="1.8"/><circle cx="598.31" cy="284.15" r="1.8"/><circle cx="608.6" cy="227.49" r="1.8"/><circle cx="592.65" cy="269.2" r="1.8"/><circle cx="585.37" cy="274.49" r="1.8"/><circle cx="607.4" cy="282.52" r="1.8"/><circle cx="583.35" cy="232.21" r="1.8"/><circle cx="598.12" cy="267.99" r="1.8"/><circle cx="597.69" cy="278.91" r="1.8"/><circle cx="594.65" cy="276.39" r="1.8"/><circle cx="594.02" cy="278.91" r="1.8"/><circle cx="609.15" cy="278.14" r="1.8"/><circle cx="585.51" cy="279.1" r="1.8"/><circle cx="597.6" cy="261.22" r="1.8"/><circle cx="588.18" cy="259.8" r="1.8"/><circle cx="627.13" cy="267.76" r="1.8"/><circle cx="601.12" cy="294.13" r="1.8"/><circle cx="602.73" cy="281.26" r="1.8"/><circle cx="582.85" cy="258.23" r="1.8"/><circle cx="577.74" cy="278" r="1.8"/><circle cx="578.49" cy="253.98" r="1.8"/><circle cx="591.25" cy="268.19" r="1.8"/><circle cx="611.01" cy="279.42" r="1.8"/><circle cx="604.85" cy="258.08" r="1.8"/><circle cx="596.3" cy="266.84" r="1.8"/><circle cx="593.09" cy="265.32" r="1.8"/><circle cx="593.2" cy="261.82" r="1.8"/><circle cx="606.44" cy="256.01" r="1.8"/><circle cx="596.42" cy="274.8" r="1.8"/><circle cx="608.78" cy="275.62" r="1.8"/><circle cx="600.28" cy="276.84" r="1.8"/><circle cx="594.07" cy="286.79" r="1.8"/><circle cx="598.95" cy="270.64" r="1.8"/><circle cx="594.01" cy="252.68" r="1.8"/><circle cx="589" cy="261.18" r="1.8"/><circle cx="585.17" cy="252.73" r="1.8"/><circle cx="597.69" cy="267.36" r="1.8"/><circle cx="609.57" cy="265.6" r="1.8"/><circle cx="594.29" cy="265.61" r="1.8"/><circle cx="611.48" cy="275.03" r="1.8"/><circle cx="590.14" cy="233.66" r="1.8"/><circle cx="593.08" cy="266.12" r="1.8"/><circle cx="614.06" cy="289.77" r="1.8"/><circle cx="595.86" cy="270.84" r="1.8"/><circle cx="594.94" cy="266.36" r="1.8"/><circle cx="600.59" cy="266.38" r="1.8"/><circle cx="597.26" cy="260.92" r="1.8"/><circle cx="595.81" cy="275.28" r="1.8"/><circle cx="600.97" cy="260.13" r="1.8"/><circle cx="606.85" cy="266.88" r="1.8"/><circle cx="586.32" cy="258.07" r="1.8"/><circle cx="607.36" cy="277.85" r="1.8"/><circle cx="581.32" cy="270.22" r="1.8"/><circle cx="598.61" cy="288.97" r="1.8"/><circle cx="592.75" cy="263.16" r="1.8"/><circle cx="605.32" cy="257.03" r="1.8"/><circle cx="618.52" cy="297.88" r="1.8"/><circle cx="605.73" cy="267.6" r="1.8"/><circle cx="600.29" cy="261.36" r="1.8"/><circle cx="597.63" cy="266.21" r="1.8"/><circle cx="604.33" cy="268.33" r="1.8"/><circle cx="586.98" cy="274.82" r="1.8"/><circle cx="584.73" cy="275.68" r="1.8"/><circle cx="591.59" cy="274.48" r="1.8"/><circle cx="581.87" cy="262.61" r="1.8"/><circle cx="610.29" cy="260.55" r="1.8"/><circle cx="616.42" cy="270.47" r="1.8"/><circle cx="599.01" cy="254.72" r="1.8"/><circle cx="587.52" cy="259.72" r="1.8"/><circle cx="590.82" cy="263.29" r="1.8"/><circle cx="573.02" cy="258.21" r="1.8"/><circle cx="591.36" cy="285.71" r="1.8"/><circle cx="612.13" cy="264.37" r="1.8"/><circle cx="606.83" cy="264.85" r="1.8"/><circle cx="603.56" cy="265.57" r="1.8"/><circle cx="605.13" cy="250.93" r="1.8"/><circle cx="586.6" cy="271.26" r="1.8"/><circle cx="589.38" cy="250.47" r="1.8"/><circle cx="609.7" cy="256.31" r="1.8"/><circle cx="604.45" cy="246.11" r="1.8"/><circle cx="608.49" cy="254.88" r="1.8"/><circle cx="594.23" cy="268.51" r="1.8"/><circle cx="586.72" cy="274.53" r="1.8"/><circle cx="608.37" cy="269.53" r="1.8"/><circle cx="595.19" cy="268.86" r="1.8"/><circle cx="586.02" cy="290.43" r="1.8"/><circle cx="612.59" cy="276.06" r="1.8"/><circle cx="590.14" cy="281.5" r="1.8"/><circle cx="594.18" cy="260.02" r="1.8"/><circle cx="619.28" cy="236.7" r="1.8"/><circle cx="602.68" cy="267.45" r="1.8"/><circle cx="592.69" cy="254.72" r="1.8"/><circle cx="596.36" cy="274.08" r="1.8"/><circle cx="589.33" cy="265.03" r="1.8"/><circle cx="593.48" cy="270.44" r="1.8"/><circle cx="607.69" cy="277.94" r="1.8"/><circle cx="571.08" cy="270.21" r="1.8"/><circle cx="586.63" cy="265.64" r="1.8"/><circle cx="605.47" cy="259.51" r="1.8"/><circle cx="577.62" cy="268.7" r="1.8"/><circle cx="592.27" cy="265.35" r="1.8"/><circle cx="614.71" cy="247.76" r="1.8"/><circle cx="622.38" cy="286.35" r="1.8"/><circle cx="591.29" cy="254.16" r="1.8"/><circle cx="595.12" cy="251.88" r="1.8"/><circle cx="602.09" cy="267.94" r="1.8"/><circle cx="574.25" cy="278.93" r="1.8"/><circle cx="583.88" cy="284.74" r="1.8"/><circle cx="576.31" cy="281.52" r="1.8"/><circle cx="599.42" cy="259" r="1.8"/><circle cx="583.71" cy="275.45" r="1.8"/><circle cx="610.64" cy="262.23" r="1.8"/><circle cx="589.98" cy="271.23" r="1.8"/><circle cx="584.58" cy="263.35" r="1.8"/><circle cx="600.76" cy="279.49" r="1.8"/><circle cx="582.75" cy="266.78" r="1.8"/><circle cx="593.08" cy="274.91" r="1.8"/><circle cx="594.93" cy="260.68" r="1.8"/><circle cx="594.16" cy="280.89" r="1.8"/><circle cx="610.41" cy="265.1" r="1.8"/><circle cx="604.4" cy="268.8" r="1.8"/><circle cx="615.4" cy="297.7" r="1.8"/><circle cx="594.28" cy="262.64" r="1.8"/><circle cx="575.06" cy="274.85" r="1.8"/><circle cx="591.45" cy="267.86" r="1.8"/><circle cx="604.25" cy="281.45" r="1.8"/><circle cx="607.71" cy="264.23" r="1.8"/><circle cx="591.07" cy="244.42" r="1.8"/><circle cx="580.77" cy="276.23" r="1.8"/><circle cx="591.38" cy="266.11" r="1.8"/><circle cx="572.89" cy="244.54" r="1.8"/><circle cx="594.64" cy="276.12" r="1.8"/><circle cx="585" cy="240.08" r="1.8"/><circle cx="580.32" cy="258.03" r="1.8"/><circle cx="577.83" cy="272.44" r="1.8"/><circle cx="607.23" cy="262.13" r="1.8"/><circle cx="585.74" cy="290.09" r="1.8"/><circle cx="600.3" cy="280.77" r="1.8"/><circle cx="601.66" cy="261.01" r="1.8"/><circle cx="600.2" cy="274.18" r="1.8"/><circle cx="594.54" cy="243.78" r="1.8"/><circle cx="564.08" cy="234.68" r="1.8"/><circle cx="583.72" cy="267.34" r="1.8"/><circle cx="575.55" cy="279.11" r="1.8"/><circle cx="603.56" cy="275.5" r="1.8"/><circle cx="602.61" cy="250.03" r="1.8"/><circle cx="598.66" cy="251.04" r="1.8"/><circle cx="590.2" cy="285.84" r="1.8"/><circle cx="605.61" cy="263.56" r="1.8"/><circle cx="601.67" cy="264.94" r="1.8"/><circle cx="606.51" cy="266.25" r="1.8"/><circle cx="592.68" cy="262.44" r="1.8"/><circle cx="592.63" cy="263.75" r="1.8"/><circle cx="587.8" cy="250.77" r="1.8"/><circle cx="590.76" cy="272.35" r="1.8"/><circle cx="577.41" cy="254.81" r="1.8"/><circle cx="587.85" cy="278.08" r="1.8"/><circle cx="586.71" cy="251.9" r="1.8"/><circle cx="608.86" cy="270.16" r="1.8"/><circle cx="605.32" cy="272.23" r="1.8"/><circle cx="603.97" cy="268.19" r="1.8"/><circle cx="581.96" cy="257.99" r="1.8"/><circle cx="591.18" cy="253.66" r="1.8"/><circle cx="606.16" cy="311.77" r="1.8"/><circle cx="593.64" cy="277.52" r="1.8"/><circle cx="587.41" cy="270.17" r="1.8"/><circle cx="599.44" cy="280.68" r="1.8"/><circle cx="604.21" cy="271.21" r="1.8"/><circle cx="609.55" cy="245.61" r="1.8"/><circle cx="601.93" cy="264.22" r="1.8"/><circle cx="590.88" cy="274.35" r="1.8"/><circle cx="602.03" cy="270.62" r="1.8"/><circle cx="600.05" cy="268.73" r="1.8"/><circle cx="575.27" cy="212.03" r="1.8"/><circle cx="607.39" cy="276.62" r="1.8"/><circle cx="605.1" cy="260.27" r="1.8"/><circle cx="599.5" cy="287.64" r="1.8"/><circle cx="612.83" cy="247.24" r="1.8"/><circle cx="601.49" cy="257.21" r="1.8"/><circle cx="611.33" cy="265.18" r="1.8"/><circle cx="606.42" cy="256.23" r="1.8"/><circle cx="584.02" cy="265.29" r="1.8"/><circle cx="595.17" cy="254.78" r="1.8"/><circle cx="597.21" cy="277.73" r="1.8"/><circle cx="595.64" cy="270.24" r="1.8"/><circle cx="609.66" cy="280.12" r="1.8"/><circle cx="581.12" cy="271.27" r="1.8"/><circle cx="597.23" cy="257.17" r="1.8"/><circle cx="582.32" cy="278.64" r="1.8"/><circle cx="611.67" cy="250.14" r="1.8"/><circle cx="606.96" cy="280.2" r="1.8"/><circle cx="605.54" cy="267.04" r="1.8"/><circle cx="581.07" cy="275.75" r="1.8"/><circle cx="597.63" cy="271.57" r="1.8"/><circle cx="598.91" cy="265.66" r="1.8"/><circle cx="575.56" cy="287.3" r="1.8"/><circle cx="615.14" cy="277.1" r="1.8"/><circle cx="618.23" cy="279.24" r="1.8"/><circle cx="590.8" cy="273.02" r="1.8"/><circle cx="600.09" cy="272.05" r="1.8"/><circle cx="582.34" cy="274.03" r="1.8"/><circle cx="591.67" cy="278.44" r="1.8"/><circle cx="605.45" cy="282.22" r="1.8"/><circle cx="596.76" cy="272.72" r="1.8"/><circle cx="605.65" cy="261.84" r="1.8"/><circle cx="591.49" cy="268.18" r="1.8"/><circle cx="602.43" cy="256.68" r="1.8"/><circle cx="573.01" cy="258.67" r="1.8"/><circle cx="581.78" cy="275.02" r="1.8"/><circle cx="591.25" cy="292.97" r="1.8"/><circle cx="590.83" cy="260.35" r="1.8"/><circle cx="609.98" cy="265" r="1.8"/><circle cx="609.64" cy="257.75" r="1.8"/><circle cx="593.34" cy="280.81" r="1.8"/><circle cx="587.62" cy="264.01" r="1.8"/><circle cx="586.61" cy="272.95" r="1.8"/><circle cx="591.47" cy="275.8" r="1.8"/><circle cx="592.69" cy="283.17" r="1.8"/><circle cx="599.29" cy="272.64" r="1.8"/><circle cx="590.14" cy="264.24" r="1.8"/><circle cx="584.13" cy="255.58" r="1.8"/><circle cx="594.37" cy="278.19" r="1.8"/><circle cx="603.58" cy="263.06" r="1.8"/><circle cx="594.79" cy="273.56" r="1.8"/><circle cx="600.4" cy="283.73" r="1.8"/><circle cx="587.89" cy="266.17" r="1.8"/><circle cx="604.6" cy="260.3" r="1.8"/><circle cx="600.4" cy="292.32" r="1.8"/><circle cx="613.03" cy="255.06" r="1.8"/><circle cx="595.58" cy="279.95" r="1.8"/><circle cx="612.72" cy="278.81" r="1.8"/><circle cx="588.33" cy="258.01" r="1.8"/><circle cx="604.6" cy="236.28" r="1.8"/><circle cx="588.11" cy="262.36" r="1.8"/><circle cx="583.19" cy="263.28" r="1.8"/><circle cx="591.76" cy="271.68" r="1.8"/><circle cx="585.16" cy="276.22" r="1.8"/><circle cx="597.5" cy="232.15" r="1.8"/><circle cx="598.13" cy="256.41" r="1.8"/><circle cx="592.4" cy="270.47" r="1.8"/><circle cx="578.91" cy="271.42" r="1.8"/><circle cx="604.55" cy="279.25" r="1.8"/><circle cx="603.25" cy="274.92" r="1.8"/><circle cx="583.57" cy="262.62" r="1.8"/><circle cx="591.42" cy="274.42" r="1.8"/><circle cx="611.5" cy="273.41" r="1.8"/><circle cx="595.4" cy="259.76" r="1.8"/><circle cx="590.16" cy="254.5" r="1.8"/><circle cx="611.08" cy="266.61" r="1.8"/><circle cx="595.63" cy="248.84" r="1.8"/><circle cx="602.88" cy="275.67" r="1.8"/><circle cx="600.44" cy="277.02" r="1.8"/><circle cx="595.12" cy="268.42" r="1.8"/><circle cx="591.97" cy="253.66" r="1.8"/><circle cx="589.45" cy="269.78" r="1.8"/><circle cx="601.38" cy="262.19" r="1.8"/><circle cx="596.1" cy="266.68" r="1.8"/><circle cx="596.74" cy="277.09" r="1.8"/><circle cx="580.73" cy="274.23" r="1.8"/><circle cx="590.52" cy="240.95" r="1.8"/><circle cx="584.57" cy="272.3" r="1.8"/><circle cx="601.06" cy="283.77" r="1.8"/><circle cx="586.53" cy="267.31" r="1.8"/><circle cx="580.53" cy="270.75" r="1.8"/><circle cx="586.99" cy="270.32" r="1.8"/><circle cx="602.81" cy="268.54" r="1.8"/><circle cx="602.82" cy="278.11" r="1.8"/><circle cx="597.94" cy="263.2" r="1.8"/><circle cx="597.77" cy="262.67" r="1.8"/><circle cx="590.56" cy="262.74" r="1.8"/><circle cx="593.17" cy="269.12" r="1.8"/><circle cx="594.67" cy="265.91" r="1.8"/><circle cx="592.63" cy="263.37" r="1.8"/><circle cx="612.6" cy="267.64" r="1.8"/><circle cx="604.09" cy="266.94" r="1.8"/><circle cx="607.75" cy="277.65" r="1.8"/><circle cx="598.6" cy="258.05" r="1.8"/><circle cx="595.27" cy="275.11" r="1.8"/><circle cx="575.82" cy="277.6" r="1.8"/><circle cx="588.17" cy="278.19" r="1.8"/><circle cx="602.45" cy="267.84" r="1.8"/><circle cx="602.97" cy="270.83" r="1.8"/><circle cx="601.56" cy="274.73" r="1.8"/><circle cx="598.23" cy="260.95" r="1.8"/><circle cx="617.81" cy="283.44" r="1.8"/><circle cx="597.83" cy="260.77" r="1.8"/><circle cx="600.4" cy="265.73" r="1.8"/><circle cx="622.82" cy="286.74" r="1.8"/><circle cx="588.91" cy="256.77" r="1.8"/><circle cx="582.6" cy="272.77" r="1.8"/><circle cx="599.1" cy="265.32" r="1.8"/><circle cx="604.65" cy="267.17" r="1.8"/><circle cx="571.24" cy="299.13" r="1.8"/><circle cx="603.56" cy="260.45" r="1.8"/><circle cx="604.02" cy="278.75" r="1.8"/><circle cx="610.44" cy="271.23" r="1.8"/><circle cx="612.37" cy="274.1" r="1.8"/><circle cx="577.47" cy="241.39" r="1.8"/><circle cx="582.49" cy="247.56" r="1.8"/><circle cx="582.23" cy="265.07" r="1.8"/><circle cx="601.18" cy="266.45" r="1.8"/><circle cx="565.3" cy="270.78" r="1.8"/><circle cx="605.59" cy="275.46" r="1.8"/><circle cx="601.01" cy="280.1" r="1.8"/><circle cx="585.99" cy="281.17" r="1.8"/><circle cx="592.12" cy="272.67" r="1.8"/><circle cx="586.34" cy="286.62" r="1.8"/><circle cx="581.44" cy="261.23" r="1.8"/><circle cx="594.81" cy="286.15" r="1.8"/><circle cx="603.68" cy="260.37" r="1.8"/><circle cx="613.78" cy="253.34" r="1.8"/><circle cx="608.57" cy="270.95" r="1.8"/><circle cx="585.41" cy="259.23" r="1.8"/><circle cx="567.97" cy="249.52" r="1.8"/><circle cx="599.87" cy="257.46" r="1.8"/><circle cx="600.52" cy="267.04" r="1.8"/><circle cx="584.64" cy="261.03" r="1.8"/><circle cx="610.25" cy="275.34" r="1.8"/><circle cx="623.46" cy="292.02" r="1.8"/><circle cx="587.08" cy="268.24" r="1.8"/><circle cx="591.18" cy="265.21" r="1.8"/><circle cx="593.41" cy="267.29" r="1.8"/><circle cx="579.24" cy="254.17" r="1.8"/><circle cx="603.4" cy="265.1" r="1.8"/><circle cx="591.18" cy="279.35" r="1.8"/><circle cx="621.68" cy="280.54" r="1.8"/><circle cx="621.07" cy="263.25" r="1.8"/><circle cx="587.42" cy="214.8" r="1.8"/><circle cx="587.49" cy="254.83" r="1.8"/><circle cx="596.35" cy="272.85" r="1.8"/><circle cx="617.24" cy="249.39" r="1.8"/><circle cx="596.04" cy="281.04" r="1.8"/><circle cx="608.8" cy="274.03" r="1.8"/><circle cx="604.63" cy="293.77" r="1.8"/><circle cx="598.45" cy="278.92" r="1.8"/><circle cx="607.14" cy="252.48" r="1.8"/><circle cx="608.52" cy="264.68" r="1.8"/><circle cx="592.46" cy="271.5" r="1.8"/><circle cx="602.8" cy="268.3" r="1.8"/><circle cx="593.99" cy="279.79" r="1.8"/><circle cx="587.15" cy="260.36" r="1.8"/><circle cx="613.19" cy="262.11" r="1.8"/><circle cx="579.18" cy="287.08" r="1.8"/><circle cx="595.3" cy="273.33" r="1.8"/><circle cx="611.47" cy="249.16" r="1.8"/><circle cx="621.25" cy="299.54" r="1.8"/><circle cx="591.31" cy="264.18" r="1.8"/><circle cx="601.73" cy="284.95" r="1.8"/><circle cx="591.2" cy="244.22" r="1.8"/><circle cx="584.72" cy="274.21" r="1.8"/><circle cx="591.75" cy="268.99" r="1.8"/><circle cx="592.45" cy="274.04" r="1.8"/><circle cx="610" cy="281.57" r="1.8"/><circle cx="604.15" cy="242" r="1.8"/><circle cx="592.56" cy="269.7" r="1.8"/><circle cx="600.61" cy="270.55" r="1.8"/><circle cx="604.49" cy="262.57" r="1.8"/><circle cx="608.99" cy="279.3" r="1.8"/><circle cx="595.35" cy="260.43" r="1.8"/><circle cx="603.05" cy="275.35" r="1.8"/><circle cx="621.52" cy="273.42" r="1.8"/><circle cx="612.71" cy="274.21" r="1.8"/><circle cx="603.33" cy="282.17" r="1.8"/><circle cx="584.68" cy="296.77" r="1.8"/><circle cx="604.84" cy="266.08" r="1.8"/><circle cx="587.64" cy="266.52" r="1.8"/><circle cx="577.86" cy="257.91" r="1.8"/><circle cx="598.87" cy="258.04" r="1.8"/><circle cx="599.98" cy="268.81" r="1.8"/><circle cx="599.71" cy="282.21" r="1.8"/><circle cx="594.73" cy="278.98" r="1.8"/><circle cx="585.05" cy="271.94" r="1.8"/><circle cx="597.31" cy="285.6" r="1.8"/><circle cx="607.5" cy="270.23" r="1.8"/><circle cx="609.42" cy="273.7" r="1.8"/><circle cx="614.76" cy="278.23" r="1.8"/><circle cx="591.06" cy="262.96" r="1.8"/><circle cx="593.41" cy="290.11" r="1.8"/><circle cx="574.27" cy="266.54" r="1.8"/><circle cx="608.23" cy="265.92" r="1.8"/><circle cx="597.82" cy="290.32" r="1.8"/><circle cx="615.54" cy="276.2" r="1.8"/><circle cx="595.83" cy="267.39" r="1.8"/><circle cx="594.77" cy="262.1" r="1.8"/><circle cx="607.15" cy="263.39" r="1.8"/><circle cx="599.24" cy="283.33" r="1.8"/><circle cx="584.33" cy="264.19" r="1.8"/><circle cx="610.02" cy="265.62" r="1.8"/><circle cx="628.41" cy="283.41" r="1.8"/><circle cx="594.57" cy="264.52" r="1.8"/><circle cx="583.15" cy="271.52" r="1.8"/><circle cx="606.91" cy="268.35" r="1.8"/><circle cx="590.56" cy="262.09" r="1.8"/><circle cx="602.22" cy="270.99" r="1.8"/><circle cx="592.65" cy="261.94" r="1.8"/><circle cx="593.02" cy="246.99" r="1.8"/><circle cx="590.06" cy="246.23" r="1.8"/><circle cx="592.35" cy="280.41" r="1.8"/><circle cx="581.23" cy="274.5" r="1.8"/><circle cx="595.35" cy="272.99" r="1.8"/><circle cx="583.35" cy="263.4" r="1.8"/><circle cx="600.05" cy="259.46" r="1.8"/><circle cx="609.85" cy="276.68" r="1.8"/><circle cx="594.83" cy="265.99" r="1.8"/><circle cx="589.5" cy="287.89" r="1.8"/><circle cx="570.66" cy="272.23" r="1.8"/><circle cx="598.38" cy="261.39" r="1.8"/><circle cx="605.59" cy="267.22" r="1.8"/><circle cx="580.87" cy="260.74" r="1.8"/><circle cx="608.52" cy="265.86" r="1.8"/><circle cx="590.2" cy="248.05" r="1.8"/><circle cx="608.4" cy="262.42" r="1.8"/><circle cx="580.45" cy="264.24" r="1.8"/><circle cx="597.58" cy="261.03" r="1.8"/><circle cx="612.07" cy="251.66" r="1.8"/><circle cx="593.41" cy="271.46" r="1.8"/><circle cx="593.21" cy="270.27" r="1.8"/><circle cx="589.59" cy="251.72" r="1.8"/><circle cx="599.56" cy="260.47" r="1.8"/><circle cx="581.83" cy="270.4" r="1.8"/><circle cx="589.3" cy="267.53" r="1.8"/><circle cx="581.82" cy="267.21" r="1.8"/><circle cx="589.59" cy="261.6" r="1.8"/><circle cx="607.52" cy="304.4" r="1.8"/><circle cx="580.46" cy="270.04" r="1.8"/><circle cx="583.57" cy="266.24" r="1.8"/><circle cx="596.74" cy="268.54" r="1.8"/><circle cx="592.04" cy="266.87" r="1.8"/><circle cx="585.93" cy="271.84" r="1.8"/><circle cx="595.15" cy="266.44" r="1.8"/><circle cx="560.88" cy="270.51" r="1.8"/><circle cx="593.64" cy="269.21" r="1.8"/><circle cx="604.57" cy="297.79" r="1.8"/><circle cx="599.32" cy="266.82" r="1.8"/><circle cx="603.05" cy="278.34" r="1.8"/><circle cx="594.79" cy="257.43" r="1.8"/><circle cx="593.1" cy="260.57" r="1.8"/><circle cx="598.39" cy="271.89" r="1.8"/><circle cx="585.53" cy="277.82" r="1.8"/><circle cx="597.06" cy="261.92" r="1.8"/><circle cx="587.04" cy="268.89" r="1.8"/><circle cx="598.69" cy="274.91" r="1.8"/><circle cx="593.99" cy="272.04" r="1.8"/><circle cx="598.58" cy="253.49" r="1.8"/><circle cx="588.34" cy="292.2" r="1.8"/><circle cx="586.35" cy="277.87" r="1.8"/><circle cx="604.85" cy="263.61" r="1.8"/><circle cx="608.85" cy="284.47" r="1.8"/><circle cx="589.59" cy="251.11" r="1.8"/><circle cx="590.1" cy="248.32" r="1.8"/><circle cx="599.21" cy="277.22" r="1.8"/><circle cx="600.31" cy="252.5" r="1.8"/><circle cx="616.33" cy="256.22" r="1.8"/><circle cx="594.96" cy="267.84" r="1.8"/><circle cx="605.66" cy="272.02" r="1.8"/><circle cx="589.45" cy="274.48" r="1.8"/><circle cx="572.61" cy="280.24" r="1.8"/><circle cx="598.89" cy="271.01" r="1.8"/><circle cx="581.39" cy="245.83" r="1.8"/><circle cx="605.64" cy="258.43" r="1.8"/><circle cx="609.74" cy="273.11" r="1.8"/><circle cx="575.73" cy="272.43" r="1.8"/><circle cx="595.61" cy="270.86" r="1.8"/><circle cx="605.66" cy="253.28" r="1.8"/><circle cx="589" cy="268.45" r="1.8"/><circle cx="607.48" cy="264.38" r="1.8"/><circle cx="595.44" cy="272.1" r="1.8"/><circle cx="597.97" cy="273.17" r="1.8"/><circle cx="583.44" cy="292.27" r="1.8"/><circle cx="586.42" cy="260.77" r="1.8"/><circle cx="600.39" cy="269.75" r="1.8"/><circle cx="606.62" cy="271.36" r="1.8"/><circle cx="607.1" cy="284.49" r="1.8"/><circle cx="598.42" cy="273.37" r="1.8"/><circle cx="583.34" cy="288.84" r="1.8"/><circle cx="602" cy="265.5" r="1.8"/><circle cx="627.24" cy="262.11" r="1.8"/><circle cx="596.78" cy="259.82" r="1.8"/><circle cx="600.35" cy="262.09" r="1.8"/><circle cx="605.28" cy="266.34" r="1.8"/><circle cx="584.7" cy="274.26" r="1.8"/><circle cx="586.72" cy="272.5" r="1.8"/><circle cx="601.78" cy="284.46" r="1.8"/><circle cx="581.69" cy="274.85" r="1.8"/><circle cx="602.27" cy="271.01" r="1.8"/><circle cx="614.66" cy="259.96" r="1.8"/><circle cx="604.15" cy="262.86" r="1.8"/><circle cx="593.67" cy="276.51" r="1.8"/><circle cx="594.75" cy="273.02" r="1.8"/><circle cx="596.2" cy="266.9" r="1.8"/><circle cx="591.61" cy="266.25" r="1.8"/><circle cx="590.87" cy="273.4" r="1.8"/><circle cx="604.9" cy="272.31" r="1.8"/><circle cx="602.21" cy="278.01" r="1.8"/><circle cx="594.13" cy="255.66" r="1.8"/><circle cx="607.41" cy="269.49" r="1.8"/><circle cx="583.76" cy="257.08" r="1.8"/><circle cx="594.88" cy="265.76" r="1.8"/><circle cx="591.39" cy="285.66" r="1.8"/><circle cx="594.8" cy="265.51" r="1.8"/><circle cx="592.31" cy="278.83" r="1.8"/><circle cx="598.08" cy="275.1" r="1.8"/><circle cx="598.19" cy="277.56" r="1.8"/><circle cx="586.62" cy="272.49" r="1.8"/><circle cx="602.09" cy="259.22" r="1.8"/><circle cx="595.33" cy="275.2" r="1.8"/><circle cx="587.06" cy="269.33" r="1.8"/><circle cx="601.46" cy="266.93" r="1.8"/><circle cx="600.77" cy="280.37" r="1.8"/><circle cx="607.89" cy="262.55" r="1.8"/><circle cx="572.79" cy="273.56" r="1.8"/><circle cx="596.11" cy="262.05" r="1.8"/><circle cx="594.35" cy="254.6" r="1.8"/><circle cx="586.17" cy="276.3" r="1.8"/><circle cx="575.07" cy="241.15" r="1.8"/><circle cx="576.35" cy="257.38" r="1.8"/><circle cx="603.87" cy="257" r="1.8"/><circle cx="589.95" cy="258.38" r="1.8"/><circle cx="611.96" cy="306.94" r="1.8"/><circle cx="595.62" cy="290.22" r="1.8"/><circle cx="610.6" cy="277.54" r="1.8"/><circle cx="594.95" cy="265.31" r="1.8"/><circle cx="601.54" cy="280.28" r="1.8"/><circle cx="593.93" cy="266.3" r="1.8"/><circle cx="588.34" cy="270.46" r="1.8"/><circle cx="593.68" cy="267.66" r="1.8"/><circle cx="595.25" cy="266.53" r="1.8"/><circle cx="598.79" cy="273.83" r="1.8"/><circle cx="609.78" cy="257.61" r="1.8"/><circle cx="601.09" cy="259.45" r="1.8"/><circle cx="606.08" cy="268.56" r="1.8"/><circle cx="600.94" cy="265.09" r="1.8"/><circle cx="588.68" cy="287.72" r="1.8"/><circle cx="612.76" cy="300.13" r="1.8"/><circle cx="594.63" cy="265.07" r="1.8"/><circle cx="613.79" cy="280.62" r="1.8"/><circle cx="594.78" cy="252.28" r="1.8"/><circle cx="620.25" cy="290.54" r="1.8"/><circle cx="588.52" cy="274.85" r="1.8"/><circle cx="604.87" cy="259.02" r="1.8"/><circle cx="595.77" cy="291.92" r="1.8"/><circle cx="593.01" cy="262.7" r="1.8"/><circle cx="593.74" cy="271.4" r="1.8"/><circle cx="594.64" cy="284.23" r="1.8"/><circle cx="599.28" cy="281.82" r="1.8"/><circle cx="593.8" cy="291.14" r="1.8"/><circle cx="590.17" cy="279.6" r="1.8"/><circle cx="584.15" cy="263.59" r="1.8"/><circle cx="582.29" cy="286.03" r="1.8"/><circle cx="598.06" cy="271.15" r="1.8"/><circle cx="599.33" cy="256.72" r="1.8"/><circle cx="598.58" cy="278.45" r="1.8"/><circle cx="586.22" cy="257.08" r="1.8"/><circle cx="604.96" cy="284.72" r="1.8"/><circle cx="597.1" cy="263.43" r="1.8"/><circle cx="623.64" cy="275.36" r="1.8"/><circle cx="601.68" cy="268.91" r="1.8"/><circle cx="594.87" cy="266.02" r="1.8"/><circle cx="601.02" cy="245.17" r="1.8"/><circle cx="581.49" cy="276.9" r="1.8"/><circle cx="583.36" cy="269.73" r="1.8"/><circle cx="594.07" cy="244.15" r="1.8"/><circle cx="593.2" cy="231.28" r="1.8"/><circle cx="590.03" cy="273.83" r="1.8"/><circle cx="594.42" cy="267.15" r="1.8"/><circle cx="608.24" cy="284.09" r="1.8"/><circle cx="605.24" cy="250.08" r="1.8"/><circle cx="618.34" cy="273.99" r="1.8"/><circle cx="590.01" cy="259.83" r="1.8"/><circle cx="595.58" cy="275.59" r="1.8"/><circle cx="596.31" cy="273.37" r="1.8"/><circle cx="605.93" cy="274.83" r="1.8"/><circle cx="613.01" cy="278.13" r="1.8"/><circle cx="593.03" cy="265.02" r="1.8"/><circle cx="594.73" cy="263.52" r="1.8"/><circle cx="585.66" cy="257.4" r="1.8"/><circle cx="596.6" cy="275.99" r="1.8"/><circle cx="590.12" cy="280.69" r="1.8"/><circle cx="576.06" cy="259.04" r="1.8"/><circle cx="602.02" cy="269.5" r="1.8"/><circle cx="589.41" cy="274.1" r="1.8"/><circle cx="604.01" cy="263.94" r="1.8"/><circle cx="593.83" cy="256.99" r="1.8"/><circle cx="586.96" cy="253.02" r="1.8"/><circle cx="589.85" cy="260.49" r="1.8"/><circle cx="591.3" cy="269" r="1.8"/><circle cx="589.92" cy="281.54" r="1.8"/><circle cx="571.1" cy="277.4" r="1.8"/><circle cx="592.67" cy="280.25" r="1.8"/><circle cx="601.49" cy="290.07" r="1.8"/><circle cx="619.99" cy="277.57" r="1.8"/><circle cx="610.15" cy="267.67" r="1.8"/><circle cx="607.05" cy="284.69" r="1.8"/><circle cx="597.97" cy="261.41" r="1.8"/><circle cx="586.95" cy="271.1" r="1.8"/><circle cx="601.17" cy="285.92" r="1.8"/><circle cx="589.38" cy="269.58" r="1.8"/><circle cx="583.39" cy="263.2" r="1.8"/><circle cx="601.3" cy="264.76" r="1.8"/><circle cx="595.76" cy="247.52" r="1.8"/><circle cx="582.05" cy="260.71" r="1.8"/><circle cx="582.72" cy="264.53" r="1.8"/><circle cx="573.9" cy="268.12" r="1.8"/><circle cx="598.5" cy="249.81" r="1.8"/><circle cx="585.9" cy="280.37" r="1.8"/><circle cx="588.97" cy="219.96" r="1.8"/><circle cx="573.92" cy="261.84" r="1.8"/><circle cx="604.3" cy="269.6" r="1.8"/><circle cx="574.05" cy="261.5" r="1.8"/><circle cx="591.64" cy="266.49" r="1.8"/><circle cx="603.48" cy="278.86" r="1.8"/><circle cx="605.07" cy="283.09" r="1.8"/><circle cx="608.21" cy="260.14" r="1.8"/><circle cx="607.34" cy="266.29" r="1.8"/><circle cx="596.01" cy="267.47" r="1.8"/><circle cx="583.03" cy="257.7" r="1.8"/><circle cx="607.41" cy="262.06" r="1.8"/><circle cx="617.97" cy="260.86" r="1.8"/><circle cx="577.8" cy="264.66" r="1.8"/><circle cx="591.36" cy="266.79" r="1.8"/><circle cx="602.06" cy="260.45" r="1.8"/><circle cx="597.71" cy="252.65" r="1.8"/><circle cx="610.44" cy="273.23" r="1.8"/><circle cx="593.16" cy="276.17" r="1.8"/><circle cx="590.92" cy="267.58" r="1.8"/><circle cx="597.22" cy="272.87" r="1.8"/><circle cx="584.27" cy="263.13" r="1.8"/><circle cx="588.06" cy="279.37" r="1.8"/><circle cx="606.84" cy="232.61" r="1.8"/><circle cx="588.84" cy="271.31" r="1.8"/><circle cx="615.24" cy="269.58" r="1.8"/><circle cx="604.66" cy="279.95" r="1.8"/><circle cx="578.57" cy="255.29" r="1.8"/><circle cx="606.2" cy="269.43" r="1.8"/><circle cx="599.5" cy="244.42" r="1.8"/><circle cx="590.01" cy="268.3" r="1.8"/><circle cx="621.3" cy="275.23" r="1.8"/><circle cx="604.82" cy="265.44" r="1.8"/><circle cx="580.26" cy="255" r="1.8"/><circle cx="600.32" cy="277.74" r="1.8"/><circle cx="597.75" cy="272.19" r="1.8"/><circle cx="610.05" cy="281.19" r="1.8"/><circle cx="589.9" cy="263.2" r="1.8"/><circle cx="579.27" cy="288.51" r="1.8"/><circle cx="601.57" cy="262.94" r="1.8"/><circle cx="608.04" cy="269.11" r="1.8"/><circle cx="579.56" cy="227.86" r="1.8"/><circle cx="599.23" cy="259.68" r="1.8"/><circle cx="601.66" cy="252.68" r="1.8"/><circle cx="603.93" cy="266.93" r="1.8"/><circle cx="584.34" cy="275.63" r="1.8"/><circle cx="583.04" cy="274.08" r="1.8"/><circle cx="601.3" cy="267.43" r="1.8"/><circle cx="596.01" cy="259.96" r="1.8"/><circle cx="603.12" cy="275.21" r="1.8"/><circle cx="596.43" cy="268.45" r="1.8"/><circle cx="605.65" cy="253.05" r="1.8"/><circle cx="586.27" cy="272.54" r="1.8"/><circle cx="586.48" cy="255.01" r="1.8"/><circle cx="583.98" cy="262.39" r="1.8"/><circle cx="594.47" cy="272.42" r="1.8"/><circle cx="607.01" cy="286.03" r="1.8"/><circle cx="600.86" cy="270.84" r="1.8"/><circle cx="604.55" cy="279.04" r="1.8"/><circle cx="589.97" cy="258.84" r="1.8"/><circle cx="607.47" cy="269.85" r="1.8"/><circle cx="610.78" cy="281.72" r="1.8"/><circle cx="600.52" cy="294.38" r="1.8"/><circle cx="610.39" cy="289.25" r="1.8"/><circle cx="583.53" cy="253.84" r="1.8"/><circle cx="576.98" cy="248.52" r="1.8"/><circle cx="582.93" cy="229.49" r="1.8"/><circle cx="579.69" cy="280.67" r="1.8"/><circle cx="591.07" cy="261.72" r="1.8"/><circle cx="615.24" cy="270.06" r="1.8"/><circle cx="586.51" cy="263.29" r="1.8"/><circle cx="600.86" cy="277.35" r="1.8"/><circle cx="579.75" cy="268.57" r="1.8"/><circle cx="573.16" cy="264.81" r="1.8"/><circle cx="601.43" cy="278.31" r="1.8"/><circle cx="594.78" cy="263.22" r="1.8"/><circle cx="586.24" cy="278.1" r="1.8"/><circle cx="609.38" cy="266.7" r="1.8"/><circle cx="584.51" cy="260.48" r="1.8"/><circle cx="597.3" cy="275.52" r="1.8"/><circle cx="596.89" cy="283.34" r="1.8"/><circle cx="602.57" cy="277.5" r="1.8"/><circle cx="596.18" cy="266.71" r="1.8"/><circle cx="602.6" cy="265.71" r="1.8"/><circle cx="601.38" cy="269.87" r="1.8"/><circle cx="599.22" cy="266.35" r="1.8"/><circle cx="599.07" cy="271.9" r="1.8"/><circle cx="610.14" cy="261.95" r="1.8"/><circle cx="617.08" cy="292.62" r="1.8"/><circle cx="578.69" cy="263.44" r="1.8"/><circle cx="589.32" cy="271.97" r="1.8"/><circle cx="596.6" cy="276.72" r="1.8"/><circle cx="592.46" cy="268.18" r="1.8"/><circle cx="589.66" cy="280.55" r="1.8"/><circle cx="612.24" cy="275.34" r="1.8"/><circle cx="613.75" cy="276.72" r="1.8"/><circle cx="607.05" cy="259.09" r="1.8"/><circle cx="594.7" cy="266.67" r="1.8"/><circle cx="588.63" cy="266.79" r="1.8"/><circle cx="576.84" cy="261.63" r="1.8"/><circle cx="572.26" cy="261.33" r="1.8"/><circle cx="606.08" cy="270.42" r="1.8"/><circle cx="592.49" cy="278.68" r="1.8"/><circle cx="581.79" cy="270.17" r="1.8"/><circle cx="583.85" cy="258.41" r="1.8"/><circle cx="587.25" cy="232.41" r="1.8"/><circle cx="611.47" cy="270.45" r="1.8"/><circle cx="594.38" cy="273.43" r="1.8"/><circle cx="596.31" cy="272.37" r="1.8"/><circle cx="607.45" cy="296.05" r="1.8"/><circle cx="577.9" cy="280.75" r="1.8"/><circle cx="602.51" cy="282.81" r="1.8"/><circle cx="609.6" cy="276.48" r="1.8"/><circle cx="595.14" cy="279.62" r="1.8"/><circle cx="590.84" cy="268.39" r="1.8"/><circle cx="608.79" cy="258.25" r="1.8"/><circle cx="595.94" cy="269.16" r="1.8"/><circle cx="602" cy="271.8" r="1.8"/><circle cx="592.97" cy="285.02" r="1.8"/><circle cx="585.39" cy="254.85" r="1.8"/><circle cx="598.15" cy="278.37" r="1.8"/><circle cx="625.63" cy="286.53" r="1.8"/><circle cx="592.01" cy="273.43" r="1.8"/><circle cx="582.04" cy="253.51" r="1.8"/><circle cx="591.07" cy="270.11" r="1.8"/><circle cx="595.21" cy="272.97" r="1.8"/><circle cx="602.15" cy="272.72" r="1.8"/><circle cx="591" cy="262.97" r="1.8"/><circle cx="594.59" cy="282.13" r="1.8"/><circle cx="608.38" cy="270.22" r="1.8"/><circle cx="609.7" cy="268.54" r="1.8"/><circle cx="562.7" cy="243.2" r="1.8"/><circle cx="593" cy="275.48" r="1.8"/><circle cx="574.33" cy="297.07" r="1.8"/><circle cx="575.62" cy="265.18" r="1.8"/><circle cx="611.29" cy="267.51" r="1.8"/><circle cx="568.7" cy="287" r="1.8"/><circle cx="589.61" cy="260.07" r="1.8"/><circle cx="613.62" cy="287.56" r="1.8"/><circle cx="570.63" cy="246.74" r="1.8"/><circle cx="594.73" cy="272.92" r="1.8"/><circle cx="580.35" cy="265.07" r="1.8"/><circle cx="581.73" cy="266.23" r="1.8"/><circle cx="598.44" cy="281.35" r="1.8"/><circle cx="582.61" cy="270.93" r="1.8"/><circle cx="601.68" cy="242.58" r="1.8"/><circle cx="575.12" cy="268.98" r="1.8"/><circle cx="583.38" cy="265.81" r="1.8"/><circle cx="600.13" cy="260.35" r="1.8"/><circle cx="601.69" cy="247.95" r="1.8"/><circle cx="610.59" cy="263.75" r="1.8"/><circle cx="594.2" cy="253.66" r="1.8"/><circle cx="574.39" cy="266.2" r="1.8"/><circle cx="590.99" cy="261.84" r="1.8"/><circle cx="588.23" cy="261.82" r="1.8"/><circle cx="592.94" cy="261.87" r="1.8"/><circle cx="615.43" cy="277.6" r="1.8"/><circle cx="601.36" cy="291.77" r="1.8"/><circle cx="592.53" cy="265.3" r="1.8"/><circle cx="594.78" cy="274.83" r="1.8"/><circle cx="600.74" cy="244.87" r="1.8"/><circle cx="606.78" cy="265.05" r="1.8"/><circle cx="593.17" cy="267.43" r="1.8"/><circle cx="593.6" cy="278.31" r="1.8"/><circle cx="609.72" cy="261.74" r="1.8"/><circle cx="609.83" cy="265.75" r="1.8"/><circle cx="588.34" cy="268.08" r="1.8"/><circle cx="596.38" cy="262.55" r="1.8"/><circle cx="593.6" cy="264.14" r="1.8"/><circle cx="600.94" cy="267.89" r="1.8"/><circle cx="584.54" cy="273.87" r="1.8"/><circle cx="594.82" cy="280.02" r="1.8"/><circle cx="591.61" cy="284.82" r="1.8"/><circle cx="604.16" cy="267.22" r="1.8"/><circle cx="593.53" cy="279.31" r="1.8"/><circle cx="602.94" cy="258.4" r="1.8"/><circle cx="596.34" cy="270.79" r="1.8"/><circle cx="606.67" cy="251.74" r="1.8"/><circle cx="597.23" cy="268.68" r="1.8"/><circle cx="595.59" cy="271.12" r="1.8"/><circle cx="605.94" cy="271.58" r="1.8"/><circle cx="612.17" cy="298.8" r="1.8"/><circle cx="593.78" cy="273.61" r="1.8"/><circle cx="577.74" cy="263.66" r="1.8"/><circle cx="598.36" cy="278.71" r="1.8"/><circle cx="599.04" cy="271.99" r="1.8"/><circle cx="589.75" cy="295.01" r="1.8"/><circle cx="584.49" cy="269.4" r="1.8"/><circle cx="586.19" cy="280.49" r="1.8"/><circle cx="596.6" cy="274.18" r="1.8"/><circle cx="602.75" cy="271.07" r="1.8"/><circle cx="606.21" cy="260.76" r="1.8"/><circle cx="595.58" cy="265.68" r="1.8"/><circle cx="605.69" cy="272.75" r="1.8"/><circle cx="604.64" cy="265.71" r="1.8"/><circle cx="602.73" cy="274.42" r="1.8"/><circle cx="604.77" cy="258.82" r="1.8"/><circle cx="596.04" cy="275.54" r="1.8"/><circle cx="602.59" cy="273.94" r="1.8"/><circle cx="600.51" cy="263.03" r="1.8"/><circle cx="598.81" cy="267.85" r="1.8"/><circle cx="626.8" cy="258.76" r="1.8"/><circle cx="595.06" cy="263.08" r="1.8"/><circle cx="609.52" cy="273.42" r="1.8"/><circle cx="572.14" cy="298.78" r="1.8"/><circle cx="609.21" cy="287.77" r="1.8"/><circle cx="604.17" cy="282.81" r="1.8"/><circle cx="593.55" cy="265.56" r="1.8"/><circle cx="595.37" cy="261.46" r="1.8"/><circle cx="609.2" cy="269.01" r="1.8"/><circle cx="602.42" cy="268.74" r="1.8"/><circle cx="596.28" cy="265.55" r="1.8"/><circle cx="594.94" cy="281.85" r="1.8"/><circle cx="597.33" cy="271.95" r="1.8"/><circle cx="601.77" cy="263.29" r="1.8"/><circle cx="619.37" cy="271.38" r="1.8"/><circle cx="589.4" cy="276" r="1.8"/><circle cx="597.39" cy="283.21" r="1.8"/><circle cx="604.52" cy="264.95" r="1.8"/><circle cx="603.22" cy="260.96" r="1.8"/><circle cx="590.94" cy="278.06" r="1.8"/><circle cx="603.25" cy="275.1" r="1.8"/><circle cx="576.29" cy="274.25" r="1.8"/><circle cx="603.9" cy="263.89" r="1.8"/><circle cx="595.99" cy="269.84" r="1.8"/><circle cx="587.68" cy="266.21" r="1.8"/><circle cx="594.06" cy="274.83" r="1.8"/><circle cx="585.6" cy="263.82" r="1.8"/><circle cx="601.4" cy="278.92" r="1.8"/><circle cx="596.39" cy="273.22" r="1.8"/><circle cx="594.59" cy="281.74" r="1.8"/><circle cx="612.34" cy="288.34" r="1.8"/><circle cx="582.66" cy="267.28" r="1.8"/><circle cx="590.94" cy="250.86" r="1.8"/><circle cx="602.32" cy="257.75" r="1.8"/><circle cx="609.3" cy="265.43" r="1.8"/><circle cx="616.05" cy="294.32" r="1.8"/><circle cx="582.56" cy="251.47" r="1.8"/><circle cx="600.64" cy="280.86" r="1.8"/><circle cx="599" cy="261.18" r="1.8"/><circle cx="603.85" cy="271.39" r="1.8"/><circle cx="594.93" cy="266.24" r="1.8"/><circle cx="584.59" cy="271.46" r="1.8"/><circle cx="598.29" cy="260.45" r="1.8"/><circle cx="583.54" cy="273.56" r="1.8"/><circle cx="579.66" cy="259.05" r="1.8"/><circle cx="593.33" cy="266.47" r="1.8"/><circle cx="604.78" cy="272.25" r="1.8"/><circle cx="617.26" cy="265.2" r="1.8"/><circle cx="591.34" cy="272.97" r="1.8"/><circle cx="594.87" cy="282.6" r="1.8"/><circle cx="598.05" cy="252.47" r="1.8"/><circle cx="604.41" cy="282.12" r="1.8"/><circle cx="611.1" cy="254.74" r="1.8"/><circle cx="608.21" cy="257.39" r="1.8"/><circle cx="598.31" cy="267.39" r="1.8"/><circle cx="601.92" cy="261.02" r="1.8"/><circle cx="597.24" cy="272.79" r="1.8"/><circle cx="592.32" cy="266.78" r="1.8"/><circle cx="596.55" cy="275.6" r="1.8"/><circle cx="575.99" cy="236.96" r="1.8"/><circle cx="620.73" cy="265.73" r="1.8"/><circle cx="604.77" cy="242.89" r="1.8"/><circle cx="606.49" cy="262.94" r="1.8"/><circle cx="607.16" cy="260.78" r="1.8"/><circle cx="593.82" cy="289.29" r="1.8"/><circle cx="598.66" cy="287.45" r="1.8"/><circle cx="605.32" cy="270.88" r="1.8"/><circle cx="612.81" cy="283.92" r="1.8"/><circle cx="607.07" cy="293.92" r="1.8"/><circle cx="581.95" cy="271.69" r="1.8"/><circle cx="594.28" cy="268.73" r="1.8"/><circle cx="595.09" cy="255.17" r="1.8"/><circle cx="595.61" cy="270.03" r="1.8"/><circle cx="608.84" cy="278.55" r="1.8"/><circle cx="596.2" cy="284.19" r="1.8"/><circle cx="589.42" cy="266.62" r="1.8"/><circle cx="596.63" cy="269.07" r="1.8"/><circle cx="603.43" cy="275.51" r="1.8"/><circle cx="594.48" cy="279.34" r="1.8"/><circle cx="599.18" cy="267.33" r="1.8"/><circle cx="596.08" cy="273.03" r="1.8"/><circle cx="610.54" cy="265.08" r="1.8"/><circle cx="600.88" cy="260.92" r="1.8"/><circle cx="608.69" cy="270.4" r="1.8"/><circle cx="590.68" cy="281.33" r="1.8"/><circle cx="584.77" cy="252.96" r="1.8"/><circle cx="597.72" cy="278.14" r="1.8"/><circle cx="591.53" cy="280.79" r="1.8"/><circle cx="595.77" cy="266.75" r="1.8"/><circle cx="592.58" cy="269.14" r="1.8"/><circle cx="598.87" cy="255.54" r="1.8"/><circle cx="597.04" cy="265.19" r="1.8"/><circle cx="585.02" cy="266.63" r="1.8"/><circle cx="599.98" cy="258.94" r="1.8"/><circle cx="587.25" cy="261.71" r="1.8"/><circle cx="603.11" cy="272.62" r="1.8"/><circle cx="616.9" cy="243.77" r="1.8"/><circle cx="607.53" cy="263.18" r="1.8"/><circle cx="590.78" cy="268.33" r="1.8"/><circle cx="579.42" cy="266.28" r="1.8"/><circle cx="616.29" cy="251.19" r="1.8"/><circle cx="603.53" cy="268.3" r="1.8"/><circle cx="589.69" cy="266.28" r="1.8"/><circle cx="573.78" cy="267.29" r="1.8"/><circle cx="595.45" cy="255.07" r="1.8"/><circle cx="603.84" cy="278.35" r="1.8"/><circle cx="600.49" cy="270.2" r="1.8"/><circle cx="605.23" cy="278.55" r="1.8"/><circle cx="611.25" cy="251.36" r="1.8"/><circle cx="582.39" cy="233.83" r="1.8"/><circle cx="591.43" cy="264.98" r="1.8"/><circle cx="596.63" cy="269.45" r="1.8"/><circle cx="601.04" cy="267.49" r="1.8"/><circle cx="595.69" cy="277.54" r="1.8"/><circle cx="599.18" cy="267.91" r="1.8"/><circle cx="600.07" cy="269.73" r="1.8"/><circle cx="603.47" cy="269.37" r="1.8"/><circle cx="582.67" cy="265.59" r="1.8"/><circle cx="587.92" cy="260.55" r="1.8"/><circle cx="589.71" cy="252.03" r="1.8"/><circle cx="586.13" cy="297.94" r="1.8"/><circle cx="622.43" cy="223.85" r="1.8"/><circle cx="593.67" cy="272.63" r="1.8"/><circle cx="601.7" cy="268.05" r="1.8"/><circle cx="593.55" cy="280.63" r="1.8"/><circle cx="594.99" cy="277.07" r="1.8"/><circle cx="600.59" cy="241.77" r="1.8"/><circle cx="609.2" cy="268.21" r="1.8"/><circle cx="601.64" cy="287.39" r="1.8"/><circle cx="590" cy="268.08" r="1.8"/><circle cx="574.11" cy="276.81" r="1.8"/><circle cx="597.58" cy="250.39" r="1.8"/><circle cx="586.35" cy="254.47" r="1.8"/><circle cx="589.09" cy="229.74" r="1.8"/><circle cx="594.56" cy="284.9" r="1.8"/><circle cx="591.29" cy="266.8" r="1.8"/><circle cx="593.35" cy="264.56" r="1.8"/><circle cx="591.07" cy="260.68" r="1.8"/><circle cx="594.45" cy="275.25" r="1.8"/><circle cx="599.14" cy="270.71" r="1.8"/><circle cx="579.47" cy="268.84" r="1.8"/><circle cx="580.41" cy="241.11" r="1.8"/><circle cx="608.36" cy="274.84" r="1.8"/><circle cx="607.46" cy="274.16" r="1.8"/><circle cx="594.64" cy="239.42" r="1.8"/><circle cx="609.68" cy="284.1" r="1.8"/><circle cx="611.31" cy="230.39" r="1.8"/><circle cx="602.25" cy="263.31" r="1.8"/><circle cx="608.47" cy="263.11" r="1.8"/><circle cx="580.75" cy="262.53" r="1.8"/><circle cx="593.43" cy="266.61" r="1.8"/><circle cx="574.56" cy="272.04" r="1.8"/><circle cx="593.74" cy="250.2" r="1.8"/><circle cx="595.45" cy="265.14" r="1.8"/><circle cx="603.14" cy="278.3" r="1.8"/><circle cx="600.34" cy="266.44" r="1.8"/><circle cx="593.87" cy="270.32" r="1.8"/><circle cx="604.72" cy="283.95" r="1.8"/><circle cx="588.44" cy="246.59" r="1.8"/><circle cx="587.26" cy="277.33" r="1.8"/><circle cx="601.35" cy="254.28" r="1.8"/><circle cx="604.13" cy="279.97" r="1.8"/><circle cx="590.81" cy="268.75" r="1.8"/><circle cx="595.47" cy="267.55" r="1.8"/><circle cx="604.01" cy="266.78" r="1.8"/><circle cx="602.09" cy="255.99" r="1.8"/><circle cx="582.1" cy="265.42" r="1.8"/><circle cx="592.6" cy="254.64" r="1.8"/><circle cx="579.36" cy="266.54" r="1.8"/><circle cx="592.43" cy="277.99" r="1.8"/><circle cx="594.35" cy="263.97" r="1.8"/><circle cx="598.52" cy="275.6" r="1.8"/><circle cx="624.38" cy="249.36" r="1.8"/><circle cx="580.8" cy="261.98" r="1.8"/><circle cx="578.72" cy="260.05" r="1.8"/><circle cx="583.54" cy="279.38" r="1.8"/><circle cx="602.11" cy="263.6" r="1.8"/><circle cx="595.05" cy="313.75" r="1.8"/><circle cx="597" cy="278.58" r="1.8"/><circle cx="607.47" cy="278.1" r="1.8"/><circle cx="595.38" cy="285.5" r="1.8"/><circle cx="582.82" cy="258.83" r="1.8"/><circle cx="589.33" cy="271" r="1.8"/><circle cx="588.2" cy="292.11" r="1.8"/><circle cx="594.81" cy="246.04" r="1.8"/><circle cx="588.67" cy="271.5" r="1.8"/><circle cx="583.7" cy="266.17" r="1.8"/><circle cx="576.61" cy="282.1" r="1.8"/><circle cx="585.97" cy="262.74" r="1.8"/><circle cx="600.91" cy="268.68" r="1.8"/><circle cx="586.31" cy="236.92" r="1.8"/><circle cx="583.06" cy="271.66" r="1.8"/><circle cx="611.12" cy="271.58" r="1.8"/><circle cx="594.28" cy="258.29" r="1.8"/><circle cx="591.66" cy="261.47" r="1.8"/><circle cx="603.7" cy="282.71" r="1.8"/><circle cx="624.23" cy="273.58" r="1.8"/><circle cx="583.05" cy="269.21" r="1.8"/><circle cx="607.79" cy="258.95" r="1.8"/><circle cx="596.56" cy="282.34" r="1.8"/><circle cx="588.6" cy="248.59" r="1.8"/><circle cx="598.55" cy="277.08" r="1.8"/><circle cx="587.24" cy="272.31" r="1.8"/><circle cx="582.49" cy="275.44" r="1.8"/><circle cx="595.48" cy="278.23" r="1.8"/><circle cx="609.18" cy="261.43" r="1.8"/><circle cx="586.09" cy="268.14" r="1.8"/><circle cx="582.91" cy="240.4" r="1.8"/><circle cx="581.33" cy="283.6" r="1.8"/><circle cx="611.79" cy="277.2" r="1.8"/><circle cx="596.99" cy="254.93" r="1.8"/><circle cx="611.89" cy="260.31" r="1.8"/><circle cx="592.24" cy="270.71" r="1.8"/><circle cx="593.9" cy="265.38" r="1.8"/><circle cx="582.91" cy="265.27" r="1.8"/><circle cx="604.31" cy="266.48" r="1.8"/><circle cx="604.36" cy="276.19" r="1.8"/><circle cx="611.38" cy="263.78" r="1.8"/><circle cx="600.86" cy="274.03" r="1.8"/><circle cx="589.19" cy="285.77" r="1.8"/><circle cx="583" cy="265.25" r="1.8"/><circle cx="596.36" cy="284.75" r="1.8"/><circle cx="592.93" cy="268.29" r="1.8"/><circle cx="579.89" cy="252.94" r="1.8"/><circle cx="583.53" cy="272.23" r="1.8"/><circle cx="591.09" cy="269.93" r="1.8"/><circle cx="592.69" cy="272.33" r="1.8"/><circle cx="593.8" cy="257.56" r="1.8"/><circle cx="622.19" cy="253.19" r="1.8"/><circle cx="577.7" cy="270.48" r="1.8"/><circle cx="595.52" cy="278.35" r="1.8"/><circle cx="586.64" cy="266.04" r="1.8"/><circle cx="610.49" cy="266.48" r="1.8"/><circle cx="610.15" cy="265.54" r="1.8"/><circle cx="590.45" cy="267.35" r="1.8"/><circle cx="601.59" cy="267.85" r="1.8"/><circle cx="607.52" cy="266.68" r="1.8"/><circle cx="588.82" cy="285.43" r="1.8"/><circle cx="606.02" cy="265.94" r="1.8"/><circle cx="595.04" cy="284.62" r="1.8"/><circle cx="591.59" cy="264.47" r="1.8"/><circle cx="588.27" cy="268.82" r="1.8"/><circle cx="586.7" cy="278.23" r="1.8"/><circle cx="591.47" cy="274.08" r="1.8"/><circle cx="606.39" cy="294.7" r="1.8"/><circle cx="583.52" cy="262.22" r="1.8"/><circle cx="589.43" cy="280.02" r="1.8"/><circle cx="602.4" cy="270.79" r="1.8"/><circle cx="582.66" cy="246.08" r="1.8"/><circle cx="611.98" cy="270.13" r="1.8"/><circle cx="607.96" cy="291.8" r="1.8"/><circle cx="600.16" cy="274.6" r="1.8"/><circle cx="582.61" cy="276.25" r="1.8"/><circle cx="587.21" cy="236.94" r="1.8"/><circle cx="604.35" cy="253.49" r="1.8"/><circle cx="603.91" cy="275.22" r="1.8"/><circle cx="599.53" cy="241.8" r="1.8"/><circle cx="598.72" cy="276.66" r="1.8"/><circle cx="588.91" cy="255.3" r="1.8"/></g>
<line x1="560.3" y1="263.5" x2="655.8" y2="270.8" stroke="#111" stroke-width="1.7" />
<text x="660.3" y="312.2" font-size="10.2" fill="#231f20" text-anchor="end" textLength="51" lengthAdjust="spacingAndGlyphs"><tspan font-style="italic">r</tspan> = −0.0776</text>
<text x="660.3" y="325.7" font-size="10.2" fill="#231f20" text-anchor="end" textLength="48" lengthAdjust="spacingAndGlyphs"><tspan font-style="italic">P</tspan> = 0.0014</text>
<text x="534.4" y="358.7" font-size="11.2" fill="#231f20" stroke="#231f20" stroke-width="0.22" textLength="124.5" lengthAdjust="spacingAndGlyphs" >rDA1m @ peak velocity</text>
<text x="569.5" y="371.5" font-size="11.2" fill="#231f20" textLength="52.7" lengthAdjust="spacingAndGlyphs">(<tspan font-style="italic">z</tspan>-scored)</text>
<text x="508.5" y="266.1" font-size="11.2" fill="#231f20" text-anchor="middle" transform="rotate(-90 508.5 266.1)" textLength="114" lengthAdjust="spacingAndGlyphs">Amplitude (<tspan font-style="italic">z</tspan>-scored)</text>
<text x="6" y="417.3" font-size="15.4" fill="#000" textLength="10.35" lengthAdjust="spacingAndGlyphs" font-weight="bold" stroke="#000" stroke-width="0.8">h</text>
<line x1="48" y1="421" x2="48" y2="542.6" stroke="#8f8f8f" stroke-width="1" />
<line x1="43.8" y1="421" x2="48" y2="421" stroke="#8f8f8f" stroke-width="1" />
<text x="40" y="424.5" font-size="10" fill="#231f20" stroke="#231f20" stroke-width="0.22" text-anchor="end" >1.2</text>
<line x1="43.8" y1="469.6" x2="48" y2="469.6" stroke="#8f8f8f" stroke-width="1" />
<text x="40" y="473.1" font-size="10" fill="#231f20" stroke="#231f20" stroke-width="0.22" text-anchor="end" >1.0</text>
<line x1="43.8" y1="518.5" x2="48" y2="518.5" stroke="#8f8f8f" stroke-width="1" />
<text x="40" y="522" font-size="10" fill="#231f20" stroke="#231f20" stroke-width="0.22" text-anchor="end" >0.8</text>
<line x1="48" y1="580.6" x2="48" y2="701" stroke="#8f8f8f" stroke-width="1" />
<line x1="43.8" y1="580.6" x2="48" y2="580.6" stroke="#8f8f8f" stroke-width="1" />
<text x="40" y="584.1" font-size="10" fill="#231f20" stroke="#231f20" stroke-width="0.22" text-anchor="end" >1.2</text>
<line x1="43.8" y1="628.3" x2="48" y2="628.3" stroke="#8f8f8f" stroke-width="1" />
<text x="40" y="631.8" font-size="10" fill="#231f20" stroke="#231f20" stroke-width="0.22" text-anchor="end" >1.0</text>
<line x1="43.8" y1="676.7" x2="48" y2="676.7" stroke="#8f8f8f" stroke-width="1" />
<text x="40" y="680.2" font-size="10" fill="#231f20" stroke="#231f20" stroke-width="0.22" text-anchor="end" >0.8</text>
<text x="16.5" y="481.5" font-size="11.2" fill="#231f20" stroke="#231f20" stroke-width="0.22" text-anchor="middle" textLength="93" lengthAdjust="spacingAndGlyphs" transform="rotate(-90 16.5 481.5)" >Red fluorescence</text>
<text x="16.5" y="638" font-size="11.2" fill="#231f20" stroke="#231f20" stroke-width="0.22" text-anchor="middle" textLength="93" lengthAdjust="spacingAndGlyphs" transform="rotate(-90 16.5 638)" >Red fluorescence</text>
<text x="52.2" y="424.2" font-size="11.2" fill="#231f20" stroke="#231f20" stroke-width="0.22" textLength="53.3" lengthAdjust="spacingAndGlyphs" >Pre-lesion</text>
<text x="52.2" y="584.3" font-size="11.2" fill="#231f20" stroke="#231f20" stroke-width="0.22" textLength="58.9" lengthAdjust="spacingAndGlyphs" >Post-lesion</text>
<rect x="62.2" y="540.6" width="33.6" height="3.2" fill="#000"/>
<rect x="62.3" y="699.6" width="33.4" height="3" fill="#000"/>
<text x="64" y="536.5" font-size="11.2" fill="#231f20" stroke="#231f20" stroke-width="0.22" textLength="30.5" lengthAdjust="spacingAndGlyphs" >5 min</text>
<text x="64.2" y="694.4" font-size="11.2" fill="#231f20" stroke="#231f20" stroke-width="0.22" textLength="30" lengthAdjust="spacingAndGlyphs" >5 min</text>
<text x="247" y="497.6" font-size="11.2" fill="#231f20" stroke="#231f20" stroke-width="0.22" textLength="33.3" lengthAdjust="spacingAndGlyphs" >Saline</text>
<text x="159.6" y="548" font-size="11.2" fill="#aaaaaa" stroke="#aaaaaa" stroke-width="0.22" textLength="58.6" lengthAdjust="spacingAndGlyphs" >Raclopride</text>
<text x="217.8" y="596" font-size="11.2" fill="#5cbf5c" stroke="#5cbf5c" stroke-width="0.22" textLength="52" lengthAdjust="spacingAndGlyphs" >Levodopa</text>
<text x="214.8" y="647.5" font-size="11.2" fill="#aaaaaa" stroke="#aaaaaa" stroke-width="0.22" textLength="58.6" lengthAdjust="spacingAndGlyphs" >Raclopride</text>
<text x="227.6" y="680.6" font-size="11.2" fill="#231f20" stroke="#231f20" stroke-width="0.22" textLength="33" lengthAdjust="spacingAndGlyphs" >Saline</text>
<polygon points="48.5,446.88 49,446.97 49.5,448.39 50,438.31 50.5,450.67 51,449.34 51.5,438.27 52,451.1 52.5,451.24 53,447.3 53.5,441.41 54,450.95 54.5,450.29 55,448.21 55.5,448.74 56,449.17 56.5,451.26 57,451.04 57.5,445.11 58,453.23 58.5,451.43 59,452.83 59.5,450.62 60,454.17 60.5,452 61,451.55 61.5,454.44 62,452.17 62.5,452.6 63,456.27 63.5,453.94 64,457.01 64.5,455.45 65,456.08 65.5,446.46 66,457.3 66.5,455.92 67,458.2 67.5,459.29 68,452.37 68.5,459.21 69,448.3 69.5,461.13 70,453.29 70.5,460.42 71,462.19 71.5,458.43 72,464.68 72.5,466.24 73,463.97 73.5,467.68 74,466.05 74.5,468.53 75,467.57 75.5,470.29 76,469.55 76.5,471.72 77,473.67 77.5,473.11 78,474.31 78.5,475.45 79,477.34 79.5,479.33 80,479.47 80.5,482.35 81,482.09 81.5,483.63 82,485.7 82.5,485.86 83,488.72 83.5,489.37 84,489.4 84.5,491.49 85,491.52 85.5,492.55 86,492.4 86.5,492.88 87,494.08 87.5,494.34 88,496.36 88.5,495.36 89,495.37 89.5,496.76 90,496.69 90.5,497.16 91,496.34 91.5,498.15 92,498.29 92.5,499.5 93,498.85 93.5,498.65 94,498.25 94.5,498.54 95,500.09 95.5,498.91 96,500.86 96.5,499.75 97,501.37 97.5,501.09 98,502 98.5,500.65 99,500.97 99.5,502.59 100,502.09 100.5,502.83 101,502.61 101.5,502.72 102,503.79 102.5,500.67 103,499.67 103.5,503.85 104,500.82 104.5,505.11 105,501.5 105.5,504.98 106,504.22 106.5,504.54 107,505.46 107.5,505.75 108,505.64 108.5,505.58 109,506.65 109.5,506.17 110,503.93 110.5,506.93 111,506.91 111.5,507.46 112,507.36 112.5,507.53 113,508.74 113.5,506.97 114,508.88 114.5,508.96 115,509.15 115.5,509.57 116,509.51 116.5,509.16 117,508.96 117.5,509.96 118,510.17 118.5,510.34 119,510.23 119.5,510.37 120,510.45 120.5,511.41 121,511.12 121.5,511.8 122,511.32 122.5,512.33 123,511.64 123.5,512.35 124,512.25 124.5,512.72 125,513.23 125.5,513.21 126,514.02 126.5,514.25 127,513.83 127.5,514.13 128,513.89 128.5,515.19 129,514.72 129.5,515.04 130,515.13 130.5,515.2 131,515.7 131.5,515.88 132,516.2 132.5,516.28 133,516.97 133.5,516.82 134,516.89 134.5,517.71 135,516.94 135.5,517.46 136,517.42 136.5,518.43 137,518.45 137.5,518.87 138,519.32 138.5,519.54 139,519.44 139.5,518.89 140,519.88 140.5,519.39 141,520.02 141.5,520.35 142,520.32 142.5,519.86 143,520.18 143.5,520.23 144,520.45 144.5,520.76 145,520.62 145.5,520.21 146,521.15 146.5,520.63 147,521.28 147.5,518.48 148,521.38 148.5,521.74 149,520.85 149.5,519.7 150,518.96 150.5,522.19 151,519.55 151.5,522.11 152,521.95 152.5,521.82 153,521.46 153.5,521.64 154,522.47 154.5,522.12 155,521.84 155.5,522.86 156,522.07 156.5,522.67 157,522.3 157.5,522.9 158,522.63 158.5,522.84 159,523.38 159.5,522.69 160,522.69 160.5,523.16 161,523.34 161.5,520.33 162,523.51 162.5,523 163,523.61 163.5,523.74 164,523.83 164.5,524.25 165,524.08 165.5,524.21 166,524.48 166.5,524.01 167,524.2 167.5,524.76 168,524.68 168.5,523.88 169,524.86 169.5,524.66 170,524.07 170.5,524.14 171,524.84 171.5,524.46 172,525.43 172.5,525.45 173,524.54 173.5,524.89 174,525.44 174.5,525.26 175,525.6 175.5,524.94 176,524.94 176.5,526.01 177,525.57 177.5,526.02 178,525.84 178.5,525.53 179,525.63 179.5,526.29 180,526.2 180.5,526.16 181,526.27 181.5,526.01 182,525.95 182.5,526.53 183,526.48 183.5,526.97 184,526.7 184.5,526.11 185,526.68 185.5,526.69 186,526.7 186.5,526.81 187,526.61 187.5,527.3 188,527.3 188.5,526.72 189,527.23 189.5,526.78 190,527.77 190.5,527.11 191,527.53 191.5,527.59 192,527.2 192.5,528.11 193,527.75 193.5,528.11 194,528.07 194.5,527.61 195,528.14 195.5,527.78 196,528.7 196.5,527.67 197,527.78 197.5,528.15 198,528.76 198.5,528.31 199,528.89 199.5,528.75 200,529.19 200.5,529.22 201,529.18 201.5,529.22 202,528.55 202.5,529.28 203,528.7 203.5,529.67 204,529.68 204.5,529.74 205,528.83 205.5,529.02 206,529.98 206.5,529.03 207,529.87 207.5,529.89 208,529.6 208.5,530.09 209,529.3 209.5,530.04 210,529.87 210.5,529.94 211,530.32 211.5,529.89 212,529.67 212.5,530.17 213,530.8 213.5,530.07 214,530.29 214.5,530.55 215,530.43 215.5,530.93 216,530.95 216.5,529.98 217,531.34 217.5,530.84 218,531.36 218.5,531.35 219,530.71 219.5,531.12 220,531.57 220.5,531.14 221,530.88 221.5,531.06 222,531.24 222.5,531.82 223,531.62 223.5,531.69 224,532.3 224.5,531.71 225,531.97 225.5,532.04 226,531.88 226.5,532.67 227,532.59 227.5,531.81 228,532.64 228.5,532.75 229,533.02 229.5,532.83 230,532.63 230.5,533.26 231,533.06 231.5,533.16 232,533.34 232.5,531.47 233,532.6 233.5,532.71 234,533.29 234.5,533.76 235,533.52 235.5,533.39 236,533.61 236.5,533.29 237,533.34 237.5,533.23 238,533.75 238.5,534.06 239,533.39 239.5,533.47 240,534.34 240.5,534.31 241,533.87 241.5,533.75 242,533.65 242.5,534.71 243,534.58 243.5,534.38 244,534.29 244.5,534.09 245,534.38 245.5,534.46 246,534.81 246.5,534.41 247,534.53 247.5,534.18 248,535.03 248.5,535.14 249,534.94 249.5,535.01 250,534.91 250.5,535.26 251,534.72 251.5,534.64 252,533.19 252.5,534.62 253,535.54 253.5,535.34 254,535.19 254.5,535.29 255,535.55 255.5,535.04 256,534.96 256.5,535.65 257,535.75 257.5,535.41 258,535.84 258.5,535.04 259,535.17 259.5,535.22 260,535.71 260.5,535.34 261,535.8 261.5,535.77 262,536.17 262.5,536.28 263,535.65 263.5,536.19 264,535.42 264.5,535.87 265,535.9 265.5,535.6 266,536.27 266.5,536.62 267,536.44 267.5,536.23 268,536.59 268.5,536.5 269,535.38 269.5,536.48 270,536.56 270.5,536.72 271,536.45 271.5,536 272,536.91 272.5,536.25 273,536.36 273.5,536.59 274,536.69 274.5,536.76 275,537.23 275.5,536.79 276,536.39 276.5,536.7 277,537.02 277.5,537.08 278,536.67 278.5,537.62 279,537.45 279.5,536.7 280,537.05 280.5,536.91 281,537.25 281.5,537.8 282,537.32 282.5,537.25 283,537.85 283.5,537.47 284,537.02 284.5,537.97 285,538.01 285.5,537.98 286,537.4 286.5,537.21 287,538 287.5,537.31 288,537.97 288.5,537.67 288.5,541.49 288,541.31 287.5,540.89 287,540.71 286.5,541.51 286,541.67 285.5,541.22 285,541.17 284.5,540.74 284,540.79 283.5,541.07 283,540.68 282.5,540.9 282,541.3 281.5,541.41 281,541.17 280.5,541.35 280,540.36 279.5,540.35 279,540.52 278.5,540.69 278,541.17 277.5,540.17 277,541.02 276.5,540.63 276,540.77 275.5,540.3 275,540.12 274.5,540.58 274,540.56 273.5,540.59 273,540.36 272.5,540.18 272,539.95 271.5,540.56 271,539.91 270.5,540.1 270,540.37 269.5,540.5 269,539.79 268.5,539.65 268,540.15 267.5,540.14 267,539.88 266.5,539.81 266,539.77 265.5,539.96 265,539.31 264.5,539.34 264,539.93 263.5,541.1 263,539.13 262.5,539.14 262,539.91 261.5,538.95 261,539.31 260.5,539.63 260,539.71 259.5,539.01 259,539.5 258.5,539.64 258,539.57 257.5,539.46 257,539.48 256.5,538.69 256,539.24 255.5,538.9 255,539.08 254.5,538.95 254,539.16 253.5,538.77 253,538.71 252.5,538.51 252,538.17 251.5,538.81 251,538.22 250.5,538.8 250,539.01 249.5,539.01 249,538.19 248.5,538.57 248,538.75 247.5,538.33 247,538.27 246.5,538.4 246,537.71 245.5,538.04 245,538.06 244.5,537.64 244,538.5 243.5,538.12 243,538.99 242.5,537.53 242,537.93 241.5,537.98 241,538.21 240.5,537.61 240,538.31 239.5,537.21 239,537.86 238.5,537.26 238,537.4 237.5,537.03 237,537.3 236.5,537.16 236,537.63 235.5,536.85 235,537.27 234.5,536.77 234,537.22 233.5,537.08 233,536.53 232.5,536.58 232,536.74 231.5,536.16 231,536.47 230.5,536.78 230,537.55 229.5,535.95 229,536.78 228.5,536.59 228,536.55 227.5,536.13 227,536.09 226.5,535.68 226,535.65 225.5,536.01 225,535.41 224.5,535.57 224,535.13 223.5,535.01 223,535.59 222.5,534.94 222,534.99 221.5,535.43 221,534.8 220.5,535.41 220,535.53 219.5,535.09 219,535.38 218.5,534.83 218,534.45 217.5,534.96 217,534.59 216.5,534.7 216,534.2 215.5,534.36 215,534.84 214.5,534.77 214,534.78 213.5,533.66 213,535.71 212.5,533.56 212,533.73 211.5,534.5 211,534.21 210.5,533.87 210,533.72 209.5,533.9 209,535.78 208.5,534.1 208,533.96 207.5,533.08 207,534.82 206.5,532.92 206,533.14 205.5,533.53 205,533.12 204.5,533.16 204,533.57 203.5,532.81 203,532.68 202.5,532.96 202,532.3 201.5,533.02 201,532.96 200.5,532.17 200,532.98 199.5,532.65 199,531.85 198.5,532.58 198,532.4 197.5,532.57 197,532.16 196.5,532.26 196,531.85 195.5,531.86 195,531.58 194.5,531.9 194,531.52 193.5,531.2 193,532.1 192.5,531.11 192,531.67 191.5,531.25 191,531.88 190.5,531.8 190,531.56 189.5,531.31 189,531.42 188.5,531.57 188,533.12 187.5,530.5 187,530.99 186.5,530.61 186,530.16 185.5,530.94 185,530.83 184.5,529.97 184,530.68 183.5,530.34 183,530.61 182.5,530.15 182,530.08 181.5,531.27 181,529.54 180.5,529.93 180,529.38 179.5,529.67 179,529.65 178.5,530.21 178,530.01 177.5,529.89 177,530.03 176.5,529.82 176,529.63 175.5,529.22 175,529.08 174.5,529.18 174,528.56 173.5,529.22 173,528.5 172.5,528.76 172,529.23 171.5,528.74 171,528.61 170.5,528.8 170,528.39 169.5,528.79 169,527.82 168.5,527.85 168,527.71 167.5,528.13 167,528.06 166.5,527.77 166,528.45 165.5,527.63 165,527.72 164.5,528.19 164,527.72 163.5,527.37 163,526.93 162.5,526.84 162,527.42 161.5,526.86 161,526.87 160.5,527.18 160,527.17 159.5,527.2 159,527.44 158.5,526.37 158,526.3 157.5,526.75 157,526.62 156.5,526.62 156,526.77 155.5,526.11 155,526.04 154.5,526.73 154,525.83 153.5,526.05 153,525.97 152.5,526.16 152,526.24 151.5,525.24 151,526.05 150.5,525.2 150,525.98 149.5,525.74 149,524.81 148.5,524.74 148,524.74 147.5,525.14 147,525.41 146.5,525 146,524.64 145.5,524.34 145,524.96 144.5,524.62 144,524.69 143.5,524.77 143,523.72 142.5,523.58 142,523.45 141.5,523.59 141,523.32 140.5,523.58 140,523.34 139.5,523.67 139,523.33 138.5,522.86 138,523.01 137.5,522.78 137,522.29 136.5,522.4 136,522.15 135.5,522.4 135,521.61 134.5,521.17 134,520.9 133.5,521.51 133,521.28 132.5,520.65 132,520.12 131.5,520.01 131,519.63 130.5,519.7 130,520.34 129.5,519.78 129,519.26 128.5,519.19 128,519.38 127.5,518.51 127,518.06 126.5,518.32 126,517.78 125.5,517.99 125,517.13 124.5,517.17 124,516.63 123.5,517.39 123,516.36 122.5,517.25 122,516.05 121.5,516.85 121,516.73 120.5,516.47 120,515.96 119.5,516.12 119,515.17 118.5,515.84 118,514.51 117.5,515.34 117,514.5 116.5,513.84 116,513.89 115.5,513.32 115,513.16 114.5,513.64 114,512.87 113.5,513.29 113,513.38 112.5,512.93 112,512.13 111.5,513.34 111,512.59 110.5,511.58 110,511.99 109.5,512.37 109,511.9 108.5,511.57 108,511.83 107.5,511.23 107,510.73 106.5,510.34 106,510.8 105.5,510.48 105,510.99 104.5,509.78 104,510.42 103.5,510.15 103,509.78 102.5,510.26 102,508.82 101.5,509.53 101,509.33 100.5,508.07 100,508.13 99.5,507.76 99,508.16 98.5,507.82 98,508.77 97.5,508.84 97,507.05 96.5,506.67 96,508.23 95.5,506.76 95,506.29 94.5,507.68 94,507.74 93.5,506.7 93,507.13 92.5,510.57 92,506.26 91.5,510.9 91,504.41 90.5,505.17 90,504.6 89.5,505.94 89,505.48 88.5,505.55 88,504.21 87.5,503.76 87,504.42 86.5,501.7 86,502.72 85.5,502.41 85,501.1 84.5,500.94 84,502.4 83.5,497.75 83,495.74 82.5,496.6 82,495.53 81.5,493.91 81,491.81 80.5,489.85 80,489.22 79.5,488.35 79,487.28 78.5,484.75 78,483.67 77.5,484.09 77,487.07 76.5,482.58 76,480.26 75.5,481.52 75,480.12 74.5,479.09 74,479.31 73.5,476.63 73,480.64 72.5,474.99 72,475.17 71.5,474.94 71,473.83 70.5,472.32 70,473.03 69.5,475.98 69,471.31 68.5,471.44 68,470.99 67.5,470.61 67,471.94 66.5,468.18 66,470.31 65.5,468.89 65,469.39 64.5,468.71 64,467.91 63.5,466.91 63,467.05 62.5,469.22 62,466.46 61.5,466.42 61,468.05 60.5,465.18 60,466.1 59.5,465.75 59,466.73 58.5,466.58 58,464.51 57.5,465.74 57,466.04 56.5,472.83 56,463.94 55.5,464.51 55,464.37 54.5,463.14 54,463.84 53.5,462.59 53,465.7 52.5,463.78 52,466.05 51.5,463.84 51,465.28 50.5,463.27 50,465.48 49.5,463.71 49,462.06 48.5,468.48" fill="#a6a6a6"/>
<polygon points="48.5,457 49,452.38 49.5,459.16 50,459.87 50.5,456.43 51,451.44 51.5,456.95 52,459.97 52.5,457.78 53,460.69 53.5,459.69 54,459.47 54.5,456.4 55,460.75 55.5,460.49 56,461.4 56.5,457.98 57,459.2 57.5,461.83 58,459.78 58.5,461.76 59,459.22 59.5,460.22 60,462.25 60.5,457.26 61,461.61 61.5,461.5 62,460.47 62.5,463.11 63,452.31 63.5,463.13 64,463.9 64.5,463.34 65,462.1 65.5,464.2 66,459.31 66.5,461.39 67,461.22 67.5,463.28 68,463.7 68.5,461.86 69,464.2 69.5,465.29 70,463.15 70.5,465.73 71,466.04 71.5,466.61 72,445.64 72.5,465.68 73,465.59 73.5,466.82 74,467.09 74.5,467.12 75,465.46 75.5,464.57 76,463.57 76.5,461.7 77,466.43 77.5,467.78 78,460.69 78.5,468.02 79,465.38 79.5,469.26 80,467.99 80.5,457.86 81,469.67 81.5,465.63 82,469.54 82.5,469.89 83,467.82 83.5,466.91 84,470.2 84.5,461.6 85,464.38 85.5,467.1 86,467.61 86.5,470.63 87,471.05 87.5,472.13 88,469.24 88.5,459.75 89,464.3 89.5,472.76 90,468.58 90.5,472.17 91,472.8 91.5,466.3 92,470.43 92.5,470.66 93,471.84 93.5,473.1 94,472.27 94.5,472.94 95,473.93 95.5,473.81 96,473.72 96.5,474.86 97,474.92 97.5,474.53 98,474.43 98.5,465.51 99,469.94 99.5,469.78 100,473.4 100.5,472.54 101,473.17 101.5,474.48 102,463.68 102.5,473.8 103,469.13 103.5,476.56 104,472.57 104.5,475.63 105,464.95 105.5,475.55 106,477.09 106.5,462.56 107,470.41 107.5,477.04 108,470.38 108.5,477.69 109,476.87 109.5,466.16 110,478.57 110.5,478.4 111,476.86 111.5,471.24 112,478.75 112.5,476.45 113,474.36 113.5,478.15 114,477.41 114.5,480.28 115,473.59 115.5,469.3 116,478.19 116.5,480.83 117,480.01 117.5,480.7 118,477.02 118.5,479.02 119,474.53 119.5,480.08 120,480.3 120.5,480.06 121,472.92 121.5,475.85 122,481.39 122.5,482.67 123,476.74 123.5,480.92 124,482.6 124.5,473.85 125,483.09 125.5,477.45 126,480.19 126.5,469.47 127,476.74 127.5,479.81 128,483.94 128.5,478.75 129,470.21 129.5,483.03 130,479.08 130.5,481.19 131,484.65 131.5,482.43 132,484.64 132.5,484.77 133,483.58 133.5,480.23 134,470.46 134.5,482.57 135,480.16 135.5,483.81 136,484.45 136.5,485.42 137,485.02 137.5,484.26 138,486.68 138.5,486.41 139,480.75 139.5,485.33 140,486.37 140.5,486.83 141,482.05 141.5,475.29 142,479.82 142.5,486.92 143,480.39 143.5,480.24 144,488.17 144.5,487.33 145,487.95 145.5,484.83 146,485.01 146.5,484.42 147,486.35 147.5,487.36 148,485.8 148.5,489.28 149,486.54 149.5,481.2 150,479.25 150.5,487.81 151,489.54 151.5,485.48 152,486.9 152.5,477.89 153,488.46 153.5,480.82 154,488.05 154.5,486.03 155,490.04 155.5,490.39 156,490.23 156.5,480.04 157,490.96 157.5,478.43 158,490.31 158.5,489.31 159,489.04 159.5,490.88 160,490.93 160.5,491.15 161,491.2 161.5,490.13 162,489.98 162.5,488.49 163,491.74 163.5,490.57 164,491.47 164.5,491.56 165,490.24 165.5,488.58 166,492.76 166.5,490.8 167,485.67 167.5,490.59 168,493.01 168.5,491.18 169,489.57 169.5,491.2 170,493.44 170.5,491.41 171,493.02 171.5,492.43 172,493.11 172.5,492.04 173,489.4 173.5,491.71 174,493.63 174.5,482.14 175,492.66 175.5,494.4 176,494.39 176.5,490.2 177,493.18 177.5,494.27 178,492.29 178.5,495.12 179,494.59 179.5,492.1 180,492.58 180.5,489.97 181,494.2 181.5,493.05 182,495.52 182.5,495.38 183,491.68 183.5,495.42 184,483.74 184.5,495.04 185,490.98 185.5,494.69 186,493.91 186.5,493.76 187,495 187.5,482.51 188,494.17 188.5,493.06 189,496.71 189.5,496.61 190,494.95 190.5,494.6 191,496.92 191.5,497.44 192,494.43 192.5,495.9 193,495.48 193.5,495.09 194,497.34 194.5,492.26 195,491.6 195.5,497.62 196,496.89 196.5,493.02 197,488.98 197.5,497.7 198,496.09 198.5,498.58 199,497.51 199.5,495.84 200,497.47 200.5,492.01 201,492.87 201.5,496.02 202,495.96 202.5,497.12 203,498.22 203.5,498.97 204,497.46 204.5,495.59 205,498.6 205.5,499.53 206,499.7 206.5,499.49 207,497.78 207.5,494.79 208,499.9 208.5,496.25 209,490.76 209.5,496.06 210,487.35 210.5,491.32 211,498.3 211.5,499.93 212,498.76 212.5,488.1 213,493.81 213.5,498.41 214,497.77 214.5,497.49 215,494.02 215.5,500.91 216,494.88 216.5,500.9 217,497.52 217.5,499.81 218,500.09 218.5,501.16 219,499.05 219.5,499.64 220,499.22 220.5,498.14 221,500.8 221.5,499.88 222,500.8 222.5,501.9 223,500.11 223.5,496.1 224,499.45 224.5,500.78 225,498.41 225.5,501.25 226,501.53 226.5,499.16 227,500.94 227.5,502.08 228,500.07 228.5,498.34 229,501.21 229.5,497.99 230,497.03 230.5,496.35 231,501.8 231.5,502.25 232,501.74 232.5,497.01 233,495.52 233.5,496.02 234,494.49 234.5,503.23 235,503.43 235.5,497.76 236,503.12 236.5,498.22 237,503.73 237.5,492.43 238,501.66 238.5,491.85 239,501.99 239.5,502.2 240,481.2 240.5,503.07 241,500.04 241.5,488.9 242,500.14 242.5,499.87 243,494.36 243.5,499.19 244,503.42 244.5,503.68 245,499.76 245.5,503.55 246,503.14 246.5,489.63 247,500.63 247.5,502.52 248,501.44 248.5,498.59 249,505.3 249.5,505.57 250,502.22 250.5,505.4 251,504.04 251.5,500.86 252,503.91 252.5,505.94 253,502.88 253.5,492.37 254,502.68 254.5,502.9 255,505.85 255.5,506.44 256,503.79 256.5,504.6 257,504.96 257.5,506.64 258,504.46 258.5,501.04 259,506.72 259.5,507.45 260,507.27 260.5,503.77 261,504.14 261.5,506.88 262,502.06 262.5,502.24 263,506.78 263.5,505.06 264,508.19 264.5,503.54 265,505.73 265.5,508.28 266,503.78 266.5,506.18 267,508.73 267.5,506.37 268,506.89 268.5,505.74 269,508.96 269.5,506.58 270,508.35 270.5,508.91 271,508.53 271.5,505.09 272,508.38 272.5,508.03 273,506.18 273.5,510.15 274,508.13 274.5,507.32 275,509.86 275.5,510.17 276,509.28 276.5,509.19 277,508.86 277.5,509.68 278,508.36 278.5,507.57 279,509.77 279.5,502.37 280,509.68 280.5,503.08 281,511.58 281.5,510.68 282,509.52 282.5,510.97 283,507.33 283.5,505.03 284,512.04 284.5,507.76 285,512.48 285.5,510.93 286,511.69 286.5,512.19 287,511.61 287.5,506.92 288,512.55 288.5,503.06 288.5,529.05 288,527.24 287.5,534.63 287,527.13 286.5,529.75 286,530.7 285.5,534.48 285,528.59 284.5,529.1 284,530.65 283.5,530.73 283,538.49 282.5,527.04 282,528.06 281.5,531.56 281,527.59 280.5,526.81 280,528.66 279.5,525.66 279,529.64 278.5,528.35 278,527 277.5,528.87 277,531.06 276.5,528.63 276,525.29 275.5,527.74 275,524.74 274.5,532.07 274,525.8 273.5,524.68 273,532.87 272.5,528.01 272,528.84 271.5,528.17 271,525.66 270.5,529.17 270,524.08 269.5,527.01 269,525.79 268.5,527.91 268,526.48 267.5,527.27 267,524.23 266.5,525.67 266,522.99 265.5,522.89 265,524.32 264.5,522.51 264,522.68 263.5,524.73 263,524.2 262.5,524.69 262,522.49 261.5,528.01 261,528.23 260.5,525.91 260,521.65 259.5,522.77 259,522.94 258.5,524.66 258,521.74 257.5,530.55 257,522.38 256.5,521.57 256,524.12 255.5,522.58 255,524.69 254.5,522.59 254,521.24 253.5,528.29 253,521.54 252.5,521.84 252,523.22 251.5,522.23 251,525.11 250.5,521.02 250,524.37 249.5,520.28 249,521.07 248.5,521.43 248,521.53 247.5,526.52 247,525.53 246.5,521.25 246,519.22 245.5,521.77 245,521.14 244.5,525.12 244,524.05 243.5,524.62 243,520.63 242.5,518.9 242,518.69 241.5,518.56 241,523.58 240.5,527.34 240,522.86 239.5,519.63 239,523.37 238.5,520.34 238,518.87 237.5,518.27 237,518.77 236.5,518.9 236,518.38 235.5,518.37 235,518.51 234.5,517.69 234,517.91 233.5,517.78 233,517.66 232.5,524.05 232,521.2 231.5,518.9 231,523.04 230.5,517.36 230,516.98 229.5,521.19 229,516.77 228.5,520.06 228,529 227.5,523.79 227,518.86 226.5,517.27 226,517.67 225.5,516.77 225,519.84 224.5,517.13 224,516.96 223.5,520.15 223,516.9 222.5,523.14 222,516.81 221.5,519.42 221,518.66 220.5,516.52 220,523.53 219.5,518.61 219,515.54 218.5,515.64 218,516.52 217.5,516.28 217,521.37 216.5,520.77 216,515.61 215.5,518.4 215,522.58 214.5,515.93 214,518.57 213.5,516.4 213,520.85 212.5,518.79 212,518.57 211.5,515.9 211,514.52 210.5,517.68 210,518.46 209.5,515.63 209,514.41 208.5,519.69 208,514.54 207.5,515.01 207,514.88 206.5,515.29 206,517.99 205.5,515.74 205,517.31 204.5,514.21 204,521.53 203.5,515 203,516.9 202.5,516.04 202,514.79 201.5,515.5 201,515.83 200.5,519.15 200,517.15 199.5,519.64 199,512.98 198.5,516.91 198,512.81 197.5,513.69 197,514.19 196.5,515.56 196,517.31 195.5,514.8 195,513.19 194.5,516.87 194,517.43 193.5,517.99 193,513.64 192.5,512.94 192,517.24 191.5,511.92 191,521.67 190.5,513.05 190,512.76 189.5,516.31 189,512.71 188.5,511.42 188,517.84 187.5,519.35 187,519.09 186.5,514.63 186,511.53 185.5,513.06 185,511.14 184.5,511.96 184,513.64 183.5,511.23 183,511.52 182.5,512.44 182,513.03 181.5,510.54 181,511.16 180.5,511.3 180,513.04 179.5,512.7 179,515.35 178.5,511.02 178,512.71 177.5,509.57 177,512.35 176.5,510.18 176,515.09 175.5,509.37 175,514.65 174.5,509.11 174,516.37 173.5,509.49 173,508.97 172.5,509.42 172,508.74 171.5,508.65 171,510.04 170.5,511.36 170,511.38 169.5,508.53 169,509.24 168.5,510.35 168,512.52 167.5,508.57 167,512.43 166.5,511.12 166,511.84 165.5,507.86 165,509.56 164.5,515.56 164,510.33 163.5,511.27 163,511.67 162.5,508.32 162,506.85 161.5,518.88 161,510.55 160.5,506.72 160,507.81 159.5,506.33 159,508.09 158.5,506.24 158,507.64 157.5,510.66 157,506.92 156.5,510.59 156,507.51 155.5,512.1 155,507.1 154.5,508.45 154,506.23 153.5,508.76 153,509.28 152.5,507.6 152,508.28 151.5,508.87 151,504.76 150.5,505.83 150,507.2 149.5,504.48 149,507.67 148.5,505.27 148,504.14 147.5,504.8 147,507 146.5,508.68 146,505.52 145.5,504.94 145,507.7 144.5,504.05 144,505.49 143.5,510.34 143,504.31 142.5,511.49 142,508.43 141.5,507.64 141,503.84 140.5,503.09 140,503.46 139.5,505.41 139,504.91 138.5,508.91 138,514.5 137.5,503.13 137,503.6 136.5,505.22 136,502.25 135.5,505.35 135,503.94 134.5,502.92 134,505.09 133.5,503.81 133,502.88 132.5,502.15 132,502.87 131.5,502.87 131,501.2 130.5,502.02 130,511.46 129.5,505.95 129,501.72 128.5,500.28 128,514.33 127.5,502.53 127,499.83 126.5,499.77 126,508.09 125.5,499.64 125,499.81 124.5,499.16 124,505.52 123.5,505.96 123,499.51 122.5,498.88 122,504.21 121.5,499.9 121,501.26 120.5,509.83 120,501.55 119.5,506.74 119,500.75 118.5,498.52 118,498.57 117.5,500.78 117,502.6 116.5,501.85 116,498.12 115.5,498.04 115,499.04 114.5,499.79 114,498.04 113.5,498.75 113,497.14 112.5,499.02 112,497.48 111.5,496.88 111,497.24 110.5,498.37 110,505.44 109.5,496.63 109,499.44 108.5,499.75 108,495.8 107.5,495.16 107,503.84 106.5,497.31 106,496.23 105.5,495.78 105,502.52 104.5,494.81 104,498.49 103.5,497.85 103,495.19 102.5,499.05 102,493.81 101.5,494.1 101,494.99 100.5,498.14 100,497.04 99.5,494.43 99,498.42 98.5,501.4 98,496.52 97.5,492.65 97,492.85 96.5,492.65 96,500.25 95.5,492.63 95,492.5 94.5,491.52 94,498.64 93.5,491.86 93,491.31 92.5,491.58 92,494.46 91.5,491.46 91,490.63 90.5,491.53 90,493.04 89.5,494.14 89,491.49 88.5,490.14 88,490.19 87.5,490.38 87,491.42 86.5,493.47 86,494.89 85.5,494.64 85,490.08 84.5,491.99 84,500.21 83.5,490.82 83,488.22 82.5,490.09 82,488.73 81.5,492.81 81,487.91 80.5,488.65 80,489.66 79.5,493.68 79,486.91 78.5,501.28 78,488.25 77.5,487.55 77,491.38 76.5,489.22 76,486.07 75.5,486.52 75,486.82 74.5,493.39 74,486.49 73.5,486.42 73,485.08 72.5,485.67 72,490.05 71.5,486.2 71,496.78 70.5,487.85 70,486.12 69.5,488.09 69,489.79 68.5,493.19 68,484.52 67.5,490.04 67,482.78 66.5,486.08 66,482.57 65.5,484.76 65,483.08 64.5,484.3 64,484.95 63.5,483.47 63,482.13 62.5,495.77 62,485.91 61.5,481.13 61,480.84 60.5,482.45 60,481.61 59.5,480.68 59,483.05 58.5,484.29 58,481.13 57.5,485.85 57,479.9 56.5,483.52 56,479.36 55.5,480.02 55,479.2 54.5,480.48 54,479.79 53.5,479.73 53,480.36 52.5,480.54 52,480.37 51.5,479.13 51,480.59 50.5,478.32 50,484.6 49.5,478.39 49,479.33 48.5,480.19" fill="#000"/>
<polyline points="48.5,626.16 48.75,627.53 49,626.72 49.25,627.64 49.5,627.02 49.75,629.3 50,626.72 50.25,627.77 50.5,626.25 50.75,626.49 51,625.48 51.25,629.23 51.5,624.94 51.75,626.92 52,626.4 52.25,627.5 52.5,626.27 52.75,628.45 53,627.75 53.25,627.19 53.5,627.14 53.75,627.63 54,627.05 54.25,628.08 54.5,627.42 54.75,626.56 55,626.98 55.25,626.75 55.5,627.62 55.75,626.29 56,626.6 56.25,625.34 56.5,627.07 56.75,626.66 57,625.81 57.25,627.94 57.5,626.39 57.75,625.3 58,627.35 58.25,626.13 58.5,623.47 58.75,626.56 59,626.21 59.25,626.26 59.5,625.98 59.75,625.41 60,626.23 60.25,624.57 60.5,625.91 60.75,626.83 61,626.93 61.25,625.55 61.5,627.73 61.75,626.23 62,625.54 62.25,626.06 62.5,625.28 62.75,626.66 63,625.01 63.25,625.2 63.5,624.78 63.75,625.07 64,625.53 64.25,627.44 64.5,625.97 64.75,626.8 65,625.76 65.25,626.56 65.5,624.75 65.75,624.66 66,627.34 66.25,625.99 66.5,624.22 66.75,626.17 67,625.44 67.25,625.37 67.5,626.35 67.75,624.49 68,626.7 68.25,625.82 68.5,625.14 68.75,624.36 69,627.16 69.25,625.24 69.5,624.32 69.75,625.43 70,625.99 70.25,626.13 70.5,626.91 70.75,626.09 71,625.54 71.25,627.62 71.5,627.43 71.75,624.6 72,626.51 72.25,625.1 72.5,627.01 72.75,624.81 73,625.95 73.25,627.13 73.5,626.02 73.75,626.72 74,625.11 74.25,624.65 74.5,624.72 74.75,626.36 75,625.24 75.25,627.18 75.5,625.57 75.75,627.11 76,626.23 76.25,624.96 76.5,626.02 76.75,626.44 77,626.47 77.25,625.95 77.5,627.08 77.75,626.96 78,626.99 78.25,625.45 78.5,624.27 78.75,626.74 79,625.49 79.25,625.78 79.5,626.08 79.75,626.62 80,624.77 80.25,626.27 80.5,627.65 80.75,625.13 81,626.22 81.25,627.83 81.5,627.3 81.75,627.14 82,626.75 82.25,625.35 82.5,626.78 82.75,625.84 83,626.85 83.25,626.08 83.5,625.74 83.75,626.83 84,627.83 84.25,626.45 84.5,627.1 84.75,627.62 85,627.46 85.25,625.88 85.5,626.55 85.75,627.41 86,627.14 86.25,628.75 86.5,627.72 86.75,626.41 87,627.86 87.25,628.29 87.5,627.89 87.75,627.79 88,626.08 88.25,627.34 88.5,627.96 88.75,627.09 89,627.17 89.25,627.9 89.5,626.94 89.75,626.74 90,627.43 90.25,627.53 90.5,628.43 90.75,627.56 91,626.71 91.25,628.23 91.5,627.13 91.75,628.55 92,627.41 92.25,628.49 92.5,628.3 92.75,627.88 93,626.95 93.25,627.78 93.5,629.45 93.75,628.39 94,629.31 94.25,628.37 94.5,628.35 94.75,627.51 95,628.78 95.25,627.72 95.5,627.77 95.75,629.5 96,627.71 96.25,630.73 96.5,628.7 96.75,628.25 97,630.01 97.25,627.98 97.5,629.03 97.75,629 98,629.88 98.25,630.64 98.5,629.46 98.75,628.05 99,628.08 99.25,628.9 99.5,630.14 99.75,629.6 100,629.8 100.25,629.31 100.5,630.85 100.75,628.66 101,631.45 101.25,630.83 101.5,630.43 101.75,629.82 102,629.61 102.25,629.92 102.5,629.48 102.75,629.63 103,629.32 103.25,630.79 103.5,630.23 103.75,630.59 104,629.58 104.25,629.17 104.5,629.5 104.75,630.58 105,629.36 105.25,631 105.5,629.67 105.75,630.16 106,630.83 106.25,629.59 106.5,628.85 106.75,631.8 107,630.65 107.25,630.28 107.5,632.34 107.75,632.91 108,631.03 108.25,631.34 108.5,633.48 108.75,630.62 109,632.3 109.25,632.15 109.5,630.82 109.75,630.51 110,630.75 110.25,631.62 110.5,631.86 110.75,633.95 111,630.74 111.25,631.89 111.5,631.07 111.75,632.61 112,632.27 112.25,630.76 112.5,631.6 112.75,632.12 113,632.77 113.25,632.65 113.5,632.84 113.75,632.31 114,632.89 114.25,632.48 114.5,633.34 114.75,633.04 115,631.78 115.25,632.59 115.5,632 115.75,632.64 116,633.31 116.25,632.94 116.5,632.81 116.75,632.42 117,634.35 117.25,633.08 117.5,632.26 117.75,632.76 118,634.09 118.25,635.12 118.5,634.49 118.75,633.1 119,634.22 119.25,632.01 119.5,634.31 119.75,633.41 120,633.9 120.25,632.61 120.5,634.11 120.75,632.68 121,632.4 121.25,635.27 121.5,632.86 121.75,634.86 122,633.58 122.25,634.04 122.5,634.19 122.75,635.24 123,634.69 123.25,633.56 123.5,633.94 123.75,635.64 124,635.72 124.25,634.14 124.5,635.42 124.75,634.61 125,635.63 125.25,633.87 125.5,635.56 125.75,634.38 126,633.79 126.25,635.54 126.5,635.56 126.75,633.75 127,633.07 127.25,635.09 127.5,635.66 127.75,634.83 128,635.44 128.25,635.03 128.5,634.97 128.75,635.87 129,636.68 129.25,636.04 129.5,635.39 129.75,635.11 130,635.97 130.25,633.86 130.5,635.99 130.75,635.84 131,635.98 131.25,635.81 131.5,635.92 131.75,634.85 132,636.8 132.25,635.97 132.5,636.33 132.75,635.92 133,635.09 133.25,637.03 133.5,636.33 133.75,636.35 134,636.97 134.25,638.21 134.5,636.7 134.75,637.28 135,638.5 135.25,636.62 135.5,638.04 135.75,637.04 136,637.96 136.25,637.21 136.5,638.02 136.75,636.54 137,636.82 137.25,636.76 137.5,637.09 137.75,638.4 138,637.85 138.25,638.11 138.5,637.37 138.75,637.69 139,638.04 139.25,638.03 139.5,637.25 139.75,637.45 140,636.89 140.25,638.57 140.5,638.89 140.75,639.69 141,635.26 141.25,638.82 141.5,638.63 141.75,640.54 142,637.79 142.25,637.54 142.5,638.48 142.75,637.03 143,637.1 143.25,638.92 143.5,636.94 143.75,637.48 144,639.59 144.25,639.09 144.5,637.43 144.75,639.89 145,638.74 145.25,638.4 145.5,638.88 145.75,638.7 146,639.87 146.25,639.38 146.5,638.1 146.75,638.46 147,639.67 147.25,638.46 147.5,638.17 147.75,636.93 148,639.88 148.25,639.16 148.5,639 148.75,638.43 149,638.76 149.25,639.27 149.5,638.32 149.75,639.47 150,640.95 150.25,638.98 150.5,639.5 150.75,640.95 151,639.65 151.25,641.01 151.5,640.56 151.75,640.51 152,639.56 152.25,639.34 152.5,640.99 152.75,639.96 153,639.77 153.25,637.93 153.5,639.82 153.75,642.23 154,640.61 154.25,641.68 154.5,640.33 154.75,638.9 155,640.33 155.25,641.84 155.5,640.45 155.75,640.07 156,640.21 156.25,639.35 156.5,640.13 156.75,640.61 157,641.39 157.25,641.26 157.5,639.62 157.75,638.91 158,640.38 158.25,640.05 158.5,641.53 158.75,639.9 159,641.41 159.25,640.51 159.5,641.97 159.75,641.04 160,639.26 160.25,638.95 160.5,641.4 160.75,640.24 161,642.08 161.25,641.21 161.5,642.9 161.75,641.31 162,640.7 162.25,639.61 162.5,641.92 162.75,641.32 163,641.28 163.25,644.04 163.5,642.38 163.75,640.86 164,642.36 164.25,640.41 164.5,641.27 164.75,642.68 165,640.77 165.25,642 165.5,642.11 165.75,642.26 166,641.27 166.25,640.93 166.5,642.25 166.75,642.88 167,641.46 167.25,643.14 167.5,643.46 167.75,642.81 168,643.49 168.25,643.51 168.5,643.76 168.75,642.97 169,643.05 169.25,643.15 169.5,643.97 169.75,642.48 170,644.34 170.25,642.21 170.5,644.87 170.75,643.74 171,645.66 171.25,643.51 171.5,643.94 171.75,641.96 172,643.18 172.25,643.66 172.5,643.91 172.75,644.18 173,643.77 173.25,643.64 173.5,644.6 173.75,642.43 174,643.44 174.25,644.52 174.5,643.88 174.75,645.08 175,643.44 175.25,643.76 175.5,644.72 175.75,645.81 176,643.08 176.25,642.75 176.5,643.26 176.75,643.27 177,644.68 177.25,645.34 177.5,644.53 177.75,644.81 178,645.21 178.25,645.04 178.5,645.01 178.75,645.01 179,645.87 179.25,643.87 179.5,644.49 179.75,645.22 180,647.47 180.25,644.3 180.5,645.83 180.75,644.51 181,645.07 181.25,644.56 181.5,647.01 181.75,645.7 182,644.96 182.25,646.34 182.5,644.87 182.75,645.79 183,644.39 183.25,645.36 183.5,646 183.75,646.04 184,645.01 184.25,645.13 184.5,644.29 184.75,644 185,645.75 185.25,647.01 185.5,646.47 185.75,646.61 186,646.15 186.25,646.16 186.5,646.19 186.75,647.78 187,646.02 187.25,647.45 187.5,645.14 187.75,645.49 188,646.43 188.25,645.2 188.5,647.98 188.75,646.85 189,647.06 189.25,646.31 189.5,647.22 189.75,646.24 190,648.08 190.25,648.09 190.5,646.36 190.75,646.24 191,645.71 191.25,645.8 191.5,648.3 191.75,647.92 192,648.68 192.25,647.78 192.5,648.16 192.75,648.02 193,647.02 193.25,647.69 193.5,648.4 193.75,647.73 194,646.77 194.25,646.8 194.5,650.39 194.75,646.99 195,647.22 195.25,647.91 195.5,647.82 195.75,648.86 196,647.62 196.25,648.62 196.5,648.15 196.75,648.19 197,648 197.25,647.41 197.5,647.78 197.75,647.24 198,647.92 198.25,648.47 198.5,648.6 198.75,647.41 199,647.8 199.25,648.21 199.5,649.74 199.75,648.78 200,648.96 200.25,649.78 200.5,649.16 200.75,648.3 201,650.3 201.25,648.72 201.5,649.94 201.75,649.28 202,649.53 202.25,650.16 202.5,648.63 202.75,647.79 203,649.39 203.25,649.09 203.5,648.94 203.75,649.23 204,647.84 204.25,649.27 204.5,649.06 204.75,649.62 205,649.3 205.25,649.1 205.5,650.04 205.75,650.46 206,649.45 206.25,648.79 206.5,648.98 206.75,650.7 207,648.15 207.25,649.71 207.5,649.94 207.75,650.15 208,647.95 208.25,649.97 208.5,647.85 208.75,649.32 209,648.96 209.25,648.05 209.5,651.42 209.75,649.56 210,648.45 210.25,648.92 210.5,649.83 210.75,650.62 211,650.04 211.25,648.99 211.5,651.52 211.75,650.47 212,651.68 212.25,651.5 212.5,650.59 212.75,651.58 213,650.31 213.25,651.38 213.5,649.02 213.75,648.89 214,649.57 214.25,651.06 214.5,650.76 214.75,650.02 215,650.17 215.25,650.24 215.5,650.9 215.75,651.79 216,651.74 216.25,650.72 216.5,650.92 216.75,651.5 217,650.05 217.25,651.06 217.5,651.61 217.75,651.54 218,650.77 218.25,650.48 218.5,650.44 218.75,652.56 219,651.35 219.25,650.26 219.5,649.6 219.75,651.46 220,652.84 220.25,651.28 220.5,650.77 220.75,652.32 221,651.35 221.25,651.54 221.5,651.97 221.75,651.46 222,652.39 222.25,652.56 222.5,651.78 222.75,651.4 223,652.22 223.25,649.69 223.5,651.63 223.75,651.55 224,652.74 224.25,651.16 224.5,653.12 224.75,652.07 225,652.6 225.25,653.44 225.5,652.45 225.75,651.8 226,652.64 226.25,652.7 226.5,654.2 226.75,652.45 227,653.37 227.25,653.78 227.5,653.62 227.75,652.46 228,651.66 228.25,653.69 228.5,654.32 228.75,653.43 229,653.94 229.25,653.06 229.5,653.73 229.75,654.21 230,653.07 230.25,654.2 230.5,653.12 230.75,652.36 231,653.57 231.25,653.12 231.5,653.71 231.75,653.85 232,653.22 232.25,653.78 232.5,653.05 232.75,654.22 233,652.71 233.25,652.34 233.5,654.52 233.75,651.86 234,653.43 234.25,653.51 234.5,654.48 234.75,653.55 235,653.58 235.25,652.19 235.5,654.72 235.75,652.94 236,653.89 236.25,653.24 236.5,654.99 236.75,653.18 237,652.84 237.25,655.26 237.5,653.53 237.75,654.37 238,654.58 238.25,652.88 238.5,655.18 238.75,653.38 239,654.41 239.25,654.78 239.5,654.35 239.75,653.66 240,655.34 240.25,653.74 240.5,653.39 240.75,655.67 241,655.76 241.25,653 241.5,654.53 241.75,654.75 242,652.25 242.25,654.32 242.5,655.9 242.75,654 243,656.13 243.25,656.77 243.5,654.88 243.75,654.4 244,655.16 244.25,653.84 244.5,656.34 244.75,655.67 245,653.98 245.25,654.58 245.5,655.05 245.75,656.36 246,656.17 246.25,654.87 246.5,655.65 246.75,655.13 247,656 247.25,655.36 247.5,657.55 247.75,656.11 248,655.48 248.25,654.8 248.5,654.53 248.75,656.5 249,656.62 249.25,657.34 249.5,655.02 249.75,656.67 250,654.91 250.25,656.69 250.5,656.62 250.75,656.36 251,655.91 251.25,655.78 251.5,655.92 251.75,654.54 252,656.95 252.25,655.34 252.5,656.56 252.75,656.4 253,657.14 253.25,656.59 253.5,656.59 253.75,656.87 254,657.55 254.25,656.33 254.5,655.93 254.75,656.79 255,656.71 255.25,657.51 255.5,657.25 255.75,657.08 256,657.99 256.25,657.28 256.5,657.61 256.75,656.72 257,658.49 257.25,657.76 257.5,656.36 257.75,656.44 258,658.88 258.25,657.52 258.5,658.92 258.75,659.52 259,657.56 259.25,657.74 259.5,658.24 259.75,656.73 260,655.93 260.25,659.3 260.5,656.92 260.75,657.57 261,659.08 261.25,657.83 261.5,658.64 261.75,658.12 262,656.71 262.25,657.21 262.5,658.02 262.75,657.1 263,658.89 263.25,658.37 263.5,656.64 263.75,658.54 264,657.67 264.25,657.88 264.5,658.85 264.75,656.54 265,657.41 265.25,658.54 265.5,656.98 265.75,659.51 266,655.42 266.25,659.37 266.5,659.1 266.75,657.87 267,658.56 267.25,657.85 267.5,660.26 267.75,658.57 268,659.06 268.25,658.91 268.5,657.42 268.75,656.95 269,658.89 269.25,660.06 269.5,659.39 269.75,658.68 270,659.26 270.25,658.58 270.5,660.1 270.75,659.52 271,659.28 271.25,660.94 271.5,658.53 271.75,658.25 272,658.9 272.25,658.67 272.5,658.66 272.75,659.77 273,659.72 273.25,657.71 273.5,658.68 273.75,658.85 274,657.67 274.25,659.93 274.5,659.51 274.75,659.86 275,658.86 275.25,658.94 275.5,659.73 275.75,659.6 276,659.15 276.25,660.03 276.5,658.99 276.75,660.48 277,660.04 277.25,659.17 277.5,658.56 277.75,660.01 278,660.77 278.25,659.83 278.5,661.12 278.75,660.53 279,661.05 279.25,658.57 279.5,659.35 279.75,660.06 280,660.2 280.25,659.92 280.5,659.73 280.75,658.2 281,661.24 281.25,660.96 281.5,659.9 281.75,660.42 282,659.86 282.25,661.4 282.5,660.33 282.75,661.65 283,660.19 283.25,659.87 283.5,659.26 283.75,661.19 284,660.28 284.25,661.39 284.5,661.91 284.75,661.27 285,662.39 285.25,660.71 285.5,660.39 285.75,661.41 286,661.05 286.25,662.66 286.5,659.69 286.75,660.31 287,662.5 287.25,660.65 287.5,661.18 287.75,660.96 288,661.4 288.25,663.34 288.5,662.46 288.75,661.51" fill="none" stroke="#a8a8a8" stroke-width="2.8" stroke-linejoin="round" stroke-linecap="round" />
<polyline points="48.5,632.15 48.75,629.58 49,630.63 49.25,632.22 49.5,629.36 49.75,629.68 50,629.7 50.25,630.25 50.5,631.31 50.75,631.99 51,631.68 51.25,631.87 51.5,631.03 51.75,630.25 52,629.94 52.25,630.79 52.5,630 52.75,629.75 53,631.37 53.25,630.13 53.5,630.66 53.75,632.84 54,631.45 54.25,631.5 54.5,630.86 54.75,630.29 55,631.66 55.25,630.81 55.5,631.06 55.75,630.69 56,631.64 56.25,631.54 56.5,629.38 56.75,630.54 57,631.28 57.25,633.16 57.5,630.65 57.75,631.89 58,632.61 58.25,632.65 58.5,631.23 58.75,632.57 59,632.03 59.25,631.91 59.5,631.44 59.75,630.33 60,631.51 60.25,630.59 60.5,632.81 60.75,632.44 61,633.67 61.25,630.77 61.5,630.71 61.75,631.97 62,632.36 62.25,633 62.5,631.2 62.75,630.63 63,631.39 63.25,635.37 63.5,631.44 63.75,631.81 64,633.17 64.25,632.98 64.5,632.07 64.75,629.71 65,633.09 65.25,632.07 65.5,633.79 65.75,632.7 66,633.19 66.25,631 66.5,632.84 66.75,632.73 67,632.43 67.25,633.26 67.5,633.45 67.75,632.57 68,633.57 68.25,634.41 68.5,633.57 68.75,633 69,633.44 69.25,633.03 69.5,633.5 69.75,634.02 70,633.03 70.25,633.98 70.5,634.92 70.75,633.27 71,632.82 71.25,633.18 71.5,634.18 71.75,633.97 72,633.12 72.25,631.34 72.5,634.18 72.75,634.17 73,634.19 73.25,633.23 73.5,631.88 73.75,633.59 74,633.29 74.25,634.54 74.5,635.45 74.75,634.89 75,633.89 75.25,634.92 75.5,633.77 75.75,634.97 76,634.41 76.25,633.94 76.5,634.78 76.75,634.62 77,635.78 77.25,634.51 77.5,634.49 77.75,635.93 78,635.04 78.25,634.97 78.5,636.63 78.75,632.66 79,633.58 79.25,634.43 79.5,636.22 79.75,636.47 80,635.44 80.25,634.65 80.5,634.02 80.75,635.85 81,635.74 81.25,634.93 81.5,636.44 81.75,637.06 82,634.8 82.25,635.94 82.5,634.54 82.75,635.96 83,634.64 83.25,635.89 83.5,637.6 83.75,635.4 84,637.3 84.25,637.24 84.5,637.16 84.75,635.75 85,634.87 85.25,636.24 85.5,636.82 85.75,635.78 86,635.53 86.25,635.24 86.5,639.13 86.75,634.6 87,637.23 87.25,636.1 87.5,637.66 87.75,637.79 88,635.76 88.25,636.67 88.5,636.49 88.75,637.34 89,636.77 89.25,637.66 89.5,637.44 89.75,636.51 90,638.05 90.25,637.57 90.5,637.67 90.75,636.87 91,637.95 91.25,636.98 91.5,638.58 91.75,637.83 92,635.43 92.25,638.12 92.5,638.09 92.75,637.71 93,638.45 93.25,636.42 93.5,638.13 93.75,637.18 94,638.11 94.25,637.31 94.5,636.86 94.75,637.76 95,636.6 95.25,638.2 95.5,638.87 95.75,639.43 96,638.68 96.25,637.94 96.5,638.24 96.75,638.36 97,639.64 97.25,637.72 97.5,638.15 97.75,636.8 98,639.84 98.25,637.69 98.5,637.67 98.75,637.11 99,639.14 99.25,638.71 99.5,638.67 99.75,637.79 100,638.6 100.25,640.18 100.5,637.8 100.75,639.34 101,640.48 101.25,638.3 101.5,639.95 101.75,640.01 102,638.75 102.25,639.43 102.5,640.16 102.75,640.4 103,639.12 103.25,638.39 103.5,639.9 103.75,639.95 104,640.46 104.25,641.15 104.5,640.97 104.75,640.81 105,639.79 105.25,641.26 105.5,641.22 105.75,639.91 106,639.84 106.25,639.1 106.5,639.95 106.75,640.45 107,640.28 107.25,641.07 107.5,640.63 107.75,639.86 108,641.8 108.25,639.22 108.5,641.71 108.75,640.9 109,641.14 109.25,640.34 109.5,641.11 109.75,642.49 110,640.53 110.25,641.43 110.5,641.31 110.75,638.49 111,640.77 111.25,641.62 111.5,640.78 111.75,641.26 112,640.39 112.25,642.99 112.5,641.85 112.75,641.45 113,641 113.25,642.58 113.5,641.9 113.75,642.56 114,642.42 114.25,640.71 114.5,642.41 114.75,639.87 115,639.62 115.25,641.84 115.5,643.67 115.75,642.67 116,642.73 116.25,641.5 116.5,642.18 116.75,642.83 117,640.52 117.25,641.76 117.5,642.07 117.75,643.36 118,643.71 118.25,642.12 118.5,644.07 118.75,642.9 119,642.74 119.25,644.06 119.5,642.21 119.75,642.37 120,641.89 120.25,642.35 120.5,641.1 120.75,645.39 121,643.83 121.25,644.97 121.5,641.92 121.75,641.7 122,644.72 122.25,643.2 122.5,643.19 122.75,643.12 123,642.39 123.25,642.99 123.5,645.61 123.75,642.77 124,645.12 124.25,644.2 124.5,644.64 124.75,645 125,643.12 125.25,644.84 125.5,644.51 125.75,646.62 126,644.61 126.25,645.19 126.5,644.52 126.75,644.72 127,644.68 127.25,644.46 127.5,645.49 127.75,644.87 128,645.11 128.25,645.49 128.5,644.14 128.75,644.53 129,645.12 129.25,645.34 129.5,646.53 129.75,643.08 130,644.33 130.25,644.19 130.5,645.18 130.75,644.93 131,643.66 131.25,644.4 131.5,644.46 131.75,643.76 132,644.45 132.25,644.87 132.5,646.43 132.75,645.63 133,645.12 133.25,644.95 133.5,645.48 133.75,646.82 134,646.95 134.25,645.07 134.5,645.56 134.75,646.07 135,646.26 135.25,645.09 135.5,646.62 135.75,646.88 136,647 136.25,647.94 136.5,647.19 136.75,646.21 137,645.12 137.25,646.39 137.5,645.9 137.75,647.54 138,646.52 138.25,645.53 138.5,646.25 138.75,648.09 139,646.2 139.25,647.02 139.5,647.85 139.75,647.26 140,645.76 140.25,645.78 140.5,646.35 140.75,647.55 141,647.44 141.25,646.57 141.5,647.31 141.75,647.56 142,645.89 142.25,646.31 142.5,647.56 142.75,648.54 143,647.42 143.25,647.82 143.5,649.04 143.75,647.02 144,647.77 144.25,647.59 144.5,649.57 144.75,647.48 145,647.23 145.25,648.94 145.5,650.75 145.75,649.01 146,649.39 146.25,649.45 146.5,648.81 146.75,648.23 147,650.07 147.25,648.96 147.5,647.55 147.75,648.17 148,648.67 148.25,647.96 148.5,648.72 148.75,648.43 149,648.48 149.25,647.57 149.5,650.29 149.75,647.98 150,647.86 150.25,649.67 150.5,648.95 150.75,649.06 151,650.86 151.25,648.62 151.5,648.16 151.75,648.59 152,648.84 152.25,649.72 152.5,650.01 152.75,650.61 153,649.24 153.25,650.12 153.5,648.85 153.75,649.33 154,649.94 154.25,648.83 154.5,651.46 154.75,649.57 155,649.19 155.25,649.23 155.5,650.32 155.75,651.7 156,648.99 156.25,650.39 156.5,649.51 156.75,651.1 157,649.92 157.25,648.45 157.5,649.45 157.75,650.27 158,650.3 158.25,652.02 158.5,651.08 158.75,649.8 159,651.51 159.25,650.72 159.5,652.76 159.75,650.69 160,650.42 160.25,651.32 160.5,652.71 160.75,650.8 161,652.59 161.25,651.32 161.5,651.53 161.75,652.53 162,652.41 162.25,652.01 162.5,653.22 162.75,651.15 163,649.39 163.25,652.32 163.5,651.91 163.75,651.58 164,652.91 164.25,649.87 164.5,651.63 164.75,653.14 165,652.29 165.25,653.2 165.5,652.35 165.75,651.06 166,651.12 166.25,652.42 166.5,651.12 166.75,653.81 167,651.61 167.25,650.83 167.5,652.25 167.75,653.02 168,652.51 168.25,652.46 168.5,652.27 168.75,651.12 169,652.93 169.25,653.56 169.5,652 169.75,653.4 170,651.44 170.25,653.23 170.5,652.15 170.75,653.9 171,651.88 171.25,652.15 171.5,652.99 171.75,653.3 172,653.11 172.25,654.08 172.5,653.48 172.75,653.26 173,655.1 173.25,654.5 173.5,653.91 173.75,654.07 174,652.14 174.25,652.7 174.5,655.84 174.75,652.58 175,654.88 175.25,654.43 175.5,653.73 175.75,656.46 176,653.96 176.25,655.6 176.5,653.7 176.75,654.63 177,654.7 177.25,654.65 177.5,655.54 177.75,654.81 178,653.43 178.25,654.82 178.5,653.11 178.75,656.01 179,655.68 179.25,655.65 179.5,654.68 179.75,655.39 180,652.96 180.25,654.45 180.5,655.2 180.75,653.01 181,655.31 181.25,654.83 181.5,655.52 181.75,654.76 182,656.58 182.25,655.33 182.5,656.53 182.75,656.29 183,654.4 183.25,653.64 183.5,655.31 183.75,655.95 184,656.03 184.25,655.33 184.5,657.82 184.75,655.77 185,657.28 185.25,654.41 185.5,656.46 185.75,655.93 186,657.08 186.25,658.44 186.5,655.59 186.75,655.73 187,656.19 187.25,656.07 187.5,656.37 187.75,656.48 188,655.96 188.25,656.54 188.5,656.37 188.75,657.83 189,656.12 189.25,657.46 189.5,657.3 189.75,656.96 190,657.87 190.25,655.15 190.5,657.31 190.75,656.31 191,654.9 191.25,656.72 191.5,657.4 191.75,655.32 192,657.45 192.25,656.32 192.5,656.51 192.75,658.71 193,658.45 193.25,658.03 193.5,657.83 193.75,656.67 194,659.24 194.25,658.6 194.5,658.29 194.75,659 195,657.93 195.25,657.83 195.5,658.54 195.75,658.62 196,659.43 196.25,657.61 196.5,659.67 196.75,658.14 197,659.06 197.25,658.47 197.5,656.54 197.75,658.09 198,658.12 198.25,657.96 198.5,660.66 198.75,658.05 199,658.97 199.25,659.11 199.5,658.14 199.75,657.27 200,657.75 200.25,660.07 200.5,658.01 200.75,659.04 201,659.05 201.25,657.82 201.5,659.6 201.75,659.37 202,657.73 202.25,658.11 202.5,658.62 202.75,660.04 203,658.44 203.25,657.32 203.5,660.79 203.75,658.25 204,658.71 204.25,658.73 204.5,657.49 204.75,660.58 205,660.34 205.25,660.45 205.5,659.74 205.75,662.51 206,658.31 206.25,659.72 206.5,659.39 206.75,657.56 207,659 207.25,659.57 207.5,659.7 207.75,659.53 208,659.86 208.25,660.11 208.5,659.75 208.75,661.2 209,660.02 209.25,661.38 209.5,661.52 209.75,660.38 210,659.47 210.25,660.69 210.5,661.57 210.75,658.29 211,660.13 211.25,662.68 211.5,660.3 211.75,659.85 212,659.87 212.25,660.05 212.5,660.18 212.75,659.46 213,660.84 213.25,660.78 213.5,659.52 213.75,661.99 214,661.88 214.25,660.41 214.5,660.7 214.75,661.37 215,661.05 215.25,661.61 215.5,662.14 215.75,662.63 216,662.18 216.25,661.08 216.5,660.98 216.75,659.92 217,661.48 217.25,662.93 217.5,662.01 217.75,660.89 218,661.84 218.25,661.18 218.5,661.67 218.75,661.05 219,663.2 219.25,659.7 219.5,660.77 219.75,662.35 220,659.78 220.25,661.44 220.5,660.69 220.75,662.22 221,661.96 221.25,661.9 221.5,662.02 221.75,661.85 222,663.88 222.25,661.81 222.5,661.2 222.75,662.26 223,660.81 223.25,661.27 223.5,663.24 223.75,662.52 224,662.29 224.25,663.45 224.5,661.6 224.75,660.76 225,663.49 225.25,662.33 225.5,664.87 225.75,661.18 226,662.75 226.25,662.2 226.5,662.97 226.75,662.71 227,662.5 227.25,664.29 227.5,663.91 227.75,663.29 228,663.6 228.25,663.34 228.5,661.41 228.75,662.3 229,663.44 229.25,663.34 229.5,664.81 229.75,662.54 230,663.13 230.25,663.34 230.5,663.56 230.75,664.53 231,662.61 231.25,664.41 231.5,663.85 231.75,662.15 232,662.32 232.25,663.49 232.5,665.27 232.75,664 233,664.25 233.25,664.02 233.5,662.63 233.75,663.18 234,662.31 234.25,664.65 234.5,663.49 234.75,665.1 235,663.87 235.25,662.62 235.5,663.63 235.75,664.99 236,663.78 236.25,664.18 236.5,662.71 236.75,663.83 237,664.91 237.25,664.15 237.5,664.48 237.75,664.57 238,663.61 238.25,664.44 238.5,664.34 238.75,663.8 239,666.13 239.25,666.03 239.5,665.8 239.75,664.52 240,663.19 240.25,665.37 240.5,664.06 240.75,665.45 241,664.39 241.25,664.14 241.5,663.05 241.75,665.13 242,665.43 242.25,665.52 242.5,665.82 242.75,663.43 243,665.16 243.25,665.87 243.5,666.07 243.75,663.61 244,665.4 244.25,666.15 244.5,665.84 244.75,664.4 245,666.14 245.25,665.56 245.5,666.68 245.75,664.73 246,665.54 246.25,665.45 246.5,666.09 246.75,664.17 247,665.44 247.25,664.33 247.5,665.37 247.75,665.06 248,665.57 248.25,666.39 248.5,666.02 248.75,666.17 249,666.14 249.25,665.65 249.5,665.21 249.75,666.13 250,664.23 250.25,666.09 250.5,665.43 250.75,665.26 251,666.03 251.25,666.08 251.5,665.02 251.75,666.03 252,666.58 252.25,665.45 252.5,666.79 252.75,664.84 253,665.4 253.25,666.87 253.5,666 253.75,665.77 254,666.77 254.25,667.02 254.5,666.32 254.75,666.73 255,666.48 255.25,665.94 255.5,666.72 255.75,666.26 256,664.64 256.25,666.09 256.5,667.05 256.75,666.66 257,666.62 257.25,666.11 257.5,665.31 257.75,665.82 258,665.51 258.25,665.38 258.5,667.23 258.75,666.4 259,665.74 259.25,667.32 259.5,667.64 259.75,665.59 260,667.58 260.25,665.86 260.5,669.36 260.75,667.37 261,665.26 261.25,668.18 261.5,666.26 261.75,667.59 262,668.79 262.25,668.12 262.5,665.81 262.75,667.42 263,666.76 263.25,667.59 263.5,667.1 263.75,667.31 264,668.86 264.25,666.92 264.5,668.63 264.75,666.67 265,667.38 265.25,666.24 265.5,668.69 265.75,667.74 266,666.46 266.25,667.83 266.5,667.39 266.75,667.37 267,667.32 267.25,668.42 267.5,667.28 267.75,668.83 268,668.5 268.25,668.83 268.5,669 268.75,668.44 269,667.43 269.25,668.9 269.5,666.84 269.75,667.54 270,669.21 270.25,666.58 270.5,667.44 270.75,667.06 271,668.63 271.25,667.4 271.5,668.53 271.75,668.42 272,670.19 272.25,670.32 272.5,667.71 272.75,667.89 273,668.47 273.25,668.21 273.5,668.27 273.75,668.46 274,669.45 274.25,669.89 274.5,667.41 274.75,669.24 275,668.86 275.25,667.87 275.5,668.73 275.75,668.34 276,668.93 276.25,668.95 276.5,667.35 276.75,668.44 277,669.14 277.25,668.39 277.5,666.18 277.75,670.18 278,668.88 278.25,669.61 278.5,668.48 278.75,668.29 279,670 279.25,669.23 279.5,668.72 279.75,669.51 280,668.91 280.25,669.47 280.5,670.07 280.75,669.38 281,668.99 281.25,670.05 281.5,670.56 281.75,669.74 282,669.59 282.25,669.64 282.5,669.07 282.75,670.29 283,669.36 283.25,669.43 283.5,670.15 283.75,671.15 284,670.91 284.25,668.93 284.5,671.21 284.75,670.67 285,670.12 285.25,670.89 285.5,670.3 285.75,671.79 286,669.45 286.25,671.46 286.5,669.76 286.75,669.92 287,670.99 287.25,668.45 287.5,671.05 287.75,671.43 288,668.75 288.25,669.71 288.5,671.25 288.75,669.45" fill="none" stroke="#000" stroke-width="2.7" stroke-linejoin="round" stroke-linecap="round" />
<polyline points="48.5,626.56 48.75,630 49,627.59 49.25,629.83 49.5,629.18 49.75,628.47 50,627.18 50.25,629.27 50.5,628.63 50.75,627.44 51,627.26 51.25,627.71 51.5,626.83 51.75,627.55 52,628.63 52.25,627.13 52.5,627.72 52.75,627.78 53,627.98 53.25,627.39 53.5,628.61 53.75,629.47 54,626.75 54.25,627.58 54.5,628.01 54.75,629.48 55,628.05 55.25,627.63 55.5,629.19 55.75,628.04 56,627.06 56.25,628.52 56.5,628.37 56.75,627.57 57,626.42 57.25,627.69 57.5,628.73 57.75,628.68 58,626.66 58.25,627.04 58.5,629.33 58.75,626.32 59,629.32 59.25,629.09 59.5,630.6 59.75,626.56 60,629.32 60.25,627.74 60.5,628.46 60.75,627.29 61,629.47 61.25,629.08 61.5,627.21 61.75,626.9 62,628.88 62.25,628.02 62.5,628.78 62.75,628.79 63,629 63.25,628.7 63.5,628.08 63.75,629.77 64,629.49 64.25,628.66 64.5,629.15 64.75,628.73 65,628.65 65.25,628.24 65.5,630.31 65.75,628.24 66,630.33 66.25,629.59 66.5,629.51 66.75,629.66 67,629.39 67.25,627.53 67.5,627.29 67.75,628.1 68,628.3 68.25,628.91 68.5,628.78 68.75,629.33 69,627.1 69.25,629.1 69.5,628.13 69.75,628.17 70,628.16 70.25,628.9 70.5,627.9 70.75,629.68 71,629.7 71.25,628.11 71.5,628.11 71.75,628.85 72,630.19 72.25,629.54 72.5,628.09 72.75,628.72 73,627.47 73.25,628.29 73.5,627.6 73.75,629.36 74,628.48 74.25,628.67 74.5,626.98 74.75,628.2 75,628.25 75.25,629.88 75.5,626.8 75.75,627.59 76,627.56 76.25,629.06 76.5,627.92 76.75,629.87 77,630.27 77.25,626.42 77.5,629.93 77.75,629.28 78,629.37 78.25,629.06 78.5,628.17 78.75,627.9 79,627.78 79.25,627.43 79.5,628.69 79.75,628.27 80,628.54 80.25,628.48 80.5,626.46 80.75,628.2 81,627.43 81.25,627.25 81.5,628.14 81.75,629.13 82,627.92 82.25,628.46 82.5,629.85 82.75,628.89 83,628.74 83.25,627.33 83.5,629.04 83.75,627.71 84,629.73 84.25,630.2 84.5,627.28 84.75,628.33 85,628.2 85.25,629.66 85.5,626.56 85.75,629.25 86,629.13 86.25,628.03 86.5,628.51 86.75,627.78 87,628.21 87.25,627.64 87.5,626.28 87.75,627.15 88,627.16 88.25,628.3 88.5,627.2 88.75,628.14 89,628.73 89.25,627.14 89.5,628.08 89.75,626.03 90,627.58 90.25,628.5 90.5,628.39 90.75,631.16 91,626.7 91.25,627.35 91.5,627.25 91.75,626.4 92,627.03 92.25,625.63 92.5,626.59 92.75,630.09 93,625.93 93.25,627.67 93.5,628.03 93.75,628.06 94,627.1 94.25,626.62 94.5,627.15 94.75,627.19 95,624.34 95.25,627.51 95.5,625.91 95.75,626.73 96,626.68 96.25,625.86 96.5,624.05 96.75,623.33 97,626.08 97.25,624.26 97.5,623.24 97.75,624.15 98,624.58 98.25,626.18 98.5,623.16 98.75,624.73 99,624.27 99.25,623.48 99.5,622.73 99.75,625.29 100,623.38 100.25,623.83 100.5,623.12 100.75,625.3 101,623.54 101.25,622.61 101.5,623.98 101.75,623.05 102,621.68 102.25,621.03 102.5,621.89 102.75,621.84 103,620.59 103.25,619.9 103.5,622.2 103.75,622 104,622.47 104.25,620.38 104.5,621.55 104.75,621.54 105,620.94 105.25,620.25 105.5,621.11 105.75,620.4 106,620.17 106.25,620.33 106.5,619.55 106.75,619.38 107,620.19 107.25,620.24 107.5,620.9 107.75,619.72 108,618.97 108.25,618.47 108.5,620.61 108.75,618.91 109,618.2 109.25,620.84 109.5,620.26 109.75,618.39 110,618.79 110.25,617.84 110.5,618.5 110.75,620.05 111,618.26 111.25,619.4 111.5,619.57 111.75,615.99 112,617.08 112.25,619.21 112.5,616.96 112.75,616.82 113,616.53 113.25,618.18 113.5,616.95 113.75,619.61 114,617.12 114.25,614.39 114.5,615.16 114.75,616.54 115,618.31 115.25,617.17 115.5,615.23 115.75,615.2 116,613.93 116.25,616.66 116.5,613.61 116.75,616.12 117,616.15 117.25,615.45 117.5,616.14 117.75,617.14 118,613.75 118.25,616.42 118.5,612.02 118.75,613.8 119,613.87 119.25,613.87 119.5,615.1 119.75,613.47 120,612.57 120.25,612.36 120.5,612.85 120.75,613.7 121,611.77 121.25,612.03 121.5,611.95 121.75,613.06 122,612.73 122.25,611 122.5,610.77 122.75,611.16 123,612.17 123.25,613.11 123.5,611.7 123.75,610.67 124,613.61 124.25,612.04 124.5,608.39 124.75,611.62 125,612.02 125.25,611.79 125.5,609.87 125.75,608.57 126,610.28 126.25,610.77 126.5,610.5 126.75,610.13 127,608.8 127.25,609.55 127.5,609.22 127.75,608.56 128,610.96 128.25,608.51 128.5,608.42 128.75,610.66 129,608.05 129.25,607.9 129.5,608.11 129.75,606.71 130,608.66 130.25,607.46 130.5,607.97 130.75,608.82 131,606.81 131.25,606.81 131.5,605.45 131.75,607.93 132,606.42 132.25,607.7 132.5,606.57 132.75,605.95 133,605.47 133.25,607.6 133.5,606.86 133.75,607.18 134,605.82 134.25,604.23 134.5,605.49 134.75,606.21 135,606.16 135.25,606.25 135.5,606.33 135.75,606.07 136,606.72 136.25,602.85 136.5,605.41 136.75,605.24 137,605.32 137.25,604.43 137.5,603.36 137.75,604.33 138,604.79 138.25,603.94 138.5,604.89 138.75,604.6 139,601.16 139.25,605.92 139.5,602.04 139.75,605.82 140,603.87 140.25,602.22 140.5,603.09 140.75,602.53 141,603.16 141.25,600.81 141.5,601.88 141.75,599.47 142,601.95 142.25,601.27 142.5,600.47 142.75,600.44 143,601.24 143.25,600.66 143.5,601 143.75,600.5 144,600.31 144.25,600.09 144.5,601.88 144.75,600.15 145,600.44 145.25,601.16 145.5,601.68 145.75,598.56 146,599.62 146.25,598.84 146.5,599.99 146.75,599.87 147,597.73 147.25,598.36 147.5,598.49 147.75,600.28 148,596.83 148.25,599.67 148.5,599.02 148.75,598.25 149,598.99 149.25,597.95 149.5,600.76 149.75,598.67 150,597.96 150.25,599.65 150.5,598.44 150.75,597.35 151,597.98 151.25,598.62 151.5,598.21 151.75,598.35 152,598.31 152.25,598.75 152.5,597.87 152.75,599.92 153,598.5 153.25,599.17 153.5,597.82 153.75,597.03 154,597.68 154.25,597.89 154.5,597.06 154.75,594.43 155,596.99 155.25,598.84 155.5,599.28 155.75,599.17 156,597.1 156.25,597.06 156.5,599.34 156.75,598.23 157,596.11 157.25,596.17 157.5,596.35 157.75,596.65 158,594.64 158.25,596.4 158.5,596.53 158.75,597.91 159,596.81 159.25,595.21 159.5,597.46 159.75,598.07 160,598.93 160.25,598.03 160.5,597.88 160.75,598.78 161,595.46 161.25,598.75 161.5,598.78 161.75,595.87 162,597.88 162.25,595.06 162.5,599.73 162.75,597.42 163,596.41 163.25,595.33 163.5,596.43 163.75,597.07 164,596.23 164.25,597.36 164.5,596.45 164.75,595.43 165,597.12 165.25,599.36 165.5,593.52 165.75,595.86 166,596.85 166.25,594.99 166.5,594.44 166.75,594.75 167,595.68 167.25,594.27 167.5,593.42 167.75,593.78 168,595.54 168.25,595.04 168.5,596.26 168.75,595.29 169,593.82 169.25,594.29 169.5,594.11 169.75,595.92 170,594.88 170.25,594.75 170.5,595.27 170.75,595.54 171,594.11 171.25,593.3 171.5,594.75 171.75,594.34 172,595.24 172.25,593.34 172.5,596.37 172.75,594.7 173,596.24 173.25,595.39 173.5,594.68 173.75,593.78 174,594.62 174.25,593.83 174.5,596.67 174.75,593.92 175,594.86 175.25,593.95 175.5,594.13 175.75,595.01 176,597.16 176.25,593.58 176.5,594.93 176.75,596.06 177,594.88 177.25,594.35 177.5,598.07 177.75,595.3 178,594.25 178.25,593.09 178.5,593.89 178.75,594.3 179,596.03 179.25,595 179.5,594.09 179.75,596.89 180,596.27 180.25,594.56 180.5,596.03 180.75,595.1 181,594.49 181.25,593.9 181.5,594.86 181.75,595.23 182,595.47 182.25,595.34 182.5,596.33 182.75,596.85 183,595.18 183.25,595.97 183.5,596.65 183.75,595.01 184,594.53 184.25,593.06 184.5,595.08 184.75,593.01 185,594.29 185.25,595.88 185.5,596.37 185.75,594.04 186,593.19 186.25,594.02 186.5,595.92 186.75,597.9 187,595.5 187.25,593.4 187.5,594.39 187.75,597.02 188,596.2 188.25,596.48 188.5,595.65 188.75,595.74 189,593.59 189.25,596.91 189.5,597.73 189.75,595.25 190,595.13 190.25,595.92 190.5,595.65 190.75,594.68 191,594.85 191.25,596.42 191.5,597.51 191.75,595.56 192,594.6 192.25,596.78 192.5,597.57 192.75,595.58 193,595.15 193.25,595.81 193.5,596.17 193.75,598.16 194,595.37 194.25,596.96 194.5,597.11 194.75,596.16 195,598.64 195.25,597.43 195.5,596.09 195.75,596.49 196,596.89 196.25,598.71 196.5,596.57 196.75,597.78 197,597.49 197.25,595.92 197.5,597.47 197.75,595.97 198,596.72 198.25,597.08 198.5,597.95 198.75,597.21 199,596.92 199.25,596.81 199.5,596.99 199.75,597.73 200,596.11 200.25,596.86 200.5,597.69 200.75,595.04 201,598.55 201.25,598.85 201.5,597.17 201.75,597.95 202,597.99 202.25,597.68 202.5,598.4 202.75,597.01 203,599.22 203.25,597.71 203.5,599.7 203.75,601.57 204,598.98 204.25,599.3 204.5,599.17 204.75,598.79 205,599.76 205.25,600.22 205.5,598.55 205.75,600.7 206,599.04 206.25,601.03 206.5,599.25 206.75,597.22 207,599.16 207.25,598.66 207.5,599.55 207.75,600.76 208,599.16 208.25,599.26 208.5,600.24 208.75,598.58 209,599.7 209.25,601.72 209.5,601.98 209.75,599.8 210,600.08 210.25,601.39 210.5,602 210.75,600.31 211,599.81 211.25,600.05 211.5,602.22 211.75,601.57 212,600.17 212.25,602.92 212.5,600.85 212.75,600.37 213,602.48 213.25,602.54 213.5,600.7 213.75,600.93 214,602.27 214.25,601.3 214.5,603.08 214.75,602.71 215,601.27 215.25,598.8 215.5,602.04 215.75,601.98 216,604.5 216.25,601.01 216.5,602.06 216.75,604.05 217,602.12 217.25,603.45 217.5,602.72 217.75,602.46 218,603.3 218.25,602.2 218.5,601.73 218.75,603.29 219,602.46 219.25,603.35 219.5,604.41 219.75,603.92 220,601.78 220.25,602.09 220.5,601.65 220.75,602.61 221,602.45 221.25,603.82 221.5,604.73 221.75,603.88 222,601.2 222.25,603.22 222.5,603.61 222.75,605.04 223,604.15 223.25,604.57 223.5,604.04 223.75,602.16 224,604.42 224.25,605.03 224.5,602.72 224.75,605.92 225,606.57 225.25,603.15 225.5,603.44 225.75,603.01 226,604.52 226.25,603.34 226.5,606.24 226.75,603.76 227,604.39 227.25,605.26 227.5,604.07 227.75,606.35 228,604.58 228.25,604.89 228.5,605.55 228.75,603.34 229,605.02 229.25,604.19 229.5,605.2 229.75,603.77 230,606.57 230.25,605.79 230.5,604.76 230.75,605.08 231,603.46 231.25,605.82 231.5,604.06 231.75,606.38 232,604.74 232.25,607.41 232.5,605.32 232.75,605.1 233,607.01 233.25,605.67 233.5,608.11 233.75,608.2 234,605.4 234.25,607.43 234.5,606.88 234.75,606.45 235,604.3 235.25,606.29 235.5,605.89 235.75,607.79 236,607.95 236.25,605.42 236.5,605.19 236.75,607.01 237,606.38 237.25,607.93 237.5,606.38 237.75,608.52 238,608.98 238.25,605.78 238.5,606.15 238.75,607.41 239,607.03 239.25,609.49 239.5,607.3 239.75,607.24 240,605.83 240.25,608.17 240.5,606.55 240.75,606.97 241,605.53 241.25,607.5 241.5,607.94 241.75,608.02 242,606.17 242.25,608.08 242.5,608.33 242.75,608.75 243,606.35 243.25,608.28 243.5,608.33 243.75,608 244,608.49 244.25,606.99 244.5,607.26 244.75,610.72 245,609.46 245.25,609.18 245.5,608.76 245.75,607.96 246,607.56 246.25,606.91 246.5,608.23 246.75,606.6 247,608.48 247.25,607.64 247.5,608.13 247.75,608.02 248,610.61 248.25,610.81 248.5,607.48 248.75,611.2 249,609.87 249.25,609.54 249.5,610.18 249.75,606.23 250,609.33 250.25,611.06 250.5,608.67 250.75,610.66 251,608.62 251.25,608.25 251.5,609.93 251.75,609.11 252,608.83 252.25,609.34 252.5,609.83 252.75,610.6 253,609.76 253.25,610.04 253.5,609.81 253.75,609.23 254,609.17 254.25,609.74 254.5,609.52 254.75,609.77 255,611.06 255.25,610.57 255.5,610.62 255.75,609.64 256,610.21 256.25,610.36 256.5,610.09 256.75,611.7 257,613 257.25,612.19 257.5,610.08 257.75,610.78 258,611.99 258.25,611.04 258.5,611.53 258.75,610.13 259,610.19 259.25,612.25 259.5,610.92 259.75,612.48 260,612.86 260.25,611.06 260.5,611.05 260.75,613.77 261,611.94 261.25,612.61 261.5,612.65 261.75,612.12 262,612.44 262.25,613.2 262.5,612.29 262.75,610.54 263,612.15 263.25,612.06 263.5,612.21 263.75,613.88 264,611.03 264.25,613.61 264.5,611.56 264.75,612.36 265,613.6 265.25,612.16 265.5,614.59 265.75,614.31 266,612.92 266.25,612.96 266.5,612.92 266.75,610.61 267,612.65 267.25,612.78 267.5,613.75 267.75,614.37 268,610.07 268.25,612.89 268.5,614.59 268.75,614.59 269,615.57 269.25,613.38 269.5,612.68 269.75,614.1 270,614.78 270.25,613.08 270.5,613.27 270.75,612.99 271,615.06 271.25,613.12 271.5,614.62 271.75,614.54 272,614.33 272.25,615.08 272.5,614.72 272.75,613.34 273,613.82 273.25,615.25 273.5,616.84 273.75,615.8 274,615.1 274.25,615.35 274.5,614.19 274.75,616.77 275,616.49 275.25,612.87 275.5,616.13 275.75,613.45 276,615.41 276.25,616.87 276.5,614.69 276.75,615.71 277,615.43 277.25,612.11 277.5,618.07 277.75,616.47 278,613.01 278.25,617.55 278.5,615.22 278.75,615.41 279,615.48 279.25,617.23 279.5,616.74 279.75,615.17 280,616.2 280.25,615.09 280.5,617.7 280.75,616.81 281,617.58 281.25,615.18 281.5,616.7 281.75,618.8 282,616.23 282.25,616.8 282.5,616.4 282.75,616.29 283,617.28 283.25,616.99 283.5,616.34 283.75,616.47 284,618.01 284.25,619.11 284.5,618.01 284.75,618.2 285,617.03 285.25,617.43 285.5,616.96 285.75,617.97 286,618.03 286.25,619.43 286.5,619.6 286.75,617.69 287,619.08 287.25,618.12 287.5,617.05 287.75,617.73 288,618.78 288.25,618.77 288.5,619.26 288.75,617.68" fill="none" stroke="#5cbf5c" stroke-width="3.4" stroke-linejoin="round" stroke-linecap="round" />
<text x="305.5" y="416.3" font-size="15.4" fill="#000" textLength="4.71" lengthAdjust="spacingAndGlyphs" font-weight="bold" stroke="#000" stroke-width="0.8">i</text>
<line x1="344.4" y1="419.2" x2="344.4" y2="542.5" stroke="#5a5a5a" stroke-width="1" />
<line x1="341.2" y1="542.5" x2="472.8" y2="542.5" stroke="#5a5a5a" stroke-width="1" />
<line x1="341.2" y1="455.2" x2="344.4" y2="455.2" stroke="#5a5a5a" stroke-width="1" />
<text x="336.8" y="458.8" font-size="10" fill="#231f20" stroke="#231f20" stroke-width="0.22" text-anchor="end" >1.0</text>
<line x1="341.2" y1="542.5" x2="344.4" y2="542.5" stroke="#5a5a5a" stroke-width="1" />
<text x="336.8" y="546.1" font-size="10" fill="#231f20" stroke="#231f20" stroke-width="0.22" text-anchor="end" >0.9</text>
<line x1="344.4" y1="542.5" x2="344.4" y2="545.3" stroke="#5a5a5a" stroke-width="1" />
<text x="344.4" y="557.4" font-size="10" fill="#231f20" stroke="#231f20" stroke-width="0.22" text-anchor="middle" >0</text>
<line x1="376.5" y1="542.5" x2="376.5" y2="545.3" stroke="#5a5a5a" stroke-width="1" />
<text x="376.5" y="557.4" font-size="10" fill="#231f20" stroke="#231f20" stroke-width="0.22" text-anchor="middle" >10</text>
<line x1="408.6" y1="542.5" x2="408.6" y2="545.3" stroke="#5a5a5a" stroke-width="1" />
<text x="408.6" y="557.4" font-size="10" fill="#231f20" stroke="#231f20" stroke-width="0.22" text-anchor="middle" >20</text>
<line x1="440.7" y1="542.5" x2="440.7" y2="545.3" stroke="#5a5a5a" stroke-width="1" />
<text x="440.7" y="557.4" font-size="10" fill="#231f20" stroke="#231f20" stroke-width="0.22" text-anchor="middle" >30</text>
<line x1="472.8" y1="542.5" x2="472.8" y2="545.3" stroke="#5a5a5a" stroke-width="1" />
<text x="472.8" y="557.4" font-size="10" fill="#231f20" stroke="#231f20" stroke-width="0.22" text-anchor="middle" >40</text>
<line x1="344.4" y1="581" x2="344.4" y2="700.7" stroke="#5a5a5a" stroke-width="1" />
<line x1="341.2" y1="700.7" x2="472.8" y2="700.7" stroke="#5a5a5a" stroke-width="1" />
<line x1="341.2" y1="627.7" x2="344.4" y2="627.7" stroke="#5a5a5a" stroke-width="1" />
<text x="336.8" y="631.3" font-size="10" fill="#231f20" stroke="#231f20" stroke-width="0.22" text-anchor="end" >1.1</text>
<line x1="341.2" y1="688.5" x2="344.4" y2="688.5" stroke="#5a5a5a" stroke-width="1" />
<text x="336.8" y="692.1" font-size="10" fill="#231f20" stroke="#231f20" stroke-width="0.22" text-anchor="end" >1.0</text>
<line x1="344.4" y1="700.7" x2="344.4" y2="703.5" stroke="#5a5a5a" stroke-width="1" />
<text x="344.4" y="714.7" font-size="10" fill="#231f20" stroke="#231f20" stroke-width="0.22" text-anchor="middle" >0</text>
<line x1="376.5" y1="700.7" x2="376.5" y2="703.5" stroke="#5a5a5a" stroke-width="1" />
<text x="376.5" y="714.7" font-size="10" fill="#231f20" stroke="#231f20" stroke-width="0.22" text-anchor="middle" >10</text>
<line x1="408.6" y1="700.7" x2="408.6" y2="703.5" stroke="#5a5a5a" stroke-width="1" />
<text x="408.6" y="714.7" font-size="10" fill="#231f20" stroke="#231f20" stroke-width="0.22" text-anchor="middle" >20</text>
<line x1="440.7" y1="700.7" x2="440.7" y2="703.5" stroke="#5a5a5a" stroke-width="1" />
<text x="440.7" y="714.7" font-size="10" fill="#231f20" stroke="#231f20" stroke-width="0.22" text-anchor="middle" >30</text>
<line x1="472.8" y1="700.7" x2="472.8" y2="703.5" stroke="#5a5a5a" stroke-width="1" />
<text x="472.8" y="714.7" font-size="10" fill="#231f20" stroke="#231f20" stroke-width="0.22" text-anchor="middle" >40</text>
<text x="312.5" y="481" font-size="11.2" fill="#231f20" stroke="#231f20" stroke-width="0.22" text-anchor="middle" textLength="103.6" lengthAdjust="spacingAndGlyphs" transform="rotate(-90 312.5 481)" >Drug-to-saline ratio</text>
<text x="312.5" y="640.3" font-size="11.2" fill="#231f20" stroke="#231f20" stroke-width="0.22" text-anchor="middle" textLength="105" lengthAdjust="spacingAndGlyphs" transform="rotate(-90 312.5 640.3)" >Drug-to-saline ratio</text>
<text x="347.4" y="423.6" font-size="11.2" fill="#231f20" stroke="#231f20" stroke-width="0.22" textLength="53.8" lengthAdjust="spacingAndGlyphs" >Pre-lesion</text>
<text x="347.2" y="584" font-size="11.2" fill="#231f20" stroke="#231f20" stroke-width="0.22" textLength="59.4" lengthAdjust="spacingAndGlyphs" >Post-lesion</text>
<text x="380" y="733.6" font-size="11.2" fill="#231f20" stroke="#231f20" stroke-width="0.22" textLength="57.2" lengthAdjust="spacingAndGlyphs" >Time (min)</text>
<polygon points="359.3,455.3 364.35,470.2 371,488.4 377.65,507.3 384.3,517.5 390.95,521 397.6,521.8 404.25,521.7 410.9,524 417.55,519.6 424.2,517.8 430.85,516.4 437.5,513.4 444.15,513.4 450.8,508.2 457.45,507.7 464.1,504.7 470.75,499.4 472.2,497.5 472.2,455.3" fill="#ffb0b3"/>
<line x1="352.6" y1="455.3" x2="472.8" y2="455.3" stroke="#000" stroke-width="1.3" stroke-dasharray="5.7 4.8"/>
<line x1="344.4" y1="454.3" x2="344.4" y2="456.3" stroke="#b4b4b4" stroke-width="1.1" />
<line x1="351.05" y1="437.6" x2="351.05" y2="441.6" stroke="#b4b4b4" stroke-width="1.1" />
<line x1="357.7" y1="450.1" x2="357.7" y2="458.1" stroke="#b4b4b4" stroke-width="1.1" />
<line x1="364.35" y1="465.2" x2="364.35" y2="475.2" stroke="#b4b4b4" stroke-width="1.1" />
<line x1="371" y1="481.4" x2="371" y2="495.4" stroke="#b4b4b4" stroke-width="1.1" />
<line x1="377.65" y1="499.3" x2="377.65" y2="515.3" stroke="#b4b4b4" stroke-width="1.1" />
<line x1="384.3" y1="508.5" x2="384.3" y2="526.5" stroke="#b4b4b4" stroke-width="1.1" />
<line x1="390.95" y1="512" x2="390.95" y2="530" stroke="#b4b4b4" stroke-width="1.1" />
<line x1="397.6" y1="512.8" x2="397.6" y2="530.8" stroke="#b4b4b4" stroke-width="1.1" />
<line x1="404.25" y1="512.7" x2="404.25" y2="530.7" stroke="#b4b4b4" stroke-width="1.1" />
<line x1="410.9" y1="515" x2="410.9" y2="533" stroke="#b4b4b4" stroke-width="1.1" />
<line x1="417.55" y1="511.6" x2="417.55" y2="527.6" stroke="#b4b4b4" stroke-width="1.1" />
<line x1="424.2" y1="509.8" x2="424.2" y2="525.8" stroke="#b4b4b4" stroke-width="1.1" />
<line x1="430.85" y1="508.9" x2="430.85" y2="523.9" stroke="#b4b4b4" stroke-width="1.1" />
<line x1="437.5" y1="506.4" x2="437.5" y2="520.4" stroke="#b4b4b4" stroke-width="1.1" />
<line x1="444.15" y1="506.4" x2="444.15" y2="520.4" stroke="#b4b4b4" stroke-width="1.1" />
<line x1="450.8" y1="501.2" x2="450.8" y2="515.2" stroke="#b4b4b4" stroke-width="1.1" />
<line x1="457.45" y1="500.7" x2="457.45" y2="514.7" stroke="#b4b4b4" stroke-width="1.1" />
<line x1="464.1" y1="498.2" x2="464.1" y2="511.2" stroke="#b4b4b4" stroke-width="1.1" />
<line x1="470.75" y1="493.4" x2="470.75" y2="505.4" stroke="#b4b4b4" stroke-width="1.1" />
<polyline points="344.4,455.3 351.05,439.6 357.7,454.1 364.35,470.2 371,488.4 377.65,507.3 384.3,517.5 390.95,521 397.6,521.8 404.25,521.7 410.9,524 417.55,519.6 424.2,517.8 430.85,516.4 437.5,513.4 444.15,513.4 450.8,508.2 457.45,507.7 464.1,504.7 470.75,499.4" fill="none" stroke="#b4b4b4" stroke-width="1.2" stroke-linejoin="round" stroke-linecap="round" />
<circle cx="344.4" cy="455.3" r="2.4" fill="#fff" stroke="#b4b4b4" stroke-width="1.1"/>
<circle cx="351.05" cy="439.6" r="2.4" fill="#fff" stroke="#b4b4b4" stroke-width="1.1"/>
<circle cx="357.7" cy="454.1" r="2.4" fill="#fff" stroke="#b4b4b4" stroke-width="1.1"/>
<circle cx="364.35" cy="470.2" r="2.4" fill="#fff" stroke="#b4b4b4" stroke-width="1.1"/>
<circle cx="371" cy="488.4" r="2.4" fill="#fff" stroke="#b4b4b4" stroke-width="1.1"/>
<circle cx="377.65" cy="507.3" r="2.4" fill="#fff" stroke="#b4b4b4" stroke-width="1.1"/>
<circle cx="384.3" cy="517.5" r="2.4" fill="#fff" stroke="#b4b4b4" stroke-width="1.1"/>
<circle cx="390.95" cy="521" r="2.4" fill="#fff" stroke="#b4b4b4" stroke-width="1.1"/>
<circle cx="397.6" cy="521.8" r="2.4" fill="#fff" stroke="#b4b4b4" stroke-width="1.1"/>
<circle cx="404.25" cy="521.7" r="2.4" fill="#fff" stroke="#b4b4b4" stroke-width="1.1"/>
<circle cx="410.9" cy="524" r="2.4" fill="#fff" stroke="#b4b4b4" stroke-width="1.1"/>
<circle cx="417.55" cy="519.6" r="2.4" fill="#fff" stroke="#b4b4b4" stroke-width="1.1"/>
<circle cx="424.2" cy="517.8" r="2.4" fill="#fff" stroke="#b4b4b4" stroke-width="1.1"/>
<circle cx="430.85" cy="516.4" r="2.4" fill="#fff" stroke="#b4b4b4" stroke-width="1.1"/>
<circle cx="437.5" cy="513.4" r="2.4" fill="#fff" stroke="#b4b4b4" stroke-width="1.1"/>
<circle cx="444.15" cy="513.4" r="2.4" fill="#fff" stroke="#b4b4b4" stroke-width="1.1"/>
<circle cx="450.8" cy="508.2" r="2.4" fill="#fff" stroke="#b4b4b4" stroke-width="1.1"/>
<circle cx="457.45" cy="507.7" r="2.4" fill="#fff" stroke="#b4b4b4" stroke-width="1.1"/>
<circle cx="464.1" cy="504.7" r="2.4" fill="#fff" stroke="#b4b4b4" stroke-width="1.1"/>
<circle cx="470.75" cy="499.4" r="2.4" fill="#fff" stroke="#b4b4b4" stroke-width="1.1"/>
<text x="437" y="452.8" font-size="11.2" fill="#231f20" stroke="#231f20" stroke-width="0.22" textLength="33.2" lengthAdjust="spacingAndGlyphs" >Saline</text>
<text x="393.4" y="478.4" font-size="11.2" fill="#ffffff" stroke="#ffffff" stroke-width="0.22" textLength="53.8" lengthAdjust="spacingAndGlyphs" >‘Tonic’ DA</text>
<text x="395.6" y="491.5" font-size="11.2" fill="#ffffff" stroke="#ffffff" stroke-width="0.22" textLength="49.6" lengthAdjust="spacingAndGlyphs" >signaling</text>
<text x="419.3" y="536.9" font-size="11.2" fill="#bdbdbd" stroke="#bdbdbd" stroke-width="0.22" textLength="58.4" lengthAdjust="spacingAndGlyphs" >Raclopride</text>
<line x1="352.3" y1="688.5" x2="433.6" y2="688.5" stroke="#000" stroke-width="1.3" stroke-dasharray="5.4 5.3"/>
<polyline points="344.4,688.5 351.05,681.2 357.7,679.1 364.35,680.6 371,680.3 377.65,679.7 384.3,679.7 390.95,680.3 397.6,679.7 404.25,678.5 410.9,678.5 417.55,678.5 424.2,677.9 430.85,678.5 437.5,679.1 444.15,678.5 450.8,677.4 457.45,676.8 464.1,675.6 470.75,673.9" fill="none" stroke="#c8c8c8" stroke-width="1.1" stroke-linejoin="round" stroke-linecap="round" />
<circle cx="351.05" cy="681.2" r="2.4" fill="#fff" stroke="#c8c8c8" stroke-width="1.1"/>
<circle cx="357.7" cy="679.1" r="2.4" fill="#fff" stroke="#c8c8c8" stroke-width="1.1"/>
<circle cx="364.35" cy="680.6" r="2.4" fill="#fff" stroke="#c8c8c8" stroke-width="1.1"/>
<circle cx="371" cy="680.3" r="2.4" fill="#fff" stroke="#c8c8c8" stroke-width="1.1"/>
<circle cx="377.65" cy="679.7" r="2.4" fill="#fff" stroke="#c8c8c8" stroke-width="1.1"/>
<circle cx="384.3" cy="679.7" r="2.4" fill="#fff" stroke="#c8c8c8" stroke-width="1.1"/>
<circle cx="390.95" cy="680.3" r="2.4" fill="#fff" stroke="#c8c8c8" stroke-width="1.1"/>
<circle cx="397.6" cy="679.7" r="2.4" fill="#fff" stroke="#c8c8c8" stroke-width="1.1"/>
<circle cx="404.25" cy="678.5" r="2.4" fill="#fff" stroke="#c8c8c8" stroke-width="1.1"/>
<circle cx="410.9" cy="678.5" r="2.4" fill="#fff" stroke="#c8c8c8" stroke-width="1.1"/>
<circle cx="417.55" cy="678.5" r="2.4" fill="#fff" stroke="#c8c8c8" stroke-width="1.1"/>
<circle cx="424.2" cy="677.9" r="2.4" fill="#fff" stroke="#c8c8c8" stroke-width="1.1"/>
<circle cx="430.85" cy="678.5" r="2.4" fill="#fff" stroke="#c8c8c8" stroke-width="1.1"/>
<circle cx="437.5" cy="679.1" r="2.4" fill="#fff" stroke="#c8c8c8" stroke-width="1.1"/>
<circle cx="444.15" cy="678.5" r="2.4" fill="#fff" stroke="#c8c8c8" stroke-width="1.1"/>
<circle cx="450.8" cy="677.4" r="2.4" fill="#fff" stroke="#c8c8c8" stroke-width="1.1"/>
<circle cx="457.45" cy="676.8" r="2.4" fill="#fff" stroke="#c8c8c8" stroke-width="1.1"/>
<circle cx="464.1" cy="675.6" r="2.4" fill="#fff" stroke="#c8c8c8" stroke-width="1.1"/>
<circle cx="470.75" cy="673.9" r="2.4" fill="#fff" stroke="#c8c8c8" stroke-width="1.1"/>
<line x1="351.05" y1="678.3" x2="351.05" y2="682.3" stroke="#52b852" stroke-width="1.1" />
<line x1="357.7" y1="674.9" x2="357.7" y2="679.9" stroke="#52b852" stroke-width="1.1" />
<line x1="364.35" y1="670.2" x2="364.35" y2="675.2" stroke="#52b852" stroke-width="1.1" />
<line x1="371" y1="665.5" x2="371" y2="670.5" stroke="#52b852" stroke-width="1.1" />
<line x1="377.65" y1="655.4" x2="377.65" y2="661.4" stroke="#52b852" stroke-width="1.1" />
<line x1="384.3" y1="643.5" x2="384.3" y2="650.5" stroke="#52b852" stroke-width="1.1" />
<line x1="390.95" y1="632.5" x2="390.95" y2="640.5" stroke="#52b852" stroke-width="1.1" />
<line x1="397.6" y1="623.2" x2="397.6" y2="632.2" stroke="#52b852" stroke-width="1.1" />
<line x1="404.25" y1="614.9" x2="404.25" y2="624.9" stroke="#52b852" stroke-width="1.1" />
<line x1="410.9" y1="606.5" x2="410.9" y2="617.5" stroke="#52b852" stroke-width="1.1" />
<line x1="417.55" y1="600.1" x2="417.55" y2="612.1" stroke="#52b852" stroke-width="1.1" />
<line x1="424.2" y1="592.8" x2="424.2" y2="604.8" stroke="#52b852" stroke-width="1.1" />
<line x1="430.85" y1="590.8" x2="430.85" y2="602.8" stroke="#52b852" stroke-width="1.1" />
<line x1="437.5" y1="589" x2="437.5" y2="601" stroke="#52b852" stroke-width="1.1" />
<line x1="444.15" y1="586.7" x2="444.15" y2="598.7" stroke="#52b852" stroke-width="1.1" />
<line x1="450.8" y1="586.7" x2="450.8" y2="598.7" stroke="#52b852" stroke-width="1.1" />
<line x1="457.45" y1="590.8" x2="457.45" y2="602.8" stroke="#52b852" stroke-width="1.1" />
<line x1="464.1" y1="588.5" x2="464.1" y2="600.5" stroke="#52b852" stroke-width="1.1" />
<line x1="470.75" y1="588.5" x2="470.75" y2="600.5" stroke="#52b852" stroke-width="1.1" />
<polyline points="344.4,688.5 351.05,680.3 357.7,677.4 364.35,672.7 371,668 377.65,658.4 384.3,647 390.95,636.5 397.6,627.7 404.25,619.9 410.9,612 417.55,606.1 424.2,598.8 430.85,596.8 437.5,595 444.15,592.7 450.8,592.7 457.45,596.8 464.1,594.5 470.75,594.5" fill="none" stroke="#52b852" stroke-width="1.3" stroke-linejoin="round" stroke-linecap="round" />
<circle cx="344.4" cy="688.5" r="2.4" fill="#fff" stroke="#52b852" stroke-width="1.2"/>
<circle cx="351.05" cy="680.3" r="2.4" fill="#fff" stroke="#52b852" stroke-width="1.2"/>
<circle cx="357.7" cy="677.4" r="2.4" fill="#fff" stroke="#52b852" stroke-width="1.2"/>
<circle cx="364.35" cy="672.7" r="2.4" fill="#fff" stroke="#52b852" stroke-width="1.2"/>
<circle cx="371" cy="668" r="2.4" fill="#fff" stroke="#52b852" stroke-width="1.2"/>
<circle cx="377.65" cy="658.4" r="2.4" fill="#fff" stroke="#52b852" stroke-width="1.2"/>
<circle cx="384.3" cy="647" r="2.4" fill="#fff" stroke="#52b852" stroke-width="1.2"/>
<circle cx="390.95" cy="636.5" r="2.4" fill="#fff" stroke="#52b852" stroke-width="1.2"/>
<circle cx="397.6" cy="627.7" r="2.4" fill="#fff" stroke="#52b852" stroke-width="1.2"/>
<circle cx="404.25" cy="619.9" r="2.4" fill="#fff" stroke="#52b852" stroke-width="1.2"/>
<circle cx="410.9" cy="612" r="2.4" fill="#fff" stroke="#52b852" stroke-width="1.2"/>
<circle cx="417.55" cy="606.1" r="2.4" fill="#fff" stroke="#52b852" stroke-width="1.2"/>
<circle cx="424.2" cy="598.8" r="2.4" fill="#fff" stroke="#52b852" stroke-width="1.2"/>
<circle cx="430.85" cy="596.8" r="2.4" fill="#fff" stroke="#52b852" stroke-width="1.2"/>
<circle cx="437.5" cy="595" r="2.4" fill="#fff" stroke="#52b852" stroke-width="1.2"/>
<circle cx="444.15" cy="592.7" r="2.4" fill="#fff" stroke="#52b852" stroke-width="1.2"/>
<circle cx="450.8" cy="592.7" r="2.4" fill="#fff" stroke="#52b852" stroke-width="1.2"/>
<circle cx="457.45" cy="596.8" r="2.4" fill="#fff" stroke="#52b852" stroke-width="1.2"/>
<circle cx="464.1" cy="594.5" r="2.4" fill="#fff" stroke="#52b852" stroke-width="1.2"/>
<circle cx="470.75" cy="594.5" r="2.4" fill="#fff" stroke="#52b852" stroke-width="1.2"/>
<text x="416.2" y="623.6" font-size="11.2" fill="#52b852" stroke="#52b852" stroke-width="0.22" textLength="53.1" lengthAdjust="spacingAndGlyphs" >Levodopa</text>
<text x="413.3" y="671.5" font-size="11.2" fill="#c4c4c4" stroke="#c4c4c4" stroke-width="0.22" textLength="59" lengthAdjust="spacingAndGlyphs" >Raclopride</text>
<text x="438.6" y="692" font-size="11.2" fill="#231f20" stroke="#231f20" stroke-width="0.22" textLength="33.1" lengthAdjust="spacingAndGlyphs" >Saline</text>
<text x="495.8" y="417.6" font-size="15.4" fill="#000" textLength="4.71" lengthAdjust="spacingAndGlyphs" font-weight="bold" stroke="#000" stroke-width="0.8">j</text>
<line x1="534.5" y1="420.7" x2="534.5" y2="541.1" stroke="#7a7a7a" stroke-width="1" />
<line x1="534.5" y1="541.1" x2="662.6" y2="541.1" stroke="#7a7a7a" stroke-width="1" />
<line x1="531.3" y1="421.3" x2="534.5" y2="421.3" stroke="#7a7a7a" stroke-width="1" />
<text x="526.6" y="424.9" font-size="10" fill="#231f20" stroke="#231f20" stroke-width="0.22" text-anchor="end" >20</text>
<line x1="531.3" y1="536" x2="534.5" y2="536" stroke="#7a7a7a" stroke-width="1" />
<text x="526.6" y="539.6" font-size="10" fill="#231f20" stroke="#231f20" stroke-width="0.22" text-anchor="end" >70</text>
<line x1="551.33" y1="538.1" x2="551.33" y2="541.1" stroke="#7a7a7a" stroke-width="0.9" />
<line x1="561.17" y1="538.1" x2="561.17" y2="541.1" stroke="#7a7a7a" stroke-width="0.9" />
<line x1="568.16" y1="538.1" x2="568.16" y2="541.1" stroke="#7a7a7a" stroke-width="0.9" />
<line x1="573.57" y1="538.1" x2="573.57" y2="541.1" stroke="#7a7a7a" stroke-width="0.9" />
<line x1="578" y1="538.1" x2="578" y2="541.1" stroke="#7a7a7a" stroke-width="0.9" />
<line x1="581.74" y1="538.1" x2="581.74" y2="541.1" stroke="#7a7a7a" stroke-width="0.9" />
<line x1="584.98" y1="538.1" x2="584.98" y2="541.1" stroke="#7a7a7a" stroke-width="0.9" />
<line x1="587.84" y1="538.1" x2="587.84" y2="541.1" stroke="#7a7a7a" stroke-width="0.9" />
<line x1="590.4" y1="536.1" x2="590.4" y2="541.1" stroke="#7a7a7a" stroke-width="0.9" />
<line x1="607.23" y1="538.1" x2="607.23" y2="541.1" stroke="#7a7a7a" stroke-width="0.9" />
<line x1="617.07" y1="538.1" x2="617.07" y2="541.1" stroke="#7a7a7a" stroke-width="0.9" />
<line x1="624.06" y1="538.1" x2="624.06" y2="541.1" stroke="#7a7a7a" stroke-width="0.9" />
<line x1="629.47" y1="538.1" x2="629.47" y2="541.1" stroke="#7a7a7a" stroke-width="0.9" />
<line x1="633.9" y1="538.1" x2="633.9" y2="541.1" stroke="#7a7a7a" stroke-width="0.9" />
<line x1="637.64" y1="538.1" x2="637.64" y2="541.1" stroke="#7a7a7a" stroke-width="0.9" />
<line x1="640.88" y1="538.1" x2="640.88" y2="541.1" stroke="#7a7a7a" stroke-width="0.9" />
<line x1="643.74" y1="538.1" x2="643.74" y2="541.1" stroke="#7a7a7a" stroke-width="0.9" />
<line x1="646.3" y1="536.1" x2="646.3" y2="541.1" stroke="#7a7a7a" stroke-width="0.9" />
<text x="534.6" y="553.9" font-size="10" fill="#231f20" stroke="#231f20" stroke-width="0.22" text-anchor="middle" >0.1</text>
<text x="590.6" y="553.9" font-size="10" fill="#231f20" stroke="#231f20" stroke-width="0.22" text-anchor="middle" >1</text>
<text x="646.4" y="553.9" font-size="10" fill="#231f20" stroke="#231f20" stroke-width="0.22" text-anchor="middle" >10</text>
<line x1="534.5" y1="579.9" x2="534.5" y2="700.1" stroke="#7a7a7a" stroke-width="1" />
<line x1="534.5" y1="700.1" x2="662.6" y2="700.1" stroke="#7a7a7a" stroke-width="1" />
<line x1="531.3" y1="579.9" x2="534.5" y2="579.9" stroke="#7a7a7a" stroke-width="1" />
<text x="526.6" y="583.5" font-size="10" fill="#231f20" stroke="#231f20" stroke-width="0.22" text-anchor="end" >20</text>
<line x1="531.3" y1="694.9" x2="534.5" y2="694.9" stroke="#7a7a7a" stroke-width="1" />
<text x="526.6" y="698.5" font-size="10" fill="#231f20" stroke="#231f20" stroke-width="0.22" text-anchor="end" >70</text>
<line x1="551.33" y1="697.1" x2="551.33" y2="700.1" stroke="#7a7a7a" stroke-width="0.9" />
<line x1="561.17" y1="697.1" x2="561.17" y2="700.1" stroke="#7a7a7a" stroke-width="0.9" />
<line x1="568.16" y1="697.1" x2="568.16" y2="700.1" stroke="#7a7a7a" stroke-width="0.9" />
<line x1="573.57" y1="697.1" x2="573.57" y2="700.1" stroke="#7a7a7a" stroke-width="0.9" />
<line x1="578" y1="697.1" x2="578" y2="700.1" stroke="#7a7a7a" stroke-width="0.9" />
<line x1="581.74" y1="697.1" x2="581.74" y2="700.1" stroke="#7a7a7a" stroke-width="0.9" />
<line x1="584.98" y1="697.1" x2="584.98" y2="700.1" stroke="#7a7a7a" stroke-width="0.9" />
<line x1="587.84" y1="697.1" x2="587.84" y2="700.1" stroke="#7a7a7a" stroke-width="0.9" />
<line x1="590.4" y1="695.1" x2="590.4" y2="700.1" stroke="#7a7a7a" stroke-width="0.9" />
<line x1="607.23" y1="697.1" x2="607.23" y2="700.1" stroke="#7a7a7a" stroke-width="0.9" />
<line x1="617.07" y1="697.1" x2="617.07" y2="700.1" stroke="#7a7a7a" stroke-width="0.9" />
<line x1="624.06" y1="697.1" x2="624.06" y2="700.1" stroke="#7a7a7a" stroke-width="0.9" />
<line x1="629.47" y1="697.1" x2="629.47" y2="700.1" stroke="#7a7a7a" stroke-width="0.9" />
<line x1="633.9" y1="697.1" x2="633.9" y2="700.1" stroke="#7a7a7a" stroke-width="0.9" />
<line x1="637.64" y1="697.1" x2="637.64" y2="700.1" stroke="#7a7a7a" stroke-width="0.9" />
<line x1="640.88" y1="697.1" x2="640.88" y2="700.1" stroke="#7a7a7a" stroke-width="0.9" />
<line x1="643.74" y1="697.1" x2="643.74" y2="700.1" stroke="#7a7a7a" stroke-width="0.9" />
<line x1="646.3" y1="695.1" x2="646.3" y2="700.1" stroke="#7a7a7a" stroke-width="0.9" />
<text x="534.6" y="714.2" font-size="10" fill="#231f20" stroke="#231f20" stroke-width="0.22" text-anchor="middle" >0.1</text>
<text x="590.6" y="714.2" font-size="10" fill="#231f20" stroke="#231f20" stroke-width="0.22" text-anchor="middle" >1</text>
<text x="646.4" y="714.2" font-size="10" fill="#231f20" stroke="#231f20" stroke-width="0.22" text-anchor="middle" >10</text>
<text x="505.7" y="482" font-size="11.2" fill="#231f20" stroke="#231f20" stroke-width="0.22" text-anchor="middle" textLength="64.2" lengthAdjust="spacingAndGlyphs" transform="rotate(-90 505.7 482)" >Power (−dB)</text>
<text x="505.7" y="640.3" font-size="11.2" fill="#231f20" stroke="#231f20" stroke-width="0.22" text-anchor="middle" textLength="64.2" lengthAdjust="spacingAndGlyphs" transform="rotate(-90 505.7 640.3)" >Power (−dB)</text>
<text x="538" y="423.6" font-size="11.2" fill="#231f20" stroke="#231f20" stroke-width="0.22" textLength="52.8" lengthAdjust="spacingAndGlyphs" >Pre-lesion</text>
<text x="538" y="583.9" font-size="11.2" fill="#231f20" stroke="#231f20" stroke-width="0.22" textLength="59.4" lengthAdjust="spacingAndGlyphs" >Post-lesion</text>
<text x="557.3" y="729.3" font-size="11.2" fill="#231f20" stroke="#231f20" stroke-width="0.22" textLength="82" lengthAdjust="spacingAndGlyphs" >Frequency (Hz)</text>
<polygon points="534.5,430.2 535,430.58 535.5,431.06 536,431.53 536.5,432.01 537,432.48 537.5,432.96 538,433.43 538.5,433.91 539,434.38 539.5,434.86 540,435.34 540.5,435.81 541,436.29 541.5,436.76 542,437.24 542.5,437.71 543,438.19 543.5,438.66 544,439.14 544.5,439.61 545,440.03 545.5,440.34 546,440.65 546.5,440.96 547,441.28 547.5,441.59 548,441.9 548.5,442.22 549,442.53 549.5,442.84 550,443.16 550.5,443.47 551,443.78 551.5,444.1 552,444.41 552.5,444.72 553,445.03 553.5,445.35 554,445.66 554.5,445.97 555,446.29 555.5,446.6 556,446.9 556.5,447.19 557,447.49 557.5,447.78 558,448.08 558.5,448.38 559,448.67 559.5,448.97 560,449.27 560.5,449.56 561,449.86 561.5,450.15 562,450.45 562.5,450.75 563,451.04 563.5,451.34 564,451.63 564.5,451.93 565,452.23 565.5,452.52 566,452.75 566.5,452.88 567,453.01 567.5,453.13 568,453.26 568.5,453.39 569,453.52 569.5,453.64 570,453.77 570.5,453.9 571,454.03 571.5,454.15 572,454.28 572.5,454.41 573,454.54 573.5,454.66 574,454.79 574.5,454.92 575,455.05 575.5,455.17 576,455.3 576.5,455.67 577,456.03 577.5,456.4 578,456.76 578.5,457.13 579,457.5 579.5,457.86 580,458.23 580.5,458.17 581,458 581.5,457.83 582,457.67 582.5,457.5 583,457.33 583.5,457.65 584,458.09 584.5,458.53 585,458.97 585.5,459.41 586,459.85 586.5,460.29 587,460.72 587.5,460.94 588,461 588.5,461.06 589,461.12 589.5,461.18 590,461.24 590.5,461.3 591,461.36 591.5,461.63 592,462.21 592.5,462.79 593,463.37 593.5,463.95 594,464.54 594.5,465.07 595,465.43 595.5,465.78 596,466.14 596.5,466.49 597,466.85 597.5,467.21 598,467.56 598.5,467.92 599,468.27 599.5,468.63 600,468.9 600.5,469.15 601,469.4 601.5,469.65 602,469.9 602.5,470.15 603,470.4 603.5,470.65 604,470.9 604.5,471.42 605,472.13 605.5,472.84 606,473.55 606.5,474.26 607,474.9 607.5,475.53 608,476.17 608.5,476.8 609,477.35 609.5,477.61 610,477.87 610.5,478.13 611,478.4 611.5,478.96 612,479.72 612.5,480.48 613,481.24 613.5,482 614,482.5 614.5,483 615,483.5 615.5,484 616,484.34 616.5,484.45 617,484.56 617.5,484.67 618,484.78 618.5,485.36 619,486.05 619.5,486.75 620,487.44 620.5,488.14 621,488.83 621.5,489.53 622,490.23 622.5,490.92 623,491.5 623.5,492 624,492.5 624.5,493 625,493.5 625.5,494 626,494.5 626.5,495 627,495.5 627.5,495.99 628,496.47 628.5,496.95 629,497.43 629.5,497.91 630,498.61 630.5,499.46 631,500.32 631.5,501.17 632,502.02 632.5,502.88 633,503.73 633.5,504.43 634,505.08 634.5,505.74 635,506.4 635.5,507.05 636,507.71 636.5,508.37 637,509.04 637.5,509.72 638,510.39 638.5,511.07 639,511.75 639.5,512.42 640,513.1 640.5,513.6 641,514.1 641.5,514.6 642,515.1 642.5,515.6 643,516.1 643.5,516.6 644,517.23 644.5,517.86 645,518.49 645.5,519.12 646,519.75 646.5,520.38 647,521.01 647.5,521.64 648,522.27 648.5,522.08 649,521.68 649.5,521.28 650,516.36 650.5,510.31 651,513.5 651.5,519 652,522 652.5,524.38 653,525.93 653.5,526.24 654,526.56 654.5,526.87 655,527.19 655.5,527.5 656,527.82 656.5,528.13 657,528.45 657.5,528.77 658,529.13 658.5,529.49 659,529.84 659.5,530.2 660,530.56 660.5,530.91 661,531.27 661.5,531.63 662,531.99 662.5,532.2 662.5,533.9 662,533.7 661.5,533.37 661,533.04 660.5,532.71 660,532.37 659.5,532.04 659,531.71 658.5,531.38 658,531.05 657.5,530.72 657,530.39 656.5,530.05 656,529.72 655.5,529.39 655,529.06 654.5,528.73 654,528.4 653.5,528.06 653,527.73 652.5,527.33 652,526.88 651.5,526.43 651,525.99 650.5,525.54 650,525.09 649.5,524.64 649,524.19 648.5,523.74 648,523.3 647.5,522.85 647,522.4 646.5,521.9 646,521.4 645.5,520.9 645,520.4 644.5,519.9 644,519.4 643.5,518.9 643,518.4 642.5,517.9 642,517.4 641.5,516.9 641,516.45 640.5,516.07 640,515.69 639.5,515.31 639,514.94 638.5,514.56 638,514.18 637.5,513.8 637,513.42 636.5,513.04 636,512.67 635.5,512.29 635,511.91 634.5,511.53 634,511.15 633.5,510.77 633,510.4 632.5,510.02 632,509.64 631.5,509.26 631,508.88 630.5,508.51 630,508.13 629.5,507.75 629,507.38 628.5,507.01 628,506.64 627.5,506.27 627,505.9 626.5,505.53 626,505.16 625.5,504.79 625,504.42 624.5,504.04 624,503.67 623.5,503.3 623,502.93 622.5,502.56 622,502.19 621.5,501.82 621,501.45 620.5,501.08 620,500.71 619.5,500.34 619,499.97 618.5,499.6 618,499.23 617.5,498.88 617,498.53 616.5,498.17 616,497.82 615.5,497.47 615,497.12 614.5,496.76 614,496.41 613.5,496.06 613,495.71 612.5,495.36 612,495 611.5,494.65 611,494.3 610.5,493.95 610,493.59 609.5,493.24 609,492.89 608.5,492.54 608,492.19 607.5,491.83 607,491.48 606.5,491.14 606,490.81 605.5,490.49 605,490.17 604.5,489.84 604,489.52 603.5,489.2 603,488.87 602.5,488.55 602,488.23 601.5,487.9 601,487.58 600.5,487.26 600,486.93 599.5,486.61 599,486.29 598.5,485.96 598,485.64 597.5,485.32 597,484.99 596.5,484.67 596,484.35 595.5,484.02 595,483.7 594.5,483.22 594,482.73 593.5,482.25 593,481.77 592.5,481.29 592,480.8 591.5,480.32 591,479.84 590.5,479.35 590,478.87 589.5,478.39 589,477.9 588.5,477.42 588,476.94 587.5,476.46 587,475.97 586.5,475.49 586,475.05 585.5,474.67 585,474.3 584.5,473.92 584,473.55 583.5,473.17 583,472.8 582.5,472.42 582,472.05 581.5,471.67 581,471.3 580.5,470.92 580,470.55 579.5,470.17 579,469.8 578.5,469.42 578,469.05 577.5,468.67 577,468.3 576.5,467.92 576,467.55 575.5,467.18 575,466.8 574.5,466.43 574,466.05 573.5,465.68 573,465.3 572.5,464.93 572,464.55 571.5,464.18 571,463.8 570.5,463.43 570,463.05 569.5,462.68 569,462.3 568.5,461.93 568,461.55 567.5,461.18 567,460.8 566.5,460.43 566,460.05 565.5,459.65 565,459.24 564.5,458.83 564,458.42 563.5,458 563,457.59 562.5,457.18 562,456.77 561.5,456.36 561,455.94 560.5,455.53 560,455.12 559.5,454.71 559,454.29 558.5,453.88 558,453.47 557.5,453.06 557,452.65 556.5,452.23 556,451.82 555.5,451.41 555,451 554.5,450.58 554,450.17 553.5,449.76 553,449.35 552.5,448.94 552,448.52 551.5,448.11 551,447.7 550.5,447.29 550,446.87 549.5,446.46 549,446.05 548.5,445.64 548,445.23 547.5,444.81 547,444.4 546.5,443.99 546,443.58 545.5,443.16 545,442.69 544.5,442.16 544,441.64 543.5,441.12 543,440.59 542.5,440.07 542,439.55 541.5,439.02 541,438.5 540.5,437.98 540,437.45 539.5,436.93 539,436.41 538.5,435.88 538,435.36 537.5,434.84 537,434.31 536.5,433.79 536,433.27 535.5,432.74 535,432.22 534.5,431.8" fill="#fdb0b0"/>
<polyline points="534.5,431.8 535,432.22 535.5,432.74 536,433.27 536.5,433.79 537,434.31 537.5,434.84 538,435.36 538.5,435.88 539,436.41 539.5,436.93 540,437.45 540.5,437.98 541,438.5 541.5,439.02 542,439.55 542.5,440.07 543,440.59 543.5,441.12 544,441.64 544.5,442.16 545,442.69 545.5,443.16 546,443.58 546.5,443.99 547,444.4 547.5,444.81 548,445.23 548.5,445.64 549,446.05 549.5,446.46 550,446.87 550.5,447.29 551,447.7 551.5,448.11 552,448.52 552.5,448.94 553,449.35 553.5,449.76 554,450.17 554.5,450.58 555,451 555.5,451.41 556,451.82 556.5,452.23 557,452.65 557.5,453.06 558,453.47 558.5,453.88 559,454.29 559.5,454.71 560,455.12 560.5,455.53 561,455.94 561.5,456.36 562,456.77 562.5,457.18 563,457.59 563.5,458 564,458.42 564.5,458.83 565,459.24 565.5,459.65 566,460.05 566.5,460.43 567,460.8 567.5,461.18 568,461.55 568.5,461.93 569,462.3 569.5,462.68 570,463.05 570.5,463.43 571,463.8 571.5,464.18 572,464.55 572.5,464.93 573,465.3 573.5,465.68 574,466.05 574.5,466.43 575,466.8 575.5,467.18 576,467.55 576.5,467.92 577,468.3 577.5,468.67 578,469.05 578.5,469.42 579,469.8 579.5,470.17 580,470.55 580.5,470.92 581,471.3 581.5,471.67 582,472.05 582.5,472.42 583,472.8 583.5,473.17 584,473.55 584.5,473.92 585,474.3 585.5,474.67 586,475.05 586.5,475.49 587,475.97 587.5,476.46 588,476.94 588.5,477.42 589,477.9 589.5,478.39 590,478.87 590.5,479.35 591,479.84 591.5,480.32 592,480.8 592.5,481.29 593,481.77 593.5,482.25 594,482.73 594.5,483.22 595,483.7 595.5,484.02 596,484.35 596.5,484.67 597,484.99 597.5,485.32 598,485.64 598.5,485.96 599,486.29 599.5,486.61 600,486.93 600.5,487.26 601,487.58 601.5,487.9 602,488.23 602.5,488.55 603,488.87 603.5,489.2 604,489.52 604.5,489.84 605,490.17 605.5,490.49 606,490.81 606.5,491.14 607,491.48 607.5,491.83 608,492.19 608.5,492.54 609,492.89 609.5,493.24 610,493.59 610.5,493.95 611,494.3 611.5,494.65 612,495 612.5,495.36 613,495.71 613.5,496.06 614,496.41 614.5,496.76 615,497.12 615.5,497.47 616,497.82 616.5,498.17 617,498.53 617.5,498.88 618,499.23 618.5,499.6 619,499.97 619.5,500.34 620,500.71 620.5,501.08 621,501.45 621.5,501.82 622,502.19 622.5,502.56 623,502.93 623.5,503.3 624,503.67 624.5,504.04 625,504.42 625.5,504.79 626,505.16 626.5,505.53 627,505.9 627.5,506.27 628,506.64 628.5,507.01 629,507.38 629.5,507.75 630,508.13 630.5,508.51 631,508.88 631.5,509.26 632,509.64 632.5,510.02 633,510.4 633.5,510.77 634,511.15 634.5,511.53 635,511.91 635.5,512.29 636,512.67 636.5,513.04 637,513.42 637.5,513.8 638,514.18 638.5,514.56 639,514.94 639.5,515.31 640,515.69 640.5,516.07 641,516.45 641.5,516.9 642,517.4 642.5,517.9 643,518.4 643.5,518.9 644,519.4 644.5,519.9 645,520.4 645.5,520.9 646,521.4 646.5,521.9 647,522.4 647.5,522.85 648,523.3 648.5,523.74 649,524.19 649.5,524.64 650,525.09 650.5,525.54 651,525.99 651.5,526.43 652,526.88 652.5,527.33 653,527.73 653.5,528.06 654,528.4 654.5,528.73 655,529.06 655.5,529.39 656,529.72 656.5,530.05 657,530.39 657.5,530.72 658,531.05 658.5,531.38 659,531.71 659.5,532.04 660,532.37 660.5,532.71 661,533.04 661.5,533.37 662,533.7 662.5,533.9" fill="none" stroke="#b0b0b0" stroke-width="1.4" stroke-linejoin="round" stroke-linecap="round" />
<polyline points="534.5,430.2 535,430.58 535.5,431.06 536,431.53 536.5,432.01 537,432.48 537.5,432.96 538,433.43 538.5,433.91 539,434.38 539.5,434.86 540,435.34 540.5,435.81 541,436.29 541.5,436.76 542,437.24 542.5,437.71 543,438.19 543.5,438.66 544,439.14 544.5,439.61 545,440.03 545.5,440.34 546,440.65 546.5,440.96 547,441.28 547.5,441.59 548,441.9 548.5,442.22 549,442.53 549.5,442.84 550,443.16 550.5,443.47 551,443.78 551.5,444.1 552,444.41 552.5,444.72 553,445.03 553.5,445.35 554,445.66 554.5,445.97 555,446.29 555.5,446.6 556,446.9 556.5,447.19 557,447.49 557.5,447.78 558,448.08 558.5,448.38 559,448.67 559.5,448.97 560,449.27 560.5,449.56 561,449.86 561.5,450.15 562,450.45 562.5,450.75 563,451.04 563.5,451.34 564,451.63 564.5,451.93 565,452.23 565.5,452.52 566,452.75 566.5,452.88 567,453.01 567.5,453.13 568,453.26 568.5,453.39 569,453.52 569.5,453.64 570,453.77 570.5,453.9 571,454.03 571.5,454.15 572,454.28 572.5,454.41 573,454.54 573.5,454.66 574,454.79 574.5,454.92 575,455.05 575.5,455.17 576,455.3 576.5,455.67 577,456.03 577.5,456.4 578,456.76 578.5,457.13 579,457.5 579.5,457.86 580,458.23 580.5,458.17 581,458 581.5,457.83 582,457.67 582.5,457.5 583,457.33 583.5,457.65 584,458.09 584.5,458.53 585,458.97 585.5,459.41 586,459.85 586.5,460.29 587,460.72 587.5,460.94 588,461 588.5,461.06 589,461.12 589.5,461.18 590,461.24 590.5,461.3 591,461.36 591.5,461.63 592,462.21 592.5,462.79 593,463.37 593.5,463.95 594,464.54 594.5,465.07 595,465.43 595.5,465.78 596,466.14 596.5,466.49 597,466.85 597.5,467.21 598,467.56 598.5,467.92 599,468.27 599.5,468.63 600,468.9 600.5,469.15 601,469.4 601.5,469.65 602,469.9 602.5,470.15 603,470.4 603.5,470.65 604,470.9 604.5,471.42 605,472.13 605.5,472.84 606,473.55 606.5,474.26 607,474.9 607.5,475.53 608,476.17 608.5,476.8 609,477.35 609.5,477.61 610,477.87 610.5,478.13 611,478.4 611.5,478.96 612,479.72 612.5,480.48 613,481.24 613.5,482 614,482.5 614.5,483 615,483.5 615.5,484 616,484.34 616.5,484.45 617,484.56 617.5,484.67 618,484.78 618.5,485.36 619,486.05 619.5,486.75 620,487.44 620.5,488.14 621,488.83 621.5,489.53 622,490.23 622.5,490.92 623,491.5 623.5,492 624,492.5 624.5,493 625,493.5 625.5,494 626,494.5 626.5,495 627,495.5 627.5,495.99 628,496.47 628.5,496.95 629,497.43 629.5,497.91 630,498.61 630.5,499.46 631,500.32 631.5,501.17 632,502.02 632.5,502.88 633,503.73 633.5,504.43 634,505.08 634.5,505.74 635,506.4 635.5,507.05 636,507.71 636.5,508.37 637,509.04 637.5,509.72 638,510.39 638.5,511.07 639,511.75 639.5,512.42 640,513.1 640.5,513.6 641,514.1 641.5,514.6 642,515.1 642.5,515.6 643,516.1 643.5,516.6 644,517.23 644.5,517.86 645,518.49 645.5,519.12 646,519.75 646.5,520.38 647,521.01 647.5,521.64 648,522.27 648.5,522.08 649,521.68 649.5,521.28 650,516.36 650.5,510.31 651,513.5 651.5,519 652,522 652.5,524.38 653,525.93 653.5,526.24 654,526.56 654.5,526.87 655,527.19 655.5,527.5 656,527.82 656.5,528.13 657,528.45 657.5,528.77 658,529.13 658.5,529.49 659,529.84 659.5,530.2 660,530.56 660.5,530.91 661,531.27 661.5,531.63 662,531.99 662.5,532.2" fill="none" stroke="#000" stroke-width="1.8" stroke-linejoin="round" stroke-linecap="round" />
<text x="595.8" y="446.9" font-size="11.2" fill="#f47c7c" stroke="#f47c7c" stroke-width="0.22" textLength="59.2" lengthAdjust="spacingAndGlyphs" >‘Phasic’ DA</text>
<text x="601" y="460" font-size="11.2" fill="#f47c7c" stroke="#f47c7c" stroke-width="0.22" textLength="49" lengthAdjust="spacingAndGlyphs" >signaling</text>
<text x="627.4" y="490.7" font-size="11.2" fill="#231f20" stroke="#231f20" stroke-width="0.22" textLength="33.4" lengthAdjust="spacingAndGlyphs" >Saline</text>
<text x="578.8" y="528.7" font-size="11.2" fill="#bdbdbd" stroke="#bdbdbd" stroke-width="0.22" textLength="58" lengthAdjust="spacingAndGlyphs" >Raclopride</text>
<polyline points="534.3,590.8 543.8,601.7 559.6,615.3 579.3,631 599,646.8 618.7,662.6 636.4,675.6 642,679.5 650,684.5 656.1,689.6 662.3,694.5" fill="none" stroke="#bdbdbd" stroke-width="1.5" stroke-linejoin="round" stroke-linecap="round" />
<polyline points="534.3,590.8 543.8,601.7 559.6,616.3 579.3,632 599,647.8 618.7,663.6 636.4,675.6 640.4,677.8 646,676.5 648.4,673.5 649.3,670.5 650.3,684.5 656.1,689.8 662.3,694.6" fill="none" stroke="#000" stroke-width="1.7" stroke-linejoin="round" stroke-linecap="round" />
<polyline points="534.3,590.8 543.8,601.7 559.6,615 579.3,630.7 599,646.5 618.7,662.3 636.4,675.6 640,676 642,673.8 644,676 646.5,672.6 648.2,672 650,680 652,684 656.1,688.6 662.3,693.6" fill="none" stroke="#5cbf5c" stroke-width="1.7" stroke-linejoin="round" stroke-linecap="round" />
<text x="539.8" y="659.3" font-size="11.2" fill="#231f20" stroke="#231f20" stroke-width="0.22" textLength="33" lengthAdjust="spacingAndGlyphs" >Saline</text>
<text x="539.8" y="672.4" font-size="11.2" fill="#bdbdbd" stroke="#bdbdbd" stroke-width="0.22" textLength="58.6" lengthAdjust="spacingAndGlyphs" >Raclopride</text>
<text x="539.8" y="685.5" font-size="11.2" fill="#5cbf5c" stroke="#5cbf5c" stroke-width="0.22" textLength="52.6" lengthAdjust="spacingAndGlyphs" >Levodopa</text>
</svg></body></html>
